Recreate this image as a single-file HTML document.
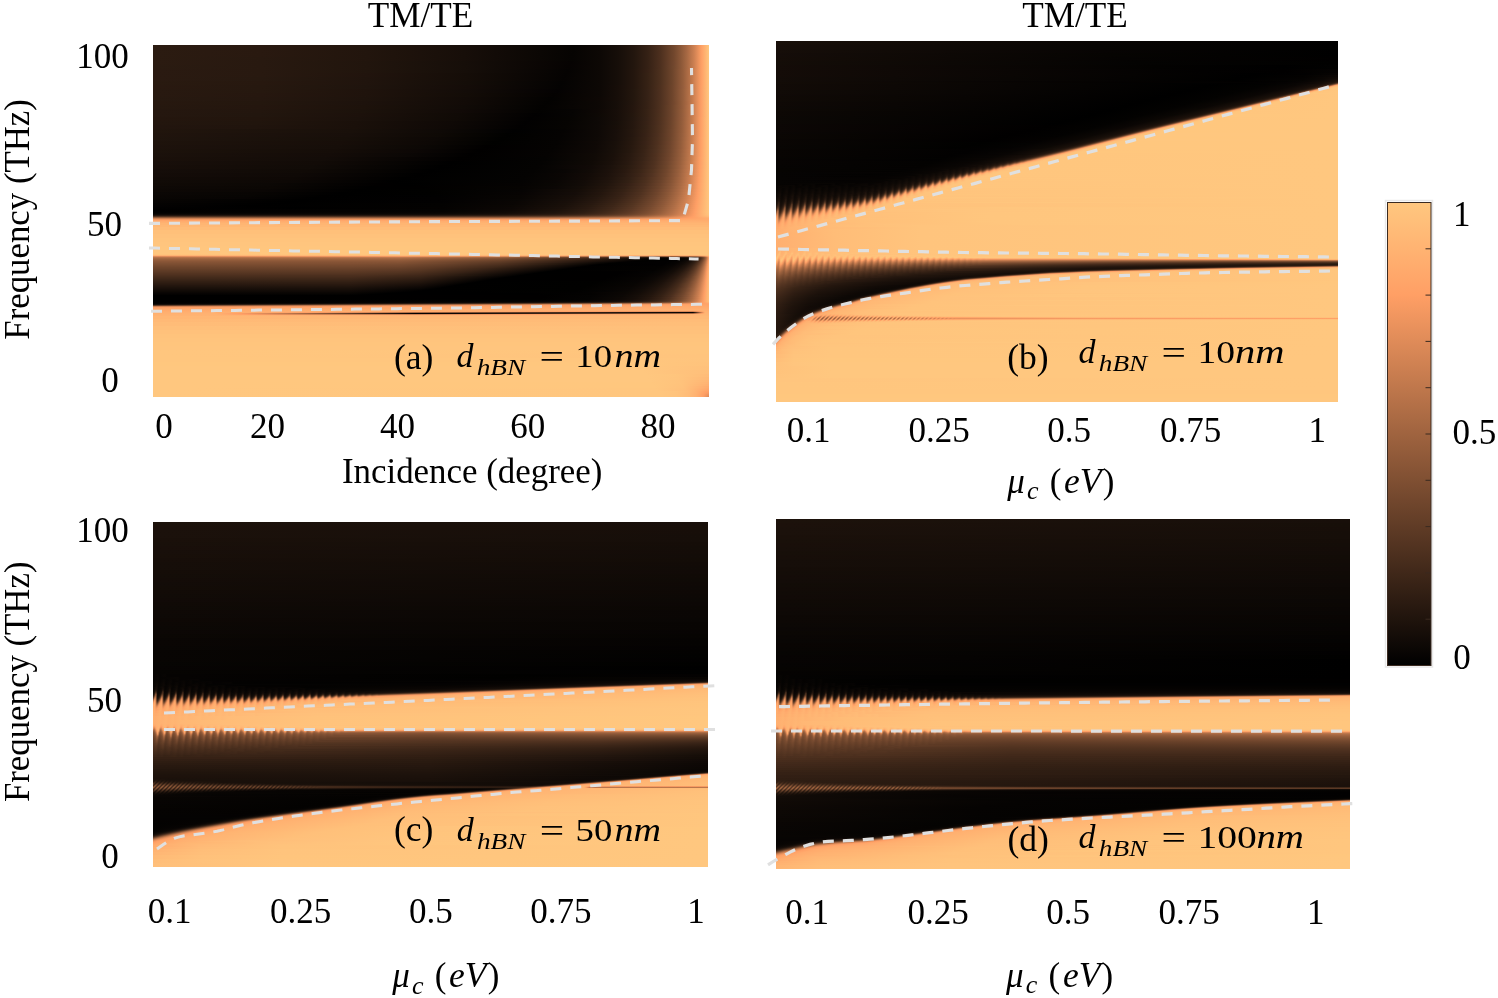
<!DOCTYPE html>
<html lang="en"><head><meta charset="utf-8"><title>TM/TE figure</title>
<style>
html,body{margin:0;padding:0;background:#fff}
body{width:1498px;height:998px;position:relative;overflow:hidden}
.p{position:absolute;overflow:hidden}
.p i{display:block;height:1px;width:100%}
.ov{position:absolute;left:0;top:0}
</style></head><body>
<div class="p" style="left:153px;top:45px;width:556px;height:352px">
<i style="height:4px;background:linear-gradient(90deg,#2b1b11 0,#291910 108px,#22150d 214px,#170e09 312px,#060402 420px,#0d0805 447px,#160e09 465px,#23160e 481px,#352115 495px,#4c2f1e 507px,#72472d 521px,#8c5838 528px,#a76843 534px,#cd8052 541px,#fc9e64 548px,#ffa267 549px,#ffc77f 556px)"></i>
<i style="height:4px;background:linear-gradient(90deg,#2b1b11 0,#291910 108px,#22150d 214px,#170e09 311px,#060402 420px,#0d0805 447px,#160e09 465px,#23160e 481px,#352115 495px,#4c2f1e 507px,#72472d 521px,#8c5838 528px,#a76843 534px,#cd8052 541px,#fc9e64 548px,#ffa267 549px,#ffc77f 556px)"></i>
<i style="height:4px;background:linear-gradient(90deg,#2b1b11 0,#291910 108px,#22150d 214px,#170e09 311px,#060402 419px,#0d0805 447px,#160e09 465px,#23160e 481px,#352115 495px,#4c2f1e 507px,#72472d 521px,#8c5838 528px,#a76943 534px,#cd8052 541px,#fc9e64 548px,#ffa267 549px,#ffc77f 556px)"></i>
<i style="height:4px;background:linear-gradient(90deg,#2b1b11 0,#281910 109px,#22150d 214px,#170e09 311px,#060402 419px,#0d0805 447px,#160e09 465px,#23160e 481px,#352115 495px,#4c2f1e 507px,#72472d 521px,#8c5838 528px,#a76943 534px,#cd8052 541px,#fc9e64 548px,#ffa267 549px,#ffc77f 556px)"></i>
<i style="height:4px;background:linear-gradient(90deg,#2b1b11 0,#281910 109px,#21150d 214px,#160e09 312px,#060302 418px,#0d0805 447px,#160e09 465px,#23160e 481px,#352115 495px,#4c2f1e 507px,#72472e 521px,#8c5838 528px,#a76943 534px,#cd8052 541px,#fc9e64 548px,#ffa267 549px,#ffc77f 556px)"></i>
<i style="height:4px;background:linear-gradient(90deg,#2a1b11 0,#281910 109px,#21150d 214px,#160e09 313px,#060302 416px,#0d0805 447px,#160e09 465px,#23160e 481px,#352115 495px,#4c2f1e 507px,#72482e 521px,#8c5838 528px,#a76943 534px,#cd8052 541px,#fc9e64 548px,#ffa267 549px,#ffc77f 556px)"></i>
<i style="height:4px;background:linear-gradient(90deg,#2a1a11 0,#281910 109px,#21150d 214px,#160e09 313px,#050302 415px,#0d0805 447px,#160e09 465px,#24160e 481px,#362115 495px,#4c301e 507px,#6c442b 519px,#955d3b 530px,#c2794d 539px,#fc9e64 548px,#ffa267 549px,#ffc77f 556px)"></i>
<i style="height:4px;background:linear-gradient(90deg,#2a1a11 0,#281910 109px,#21140d 214px,#150d08 314px,#050302 413px,#0d0805 447px,#160e09 465px,#24160e 481px,#362215 495px,#4c301e 507px,#6c442b 519px,#955d3b 530px,#c2794d 539px,#fc9e64 548px,#ffa267 549px,#ffc77f 556px)"></i>
<i style="height:4px;background:linear-gradient(90deg,#2a1a11 0,#271910 109px,#20140d 214px,#150d08 314px,#050302 411px,#0d0805 447px,#160e09 465px,#24160e 481px,#362215 495px,#4c301e 507px,#6c442b 519px,#955d3b 530px,#c2794d 539px,#fc9e64 548px,#ffa267 549px,#ffc77f 556px)"></i>
<i style="height:4px;background:linear-gradient(90deg,#291a10 0,#27180f 109px,#20140d 214px,#140d08 315px,#040302 409px,#0d0805 447px,#160e09 465px,#24160e 481px,#362215 495px,#4c301e 507px,#6c442b 519px,#955d3b 530px,#c2794d 539px,#fc9e64 548px,#ffa267 549px,#ffc77f 556px)"></i>
<i style="height:4px;background:linear-gradient(90deg,#291910 0,#26180f 109px,#1f140d 214px,#140c08 315px,#040302 407px,#0d0805 447px,#170e09 465px,#24160e 481px,#362215 495px,#4d301e 507px,#6d442b 519px,#955d3c 530px,#c2794d 539px,#fd9e64 548px,#ffc77f 556px)"></i>
<i style="height:4px;background:linear-gradient(90deg,#281910 0,#26180f 109px,#1f130c 214px,#130c08 315px,#040202 404px,#0d0805 447px,#170e09 465px,#24170e 481px,#362216 495px,#4d301f 507px,#6d442b 519px,#965e3c 530px,#c27a4d 539px,#fd9e65 548px,#ffc77f 556px)"></i>
<i style="height:4px;background:linear-gradient(90deg,#281910 0,#26170f 108px,#1f130c 213px,#130c07 314px,#040201 401px,#0d0805 447px,#170e09 465px,#24170e 481px,#362216 495px,#4d301f 507px,#6d442b 519px,#965e3c 530px,#c37a4d 539px,#fd9e65 548px,#ffc77f 556px)"></i>
<i style="height:4px;background:linear-gradient(90deg,#271910 0,#25170f 108px,#1e130c 213px,#120b07 314px,#030201 398px,#0e0805 447px,#170e09 465px,#24170e 481px,#362216 495px,#4d301f 507px,#6d442b 519px,#965e3c 530px,#c37a4e 539px,#fd9e65 548px,#ffc77f 556px)"></i>
<i style="height:4px;background:linear-gradient(90deg,#27180f 0,#24170e 108px,#1d120c 212px,#120b07 313px,#030201 394px,#0d0805 446px,#160e09 464px,#23160e 480px,#352115 494px,#4b2f1e 506px,#5f3b26 514px,#74482e 521px,#8e5938 528px,#a96943 534px,#cf8152 541px,#fd9e65 548px,#ffc77f 556px)"></i>
<i style="height:4px;background:linear-gradient(90deg,#26180f 0,#24160e 107px,#1d120b 211px,#110b07 311px,#030201 390px,#0d0805 446px,#160e09 464px,#24160e 480px,#352115 494px,#4b2f1e 506px,#6b432a 518px,#925b3a 529px,#c37a4e 539px,#fd9e65 548px,#ffc77f 556px)"></i>
<i style="height:4px;background:linear-gradient(90deg,#25170f 0,#23160e 107px,#1c120b 210px,#110a07 309px,#030201 386px,#060403 420px,#0e0805 446px,#170e09 464px,#24160e 480px,#362215 494px,#4c2f1e 506px,#6b432b 518px,#935c3a 529px,#c47a4e 539px,#fd9e65 548px,#ffc77f 556px)"></i>
<i style="height:4px;background:linear-gradient(90deg,#25170f 0,#22160e 106px,#1c110b 208px,#100a06 306px,#020101 382px,#060403 419px,#0e0905 446px,#170e09 464px,#24170e 480px,#362215 494px,#4c301e 506px,#6b432b 518px,#935c3b 529px,#c47a4e 539px,#fd9e65 548px,#ffc77f 556px)"></i>
<i style="height:4px;background:linear-gradient(90deg,#24160e 0,#22150d 105px,#1b110b 206px,#100a06 303px,#020101 377px,#060402 417px,#0e0906 446px,#170e09 464px,#24170f 480px,#362216 494px,#4d301e 506px,#6c432b 518px,#945c3b 529px,#c47b4e 539px,#fe9f65 548px,#ffc77f 556px)"></i>
<i style="height:4px;background:linear-gradient(90deg,#23160e 0,#21150d 104px,#1a100a 204px,#0f0906 300px,#020101 372px,#060402 415px,#0e0906 446px,#170f09 464px,#25170f 480px,#372216 494px,#4d301f 506px,#6c442b 518px,#945d3b 529px,#c57b4e 539px,#fe9f65 548px,#ffc77f 556px)"></i>
<i style="height:4px;background:linear-gradient(90deg,#22150e 0,#20140d 103px,#1a100a 202px,#0f0906 296px,#020101 367px,#060402 413px,#0e0906 445px,#180f09 464px,#25170f 480px,#372316 494px,#4e311f 506px,#6d442b 518px,#955d3b 529px,#c57b4f 539px,#fe9f65 548px,#ffc77f 556px)"></i>
<i style="height:4px;background:linear-gradient(90deg,#21150d 0,#19100a 199px,#0e0906 292px,#010101 361px,#050302 411px,#0e0906 445px,#180f0a 464px,#26180f 480px,#382316 494px,#4e311f 506px,#6e452c 518px,#955d3b 529px,#c67c4f 539px,#ff9f65 548px,#ffc77f 556px)"></i>
<i style="height:4px;background:linear-gradient(90deg,#20140d 0,#180f0a 196px,#0e0905 287px,#010100 354px,#050302 408px,#0e0906 445px,#180f0a 463px,#25170f 479px,#372216 493px,#4d301f 505px,#6f452c 518px,#965e3c 529px,#c67c4f 539px,#ff9f66 548px,#ffc77f 556px)"></i>
<i style="height:4px;background:linear-gradient(90deg,#1f140d 0,#170f09 193px,#0d0805 282px,#010100 348px,#050302 406px,#0e0906 444px,#180f0a 463px,#26180f 479px,#382316 493px,#4e311f 505px,#6c442b 517px,#935c3b 528px,#c2794d 538px,#ffa066 548px,#ffc77f 556px)"></i>
<i style="height:4px;background:linear-gradient(90deg,#1e130c 0,#170e09 189px,#0d0805 276px,#010100 341px,#050302 404px,#0f0906 444px,#19100a 463px,#27180f 479px,#392317 493px,#4f311f 505px,#6e442c 517px,#945d3b 528px,#c37a4d 538px,#ffa066 548px,#ffc77f 556px)"></i>
<i style="height:4px;background:linear-gradient(90deg,#1d120c 0,#160e09 185px,#0c0805 270px,#010000 333px,#050302 401px,#0f0906 443px,#19100a 462px,#27180f 478px,#382316 492px,#4e311f 504px,#6f452c 517px,#955d3b 528px,#c47a4e 538px,#ffa066 548px,#ffc77f 556px)"></i>
<i style="height:4px;background:linear-gradient(90deg,#1c120b 0,#150d08 181px,#0c0705 264px,#010000 325px,#050302 398px,#0f0906 442px,#19100a 461px,#26180f 477px,#382316 491px,#4f3220 504px,#70462d 517px,#975e3c 528px,#c57b4e 538px,#ffa166 548px,#ffc77f 556px)"></i>
<i style="height:4px;background:linear-gradient(90deg,#1b110b 0,#140c08 176px,#0b0705 255px,#010000 317px,#050302 395px,#100a06 442px,#1a100a 461px,#281910 477px,#392417 491px,#4f311f 503px,#6f452c 516px,#945d3b 527px,#c1794d 537px,#ffa167 548px,#ffc77f 556px)"></i>
<i style="height:4px;background:linear-gradient(90deg,#1a100a 0,#130c08 171px,#010000 308px,#040302 392px,#100a06 441px,#1a100a 460px,#281910 476px,#392417 490px,#503220 503px,#71462d 516px,#965e3c 527px,#c27a4d 537px,#fc9e64 547px,#ffa267 548px,#ffc77f 556px)"></i>
<i style="height:4px;background:linear-gradient(90deg,#180f0a 0,#120b07 165px,#000 298px,#040302 388px,#100a06 439px,#1a100a 458px,#281910 475px,#3a2417 489px,#503220 502px,#70462d 515px,#985f3c 527px,#c47b4e 537px,#fd9e65 547px,#ffc77f 556px)"></i>
<i style="height:4px;background:linear-gradient(90deg,#170e09 0,#110b07 159px,#000 287px,#040302 384px,#110a07 438px,#1b110b 457px,#291a10 474px,#3a2417 488px,#503220 501px,#6f462c 514px,#965e3c 526px,#c67c4f 537px,#fe9f65 547px,#ffc77f 556px)"></i>
<i style="height:4px;background:linear-gradient(90deg,#150d09 0,#100a06 153px,#000 276px,#040302 380px,#090604 412px,#110b07 437px,#1c110b 456px,#291910 472px,#3b2517 487px,#513320 500px,#72472d 514px,#99603d 526px,#c87d50 537px,#ffa066 547px,#ffc77f 556px)"></i>
<i style="height:4px;background:linear-gradient(90deg,#140c08 0,#0f0906 145px,#000 264px,#040302 375px,#0a0604 409px,#120b07 435px,#1c110b 454px,#2a1a11 471px,#3c2518 486px,#523321 499px,#72472d 513px,#985f3d 525px,#c67c4f 536px,#ffa166 547px,#ffc77f 556px)"></i>
<i style="height:3px;background:linear-gradient(90deg,#120b07 0,#0e0805 139px,#000 251px,#040302 370px,#090604 405px,#120b07 433px,#1f130c 456px,#311f14 476px,#4a2e1d 493px,#684129 508px,#845234 518px,#a66842 528px,#cd8052 537px,#fd9e65 546px,#ffa267 547px,#ffc77f 556px)"></i>
<i style="height:3px;background:linear-gradient(90deg,#110b07 0,#0d0805 133px,#000 240px,#040302 367px,#0a0604 403px,#130c08 432px,#20140d 455px,#322014 475px,#4c301e 493px,#6b432b 508px,#865435 518px,#a96943 528px,#cf8152 537px,#fe9f65 546px,#ffc77f 556px)"></i>
<i style="height:3px;background:linear-gradient(90deg,#100a06 0,#0c0805 114px,#010000 225px,#000 254px,#050302 368px,#0a0704 402px,#130c08 430px,#21150d 454px,#342015 474px,#4d301f 492px,#6c432b 507px,#895637 518px,#ab6b44 528px,#d18353 537px,#ffa066 546px,#ffc77f 556px)"></i>
<i style="height:3px;background:linear-gradient(90deg,#0e0906 0,#0b0704 119px,#000 216px,#010000 267px,#060402 369px,#0b0705 402px,#140d08 428px,#22150d 452px,#342115 472px,#4d301f 490px,#6c442b 506px,#895637 517px,#aa6b44 527px,#cf8152 536px,#ffa166 546px,#ffc77f 556px)"></i>
<i style="height:3px;background:linear-gradient(90deg,#0d0805 0,#0a0604 111px,#000 203px,#010100 276px,#060403 369px,#150d08 426px,#23160e 450px,#362215 471px,#4e311f 489px,#6e442c 505px,#8a5637 516px,#aa6a44 526px,#d28353 536px,#fd9e65 545px,#ffc77f 556px)"></i>
<i style="height:3px;background:linear-gradient(90deg,#0b0705 0,#080503 102px,#000 188px,#010100 280px,#070403 368px,#150d09 423px,#24160e 448px,#372216 469px,#503220 488px,#6f452c 504px,#8b5737 515px,#ad6c45 526px,#d48555 536px,#ff9f65 545px,#ffc77f 556px)"></i>
<i style="height:2px;background:linear-gradient(90deg,#0a0604 0,#070503 96px,#000 173px,#010101 283px,#080503 367px,#160e09 421px,#24170e 446px,#372216 467px,#503220 486px,#70462d 503px,#8b5737 514px,#ad6c45 525px,#cf8152 534px,#ffa066 545px,#ffc77f 556px)"></i>
<i style="height:2px;background:linear-gradient(90deg,#090604 0,#070403 89px,#000 161px,#020101 285px,#080503 366px,#170e09 419px,#25170f 444px,#382316 466px,#513320 485px,#71462d 502px,#8b5737 513px,#ac6c45 524px,#d18253 534px,#fd9e65 544px,#ffc77f 556px)"></i>
<i style="height:2px;background:linear-gradient(90deg,#080503 0,#000 148px,#020101 287px,#090604 365px,#180f0a 418px,#26180f 443px,#3a2417 465px,#533421 484px,#72472d 501px,#8e5939 513px,#af6d46 524px,#d38454 534px,#fe9f65 544px,#ffc77f 556px)"></i>
<i style="height:2px;background:linear-gradient(90deg,#070403 0,#000 133px,#020101 288px,#0a0604 364px,#190f0a 416px,#271810 441px,#3a2417 463px,#543421 483px,#73482e 500px,#8f5939 512px,#ae6d45 523px,#d18353 533px,#ffa066 544px,#ffc77f 556px)"></i>
<i style="height:2px;background:linear-gradient(90deg,#050302 0,#000 117px,#030201 288px,#0a0604 362px,#19100a 413px,#281910 439px,#3b2517 461px,#543521 481px,#74482e 499px,#8f5939 511px,#ae6d45 522px,#d48454 533px,#fd9e65 543px,#ffc77f 556px)"></i>
<i style="height:2px;background:linear-gradient(90deg,#040202 0,#000 98px,#030201 288px,#0b0704 360px,#1a100a 411px,#291a10 437px,#3d2618 460px,#563622 480px,#75492f 498px,#905a39 510px,#b16f47 522px,#d68655 533px,#ff9f65 543px,#ffc77f 556px)"></i>
<i style="height:2px;background:linear-gradient(90deg,#020101 0,#000 139px,#040201 289px,#0c0705 359px,#1b110b 409px,#2a1a11 435px,#3e2719 458px,#583723 479px,#774a2f 497px,#915b3a 509px,#b16f47 521px,#d28353 531px,#ffa066 543px,#ffc77f 556px)"></i>
<i style="height:2px;background:linear-gradient(90deg,#010000 0,#040302 290px,#0d0805 358px,#1d120b 407px,#2c1c12 434px,#402819 457px,#5a3824 478px,#784b30 496px,#925b3a 508px,#b26f47 520px,#d48555 531px,#fe9f65 542px,#ffc77f 556px)"></i>
<i style="background:linear-gradient(90deg,#010100 0,#050302 288px,#0e0906 355px,#1e130c 405px,#2d1c12 432px,#41291a 455px,#5a3824 476px,#7a4c30 495px,#955d3b 508px,#b47148 520px,#d78655 531px,#ffa066 542px,#ffc77f 556px)"></i>
<i style="background:linear-gradient(90deg,#020101 0,#070403 285px,#0f0a06 353px,#1f140c 403px,#2e1d12 430px,#432a1a 454px,#5c3924 475px,#7a4c31 494px,#955d3b 507px,#b47048 519px,#d58555 530px,#ffa066 542px,#ffc77f 556px)"></i>
<i style="background:linear-gradient(90deg,#060402 0,#0a0704 283px,#130c08 351px,#23160e 402px,#321f14 429px,#462c1c 453px,#603c26 475px,#7e4f32 494px,#995f3d 507px,#b77249 519px,#d78656 530px,#fd9e65 541px,#ffc67e 556px)"></i>
<i style="background:linear-gradient(90deg,#0f0906 0,#140c08 281px,#1c120b 349px,#2c1b11 400px,#3b2517 428px,#4e311f 452px,#664029 474px,#835234 493px,#9c623e 506px,#b87349 518px,#da8857 530px,#ff9f65 541px,#ffc57e 556px)"></i>
<i style="background:linear-gradient(90deg,#25170f 0,#2a1a11 278px,#311f14 347px,#3f2819 398px,#4d301f 426px,#5e3b25 450px,#74482e 472px,#8f5939 492px,#bf774c 517px,#da8857 528px,#ffa066 541px,#ffc27c 556px)"></i>
<i style="background:linear-gradient(90deg,#513320 0,#553522 275px,#5b3924 344px,#664029 396px,#71472d 424px,#7f5033 449px,#915b3a 471px,#a66842 491px,#ce8152 517px,#ffa066 540px,#ffbc78 556px)"></i>
<i style="background:linear-gradient(90deg,#905a39 0,#925b3a 272px,#965e3c 341px,#9e633f 393px,#ae6d45 447px,#c87d4f 490px,#e08c59 515px,#ff9f65 538px,#ffb372 556px)"></i>
<i style="background:linear-gradient(90deg,#cb7f51 0,#cc8051 264px,#d28354 384px,#da8857 442px,#e7915c 487px,#ffa066 531px,#ffad6e 556px)"></i>
<i style="background:linear-gradient(90deg,#f39861 0,#f79b62 408px,#ffa066 494px,#ffac6d 556px)"></i>
<i style="background:linear-gradient(90deg,#ffa569 0,#ffa66a 407px,#ffad6e 556px)"></i>
<i style="background:linear-gradient(90deg,#ffac6e 0,#ffaf70 556px)"></i>
<i style="background:linear-gradient(90deg,#ffb070 0,#ffb271 556px)"></i>
<i style="height:2px;background:#ffb573"></i>
<i style="height:2px;background:#ffb875"></i>
<i style="height:3px;background:#ffbc78"></i>
<i style="height:4px;background:#ffc07a"></i>
<i style="height:4px;background:#ffc27c"></i>
<i style="height:4px;background:#ffc47d"></i>
<i style="height:4px;background:#ffc57e"></i>
<i style="height:4px;background:#ffc67e"></i>
<i style="height:4px;background:#ffc67e"></i>
<i style="background:linear-gradient(90deg,#ffc37c 0,#ffc67e 556px)"></i>
<i style="background:linear-gradient(90deg,#ffb372 0,#fb7 247px,#ffb171 507px,#ffb473 545px,#ffb976 551px,#ffc37c 556px)"></i>
<i style="background:linear-gradient(90deg,#de8a58 0,#f29760 247px,#df8c59 347px,#b97349 447px,#945d3b 507px,#9b613e 533px,#a66842 543px,#b87349 548px,#ce8152 551px,#e6905c 553px,#f69a62 554px,#ffa66a 555px,#ffb573 556px)"></i>
<i style="background:linear-gradient(90deg,#b67249 0,#be774c 247px,#9c623e 347px,#573623 447px,#1b110b 507px,#1d120b 519px,#24170e 536px,#2e1d12 541px,#402819 545px,#583723 548px,#70462d 550px,#805033 551px,#ab6b44 553px,#c77c4f 554px,#e8915c 555px,#ffaa6c 556px)"></i>
<i style="background:linear-gradient(90deg,#a46741 0,#a86943 247px,#835234 347px,#3c2518 443px,#0a0604 496px,#030201 507px,#040302 521px,#080503 531px,#0f0a06 537px,#1b110b 541px,#301e13 545px,#4c2f1e 548px,#684129 550px,#7a4c30 551px,#a76943 553px,#c47b4e 554px,#e7905c 555px,#ffa96c 556px)"></i>
<i style="background:linear-gradient(90deg,#99603d 0,#9b613e 247px,#75492f 347px,#3d2618 424px,#090604 486px,#010100 503px,#020101 520px,#050302 529px,#0c0805 535px,#19100a 540px,#2e1c12 544px,#472d1c 547px,#70462c 550px,#975e3c 552px,#af6d46 553px,#cb7f51 554px,#ec945e 555px,#ffab6d 556px)"></i>
<i style="background:linear-gradient(90deg,#915b3a 0,#915b3a 247px,#6b432a 347px,#050302 483px,#010100 494px,#010101 518px,#050302 527px,#0d0805 534px,#1a100a 539px,#2e1d12 543px,#3c2618 545px,#503220 547px,#794b30 550px,#9f643f 552px,#b77249 553px,#f19760 555px,#ffad6e 556px)"></i>
<i style="background:linear-gradient(90deg,#8a5637 0,#8a5637 247px,#623d27 347px,#040201 475px,#010100 482px,#020101 516px,#050302 525px,#0d0805 532px,#1c110b 538px,#2e1d12 542px,#4d301f 546px,#72472d 549px,#935c3b 551px,#be774c 553px,#f69a62 555px,#ffaf70 556px)"></i>
<i style="background:linear-gradient(90deg,#855335 0,#845234 247px,#5a3924 347px,#2f1d13 408px,#0e0906 447px,#020101 466px,#020101 514px,#070403 525px,#100a06 532px,#1d120b 537px,#342115 542px,#553522 546px,#7a4c30 549px,#af6d45 552px,#de8b58 554px,#fb9d64 555px,#ffb170 556px)"></i>
<i style="background:linear-gradient(90deg,#7f5033 0,#815033 197px,#7e4f32 247px,#6e452c 290px,#533421 347px,#010100 456px,#020101 512px,#060402 522px,#0f0906 530px,#1e130c 536px,#342115 541px,#523321 545px,#73482e 548px,#915a3a 550px,#b57148 552px,#e38e5a 554px,#fe9f65 555px,#ffb271 556px)"></i>
<i style="background:linear-gradient(90deg,#7b4d31 0,#7c4d31 197px,#784b30 247px,#68412a 290px,#4d301f 347px,#24170e 403px,#000 446px,#020101 510px,#070403 521px,#100a06 529px,#1f130c 535px,#342115 540px,#503220 544px,#633e27 546px,#7a4d31 548px,#975f3c 550px,#bb754b 552px,#ffa167 555px,#ffb372 556px)"></i>
<i style="background:linear-gradient(90deg,#764a2f 0,#774a2f 197px,#73482e 247px,#633e27 290px,#462c1c 347px,#000 439px,#020101 508px,#070403 519px,#100a06 527px,#20140d 534px,#342115 539px,#4e311f 543px,#75492e 547px,#8f5939 549px,#ae6d45 551px,#d58555 553px,#ffa368 555px,#ffb473 556px)"></i>
<i style="background:linear-gradient(90deg,#71472d 0,#73482e 197px,#6f452c 247px,#5f3b26 288px,#41291a 345px,#010000 431px,#030201 507px,#080503 518px,#110a07 526px,#21140d 533px,#342115 538px,#543521 543px,#7b4d31 547px,#955d3b 549px,#b47148 551px,#f0965f 554px,#ffa569 555px,#ffb573 556px)"></i>
<i style="background:linear-gradient(90deg,#6d442b 0,#6e452c 197px,#6a422a 247px,#5d3a25 281px,#402819 338px,#000 424px,#030201 505px,#080503 516px,#120b07 525px,#21150d 532px,#392417 538px,#5a3824 543px,#764a2f 546px,#8d5838 548px,#b9744a 551px,#f39861 554px,#ffa66a 555px,#ffb674 556px)"></i>
<i style="background:linear-gradient(90deg,#69422a 0,#6a422a 197px,#653f28 247px,#5c3924 274px,#3d2618 332px,#000 417px,#030201 503px,#090503 515px,#130c07 524px,#22150e 531px,#392417 537px,#4a2e1d 540px,#5f3c26 543px,#7c4d31 546px,#935c3a 548px,#be774c 551px,#f69a62 554px,#ffa86b 555px,#ffb774 556px)"></i>
<i style="background:linear-gradient(90deg,#653f28 0,#663f28 197px,#603c26 247px,#5a3824 267px,#3c2618 325px,#000 410px,#030201 502px,#090604 514px,#140c08 523px,#23160e 530px,#392317 536px,#492d1d 539px,#5d3a25 542px,#774a2f 545px,#8c5838 547px,#a56742 549px,#c37a4d 551px,#f99c63 554px,#ffa96c 555px,#ffb775 556px)"></i>
<i style="background:linear-gradient(90deg,#603c26 0,#613d27 197px,#5c3925 247px,#563622 267px,#3a2417 319px,#000 403px,#040201 500px,#090604 512px,#130c07 521px,#23160e 529px,#382316 535px,#5b3924 541px,#73482e 544px,#915b3a 547px,#c77c4f 551px,#fc9d64 554px,#ffb875 556px)"></i>
<i style="background:linear-gradient(90deg,#5c3a25 0,#5d3a25 197px,#573623 247px,#513320 267px,#382316 314px,#000 395px,#010000 471px,#040302 499px,#0a0604 511px,#150d08 521px,#27180f 529px,#3d2618 535px,#5f3c26 541px,#784b30 544px,#965e3c 547px,#cb7f51 551px,#fe9f65 554px,#ffb976 556px)"></i>
<i style="background:linear-gradient(90deg,#583723 0,#593823 197px,#533421 247px,#4d301e 267px,#372216 308px,#000 388px,#010000 468px,#040302 497px,#0a0604 509px,#140d08 519px,#24170e 527px,#3c2618 534px,#5d3a25 540px,#74482e 543px,#905a39 546px,#c0784c 550px,#ffa066 554px,#ffb976 556px)"></i>
<i style="background:linear-gradient(90deg,#543421 0,#553522 197px,#4e311f 247px,#482d1d 267px,#342115 303px,#000 381px,#010000 466px,#050302 496px,#0b0704 508px,#150d08 518px,#25170f 526px,#3c2518 533px,#4f3120 537px,#623d27 540px,#784b30 543px,#945d3b 546px,#c47a4e 550px,#ffa267 554px,#ffba76 556px)"></i>
<i style="background:linear-gradient(90deg,#503220 0,#513220 197px,#4b2f1e 239px,#442a1b 267px,#392417 287px,#000 374px,#010000 463px,#050302 494px,#0b0704 507px,#160e09 517px,#25170f 525px,#3c2518 532px,#4e311f 536px,#664029 540px,#7d4e32 543px,#985f3d 546px,#c77d4f 550px,#f49861 553px,#ffa368 554px,#ffba77 556px)"></i>
<i style="background:linear-gradient(90deg,#4c2f1e 0,#4b2f1e 209px,#3f2719 267px,#26180f 311px,#000 367px,#010000 460px,#050302 493px,#0c0705 506px,#170e09 516px,#281910 525px,#3f2819 532px,#523321 536px,#6a422a 540px,#815133 543px,#9c623e 546px,#cb7f51 550px,#f69a62 553px,#ffa468 554px,#fb7 556px)"></i>
<i style="background:linear-gradient(90deg,#472d1c 0,#492d1d 197px,#3b2517 267px,#000 360px,#010000 457px,#050302 491px,#0c0705 504px,#170e09 515px,#291910 524px,#3f2719 531px,#513220 535px,#684129 539px,#975e3c 545px,#c1794d 549px,#f89b63 553px,#ffa569 554px,#fb7 556px)"></i>
<i style="background:linear-gradient(90deg,#432a1b 0,#442b1b 197px,#362216 267px,#000 352px,#010000 454px,#060402 490px,#0c0805 503px,#180f09 514px,#291a10 523px,#3e2719 530px,#503220 534px,#653f28 538px,#815133 542px,#9a613d 545px,#c57b4e 549px,#fa9c64 553px,#ffa66a 554px,#ffbc77 556px)"></i>
<i style="background:linear-gradient(90deg,#3f2819 0,#40281a 197px,#321f14 267px,#000 345px,#010000 452px,#060402 489px,#0d0805 502px,#180f0a 513px,#291a10 522px,#3e2719 529px,#633e27 537px,#7d4e32 541px,#955d3b 544px,#c87d4f 549px,#fc9e64 553px,#ffbc78 556px)"></i>
<i style="background:linear-gradient(90deg,#3b2518 0,#3c2618 197px,#2e1c12 267px,#000 339px,#010000 449px,#060402 487px,#0d0805 501px,#19100a 512px,#2a1a11 521px,#41291a 529px,#674029 537px,#815133 541px,#995f3d 544px,#cb7f51 549px,#fe9f65 553px,#ffbc78 556px)"></i>
<i style="background:linear-gradient(90deg,#372316 0,#382316 197px,#291a10 267px,#000 333px,#010000 447px,#070403 486px,#0e0906 500px,#1a100a 511px,#2a1a11 520px,#41291a 528px,#553522 533px,#6a422a 537px,#845335 541px,#9c623e 544px,#cd8052 549px,#ffa066 553px,#ffbd78 556px)"></i>
<i style="background:linear-gradient(90deg,#332014 0,#342115 197px,#25170f 267px,#000 327px,#010100 445px,#070403 485px,#0f0906 499px,#1a100a 510px,#2a1a11 519px,#40281a 527px,#543521 532px,#684129 536px,#975e3c 543px,#c57b4f 548px,#ffa166 553px,#ffbd78 556px)"></i>
<i style="background:linear-gradient(90deg,#2f1e13 0,#301e13 197px,#21150d 267px,#000 321px,#010100 443px,#070503 484px,#0f0906 498px,#1b110b 509px,#2d1c12 519px,#432a1b 527px,#573723 532px,#6b432b 536px,#9a603d 543px,#be774c 547px,#ffa267 553px,#ffbd78 556px)"></i>
<i style="background:linear-gradient(90deg,#2c1b11 0,#2d1c12 197px,#1d120b 267px,#000 315px,#010100 440px,#080503 483px,#100a06 497px,#1b110b 508px,#2d1c12 518px,#432a1b 526px,#69422a 535px,#815033 539px,#9e623f 543px,#cb7f51 548px,#f89b63 552px,#ffa368 553px,#ffbd79 556px)"></i>
<i style="background:linear-gradient(90deg,#281910 0,#291910 197px,#190f0a 267px,#000 308px,#010100 437px,#080503 481px,#0f0a06 495px,#1c110b 507px,#2d1c12 517px,#432a1a 525px,#674129 534px,#7e4f32 538px,#99603d 542px,#c37a4e 547px,#f99c63 552px,#ffa468 553px,#ffbe79 556px)"></i>
<i style="background:linear-gradient(90deg,#24160e 0,#25170f 197px,#150d08 267px,#000 302px,#010100 435px,#080503 480px,#100a06 494px,#1c120b 506px,#2d1c12 516px,#452b1c 525px,#6a432a 534px,#815033 538px,#9c613e 542px,#c67c4f 547px,#fb9d64 552px,#ffa569 553px,#ffbe79 556px)"></i>
<i style="background:linear-gradient(90deg,#20140d 0,#21150d 197px,#110a07 267px,#000 296px,#010100 433px,#090503 479px,#100a07 493px,#1c120b 505px,#2d1c12 515px,#452b1b 524px,#573623 529px,#6d442c 534px,#845234 538px,#9f633f 542px,#c87d50 547px,#fd9e65 552px,#ffbe79 556px)"></i>
<i style="background:linear-gradient(90deg,#1c120b 0,#1d120c 197px,#0d0805 267px,#000 290px,#010100 431px,#090604 478px,#110b07 492px,#1d120c 504px,#2d1c12 514px,#442b1b 523px,#563622 528px,#6b432b 533px,#875436 538px,#a16540 542px,#cb7f51 547px,#fe9f65 552px,#ffbe79 556px)"></i>
<i style="background:linear-gradient(90deg,#190f0a 0,#19100a 197px,#090604 267px,#000 284px,#010100 428px,#090604 477px,#120b07 492px,#1f130c 504px,#301e13 514px,#472c1c 523px,#6e452c 533px,#9d623f 541px,#cd8052 547px,#ffa066 552px,#ffbf79 556px)"></i>
<i style="background:linear-gradient(90deg,#150d08 0,#160e09 197px,#050302 267px,#000 278px,#010100 426px,#0a0604 476px,#130c07 491px,#1f130c 503px,#301e13 513px,#462c1c 522px,#6c442b 532px,#865435 537px,#a06440 541px,#c67c4f 546px,#ffa166 552px,#ffbf79 556px)"></i>
<i style="background:linear-gradient(90deg,#110b07 0,#120b07 197px,#000 271px,#010100 424px,#040302 454px,#0a0604 475px,#130c08 490px,#1f140d 502px,#321f14 513px,#492e1d 522px,#6f452c 532px,#895637 537px,#a26541 541px,#c87d50 546px,#ffa167 552px,#ffbf7a 556px)"></i>
<i style="background:linear-gradient(90deg,#0e0905 0,#0f0906 197px,#000 262px,#010100 421px,#040302 452px,#0a0704 474px,#130c08 489px,#20140d 501px,#321f14 512px,#482d1d 521px,#5d3a25 527px,#72472d 532px,#8c5738 537px,#a56742 541px,#d38454 547px,#f99c63 551px,#ffa267 552px,#ffbf7a 556px)"></i>
<i style="background:linear-gradient(90deg,#0a0604 0,#0b0704 197px,#000 248px,#000 328px,#020101 429px,#0b0704 473px,#140c08 488px,#20140d 500px,#321f14 511px,#482d1d 520px,#5b3924 526px,#70462c 531px,#a16440 540px,#cd8051 546px,#fa9c64 551px,#ffa368 552px,#ffbf7a 556px)"></i>
<i style="background:linear-gradient(90deg,#070403 0,#080503 197px,#000 234px,#000 373px,#030201 437px,#0b0704 472px,#140d08 487px,#22150d 500px,#342115 511px,#4a2e1e 520px,#72472e 531px,#a36641 540px,#cf8152 546px,#fc9d64 551px,#ffa468 552px,#ffc07a 556px)"></i>
<i style="background:linear-gradient(90deg,#040201 0,#040302 197px,#000 219px,#000 386px,#030201 439px,#0c0705 471px,#150d08 486px,#22150e 499px,#342115 510px,#4a2e1d 519px,#70462d 530px,#885536 535px,#a56742 540px,#d08253 546px,#fd9e65 551px,#ffc07a 556px)"></i>
<i style="height:2px;background:linear-gradient(90deg,#000 0,#010000 392px,#040302 440px,#0c0805 470px,#160e09 485px,#22150d 497px,#332014 508px,#4a2e1e 518px,#70462d 529px,#875436 534px,#a36641 539px,#cb7f51 545px,#ff9f65 551px,#ffc07a 556px)"></i>
<i style="height:2px;background:linear-gradient(90deg,#000 0,#010000 388px,#040302 436px,#0d0805 467px,#160e09 483px,#24160e 496px,#352115 507px,#4c2f1e 517px,#75492e 529px,#8c5738 534px,#a76842 539px,#cf8152 545px,#ffa166 551px,#ffc07a 556px)"></i>
<i style="background:linear-gradient(90deg,#000 0,#010100 384px,#040302 433px,#0d0805 465px,#170e09 481px,#24160e 494px,#362216 506px,#4d301e 516px,#74492e 528px,#a46741 538px,#cb7f51 544px,#ffa267 551px,#ffc07a 556px)"></i>
<i style="background:linear-gradient(90deg,#000 0,#010101 379px,#050302 431px,#0f0906 464px,#190f0a 480px,#26170f 493px,#382316 505px,#4e301f 515px,#74482e 527px,#8e5838 533px,#a76943 538px,#cd8052 544px,#fb9d64 550px,#ffa267 551px,#ffc07a 556px)"></i>
<i style="background:linear-gradient(90deg,#000 0,#040201 354px,#090604 418px,#140c08 458px,#1e130c 475px,#2b1b11 489px,#3d2618 502px,#533421 513px,#7a4c30 526px,#a96a43 537px,#d28353 544px,#fc9e64 550px,#ffa368 551px,#ffbe79 556px)"></i>
<i style="background:linear-gradient(90deg,#010000 0,#030201 173px,#0a0604 286px,#170e09 372px,#2a1a11 433px,#362216 455px,#452b1b 474px,#563622 490px,#6b432b 504px,#8a5637 519px,#b37047 533px,#d78655 542px,#fe9f65 550px,#ffb473 556px)"></i>
<i style="background:linear-gradient(90deg,#040202 0,#0a0604 99px,#140d08 177px,#25170f 244px,#3c2618 306px,#653f28 382px,#9b613e 461px,#b77249 493px,#d18353 518px,#e6905c 534px,#ff9f66 549px,#ffa86b 556px)"></i>
<i style="background:linear-gradient(90deg,#160e09 0,#281910 70px,#432a1b 135px,#613d27 192px,#af6d46 318px,#d18353 387px,#e48f5b 440px,#ff9f65 531px,#ffa569 556px)"></i>
<i style="background:linear-gradient(90deg,#5e3a25 0,#ba744a 153px,#d28354 205px,#e48f5b 258px,#f49961 326px,#ff9f65 406px,#ffa76a 556px)"></i>
<i style="background:linear-gradient(90deg,#ca7e50 0,#dd8a58 49px,#ec935e 100px,#ff9f65 222px,#ffa96b 556px)"></i>
<i style="background:linear-gradient(90deg,#fb9d64 0,#ff9f65 37px,#ffa66a 210px,#ffab6d 556px)"></i>
<i style="background:linear-gradient(90deg,#ffa569 0,#ffad6e 556px)"></i>
<i style="height:2px;background:linear-gradient(90deg,#ffaa6c 0,#ffaf70 556px)"></i>
<i style="background:linear-gradient(90deg,#ffad6e 0,#ffad6e 248px,#ffa86b 348px,#ff9f65 427px,#ed945e 485px,#d58555 540px,#fd9e65 547px,#ffb271 552px,#ffb271 556px)"></i>
<i style="background:linear-gradient(90deg,#ffaf6f 0,#ffaf70 62px,#ffac6d 97px,#ff9f65 160px,#e48e5b 205px,#cb7f51 234px,#ad6c45 262px,#3b2517 424px,#170e09 486px,#040302 540px,#ef965f 550px,#ffa469 551px,#ffb372 552px,#ffb372 556px)"></i>
<i style="background:linear-gradient(90deg,#ffb070 0,#ffb171 62px,#ff9f65 86px,#c67c4f 129px,#392417 222px,#020101 262px,#0f0906 312px,#291a10 365px,#4c2f1e 417px,#a66842 540px,#fa9c63 548px,#ffa267 549px,#ffb573 552px,#ffb573 556px)"></i>
<i style="background:linear-gradient(90deg,#ffb271 0,#ffb272 62px,#ff9f66 94px,#e9915d 124px,#d98756 156px,#d08253 189px,#cd8051 224px,#d08253 262px,#ea935d 315px,#ff9f65 370px,#ffaa6c 437px,#ffb674 556px)"></i>
<i style="background:linear-gradient(90deg,#ffb372 0,#ffb271 150px,#ffb775 556px)"></i>
<i style="height:3px;background:linear-gradient(90deg,#ffb674 0,#ffb976 556px)"></i>
<i style="height:3px;background:linear-gradient(90deg,#ffb976 0,#ffbc78 556px)"></i>
<i style="height:4px;background:linear-gradient(90deg,#ffbc78 0,#ffbe79 556px)"></i>
<i style="height:4px;background:linear-gradient(90deg,#ffbf7a 0,#ffc07b 556px)"></i>
<i style="height:4px;background:#ffc17b"></i>
<i style="height:4px;background:#ffc37c"></i>
<i style="height:4px;background:#ffc47d"></i>
<i style="height:4px;background:#ffc57d"></i>
<i style="height:4px;background:#ffc57e"></i>
<i style="height:4px;background:linear-gradient(90deg,#ffc67e 0,#ffc57d 556px)"></i>
<i style="height:4px;background:linear-gradient(90deg,#ffc67e 0,#ffc47d 556px)"></i>
<i style="height:4px;background:linear-gradient(90deg,#ffc67e 0,#ffc67e 483px,#ffc47d 556px)"></i>
<i style="height:4px;background:linear-gradient(90deg,#ffc77e 0,#ffc77e 486px,#ffc37c 556px)"></i>
<i style="height:4px;background:linear-gradient(90deg,#ffc77f 0,#ffc77f 488px,#ffc17b 556px)"></i>
<i style="height:4px;background:linear-gradient(90deg,#ffc77f 0,#ffc77f 490px,#ffbf7a 556px)"></i>
<i style="height:3px;background:linear-gradient(90deg,#ffc77f 0,#ffc77f 493px,#ffc57d 523px,#ffbc78 556px)"></i>
<i style="height:3px;background:linear-gradient(90deg,#ffc77f 0,#ffc77f 495px,#ffc47d 525px,#ffb976 556px)"></i>
<i style="height:2px;background:linear-gradient(90deg,#ffc77f 0,#ffc77f 497px,#ffc37c 526px,#ffb674 556px)"></i>
<i style="height:2px;background:linear-gradient(90deg,#ffc77f 0,#ffc77e 498px,#ffc37c 527px,#ffb372 556px)"></i>
<i style="height:2px;background:linear-gradient(90deg,#ffc77f 0,#ffc77e 500px,#ffc27b 529px,#ffb070 556px)"></i>
<i style="height:2px;background:linear-gradient(90deg,#ffc77f 0,#ffc77e 501px,#ffc17b 530px,#ffab6d 556px)"></i>
<i style="background:linear-gradient(90deg,#ffc77f 0,#ffc67e 502px,#ffc07a 531px,#ffa86b 556px)"></i>
<i style="background:linear-gradient(90deg,#ffc77f 0,#ffc67e 503px,#ffbf7a 532px,#ffa569 556px)"></i>
<i style="background:linear-gradient(90deg,#ffc77f 0,#ffc67e 504px,#ffbe79 533px,#ffb774 541px,#ffa267 556px)"></i>
<i style="background:linear-gradient(90deg,#ffc77f 0,#ffc67e 505px,#ffc47d 522px,#ffbe79 534px,#ffb573 542px,#ffa167 553px,#fe9f65 556px)"></i>
<i style="background:linear-gradient(90deg,#ffc77f 0,#ffc67e 506px,#ffc37c 523px,#ffbc78 535px,#ffb372 543px,#ffa166 552px,#f99b63 556px)"></i>
<i style="background:linear-gradient(90deg,#ffc77f 0,#ffc67e 507px,#ffc37c 524px,#fb7 536px,#ffb170 544px,#ffa166 551px,#f29860 556px)"></i>
<i style="background:linear-gradient(90deg,#ffc77f 0,#ffc67e 508px,#ffc27c 525px,#ffba77 537px,#ffb070 544px,#ff9f65 551px,#f19660 554px,#ec935e 556px)"></i>
<i style="background:linear-gradient(90deg,#ffc77f 0,#ffc67e 508px,#ffc37c 523px,#ffbd78 534px,#ffb271 543px,#ffa167 550px,#e58f5b 556px)"></i>
<i style="background:linear-gradient(90deg,#ffc77f 0,#ffc67e 509px,#ffc37c 524px,#ffbc78 535px,#ffb271 543px,#ffa166 550px,#fc9d64 551px,#dd8a58 556px)"></i>
</div>
<div class="p" style="left:776px;top:41px;width:562px;height:361px">
<i style="height:4px;background:linear-gradient(90deg,#180f09 0,#080503 318px,#010000 562px)"></i>
<i style="height:4px;background:linear-gradient(90deg,#170e09 0,#070503 322px,#010000 562px)"></i>
<i style="height:4px;background:linear-gradient(90deg,#160e09 0,#070403 326px,#000 562px)"></i>
<i style="height:4px;background:linear-gradient(90deg,#150d09 0,#060402 333px,#000 562px)"></i>
<i style="height:4px;background:linear-gradient(90deg,#150d08 0,#050302 347px,#010000 562px)"></i>
<i style="height:4px;background:linear-gradient(90deg,#140d08 0,#040302 363px,#010100 562px)"></i>
<i style="height:4px;background:linear-gradient(90deg,#140c08 0,#030201 381px,#000 507px,#020201 562px)"></i>
<i style="height:4px;background:linear-gradient(90deg,#140c08 0,#020101 424px,#010000 509px,#050302 562px)"></i>
<i style="height:2px;background:linear-gradient(90deg,#140c08 0,#000 478px,#020101 531px,#080503 562px)"></i>
<i style="height:2px;background:linear-gradient(90deg,#140c08 0,#000 470px,#030201 529px,#0c0705 562px)"></i>
<i style="background:linear-gradient(90deg,#130c08 0,#000 466px,#040201 529px,#0f0a06 562px)"></i>
<i style="background:linear-gradient(90deg,#130c08 0,#000 462px,#040302 528px,#0a0604 547px,#120b07 562px)"></i>
<i style="background:linear-gradient(90deg,#130c08 0,#000 458px,#050302 527px,#0b0705 547px,#160e09 562px)"></i>
<i style="background:linear-gradient(90deg,#130c08 0,#000 459px,#060402 528px,#0e0906 548px,#1b110b 562px)"></i>
<i style="background:linear-gradient(90deg,#130c08 0,#070403 242px,#010000 473px,#030201 510px,#090604 534px,#150d08 553px,#1b110b 558px,#24160e 562px)"></i>
<i style="background:linear-gradient(90deg,#130c07 0,#040201 334px,#020101 490px,#070403 523px,#130c07 546px,#21150d 557px,#2d1c12 560px,#3c2518 562px)"></i>
<i style="background:linear-gradient(90deg,#130c07 0,#010101 400px,#010000 465px,#050302 509px,#0e0906 536px,#160e09 546px,#1f130c 552px,#281910 555px,#3d2618 558px,#573723 560px,#815133 562px)"></i>
<i style="background:linear-gradient(90deg,#120b07 0,#000 437px,#020201 490px,#090604 521px,#190f0a 544px,#22150d 549px,#2e1d12 552px,#3e2719 554px,#593823 556px,#835234 558px,#eb935e 562px)"></i>
<i style="background:linear-gradient(90deg,#120b07 0,#000 433px,#030201 488px,#0a0604 519px,#19100a 540px,#22150e 545px,#2f1d13 548px,#3f2719 550px,#5b3924 552px,#865335 554px,#ed945e 558px,#ffa167 559px,#ffab6d 560px,#ffb976 562px)"></i>
<i style="background:linear-gradient(90deg,#120b07 0,#000 429px,#030201 484px,#0a0604 515px,#180f09 535px,#20140d 540px,#2a1a11 543px,#40281a 546px,#5d3a25 548px,#885536 550px,#ef955f 554px,#ffa267 555px,#ffac6e 556px,#ffba76 558px,#ffc47d 562px)"></i>
<i style="background:linear-gradient(90deg,#120b07 0,#000 425px,#030201 480px,#0a0604 511px,#180f0a 531px,#20140d 536px,#2a1b11 539px,#41291a 542px,#5e3b26 544px,#8a5637 546px,#da8857 549px,#f19760 550px,#ffa368 551px,#ffb473 553px,#ffbe79 555px,#ffc47d 558px,#ffc77e 562px)"></i>
<i style="background:linear-gradient(90deg,#120b07 0,#000 421px,#030201 476px,#0a0604 507px,#180f0a 527px,#20140d 532px,#2b1b11 535px,#382316 537px,#422a1a 538px,#603c26 540px,#8d5838 542px,#dc8958 545px,#f39861 546px,#ffa468 547px,#ffb573 549px,#ffc17b 552px,#ffc67e 556px,#ffc77f 562px)"></i>
<i style="background:linear-gradient(90deg,#120b07 0,#000 417px,#030201 472px,#0a0604 503px,#170e09 522px,#1e130c 527px,#27180f 530px,#392417 533px,#513320 535px,#774a2f 537px,#de8b58 541px,#f59961 542px,#ffa569 543px,#fb7 546px,#ffc37c 549px,#ffc77f 562px)"></i>
<i style="background:linear-gradient(90deg,#110b07 0,#000 413px,#030201 468px,#0a0604 499px,#180f0a 519px,#21150d 524px,#2c1c12 527px,#3a2417 529px,#452b1b 530px,#643f28 532px,#794c30 533px,#c77d4f 536px,#f79a62 538px,#ffa66a 539px,#fb7 542px,#ffc37c 545px,#ffc77f 562px)"></i>
<i style="background:linear-gradient(90deg,#110b07 0,#000 409px,#030201 464px,#0a0604 495px,#180f0a 515px,#21150d 520px,#2d1c12 523px,#3b2518 525px,#543522 527px,#7c4d31 529px,#ca7e50 532px,#f99b63 534px,#ffa76a 535px,#ffbc77 538px,#ffc57d 542px,#ffc77f 562px)"></i>
<i style="background:linear-gradient(90deg,#110b07 0,#000 404px,#030201 459px,#0a0604 490px,#190f0a 511px,#21150d 516px,#2d1c12 519px,#3c2618 521px,#563622 523px,#7e4f32 525px,#cc8051 528px,#fa9d64 530px,#ffa86b 531px,#ffbc78 534px,#ffc57d 538px,#ffc77f 562px)"></i>
<i style="background:linear-gradient(90deg,#110b07 0,#000 400px,#030201 455px,#0a0604 486px,#190f0a 507px,#22150d 512px,#2e1d12 515px,#3d2618 517px,#492d1d 518px,#6a422a 520px,#805033 521px,#cf8152 524px,#fc9e64 526px,#ffa96b 527px,#ffb875 529px,#ffc47d 533px,#ffc77f 539px,#ffc77f 562px)"></i>
<i style="background:linear-gradient(90deg,#110a07 0,#000 396px,#030201 451px,#0a0604 482px,#19100a 503px,#22150e 508px,#2e1d12 511px,#3e2719 513px,#4a2e1d 514px,#6c442b 516px,#835234 517px,#d18353 520px,#fe9f65 522px,#ffa96c 523px,#ffb875 525px,#ffc07a 527px,#ffc57d 530px,#ffc77f 562px)"></i>
<i style="background:linear-gradient(90deg,#100a07 0,#000 392px,#030201 447px,#0a0604 478px,#19100a 499px,#22150e 504px,#2f1d13 507px,#3f2819 509px,#5b3924 511px,#855335 513px,#d38454 516px,#ffa066 518px,#ffaa6c 519px,#ffb976 521px,#ffc07a 523px,#ffc57d 526px,#ffc77f 562px)"></i>
<i style="background:linear-gradient(90deg,#100a06 0,#000 388px,#030201 443px,#0a0604 474px,#19100a 495px,#23160e 500px,#301e13 503px,#40281a 505px,#5d3a25 507px,#875536 509px,#ed945e 513px,#ffa166 514px,#ffab6d 515px,#ffb976 517px,#ffc07a 519px,#ffc57d 522px,#ffc77f 562px)"></i>
<i style="background:linear-gradient(90deg,#100a06 0,#000 384px,#030201 439px,#0a0604 470px,#19100a 491px,#23160e 496px,#301e13 499px,#42291a 501px,#5e3b26 503px,#8a5637 505px,#ef955f 509px,#ffa267 510px,#ffb976 513px,#ffc17b 515px,#ffc57d 518px,#ffc77f 562px)"></i>
<i style="background:linear-gradient(90deg,#100a06 0,#000 380px,#030201 435px,#0a0604 466px,#19100a 487px,#23160e 492px,#311f14 495px,#432a1b 497px,#603c26 499px,#8c5838 501px,#da8857 504px,#f19760 505px,#ffa368 506px,#ffb473 508px,#ffbe79 510px,#ffc67e 515px,#ffc77f 562px)"></i>
<i style="background:linear-gradient(90deg,#100a06 0,#000 376px,#030201 431px,#0a0604 462px,#1a100a 483px,#24160e 488px,#321f14 491px,#442a1b 493px,#623d27 495px,#8e5939 497px,#c37a4e 499px,#f39861 501px,#ffa468 502px,#ffb573 504px,#ffbe79 506px,#ffc67e 511px,#ffc77f 562px)"></i>
<i style="background:linear-gradient(90deg,#100a06 0,#000 372px,#030201 427px,#0a0604 458px,#180f0a 478px,#21150d 483px,#2c1c12 486px,#3b2517 488px,#452b1c 489px,#643e28 491px,#915b3a 493px,#c57b4f 495px,#f59961 497px,#ffa569 498px,#ffb573 500px,#ffbe79 502px,#ffc67e 507px,#ffc77f 562px)"></i>
<i style="background:linear-gradient(90deg,#0f0a06 0,#000 368px,#030201 423px,#0a0604 454px,#190f0a 474px,#21150d 479px,#2d1c12 482px,#3c2518 484px,#462c1c 485px,#664029 487px,#7b4d31 488px,#c87d50 491px,#f69a62 493px,#ffa669 494px,#ffb674 496px,#ffbf79 498px,#ffc67e 503px,#ffc77f 562px)"></i>
<i style="background:linear-gradient(90deg,#0f0906 0,#000 364px,#030201 419px,#0a0704 450px,#190f0a 470px,#22150d 475px,#2e1c12 478px,#3d2618 480px,#563622 482px,#7d4e32 484px,#ca7e50 487px,#f89b63 489px,#ffa66a 490px,#ffb674 492px,#ffbf7a 494px,#ffc67e 499px,#ffc77f 562px)"></i>
<i style="background:linear-gradient(90deg,#0f0906 0,#000 360px,#030201 415px,#0b0704 446px,#19100a 466px,#22150e 471px,#2e1d12 474px,#3e2619 476px,#573723 478px,#7f5033 480px,#cc8051 483px,#fa9c63 485px,#ffa76a 486px,#ffb774 488px,#ffbf7a 490px,#ffc67e 495px,#ffc77f 562px)"></i>
<i style="background:linear-gradient(90deg,#0f0906 0,#000 356px,#030201 411px,#0b0704 442px,#19100a 462px,#22150e 467px,#2f1d13 470px,#3f2719 472px,#593823 474px,#825134 476px,#ce8152 479px,#fb9d64 481px,#ffa86b 482px,#ffb775 484px,#ffbf7a 486px,#ffc67e 491px,#ffc77f 562px)"></i>
<i style="background:linear-gradient(90deg,#0f0906 0,#000 353px,#030201 406px,#0a0604 437px,#19100a 458px,#23160e 463px,#2f1e13 466px,#402819 468px,#5b3924 470px,#845234 472px,#d18253 475px,#fd9e65 477px,#ffa96b 478px,#ffb775 480px,#ffbf7a 482px,#ffc67e 488px,#ffc77f 562px)"></i>
<i style="background:linear-gradient(90deg,#0e0906 0,#000 349px,#030201 402px,#0a0604 433px,#19100a 454px,#23160e 459px,#301e13 462px,#41291a 464px,#5d3a25 466px,#865435 468px,#d38454 471px,#fe9f65 473px,#ffb271 475px,#ffbc78 477px,#ffc47d 480px,#ffc67e 483px,#ffc77f 562px)"></i>
<i style="background:linear-gradient(90deg,#0e0906 0,#000 345px,#030201 398px,#0a0604 429px,#1a100a 450px,#23160e 455px,#311f14 458px,#42291a 460px,#5e3b26 462px,#895536 464px,#ec945e 468px,#ffa066 469px,#ffb271 471px,#ffbd78 473px,#ffc47d 476px,#ffc67e 479px,#ffc77f 562px)"></i>
<i style="background:linear-gradient(90deg,#0e0906 0,#000 341px,#030201 394px,#0a0704 425px,#1a100a 446px,#24160e 451px,#321f14 454px,#432a1b 456px,#603c26 458px,#8b5737 460px,#ee955f 464px,#ffa167 465px,#ffb372 467px,#ffbd78 469px,#ffc47d 472px,#ffc67e 475px,#ffc77f 562px)"></i>
<i style="background:linear-gradient(90deg,#0e0905 0,#000 337px,#030201 390px,#0b0704 421px,#1a100a 442px,#24170e 447px,#332014 450px,#452b1b 452px,#633e27 454px,#8e5938 456px,#f09660 460px,#ffa267 461px,#ffb372 463px,#ffbd78 465px,#ffc67e 471px,#ffc77f 562px)"></i>
<i style="background:linear-gradient(90deg,#0e0905 0,#000 333px,#030201 386px,#0b0704 417px,#190f0a 437px,#22150d 442px,#2d1c12 445px,#3c2518 447px,#462c1c 448px,#653f28 450px,#905a39 452px,#dc8958 455px,#f29760 456px,#ffa368 457px,#ffb473 459px,#ffbd79 461px,#ffc67e 467px,#ffc77f 562px)"></i>
<i style="background:linear-gradient(90deg,#0d0805 0,#000 329px,#030201 382px,#0b0704 413px,#19100a 433px,#22150e 438px,#2e1d12 441px,#3d2618 443px,#482d1d 444px,#674029 446px,#935c3b 448px,#de8b58 451px,#f49861 452px,#ffa468 453px,#ffb473 455px,#ffbe79 457px,#ffc47d 460px,#ffc67e 464px,#ffc77f 562px)"></i>
<i style="background:linear-gradient(90deg,#0d0805 0,#000 325px,#030201 378px,#0b0704 409px,#19100a 429px,#22160e 434px,#2f1d13 437px,#3e2719 439px,#583723 441px,#7e4f32 443px,#c97e50 446px,#f69a62 448px,#ffa569 449px,#ffb573 451px,#ffbe79 453px,#ffc47d 456px,#ffc67e 460px,#ffc77f 562px)"></i>
<i style="background:linear-gradient(90deg,#0d0805 0,#000 322px,#030201 374px,#0b0704 405px,#19100a 425px,#23160e 430px,#301e13 433px,#3f2819 435px,#5a3824 437px,#815033 439px,#cc7f51 442px,#f89b63 444px,#ffa66a 445px,#ffb674 447px,#ffbe79 449px,#ffc47d 452px,#ffc67e 456px,#ffc77f 562px)"></i>
<i style="background:linear-gradient(90deg,#0d0805 0,#000 318px,#030201 370px,#0a0704 400px,#19100a 421px,#23160e 426px,#301e13 429px,#41281a 431px,#5c3924 433px,#835234 435px,#ce8152 438px,#fa9c63 440px,#ffa76a 441px,#ffb674 443px,#ffbf79 445px,#ffc47d 448px,#ffc77e 452px,#ffc77f 562px)"></i>
<i style="background:linear-gradient(90deg,#0d0805 0,#000 314px,#030201 365px,#0a0704 396px,#1a100a 417px,#24160e 422px,#311f14 425px,#42291a 427px,#5e3a25 429px,#865435 431px,#e8915c 435px,#fc9d64 436px,#ffa86b 437px,#ffb774 439px,#ffbf7a 441px,#ffc47d 444px,#ffc77e 448px,#ffc77f 562px)"></i>
<i style="background:linear-gradient(90deg,#0c0805 0,#000 310px,#030201 361px,#0b0704 392px,#1a100a 413px,#24170e 418px,#321f14 421px,#432a1b 423px,#603c26 425px,#895536 427px,#ea925d 431px,#fe9e65 432px,#ffa96b 433px,#ffb775 435px,#ffbf7a 437px,#ffc77e 444px,#ffc77f 562px)"></i>
<i style="background:linear-gradient(90deg,#0c0805 0,#000 306px,#030201 357px,#0b0704 388px,#1a100a 409px,#24170f 414px,#332014 417px,#452b1b 419px,#613d27 421px,#8b5737 423px,#d58555 426px,#ff9f66 428px,#ffb171 430px,#ffbc78 432px,#ffc37c 435px,#ffc67e 439px,#ffc77f 562px)"></i>
<i style="background:linear-gradient(90deg,#0c0805 0,#000 302px,#030201 353px,#0b0704 384px,#190f0a 404px,#22150d 409px,#2d1c12 412px,#462c1c 415px,#633e28 417px,#8e5938 419px,#d88756 422px,#ee955f 423px,#ffa066 424px,#ffb271 426px,#ffbc78 428px,#ffc37c 431px,#ffc67e 435px,#ffc77f 562px)"></i>
<i style="background:linear-gradient(90deg,#0c0805 0,#000 298px,#030201 350px,#0b0704 380px,#19100a 400px,#22150e 405px,#2e1d12 408px,#472d1c 411px,#653f28 413px,#905a39 415px,#da8857 418px,#f0965f 419px,#ffa167 420px,#ffb372 422px,#ffbd78 424px,#ffc37c 427px,#ffc67e 431px,#ffc77f 562px)"></i>
<i style="background:linear-gradient(90deg,#0c0805 0,#000 294px,#030201 346px,#0b0704 376px,#19100a 396px,#22160e 401px,#2f1d13 404px,#3e2719 406px,#492d1d 407px,#674029 409px,#925b3a 411px,#dc8957 414px,#f19760 415px,#ffa267 416px,#ffb372 418px,#ffbd78 420px,#ffc47d 423px,#ffc77e 428px,#ffc77f 562px)"></i>
<i style="background:linear-gradient(90deg,#0c0805 0,#000 290px,#030201 342px,#0b0704 372px,#19100a 392px,#23160e 397px,#2f1e13 400px,#3f2719 402px,#4a2e1d 403px,#69422a 405px,#945d3b 407px,#de8a58 410px,#f39861 411px,#ffa368 412px,#ffb472 414px,#ffbd78 416px,#ffc47d 419px,#ffc77e 424px,#ffc77f 562px)"></i>
<i style="background:linear-gradient(90deg,#0c0805 0,#000 286px,#030201 338px,#0b0704 368px,#19100a 388px,#23160e 393px,#301e13 396px,#402819 398px,#593823 400px,#7f4f33 402px,#c87d50 405px,#f49961 407px,#ffa468 408px,#ffb473 410px,#ffbd79 412px,#ffc47d 415px,#ffc77e 420px,#ffc77f 562px)"></i>
<i style="background:linear-gradient(90deg,#0c0805 0,#000 282px,#030201 333px,#0a0604 363px,#19100a 384px,#23160e 389px,#301e13 392px,#40281a 394px,#5a3824 396px,#815033 398px,#ca7e50 401px,#f59962 403px,#ffa469 404px,#ffb473 406px,#ffbd79 408px,#ffc47d 411px,#ffc77e 416px,#ffc77f 562px)"></i>
<i style="background:linear-gradient(90deg,#0c0705 0,#000 278px,#030201 329px,#0a0604 359px,#1a100a 380px,#24160e 385px,#311f13 388px,#41291a 390px,#5b3924 392px,#825134 394px,#cb7f51 397px,#f79a62 399px,#ffa569 400px,#ffb573 402px,#ffbe79 404px,#ffc47d 407px,#ffc77e 412px,#ffc77f 562px)"></i>
<i style="background:linear-gradient(90deg,#0c0705 0,#010000 274px,#030201 325px,#0a0604 355px,#1a100a 376px,#24160e 381px,#311f14 384px,#42291a 386px,#5c3a25 388px,#845234 390px,#cc8051 393px,#f79b62 395px,#ffa569 396px,#ffb573 398px,#ffbe79 400px,#ffc47d 403px,#ffc77e 408px,#ffc77f 562px)"></i>
<i style="background:linear-gradient(90deg,#0c0705 0,#010000 270px,#030201 321px,#0a0604 351px,#1a100a 372px,#24160e 377px,#321f14 380px,#422a1a 382px,#5d3a25 384px,#855335 386px,#e48e5b 390px,#f89b63 391px,#ffa66a 392px,#ffb573 394px,#ffbe79 396px,#ffc47d 399px,#ffc77e 404px,#ffc77f 562px)"></i>
<i style="background:linear-gradient(90deg,#0c0705 0,#010000 266px,#030201 317px,#0a0604 347px,#1a100a 368px,#24170e 373px,#321f14 376px,#432a1b 378px,#5e3b25 380px,#865335 382px,#e58f5b 386px,#f99b63 387px,#ffa66a 388px,#ffb573 390px,#ffbe79 392px,#ffc47d 395px,#ffc77e 400px,#ffc77f 562px)"></i>
<i style="background:linear-gradient(90deg,#0c0705 0,#010000 262px,#030201 313px,#0a0604 343px,#1a100a 364px,#24170e 369px,#321f14 372px,#432a1b 374px,#5f3b26 376px,#865435 378px,#e58f5b 382px,#f99c63 383px,#ffa66a 384px,#ffb573 386px,#ffbe79 388px,#ffc47d 391px,#ffc77e 396px,#ffc77f 562px)"></i>
<i style="background:linear-gradient(90deg,#0c0705 0,#010000 258px,#030201 310px,#0b0704 340px,#1a100a 360px,#24170e 365px,#321f14 368px,#442a1b 370px,#5f3b26 372px,#875436 374px,#e58f5b 378px,#f99c63 379px,#ffa66a 380px,#ffb573 382px,#ffbe79 384px,#ffc47d 387px,#ffc77e 392px,#ffc77f 562px)"></i>
<i style="background:linear-gradient(90deg,#0c0705 0,#010000 254px,#030201 306px,#0b0704 336px,#1a100a 356px,#24170e 361px,#321f14 364px,#432a1b 366px,#5f3b26 368px,#875436 370px,#e58f5b 374px,#f99c63 375px,#ffa66a 376px,#ffb573 378px,#ffbe79 380px,#ffc47d 383px,#ffc77e 388px,#ffc77f 562px)"></i>
<i style="background:linear-gradient(90deg,#0c0705 0,#010000 249px,#030201 302px,#0b0704 332px,#1a100a 352px,#24170e 357px,#321f14 360px,#432a1b 362px,#5f3b26 364px,#865435 366px,#e58f5b 370px,#f99b63 371px,#ffa66a 372px,#ffb573 374px,#ffbe79 376px,#ffc47d 379px,#ffc77e 384px,#ffc77f 562px)"></i>
<i style="background:linear-gradient(90deg,#0b0705 0,#010000 246px,#030201 298px,#0b0704 328px,#1a100a 348px,#24160e 353px,#321f14 356px,#432a1b 358px,#5e3b25 360px,#855335 362px,#e48e5b 366px,#f89b63 367px,#ffa669 368px,#ffb573 370px,#ffbe79 372px,#ffc47d 375px,#ffc77e 380px,#ffc77f 562px)"></i>
<i style="background:linear-gradient(90deg,#0b0705 0,#010000 241px,#030201 294px,#0b0704 324px,#19100a 344px,#24160e 349px,#321f14 352px,#42291a 354px,#5d3a25 356px,#845235 358px,#e38e5a 362px,#f79a62 363px,#ffa569 364px,#ffb473 366px,#ffc07a 369px,#ffc77f 377px,#ffc77f 562px)"></i>
<i style="background:linear-gradient(90deg,#0b0704 0,#010000 237px,#030201 290px,#0b0704 320px,#19100a 340px,#24160e 345px,#311f14 348px,#42291a 350px,#5c3925 352px,#825134 354px,#ca7e50 357px,#f59962 359px,#ffa469 360px,#ffb473 362px,#ffc07a 365px,#ffc77f 373px,#ffc77f 562px)"></i>
<i style="background:linear-gradient(90deg,#0b0704 0,#010000 233px,#030201 286px,#0b0704 316px,#19100a 336px,#23160e 341px,#311e13 344px,#41291a 346px,#5b3924 348px,#805033 350px,#c87d50 353px,#f39861 355px,#ffa368 356px,#ffb372 358px,#ffc07a 361px,#ffc77f 369px,#ffc77f 562px)"></i>
<i style="background:linear-gradient(90deg,#0b0704 0,#010000 228px,#030201 281px,#0b0704 312px,#19100a 332px,#23160e 337px,#301e13 340px,#40281a 342px,#4b2f1e 343px,#6a422a 345px,#955d3b 347px,#dc8a58 350px,#f19760 351px,#ffa267 352px,#ffb372 354px,#ffbf7a 357px,#ffc47d 360px,#ffc77e 365px,#ffc77f 562px)"></i>
<i style="background:linear-gradient(90deg,#0b0704 0,#010000 225px,#040201 278px,#0b0704 309px,#19100a 328px,#23160e 333px,#301e13 336px,#4a2e1e 339px,#69412a 341px,#935c3a 343px,#da8857 346px,#ef955f 347px,#ffa166 348px,#ffb271 350px,#ffbf7a 353px,#ffc47d 356px,#ffc77e 361px,#ffc77f 562px)"></i>
<i style="background:linear-gradient(90deg,#0b0704 0,#010000 220px,#040201 274px,#0b0704 305px,#19100a 324px,#23160e 329px,#2f1e13 332px,#492e1d 335px,#674029 337px,#905a39 339px,#d78656 342px,#ff9f65 344px,#ffb171 346px,#ffbf79 349px,#ffc47d 352px,#ffc77e 357px,#ffc77f 562px)"></i>
<i style="background:linear-gradient(90deg,#0a0604 0,#010000 216px,#040201 270px,#0b0704 301px,#19100a 320px,#23160e 325px,#2f1d13 328px,#482d1d 331px,#653f28 333px,#8d5838 335px,#ea925d 339px,#fd9e65 340px,#ffa86b 341px,#ffb674 343px,#ffc17b 346px,#ffc77f 354px,#ffc77f 562px)"></i>
<i style="background:linear-gradient(90deg,#0a0604 0,#010000 213px,#040201 266px,#0b0705 297px,#19100a 316px,#22160e 321px,#2e1d13 324px,#472c1c 327px,#633e27 329px,#8b5737 331px,#e7905c 335px,#fa9c63 336px,#ffa66a 337px,#ffb573 339px,#ffc07a 342px,#ffc77f 350px,#ffc77f 562px)"></i>
<i style="background:linear-gradient(90deg,#0a0604 0,#010000 210px,#040202 263px,#0b0705 293px,#19100a 312px,#22150e 317px,#2e1d12 320px,#462c1c 323px,#613d27 325px,#885536 327px,#e48e5b 331px,#f79b62 332px,#ffa569 333px,#ffb473 335px,#ffc07a 338px,#ffc77e 346px,#ffc77f 562px)"></i>
<i style="background:linear-gradient(90deg,#0a0604 0,#010100 205px,#040201 257px,#0b0705 289px,#1a100a 309px,#25170f 314px,#342015 317px,#452b1b 319px,#603c26 321px,#855335 323px,#e18c59 327px,#f59961 328px,#ffa368 329px,#ffb372 331px,#ffbf7a 334px,#ffc77e 342px,#ffc77f 562px)"></i>
<i style="background:linear-gradient(90deg,#0a0604 0,#010100 203px,#040302 256px,#0c0705 286px,#1a100a 305px,#25170f 310px,#332014 313px,#442a1b 315px,#5e3b25 317px,#835234 319px,#de8b58 323px,#f29760 324px,#ffa267 325px,#ffb271 327px,#ffbf7a 330px,#ffc47d 333px,#ffc77e 338px,#ffc77f 562px)"></i>
<i style="background:linear-gradient(90deg,#0a0604 0,#010100 198px,#040302 250px,#0c0705 282px,#1a100a 301px,#25170f 306px,#332014 309px,#4f311f 312px,#6d442c 314px,#975e3c 316px,#db8957 319px,#ffa066 321px,#ffb171 323px,#ffbe79 326px,#ffc57d 330px,#ffc77e 335px,#ffc77f 562px)"></i>
<i style="background:linear-gradient(90deg,#090604 0,#010100 197px,#050302 249px,#0c0805 278px,#1a100a 297px,#25170f 302px,#332014 305px,#432a1b 307px,#5b3924 309px,#7f4f32 311px,#ec945e 316px,#fe9f65 317px,#ffa86b 318px,#ffb674 320px,#ffc07b 323px,#ffc77e 331px,#ffc77f 562px)"></i>
<i style="background:linear-gradient(90deg,#090604 0,#010100 191px,#040302 243px,#0c0805 274px,#1a100a 293px,#25170f 298px,#322014 301px,#42291a 303px,#5a3824 305px,#7d4e32 307px,#ea925d 312px,#fc9d64 313px,#ffa76a 314px,#ffb573 316px,#ffc07a 319px,#ffc57e 323px,#ffc77f 328px,#ffc77f 562px)"></i>
<i style="background:linear-gradient(90deg,#090604 0,#010100 185px,#040202 236px,#0c0805 270px,#1a100a 289px,#25170f 294px,#321f14 297px,#4c301e 300px,#69422a 302px,#905a39 304px,#e7905c 308px,#f99c63 309px,#ffa669 310px,#ffb473 312px,#ffc07a 315px,#ffc57d 319px,#ffc77e 324px,#ffc77f 562px)"></i>
<i style="background:linear-gradient(90deg,#090604 0,#010100 183px,#050302 236px,#0c0805 266px,#1a110b 285px,#25170f 290px,#321f14 293px,#4c301e 296px,#684129 298px,#8e5939 300px,#e58f5b 304px,#f79a62 305px,#ffa469 306px,#ffb372 308px,#ffbf7a 311px,#ffc57d 315px,#ffc77e 320px,#ffc77f 562px)"></i>
<i style="background:linear-gradient(90deg,#090503 0,#020101 196px,#070403 243px,#140d08 275px,#22150e 285px,#2d1c12 288px,#42291a 291px,#593723 293px,#684129 294px,#8d5838 296px,#e38e5a 300px,#f59962 301px,#ffa368 302px,#ffb271 304px,#ffbf79 307px,#ffc57d 311px,#ffc77e 316px,#ffc77f 562px)"></i>
<i style="background:linear-gradient(90deg,#080503 0,#020101 196px,#070503 242px,#140d08 271px,#23160e 281px,#2d1c12 284px,#42291a 287px,#583723 289px,#674129 290px,#8c5838 292px,#e18d59 296px,#f39861 297px,#ffa267 298px,#ffb171 300px,#ffbe79 303px,#ffc47d 307px,#ffc67e 312px,#ffc77f 562px)"></i>
<i style="background:linear-gradient(90deg,#080503 0,#020101 189px,#070403 236px,#150d08 267px,#23160e 277px,#2e1d12 280px,#42291a 283px,#593723 285px,#794b30 287px,#df8c59 292px,#f29760 293px,#ffa167 294px,#ffb170 296px,#ffbe79 299px,#ffc47d 303px,#ffc77e 309px,#ffc77f 562px)"></i>
<i style="background:linear-gradient(90deg,#080503 0,#020101 189px,#080503 235px,#150d08 263px,#23160e 273px,#2e1d12 276px,#432a1b 279px,#593824 281px,#794b30 283px,#de8b58 288px,#ffa066 290px,#ffb070 292px,#ffbd79 295px,#ffc47d 299px,#ffc77e 305px,#ffc77f 562px)"></i>
<i style="background:linear-gradient(90deg,#080503 0,#020101 189px,#090604 235px,#160e09 260px,#24160e 269px,#2f1d13 272px,#442a1b 275px,#5a3824 277px,#794c30 279px,#de8a58 284px,#ffa066 286px,#ffb573 289px,#ffbf7a 292px,#ffc67e 301px,#ffc77f 562px)"></i>
<i style="background:linear-gradient(90deg,#080503 0,#020101 176px,#070403 222px,#0d0805 242px,#150d08 255px,#1c120b 261px,#25170f 265px,#301e13 268px,#452b1c 271px,#5c3924 273px,#7b4d31 275px,#dd8a58 280px,#ff9f65 282px,#ffb573 285px,#ffbf7a 288px,#ffc57d 292px,#ffc67e 297px,#ffc77f 562px)"></i>
<i style="background:linear-gradient(90deg,#080503 0,#020101 176px,#080503 222px,#150d08 250px,#23160e 260px,#2d1c12 263px,#3e2719 266px,#513320 268px,#6c432b 270px,#8f5939 272px,#dd8a58 276px,#ff9f65 278px,#ffb473 281px,#ffbf7a 284px,#ffc47d 288px,#ffc67e 293px,#ffc77f 562px)"></i>
<i style="background:linear-gradient(90deg,#080503 0,#020101 176px,#090604 222px,#170e09 248px,#1f130c 254px,#26180f 257px,#332014 260px,#492e1d 263px,#603c26 265px,#7f4f32 267px,#de8b58 272px,#ff9f65 274px,#ffb473 277px,#ffbf79 280px,#ffc47d 284px,#ffc67e 290px,#ffc77f 562px)"></i>
<i style="background:linear-gradient(90deg,#070503 0,#020101 169px,#080503 215px,#150d08 242px,#1d120c 249px,#2b1b11 254px,#342115 256px,#422a1a 258px,#563622 260px,#71472d 262px,#e08c59 268px,#ff9f66 270px,#ffb473 273px,#ffbe79 276px,#ffc47d 280px,#ffc67e 286px,#ffc77f 562px)"></i>
<i style="background:linear-gradient(90deg,#070503 0,#020201 169px,#0a0604 215px,#180f0a 241px,#281910 249px,#442a1b 254px,#4d301f 255px,#75492f 258px,#e28d5a 264px,#ffa066 266px,#ffb473 269px,#ffbe79 272px,#ffc47d 276px,#ffc67e 282px,#ffc77f 562px)"></i>
<i style="background:linear-gradient(90deg,#070403 0,#020101 162px,#090503 208px,#160e09 235px,#20140d 242px,#321f14 247px,#3e2618 249px,#764a2f 254px,#d38454 259px,#f49861 261px,#ffa167 262px,#ffb473 265px,#ffbe79 268px,#ffc47d 272px,#ffc67e 278px,#ffc77f 562px)"></i>
<i style="background:linear-gradient(90deg,#070403 0,#020101 155px,#080503 202px,#140d08 228px,#1b110b 235px,#271910 239px,#291a10 241px,#332014 243px,#4d301f 246px,#513320 247px,#5c3925 248px,#6b432a 249px,#a46741 252px,#c1794d 254px,#f69a62 257px,#ffa267 258px,#ffb473 261px,#ffbe79 264px,#ffc47d 268px,#ffc67e 275px,#ffc77f 562px)"></i>
<i style="background:linear-gradient(90deg,#070403 0,#030201 162px,#090604 201px,#180f09 228px,#21150d 232px,#24160e 235px,#2d1c12 237px,#3c2518 239px,#3b2518 240px,#3f2819 241px,#563622 243px,#784b30 245px,#855335 246px,#8d5838 247px,#9e633f 248px,#ee955f 252px,#ffa267 254px,#ffb573 257px,#ffbe79 260px,#ffc47d 264px,#ffc67e 271px,#ffc77f 562px)"></i>
<i style="background:linear-gradient(90deg,#070403 0,#030201 155px,#090503 195px,#110b07 215px,#160e09 219px,#150d08 221px,#1c120b 225px,#1e120c 228px,#24160e 230px,#2f1d13 232px,#2e1d12 234px,#342115 235px,#472d1c 237px,#643e28 239px,#633e28 240px,#6d442b 241px,#945d3b 243px,#c37a4d 245px,#d78656 247px,#f89b63 249px,#ffa469 250px,#ffb272 252px,#ffbf79 256px,#ffc47d 260px,#ffc67e 267px,#ffc77f 562px)"></i>
<i style="background:linear-gradient(90deg,#070403 0,#030201 155px,#0a0604 195px,#0f0a06 208px,#140d08 212px,#130c08 214px,#1b110b 219px,#19100a 221px,#25170f 225px,#281910 228px,#342015 230px,#4b2f1e 232px,#482d1d 233px,#4a2e1d 234px,#674029 236px,#935c3b 238px,#a56742 239px,#a56742 240px,#b47148 241px,#f29760 244px,#ffa267 245px,#ffba76 250px,#ffbf7a 252px,#ffc67e 263px,#ffc77f 562px)"></i>
<i style="background:linear-gradient(90deg,#070403 0,#030201 148px,#090604 188px,#120b07 208px,#180f0a 212px,#160e09 214px,#22150d 219px,#20140d 221px,#281910 223px,#372316 225px,#352115 227px,#3c2518 228px,#563522 230px,#69422a 231px,#815133 232px,#794c30 233px,#7f4f32 234px,#945c3b 235px,#dd8a58 238px,#e9925d 239px,#eb935d 240px,#f89b63 241px,#ffa469 242px,#ffb875 245px,#ffc07b 249px,#ffc67e 259px,#ffc77f 562px)"></i>
<i style="background:linear-gradient(90deg,#060403 0,#030201 148px,#0a0604 188px,#120b07 199px,#100a06 201px,#160e09 205px,#150d08 208px,#1e130c 212px,#1b110b 214px,#20140d 216px,#2e1d12 219px,#291a10 220px,#2c1b11 221px,#3c2518 223px,#4a2e1d 224px,#5c3a25 225px,#563622 227px,#643f28 228px,#794b30 229px,#c67c4f 232px,#be774c 233px,#c77c4f 234px,#f19760 236px,#ffa267 237px,#ffac6d 238px,#ffb070 240px,#ffc07a 244px,#ffc67e 255px,#ffc77f 562px)"></i>
<i style="background:linear-gradient(90deg,#060403 0,#040201 148px,#090604 181px,#120b07 201px,#1a100a 205px,#170f09 207px,#1e130c 210px,#291910 212px,#22150e 214px,#2c1c12 216px,#42291a 218px,#452b1c 219px,#3e2619 220px,#442a1b 221px,#643f28 223px,#9c613e 225px,#925b3a 226px,#905a39 227px,#f29760 231px,#ffa066 232px,#fc9e64 233px,#ffbc78 238px,#ffc67e 251px,#ffc77f 562px)"></i>
<i style="background:linear-gradient(90deg,#060403 0,#030201 141px,#0b0704 181px,#140c08 192px,#100a07 194px,#170f09 198px,#160d09 201px,#22150d 205px,#1c120b 207px,#1f130c 208px,#281910 210px,#3a2417 212px,#301e13 213px,#301e13 214px,#382316 215px,#573623 217px,#70462d 218px,#70462c 219px,#643f28 220px,#72472d 221px,#895637 222px,#e38e5a 225px,#d58555 226px,#d78656 227px,#ff9f66 229px,#ffb372 231px,#ffb674 232px,#ffc37c 238px,#ffc67e 245px,#ffc77f 562px)"></i>
<i style="background:linear-gradient(90deg,#060402 0,#040202 141px,#0c0805 181px,#120b07 185px,#100a06 188px,#170e09 192px,#130c08 194px,#1d120b 198px,#1a100a 201px,#21140d 203px,#301e13 205px,#25170f 207px,#291a11 208px,#3d2618 210px,#4f311f 211px,#593824 212px,#482d1d 213px,#4c2f1e 214px,#5c3a25 215px,#74482e 216px,#b57148 218px,#a26540 220px,#ffa167 224px,#ffac6d 225px,#ffa66a 226px,#ffa86b 227px,#ffbf7a 231px,#ffc67e 244px,#ffc77f 562px)"></i>
<i style="background:linear-gradient(90deg,#060402 0,#030201 128px,#080503 161px,#0e0906 172px,#0b0704 174px,#100a06 178px,#0e0906 181px,#150d08 185px,#110b07 187px,#1b110b 192px,#160e09 194px,#26180f 198px,#1f130c 200px,#25170f 202px,#392417 204px,#4c2f1e 205px,#382316 206px,#352115 207px,#4e311f 209px,#653f28 210px,#855335 211px,#8c5838 212px,#75492e 213px,#7f4f32 214px,#99603d 215px,#f69a62 218px,#e48e5b 220px,#f69a62 221px,#ffa66a 222px,#fb7 225px,#ffb976 226px,#ffc47d 231px,#ffc67e 238px,#ffc77f 562px)"></i>
<i style="background:linear-gradient(90deg,#060402 0,#040302 134px,#0a0604 167px,#100a06 172px,#0d0805 174px,#130c08 178px,#100a06 181px,#1a100a 185px,#140c08 187px,#21150d 192px,#1b110b 194px,#23160e 196px,#382316 198px,#281910 200px,#2d1c12 201px,#462c1c 203px,#764a2f 205px,#573622 206px,#543522 207px,#674129 208px,#835234 209px,#cb7f51 211px,#ca7e50 212px,#b47048 213px,#c37a4e 214px,#f89b63 216px,#ffa96b 217px,#ffb372 218px,#ffac6e 220px,#ffc17b 224px,#ffc67e 237px,#ffc77f 562px)"></i>
<i style="background:linear-gradient(90deg,#060402 0,#030201 121px,#0a0604 161px,#120b07 172px,#0e0906 174px,#160e09 178px,#130c07 181px,#20140d 185px,#170e09 187px,#1d120b 189px,#2b1b11 191px,#2a1a11 192px,#21150d 193px,#281910 195px,#42291a 197px,#5b3924 198px,#452b1b 199px,#3a2417 200px,#452b1c 201px,#583723 202px,#74492e 203px,#9a603d 204px,#ae6d45 205px,#885536 206px,#8b5737 207px,#e8915c 210px,#ffa368 211px,#fe9f65 212px,#f09660 213px,#ff9f65 214px,#ffb472 216px,#ffbf79 218px,#ffbc78 220px,#ffc47d 224px,#ffc67e 231px,#ffc77f 562px)"></i>
<i style="background:linear-gradient(90deg,#060403 0,#050302 134px,#0b0704 161px,#110b07 165px,#0d0805 167px,#140c08 171px,#110a07 174px,#1b110b 178px,#140d08 180px,#1c120b 183px,#281910 185px,#1e120c 186px,#1c120b 187px,#26180f 189px,#301e13 190px,#41291a 191px,#3a2417 192px,#2c1c12 193px,#311e13 194px,#3c2618 195px,#4f311f 196px,#6c442b 197px,#965e3c 198px,#69422a 199px,#5d3a25 200px,#72472d 201px,#915a3a 202px,#de8a58 204px,#e6905b 205px,#c67c4f 206px,#ce8152 207px,#ffa167 209px,#ffb875 211px,#ffb070 213px,#ffc27b 217px,#ffc67e 224px,#ffc77f 562px)"></i>
<i style="background:linear-gradient(90deg,#060403 0,#040302 121px,#0a0604 154px,#0f0a06 158px,#0c0805 160px,#140c08 165px,#0f0906 167px,#170f09 171px,#130c08 174px,#180f0a 176px,#24160e 178px,#180f0a 180px,#1e130c 182px,#352115 185px,#25170f 186px,#25170f 187px,#2b1b11 188px,#372216 189px,#4b2f1e 190px,#6c432b 191px,#41281a 193px,#4b2f1e 194px,#613d27 195px,#825134 196px,#d28354 198px,#9f633f 199px,#955d3b 200px,#f59961 203px,#ffaa6c 204px,#ffaa6c 205px,#fc9d64 206px,#ffb674 209px,#ffc17b 211px,#ffbd78 213px,#ffc57d 217px,#ffc67e 224px,#ffc77f 562px)"></i>
<i style="background:linear-gradient(90deg,#060403 0,#030201 94px,#060403 134px,#0c0805 145px,#090604 147px,#0e0905 151px,#0b0705 154px,#120b07 158px,#0e0805 160px,#160e09 165px,#110b07 167px,#1d120c 171px,#170e09 174px,#1e130c 176px,#332014 178px,#21150d 179px,#1d120c 180px,#281910 182px,#352115 183px,#4c2f1e 184px,#4b2f1e 185px,#321f14 186px,#342015 187px,#41291a 188px,#583723 189px,#7b4d31 190px,#ab6b44 191px,#815033 192px,#653f28 193px,#7b4d31 194px,#9c623e 195px,#ed945e 197px,#ffa066 198px,#d98756 199px,#d78655 200px,#f09660 201px,#ffa66a 202px,#fb7 204px,#ffb372 206px,#ffc27c 210px,#ffc67e 217px,#ffc77f 562px)"></i>
<i style="background:linear-gradient(90deg,#060403 0,#040302 114px,#080503 140px,#0e0905 145px,#0a0604 147px,#100a06 151px,#0d0805 154px,#150d08 158px,#0f0a06 160px,#180f0a 164px,#160e09 168px,#26180f 171px,#19100a 173px,#271910 176px,#472c1c 178px,#2a1a11 179px,#26180f 180px,#2e1d12 181px,#3c2518 182px,#543421 183px,#7c4d31 184px,#6e452c 185px,#492e1d 186px,#513220 187px,#69422a 188px,#8e5939 189px,#eb935d 191px,#b87349 192px,#9e633f 193px,#fe9f65 196px,#ffaf6f 197px,#ffb272 198px,#ffa469 199px,#ffa66a 200px,#ffb875 202px,#ffc27b 204px,#ffbe79 206px,#ffc57d 210px,#ffc67e 217px,#ffc77f 562px)"></i>
<i style="background:linear-gradient(90deg,#060403 0,#030201 81px,#070403 127px,#0d0805 138px,#090604 140px,#0f0906 145px,#0c0705 147px,#120b07 151px,#0f0906 154px,#190f0a 158px,#120b07 160px,#1e130c 164px,#170f09 167px,#1f130c 169px,#271910 170px,#372316 171px,#26180f 172px,#1f130c 173px,#2b1b11 175px,#3a2417 176px,#543522 177px,#643e28 178px,#3a2417 179px,#372216 180px,#452b1c 181px,#5f3c26 182px,#885536 183px,#bd764b 184px,#9d623f 185px,#70462d 186px,#825134 187px,#a66842 188px,#f89b63 190px,#ffad6e 191px,#eb935d 192px,#dd8a58 193px,#f69a62 194px,#ffa96c 195px,#ffbd78 197px,#ffbd78 198px,#ffb674 199px,#ffc37c 203px,#ffc67e 210px,#ffc77f 562px)"></i>
<i style="background:linear-gradient(90deg,#060403 0,#050302 107px,#090604 134px,#0f0906 138px,#0b0704 140px,#100a06 144px,#0d0805 147px,#160d09 151px,#100a06 153px,#1d120b 158px,#150d09 159px,#160e09 161px,#1f130c 163px,#281910 164px,#1b110b 166px,#21150d 168px,#2a1a11 169px,#392417 170px,#573723 171px,#321f14 172px,#291910 173px,#311e13 174px,#402819 175px,#5b3924 176px,#885536 177px,#8d5838 178px,#543522 179px,#553522 180px,#6f452c 181px,#985f3c 182px,#f89b63 184px,#a86943 186px,#c1794d 187px,#e48f5b 188px,#ffa368 189px,#ffb272 190px,#ffb976 191px,#ffab6d 192px,#ffa86b 193px,#ffba76 195px,#ffc27c 197px,#ffbf7a 199px,#ffc57e 204px,#ffc77f 562px)"></i>
<i style="background:linear-gradient(90deg,#060403 0,#050302 107px,#080503 127px,#0d0805 131px,#0a0604 133px,#100a07 138px,#0c0705 140px,#130c08 144px,#0f0906 147px,#1a100a 151px,#120b07 153px,#22150d 158px,#190f0a 159px,#180f0a 160px,#20140d 162px,#291a11 163px,#3b2518 164px,#21150d 166px,#2d1c12 168px,#3d2618 169px,#5b3924 170px,#815134 171px,#452b1c 172px,#3a2517 173px,#4a2e1d 174px,#663f28 175px,#925b3a 176px,#c97e50 177px,#bd764b 178px,#7e4f32 179px,#865435 180px,#ffa066 183px,#ffb271 184px,#fc9e64 185px,#e28d5a 186px,#f99c63 187px,#ffb774 189px,#ffbe79 190px,#ffc07a 191px,#ffb976 192px,#ffb976 193px,#ffc47d 197px,#ffc67e 204px,#ffc77f 562px)"></i>
<i style="background:linear-gradient(90deg,#060403 0,#060402 107px,#0b0704 118px,#090604 127px,#0f0a06 131px,#0b0704 133px,#120b07 138px,#0e0805 140px,#160e09 144px,#110b07 147px,#160e09 149px,#21150d 151px,#170e09 152px,#150d08 153px,#1a100a 155px,#2a1b11 157px,#2a1a11 158px,#1d120c 159px,#1d120c 160px,#2b1b11 162px,#3d2618 163px,#5d3a25 164px,#3b2518 165px,#2b1b11 166px,#332014 167px,#432a1b 168px,#613c26 169px,#905a39 170px,#ad6c45 171px,#643e28 172px,#5a3924 173px,#75492f 174px,#9f633f 175px,#ffa066 177px,#e9925d 178px,#b47048 179px,#c57b4e 180px,#e8915c 181px,#ffa66a 182px,#ffbe79 184px,#ffa96c 186px,#ffba77 188px,#ffc37c 190px,#ffc07a 192px,#ffc57e 197px,#ffc77f 562px)"></i>
<i style="background:linear-gradient(90deg,#060403 0,#040202 67px,#070503 113px,#0c0805 118px,#090503 120px,#0e0905 124px,#0b0704 127px,#120b07 131px,#0c0805 133px,#130c08 137px,#0f0a06 140px,#1b110b 144px,#130c07 146px,#1a100a 149px,#281910 151px,#1b110b 152px,#190f0a 153px,#21150d 155px,#2b1b11 156px,#3e2719 157px,#362115 158px,#24170e 159px,#26180f 160px,#2f1d13 161px,#402819 162px,#5f3c26 163px,#935c3a 164px,#533421 165px,#3e2719 166px,#4d301f 167px,#6a422a 168px,#985f3c 169px,#cf8152 170px,#d98756 171px,#905a39 172px,#8d5838 173px,#dd8a58 175px,#ffa368 176px,#ffb473 177px,#ffa76a 178px,#e8915c 179px,#fb9d64 180px,#ffb875 182px,#ffc27b 184px,#ffb976 186px,#ffc47d 190px,#ffc67e 197px,#ffc77f 562px)"></i>
<i style="background:linear-gradient(90deg,#060403 0,#050302 80px,#070403 107px,#0c0705 111px,#080503 113px,#0d0805 118px,#0a0604 120px,#100a06 124px,#0c0705 127px,#140d08 131px,#0e0906 133px,#170e09 137px,#120b07 140px,#160e09 142px,#22150e 144px,#150d09 146px,#1b110b 148px,#332014 151px,#20140d 152px,#1e130c 153px,#2d1c12 155px,#3f2719 156px,#623d27 157px,#2f1d13 159px,#352115 160px,#462c1c 161px,#643f28 162px,#cc8051 164px,#764a2f 165px,#5f3b26 166px,#7a4c30 167px,#ffa167 170px,#fd9e65 171px,#c47a4e 172px,#c97e50 173px,#eb935e 174px,#ffa76a 175px,#ffbe79 177px,#ffaa6c 179px,#ffba77 181px,#ffc37c 183px,#ffc07a 186px,#ffc57e 190px,#ffc77f 562px)"></i>
<i style="background:linear-gradient(90deg,#060403 0,#050302 80px,#080503 107px,#0d0805 111px,#090604 113px,#0e0906 117px,#0b0704 120px,#120b07 124px,#0d0805 126px,#160e09 131px,#100a06 133px,#1c110b 137px,#140d08 140px,#1b110b 142px,#2f1d13 144px,#1d120c 145px,#19100a 146px,#22150e 148px,#2d1c12 149px,#41291a 150px,#42291a 151px,#281910 152px,#271810 153px,#301e13 154px,#42291a 155px,#623e27 156px,#975f3c 157px,#643e28 158px,#42291a 159px,#503220 160px,#6d442b 161px,#9b613e 162px,#d28354 163px,#f19760 164px,#a36641 165px,#925b3a 166px,#b57148 167px,#df8b59 168px,#ffa468 169px,#ffb573 170px,#ffaf6f 171px,#f29760 172px,#fd9e65 173px,#ffb875 175px,#ffc37c 177px,#ffb976 179px,#ffc47d 183px,#ffc57e 190px,#ffc77f 562px)"></i>
<i style="background:linear-gradient(90deg,#060403 0,#080503 58px,#050302 60px,#090604 78px,#060302 80px,#0a0604 91px,#060403 93px,#0c0705 104px,#090503 107px,#0e0906 111px,#0a0604 113px,#100a06 117px,#0c0805 120px,#150d08 124px,#0e0906 126px,#190f0a 131px,#130c07 132px,#140c08 134px,#24160e 137px,#160e09 139px,#180f09 140px,#22150d 142px,#402819 144px,#23160e 145px,#1f130c 146px,#2e1d12 148px,#41291a 149px,#653f28 150px,#593723 151px,#342115 152px,#372216 153px,#472d1c 154px,#664029 155px,#985f3c 156px,#d38454 157px,#895637 158px,#633e27 159px,#7c4d31 160px,#ffa267 163px,#ffa86b 164px,#d28454 165px,#cc7f51 166px,#ec945e 167px,#ffa76b 168px,#ffbe79 170px,#ffb976 171px,#ffac6e 172px,#ffc07a 175px,#ffc47d 177px,#ffc07a 179px,#ffc57d 183px,#ffc67e 203px,#ffc77f 562px)"></i>
<i style="background:linear-gradient(90deg,#060403 0,#050302 21px,#090604 25px,#050302 27px,#090604 38px,#050302 40px,#050302 54px,#090604 58px,#050302 60px,#090604 71px,#060402 73px,#0b0704 91px,#070403 93px,#0e0805 104px,#090604 106px,#0f0a06 111px,#0b0704 113px,#130c07 117px,#0e0906 120px,#19100a 124px,#100a06 126px,#1d120b 130px,#150d08 133px,#1b110b 135px,#23160e 136px,#311f14 137px,#21150d 138px,#1a100a 139px,#23160e 141px,#2e1d12 142px,#533421 144px,#2c1c12 145px,#281910 146px,#311f14 147px,#432a1b 148px,#653f28 149px,#9a603d 150px,#784b30 151px,#482d1d 152px,#523320 153px,#6e452c 154px,#9c613e 155px,#d38454 156px,#ffa267 157px,#b67249 158px,#945d3b 159px,#b67148 160px,#df8b59 161px,#ffa468 162px,#ffb573 163px,#ffb473 164px,#fb9d64 165px,#fd9e65 166px,#ffb875 168px,#ffc27c 170px,#ffb976 172px,#ffc47d 176px,#ffc57e 183px,#ffc77f 562px)"></i>
<i style="background:linear-gradient(90deg,#070403 0,#0a0604 18px,#050302 20px,#0a0604 25px,#050302 27px,#090604 31px,#060402 34px,#0a0604 38px,#060302 40px,#0a0604 51px,#060402 53px,#0a0604 58px,#060402 67px,#0a0704 71px,#060403 73px,#0c0705 91px,#080503 93px,#0d0805 97px,#090604 100px,#0f0a06 104px,#0a0604 106px,#100a07 110px,#0c0805 113px,#160e09 117px,#0f0906 119px,#1d120b 124px,#140c08 125px,#140d08 127px,#1c120b 129px,#25170f 130px,#180f09 132px,#180f0a 133px,#23160e 135px,#2f1e13 136px,#492d1d 137px,#281910 138px,#20140d 139px,#2f1d13 141px,#432a1b 142px,#674129 143px,#6e452c 144px,#3a2517 145px,#382316 146px,#492d1d 147px,#674129 148px,#995f3d 149px,#d48555 150px,#68412a 152px,#7d4e32 153px,#ffa267 156px,#ffb070 157px,#e18c59 158px,#cc8051 159px,#eb935e 160px,#ffa76a 161px,#ffbe79 163px,#ffbc78 164px,#ffaf6f 165px,#ffbf7a 168px,#ffc47d 170px,#ffc07a 172px,#ffc57d 176px,#ffc67e 203px,#ffc77f 562px)"></i>
<i style="background:linear-gradient(90deg,#070403 0,#0b0704 5px,#070403 6px,#0a0604 11px,#060402 14px,#0b0704 18px,#060402 20px,#0a0604 31px,#060402 34px,#0b0704 38px,#060402 40px,#0b0704 51px,#060402 53px,#0b0704 64px,#070403 66px,#0c0705 71px,#070403 73px,#0c0805 84px,#080503 86px,#0e0906 97px,#0a0604 100px,#110b07 104px,#0b0705 106px,#130c08 110px,#0e0906 113px,#1a100a 117px,#110a07 119px,#21150d 124px,#160e09 125px,#150d08 126px,#1c120b 128px,#24160e 129px,#332014 130px,#1c110b 132px,#24160e 134px,#2f1d13 135px,#452b1c 136px,#6b432b 137px,#332014 138px,#291a10 139px,#321f14 140px,#442b1b 141px,#664029 142px,#9c613e 143px,#905a39 144px,#503220 145px,#533421 146px,#6f452c 147px,#9c613e 148px,#d28354 149px,#ffa267 150px,#965e3c 152px,#b57148 153px,#dd8a58 154px,#ffa368 155px,#ffb473 156px,#ffb976 157px,#ffa267 158px,#fc9e64 159px,#ffb774 161px,#ffc27c 163px,#ffba76 165px,#ffc57d 170px,#ffc77f 562px)"></i>
<i style="background:linear-gradient(90deg,#070403 0,#0b0704 11px,#060402 14px,#0c0705 18px,#060402 20px,#0b0705 31px,#060403 33px,#0b0704 38px,#070403 40px,#0b0704 44px,#070403 47px,#0c0705 51px,#070403 53px,#0c0705 64px,#070503 66px,#0c0805 71px,#080503 73px,#0c0805 77px,#080503 80px,#0e0906 84px,#090503 86px,#0e0905 90px,#0a0604 93px,#100a06 97px,#0b0704 99px,#130c07 104px,#0d0805 106px,#160e09 110px,#100a06 113px,#140d08 115px,#21140d 117px,#160e09 118px,#130c07 119px,#180f09 121px,#27180f 123px,#27180f 124px,#19100a 125px,#1d120b 127px,#311f14 129px,#4c2f1e 130px,#2f1e13 131px,#21150d 132px,#301e13 134px,#442a1b 135px,#8a5637 137px,#432a1b 138px,#392417 139px,#492e1d 140px,#684129 141px,#99603d 142px,#d48554 143px,#b77249 144px,#71472d 145px,#7c4e32 146px,#a46641 147px,#ffa166 149px,#ffb473 150px,#ee955f 151px,#cc7f51 152px,#e9925d 153px,#ffa569 154px,#ffbd79 156px,#ffbe79 157px,#ffb171 158px,#ffb171 159px,#ffbf79 161px,#ffc47d 163px,#ffc07a 165px,#ffc57d 170px,#ffc67e 201px,#ffc77f 562px)"></i>
<i style="background:linear-gradient(90deg,#070403 0,#0b0704 5px,#060403 7px,#0c0705 11px,#070403 14px,#0c0805 18px,#070403 20px,#0c0705 24px,#070403 27px,#0d0805 31px,#070403 33px,#0c0805 44px,#070503 47px,#0d0805 51px,#070503 53px,#0c0805 57px,#080503 60px,#0d0805 64px,#080503 66px,#0d0805 71px,#080503 73px,#0e0906 77px,#090604 79px,#0f0a06 84px,#0a0604 86px,#100a06 90px,#0b0704 93px,#130c07 97px,#0c0705 99px,#140d08 104px,#0e0906 106px,#1b110b 110px,#110b07 112px,#120b07 113px,#180f0a 115px,#281910 117px,#180f0a 118px,#160e09 119px,#1d120b 121px,#25170f 122px,#362215 123px,#2e1d13 124px,#1e130c 125px,#1e130c 126px,#301e13 128px,#472d1c 129px,#73482e 130px,#3c2618 131px,#2b1b11 132px,#332014 133px,#452b1c 134px,#674029 135px,#9d623e 136px,#ac6c45 137px,#5b3924 138px,#533421 139px,#6e452c 140px,#9a613d 141px,#d18253 142px,#ffa167 143px,#db8957 144px,#9d623e 145px,#b37047 146px,#ffa167 148px,#ffb372 149px,#ffbc78 150px,#ffa76a 151px,#fa9c64 152px,#ffb674 154px,#ffc27b 156px,#ffba77 158px,#ffc47d 163px,#ffc77f 562px)"></i>
<i style="background:linear-gradient(90deg,#070403 0,#0c0705 4px,#070403 7px,#0d0805 11px,#070403 13px,#0d0805 18px,#070503 20px,#0d0805 24px,#080503 27px,#0e0906 31px,#070503 33px,#0d0805 37px,#080503 40px,#0e0905 44px,#080503 46px,#0d0805 51px,#080503 53px,#0d0805 57px,#090503 60px,#0f0906 64px,#090503 66px,#0e0906 70px,#090604 73px,#100a06 77px,#0a0604 79px,#100a06 84px,#0b0704 86px,#120b07 90px,#0c0805 93px,#160e09 97px,#0d0805 99px,#170e09 103px,#100a06 105px,#120b07 107px,#21150d 110px,#130c08 112px,#150d08 113px,#1d120c 115px,#2f1e13 117px,#1c110b 118px,#19100a 119px,#25170f 121px,#332014 122px,#4f311f 123px,#24160e 125px,#27180f 126px,#311f14 127px,#452b1c 128px,#6c432b 129px,#a86943 130px,#4f311f 131px,#3a2517 132px,#4a2e1d 133px,#684129 134px,#995f3d 135px,#d48454 136px,#cf8152 137px,#7d4e32 138px,#7c4e31 139px,#a26540 140px,#ff9f65 142px,#ffb372 143px,#fb9d64 144px,#cc8051 145px,#ffa368 147px,#ffbd78 149px,#ffbf7a 150px,#ffb372 151px,#ffb070 152px,#ffc17b 155px,#ffc57d 163px,#ffc77f 562px)"></i>
<i style="background:linear-gradient(90deg,#070403 0,#0d0805 4px,#070503 7px,#0f0906 11px,#070503 13px,#0d0805 17px,#080503 20px,#0e0906 24px,#080503 26px,#0f0906 31px,#080503 33px,#0e0906 37px,#080503 40px,#0f0a06 44px,#080503 46px,#0e0905 50px,#090604 53px,#0f0906 57px,#090604 60px,#100a06 64px,#090604 66px,#100a06 70px,#0a0604 73px,#120b07 77px,#0b0704 79px,#110b07 83px,#0c0705 86px,#150d08 90px,#0e0805 93px,#180f0a 97px,#0f0906 99px,#1c110b 103px,#120b07 105px,#150d08 107px,#1f130c 109px,#2c1c12 110px,#1b110b 111px,#160e09 112px,#1d120c 114px,#26180f 115px,#372216 116px,#392417 117px,#20140d 118px,#1f130c 119px,#311f14 121px,#492e1d 122px,#774a2f 123px,#492e1d 124px,#2d1c12 125px,#342115 126px,#462c1c 127px,#684129 128px,#9e633f 129px,#c97e50 130px,#69422a 131px,#553522 132px,#6e452c 133px,#99603d 134px,#ffa066 136px,#ee955f 137px,#a66842 138px,#b06e46 139px,#fe9f65 141px,#ffb271 142px,#ffbc78 143px,#ffac6d 144px,#f89b63 145px,#ffa86b 146px,#ffb473 147px,#ffc17b 149px,#fb7 152px,#ffc47d 156px,#ffc77f 562px)"></i>
<i style="background:linear-gradient(90deg,#080503 0,#0e0906 4px,#080503 7px,#100a06 11px,#080503 13px,#0e0906 17px,#080503 20px,#100a06 24px,#080503 26px,#0f0906 31px,#090604 33px,#100a06 37px,#090604 40px,#110b07 44px,#090604 46px,#0f0a06 50px,#0a0604 53px,#110b07 57px,#0a0604 59px,#100a07 64px,#0a0704 66px,#120b07 70px,#0b0704 72px,#140d08 77px,#0c0705 79px,#140c08 83px,#0d0805 86px,#180f0a 90px,#0e0906 92px,#1a100a 97px,#120b07 98px,#110a07 99px,#150d08 101px,#23160e 103px,#140c08 105px,#180f0a 107px,#281910 109px,#3b2518 110px,#1e130c 111px,#1a100a 112px,#25170f 114px,#332014 115px,#503220 116px,#472c1c 117px,#271910 118px,#271910 119px,#321f14 120px,#472c1c 121px,#6e442c 122px,#aa6a44 123px,#5f3b26 124px,#3d2618 125px,#4b2f1e 126px,#68412a 127px,#985f3d 128px,#d38454 129px,#e6905c 130px,#8b5737 131px,#7c4d31 132px,#9f643f 133px,#fc9e64 135px,#ffb271 136px,#ffa469 137px,#d18353 138px,#e28d5a 139px,#ffa167 140px,#ffb171 141px,#ffc07b 143px,#ffae6f 145px,#ffbd78 147px,#ffc37c 149px,#ffc07a 151px,#ffc47d 156px,#ffc77f 562px)"></i>
<i style="background:linear-gradient(90deg,#080503 0,#100a06 4px,#080503 6px,#100a06 11px,#090503 13px,#100a06 17px,#090604 20px,#120b07 24px,#090604 26px,#100a06 30px,#0a0604 33px,#120b07 37px,#0a0604 39px,#120b07 44px,#0a0604 46px,#120b07 50px,#0b0704 53px,#140c08 57px,#0b0704 59px,#120b07 63px,#0c0705 66px,#150d08 70px,#0c0805 72px,#160e09 77px,#0d0805 79px,#170f09 83px,#0f0906 86px,#1e120c 90px,#130c08 91px,#100a06 92px,#1e130c 96px,#130c08 99px,#19100a 101px,#20140d 102px,#2e1d12 103px,#1e130c 104px,#170e09 105px,#1d120c 107px,#26180f 108px,#482d1d 110px,#24160e 111px,#1f130c 112px,#311f14 114px,#492e1d 115px,#764a2f 116px,#593824 117px,#311f14 118px,#352115 119px,#472c1c 120px,#69412a 121px,#9f633f 122px,#dd8a58 123px,#7b4d31 124px,#563622 125px,#6e452c 126px,#985f3c 127px,#fe9f65 129px,#ff9f65 130px,#b37047 131px,#ae6d45 132px,#fb9d64 134px,#ffb070 135px,#fb7 136px,#ffb070 137px,#f79b62 138px,#ffa569 139px,#fb7 141px,#ffc07a 142px,#ffc27b 143px,#ffb976 145px,#ffc47d 149px,#ffc77f 562px)"></i>
<i style="background:linear-gradient(90deg,#090604 0,#120b07 4px,#090604 6px,#100a06 11px,#090604 13px,#120b07 17px,#0a0604 20px,#130c08 24px,#0a0604 26px,#120b07 30px,#0b0704 33px,#140d08 37px,#0a0704 39px,#120b07 44px,#0b0704 46px,#140d08 50px,#0b0705 52px,#160d09 57px,#0c0705 59px,#150d08 63px,#0d0805 66px,#180f0a 70px,#0d0805 72px,#170e09 77px,#0f0906 79px,#1c110b 83px,#100a06 85px,#160e09 88px,#23160e 90px,#150d08 91px,#120b07 92px,#170e09 94px,#26180f 96px,#160e09 98px,#160e09 99px,#1f130c 101px,#2a1a11 102px,#40281a 103px,#23160e 104px,#1a100a 105px,#1e130c 106px,#25170f 107px,#332014 108px,#503220 109px,#583723 110px,#2b1b11 111px,#271910 112px,#311f14 113px,#462c1c 114px,#6c432b 115px,#a96943 116px,#71472d 117px,#41281a 118px,#4b2f1e 119px,#684129 120px,#985f3c 121px,#d28354 122px,#fc9e64 123px,#9d623f 124px,#7d4e32 125px,#9e633f 126px,#f99c63 128px,#ffb171 129px,#ffab6d 130px,#d98856 131px,#de8b59 132px,#fe9f65 133px,#ffaf70 134px,#ffc07a 136px,#ffad6e 138px,#fb7 140px,#ffc27c 142px,#ffbf7a 145px,#ffc47d 149px,#ffc77f 562px)"></i>
<i style="background:linear-gradient(90deg,#0a0604 0,#140d08 4px,#090604 6px,#120b07 10px,#0a0604 13px,#150d08 17px,#0a0604 19px,#140c08 24px,#0b0704 26px,#150d08 30px,#0c0705 33px,#180f09 37px,#0e0906 38px,#0b0705 39px,#140d08 43px,#0c0805 46px,#170f09 50px,#0c0805 52px,#170e09 57px,#0d0805 59px,#180f0a 63px,#0e0906 65px,#0e0906 66px,#120b07 68px,#1d120c 70px,#110b07 71px,#0f0906 72px,#1b110b 76px,#100a06 79px,#150d08 81px,#23160e 83px,#170e09 84px,#120b07 85px,#150d09 87px,#27180f 90px,#170e09 91px,#140d08 92px,#1b110b 94px,#23160e 95px,#322014 96px,#180f0a 98px,#1e130c 100px,#271810 101px,#392417 102px,#5d3a25 103px,#291910 104px,#20140d 105px,#311f13 107px,#482d1d 108px,#75492e 109px,#6d442b 110px,#362215 111px,#342115 112px,#452b1c 113px,#664028 114px,#9b613e 115px,#da8857 116px,#8e5939 117px,#583723 118px,#6d442b 119px,#965e3c 120px,#fc9e64 122px,#ffa96c 123px,#c2794d 124px,#ad6c45 125px,#f79b62 127px,#ffaf6f 128px,#ffba77 129px,#ffb473 130px,#fb9d64 131px,#ffa368 132px,#ffba76 134px,#ffc27c 136px,#ffb875 138px,#ffc37c 142px,#ffc57d 162px,#ffc77f 562px)"></i>
<i style="background:linear-gradient(90deg,#0a0604 0,#150d08 4px,#0c0805 5px,#0a0604 6px,#140d08 10px,#0b0704 13px,#180f09 17px,#0b0704 19px,#150d08 23px,#0c0705 26px,#180f09 30px,#0c0805 32px,#0d0805 33px,#190f0a 37px,#0f0906 38px,#0c0805 39px,#180f09 43px,#0d0805 45px,#0d0805 46px,#1c110b 50px,#110b07 51px,#0d0805 52px,#180f0a 56px,#0e0906 59px,#120b07 61px,#1d120c 63px,#0f0906 65px,#150d08 68px,#20140d 70px,#130c07 71px,#100a06 72px,#150d08 74px,#21150d 76px,#120c07 78px,#120b07 79px,#190f0a 81px,#20140d 82px,#2d1c12 83px,#19100a 84px,#140c08 85px,#19100a 87px,#2c1b12 89px,#2c1c12 90px,#19100a 91px,#170f09 92px,#21150d 94px,#2e1d12 95px,#472c1c 96px,#2b1b11 97px,#1c120b 98px,#26180f 100px,#352115 101px,#72482e 103px,#311f14 104px,#281910 105px,#311f14 106px,#452b1b 107px,#69422a 108px,#a56742 109px,#865435 110px,#452b1c 111px,#492e1d 112px,#643f28 113px,#925b3a 114px,#cd8052 115px,#ffa167 116px,#af6d46 117px,#7c4d31 118px,#9b613e 119px,#f69a62 121px,#ffaf70 122px,#ffb171 123px,#e38e5b 124px,#dc8957 125px,#fa9c63 126px,#ffae6f 127px,#ffbf7a 129px,#ffba76 130px,#ffac6e 131px,#ffc27b 135px,#ffbe79 138px,#ffc47d 142px,#ffc77f 562px)"></i>
<i style="background:linear-gradient(90deg,#0b0704 0,#150d08 4px,#0c0805 5px,#0b0704 6px,#170e09 10px,#0c0705 12px,#0c0705 13px,#1b110b 17px,#0f0906 18px,#0c0705 19px,#180f09 23px,#0d0805 26px,#110b07 28px,#1c120b 30px,#0d0805 32px,#19100a 37px,#0f0a06 38px,#0e0905 39px,#110b07 41px,#1c120b 43px,#0e0906 45px,#0f0906 46px,#130c08 48px,#20140d 50px,#120b07 51px,#0f0906 52px,#120b07 54px,#1d120b 56px,#100a07 58px,#100a06 59px,#150d08 61px,#24160e 63px,#160e09 64px,#110a07 65px,#140d08 67px,#23160e 70px,#140d08 71px,#120b07 72px,#180f0a 74px,#2b1b11 76px,#140d08 78px,#1e130c 81px,#281910 82px,#3b2518 83px,#1c110b 84px,#170e09 85px,#1e130c 87px,#281910 88px,#3c2618 89px,#332014 90px,#1d120b 91px,#1c110b 92px,#2b1b11 94px,#3f2719 95px,#674029 96px,#332014 97px,#22150d 98px,#332014 100px,#4a2e1d 101px,#764a2f 102px,#895636 103px,#3d2618 104px,#352115 105px,#442b1b 106px,#633e27 107px,#965e3c 108px,#d58555 109px,#a26541 110px,#5c3925 111px,#69422a 112px,#8f5a39 113px,#f79b62 115px,#ffb070 116px,#cf8152 117px,#aa6a44 118px,#f39861 120px,#ffad6e 121px,#ffb976 122px,#ffb775 123px,#ffa066 124px,#ffa166 125px,#ffb875 127px,#ffbf79 128px,#ffc27b 129px,#ffb774 131px,#ffbf7a 133px,#ffc37c 136px,#ffc77f 562px)"></i>
<i style="background:linear-gradient(90deg,#0c0805 0,#160e09 3px,#150d08 4px,#0d0805 5px,#0d0805 7px,#1b110b 10px,#0c0805 12px,#0d0805 13px,#1b110b 17px,#0f0906 18px,#0d0805 19px,#110b07 21px,#1c110b 23px,#0e0906 25px,#0e0906 26px,#130c08 28px,#22150d 30px,#120b07 31px,#0e0906 32px,#120b07 34px,#1c120b 36px,#1b110b 37px,#100a06 38px,#110b07 40px,#190f0a 42px,#22150e 43px,#150d09 44px,#0f0a06 45px,#130c07 47px,#22150e 50px,#130c08 51px,#120b07 53px,#1a100a 55px,#24160e 56px,#120b07 58px,#120b07 59px,#180f0a 61px,#20140d 62px,#2e1d12 63px,#170f09 64px,#120c07 65px,#170f09 67px,#291a10 69px,#26180f 70px,#160e09 71px,#150d08 72px,#1d120b 74px,#26180f 75px,#392417 76px,#21150d 77px,#170e09 78px,#1d120b 80px,#25170f 81px,#442b1b 83px,#1f140c 84px,#1a100a 85px,#26180f 87px,#362215 88px,#553522 89px,#21150d 91px,#22150e 92px,#2a1a11 93px,#3a2417 94px,#5a3824 95px,#915b3a 96px,#3d2618 97px,#2a1a11 98px,#332014 99px,#462c1c 100px,#6b432a 101px,#a56742 102px,#a26540 103px,#4e311f 104px,#492d1d 105px,#623d27 106px,#8d5838 107px,#fd9e65 109px,#c0784c 110px,#7b4d31 111px,#945c3b 112px,#f0965f 114px,#ffad6e 115px,#ffb674 116px,#ec945e 117px,#d78656 118px,#f59961 119px,#ffab6d 120px,#ffbe79 122px,#ffbc77 123px,#ffad6e 124px,#ffbe79 127px,#ffc37c 129px,#ffbd78 131px,#ffc37c 135px,#ffc67e 187px,#ffc77f 562px)"></i>
<i style="background:linear-gradient(90deg,#0d0805 0,#1a100a 3px,#0d0805 5px,#0f0906 7px,#160e09 9px,#20140d 10px,#120b07 11px,#0d0805 12px,#1c110b 17px,#100a06 18px,#0e0906 19px,#130c07 21px,#21150d 23px,#0f0906 25px,#100a06 26px,#160d09 28px,#26180f 30px,#130c07 31px,#100a06 32px,#140c08 34px,#22160e 36px,#110b07 38px,#110a07 39px,#170e09 41px,#1d120c 42px,#2b1b11 43px,#170e09 44px,#110b07 45px,#150d08 47px,#24160e 49px,#25170f 50px,#140d08 51px,#120b07 52px,#180f0a 54px,#1f140c 55px,#2e1c12 56px,#1d120b 57px,#130c08 58px,#1d120b 61px,#372216 63px,#19100a 64px,#150d08 65px,#1c110b 67px,#24170f 68px,#362216 69px,#180f0a 71px,#180f0a 72px,#23160e 74px,#321f14 75px,#503220 76px,#25170f 77px,#1a100a 78px,#23160e 80px,#301e13 81px,#4b2f1e 82px,#4f311f 83px,#24160e 84px,#20140d 85px,#321f14 87px,#4b2f1e 88px,#794c30 89px,#472d1c 90px,#271910 91px,#2b1b11 92px,#382316 93px,#523321 94px,#b37047 96px,#4c2f1e 97px,#382316 98px,#472c1c 99px,#653f28 100px,#965e3c 101px,#d48454 102px,#bc754b 103px,#643f28 104px,#674029 105px,#8a5637 106px,#f19760 108px,#ffaf6f 109px,#dc8957 110px,#a46641 111px,#c37a4e 112px,#ec935e 113px,#ffa96c 114px,#ffb875 115px,#ffba76 116px,#ffa368 117px,#fc9e64 118px,#ffb774 120px,#ffc17b 122px,#ffb674 124px,#ffc27c 128px,#ffc47d 142px,#ffc77f 562px)"></i>
<i style="background:linear-gradient(90deg,#0f0906 0,#1e130c 3px,#0e0906 5px,#100a06 7px,#1a100a 9px,#27180f 10px,#120b07 11px,#0e0906 12px,#120c07 14px,#20140d 16px,#1c120b 17px,#110a07 18px,#100a06 19px,#150d08 21px,#1c110b 22px,#291a10 23px,#170e09 24px,#100a06 25px,#140d08 27px,#271910 30px,#140c08 31px,#110b07 32px,#170e09 34px,#1e120c 35px,#2b1b11 36px,#120b07 38px,#130c07 39px,#1a110b 41px,#24160e 42px,#382316 43px,#180f0a 44px,#130c07 45px,#180f0a 47px,#1f140d 48px,#2d1c12 49px,#271910 50px,#160e09 51px,#140d08 52px,#1d120b 54px,#271810 55px,#3c2618 56px,#1f140c 57px,#150d08 58px,#1b110b 60px,#3d2618 63px,#1c110b 64px,#180f09 65px,#22150d 67px,#2f1d13 68px,#4a2e1d 69px,#1b110b 71px,#1c120b 72px,#2d1c12 74px,#442a1b 75px,#70462c 76px,#2a1a11 77px,#1f130c 78px,#2e1d12 80px,#42291a 81px,#69422a 82px,#5c3a25 83px,#2a1a11 84px,#271910 85px,#311f14 86px,#452b1b 87px,#6a422a 88px,#a66842 89px,#563622 90px,#311f14 91px,#3a2417 92px,#4e311f 93px,#74492e 94px,#af6d45 95px,#c87d50 96px,#5f3b26 97px,#4c301e 98px,#643e28 99px,#8e5838 100px,#fb9d64 102px,#d58555 103px,#825134 104px,#8f5939 105px,#e9915d 107px,#ffaa6c 108px,#ffb875 109px,#f59961 110px,#d08253 111px,#ed945e 112px,#ffa76b 113px,#ffbd78 115px,#ffbd78 116px,#ffae6f 117px,#ffae6f 118px,#ffc07b 121px,#ffbc78 124px,#ffc37c 129px,#ffc77f 562px)"></i>
<i style="background:linear-gradient(90deg,#100a06 0,#19100a 2px,#24170e 3px,#160e09 4px,#0f0906 5px,#100a06 6px,#160e09 8px,#281910 10px,#130c08 11px,#100a06 12px,#150d08 14px,#271810 16px,#110b07 18px,#110b07 19px,#180f0a 21px,#21150d 22px,#342115 23px,#180f09 24px,#110b07 25px,#170e09 27px,#2a1b11 29px,#291a10 30px,#150d08 31px,#130c08 32px,#1b110b 34px,#24160e 35px,#372316 36px,#1f130c 37px,#140c08 38px,#20140d 41px,#3d2618 43px,#1a100a 44px,#150d08 45px,#1d120b 47px,#27180f 48px,#3c2518 49px,#180f09 51px,#170f09 52px,#23160e 54px,#321f14 55px,#523321 56px,#22150e 57px,#180f0a 58px,#21150d 60px,#2d1c12 61px,#462b1c 62px,#442b1b 63px,#1f130c 64px,#1c110b 65px,#2b1b11 67px,#3f2719 68px,#674029 69px,#362216 70px,#1f140c 71px,#2b1b11 73px,#3c2618 74px,#815133 76px,#311f14 77px,#25170f 78px,#2d1c12 79px,#3d2618 80px,#5c3a25 81px,#925b3a 82px,#6d442b 83px,#332014 84px,#332014 85px,#432a1b 86px,#613d27 87px,#945c3b 88px,#d28454 89px,#68412a 90px,#40281a 91px,#503220 92px,#6f452c 93px,#a06440 94px,#db8957 95px,#dd8a58 96px,#774a2f 97px,#6a432a 98px,#8b5737 99px,#ef955f 101px,#ffad6e 102px,#ec935e 103px,#a66842 104px,#bd764b 105px,#e48f5b 106px,#ffa66a 107px,#ffb574 108px,#fb7 109px,#ffa669 110px,#f59962 111px,#ffa86b 112px,#ffb473 113px,#ffc07a 115px,#ffbf79 116px,#ffb674 117px,#ffc37c 122px,#ffc47d 135px,#ffc77f 562px)"></i>
<i style="background:linear-gradient(90deg,#120b07 0,#1d120c 2px,#2d1c12 3px,#160e09 4px,#100a06 5px,#140d08 7px,#281910 10px,#140c08 11px,#110b07 12px,#180f09 14px,#20140d 15px,#311f13 16px,#1e130c 17px,#130c07 18px,#130c08 19px,#1d120b 21px,#291a10 22px,#40281a 23px,#19100a 24px,#130c08 25px,#1a100a 27px,#23160e 28px,#362216 29px,#2b1b11 30px,#160e09 31px,#150d08 32px,#20140d 34px,#2d1c12 35px,#492e1d 36px,#21150d 37px,#160e09 38px,#1d120c 40px,#27180f 41px,#3b2517 42px,#41291a 43px,#1c110b 44px,#180f0a 45px,#23160e 47px,#321f14 48px,#503220 49px,#2f1d13 50px,#1a100a 51px,#1b110b 52px,#2c1c12 54px,#432a1b 55px,#6a432a 56px,#26180f 57px,#1c120b 58px,#291a10 60px,#3b2518 61px,#603c26 62px,#4d301f 63px,#23160e 64px,#21150d 65px,#291a10 66px,#382316 67px,#563622 68px,#8c5838 69px,#3f2719 70px,#25170f 71px,#2b1b11 72px,#382316 73px,#533421 74px,#835234 75px,#925b3a 76px,#3a2417 77px,#301e13 78px,#3c2518 79px,#543522 80px,#805033 81px,#be774c 82px,#3f2719 84px,#452b1b 85px,#5d3a25 86px,#875436 87px,#c1784d 88px,#f39861 89px,#7f4f33 90px,#583723 91px,#6f452c 92px,#985f3d 93px,#fe9f65 95px,#f09660 96px,#955d3b 97px,#925b3a 98px,#e6905c 100px,#ffa86b 101px,#ffb775 102px,#ffa066 103px,#cc7f51 104px,#ffa468 106px,#ffbc78 108px,#ffbe79 109px,#ffaf70 110px,#ffaa6d 111px,#ffbf7a 114px,#ffc07a 116px,#fb7 117px,#ffc37c 122px,#ffc77f 562px)"></i>
<i style="background:linear-gradient(90deg,#140c08 0,#23160e 2px,#382316 3px,#170e09 4px,#110b07 5px,#170e09 7px,#1e130c 8px,#2d1c12 9px,#291a10 10px,#150d08 11px,#130c08 12px,#1b110b 14px,#27180f 15px,#3f2719 16px,#1f140d 17px,#140c08 18px,#150d09 19px,#22150e 21px,#42291a 23px,#1b110b 24px,#160d09 25px,#1f130c 27px,#2c1b11 28px,#472c1c 29px,#180f0a 31px,#180f0a 32px,#26180f 34px,#3a2417 35px,#623d27 36px,#24160e 37px,#190f0a 38px,#23160e 40px,#311f14 41px,#4e311f 42px,#472c1c 43px,#1f130c 44px,#1c110b 45px,#2c1b11 47px,#41291a 48px,#6c442b 49px,#332014 50px,#1d120c 51px,#291910 53px,#392417 54px,#5b3924 55px,#75492e 56px,#2b1b11 57px,#21150d 58px,#281910 59px,#352115 60px,#503220 61px,#825134 62px,#291910 64px,#291a10 65px,#352115 66px,#4c301e 67px,#774a2f 68px,#b77249 69px,#492e1d 70px,#2e1d12 71px,#382316 72px,#4c301e 73px,#72482e 74px,#ad6c45 75px,#a46641 76px,#472c1c 77px,#3f2719 78px,#523320 79px,#75492f 80px,#e68f5b 82px,#955d3b 83px,#513220 84px,#5f3b26 85px,#805033 86px,#e9915d 88px,#ffa066 89px,#99603d 90px,#784b30 91px,#975f3c 92px,#f39861 94px,#ffae6f 95px,#ffa166 96px,#b57148 97px,#bd764b 98px,#e28d5a 99px,#ffa468 100px,#ffb473 101px,#ffbc78 102px,#ffaa6c 103px,#f09660 104px,#ffa468 105px,#ffb171 106px,#ffbf7a 108px,#ffbf7a 109px,#ffb674 110px,#ffb573 111px,#ffc27c 115px,#ffbf79 117px,#ffc37c 122px,#ffc67e 201px,#ffc77f 562px)"></i>
<i style="background:linear-gradient(90deg,#160e09 0,#1d120b 1px,#2a1a11 2px,#3e2719 3px,#180f0a 4px,#130c07 5px,#1a100a 7px,#24160e 8px,#392417 9px,#160e09 11px,#150d08 12px,#20140d 14px,#301e13 15px,#513320 16px,#21150d 17px,#160e09 18px,#1e130c 20px,#2a1a11 21px,#42291a 22px,#452b1b 23px,#1c120b 24px,#180f0a 25px,#25170f 27px,#382316 28px,#5d3a25 29px,#311f13 30px,#1a110b 31px,#1c120b 32px,#23160e 33px,#301e13 34px,#4c2f1e 35px,#72472d 36px,#27180f 37px,#1c120b 38px,#2b1b11 40px,#402819 41px,#69412a 42px,#4d301f 43px,#22150e 44px,#21140d 45px,#281910 46px,#382316 47px,#583723 48px,#8f5a39 49px,#392417 50px,#22150e 51px,#271910 52px,#342015 53px,#4d301e 54px,#7b4d31 55px,#805033 56px,#311f13 57px,#291910 58px,#332014 59px,#472c1c 60px,#6e442c 61px,#aa6a44 62px,#633e27 63px,#301e13 64px,#352115 65px,#462c1c 66px,#684129 67px,#cf8253 69px,#573622 70px,#3b2518 71px,#4a2e1e 72px,#69412a 73px,#9a603d 74px,#d58555 75px,#b77249 76px,#573623 77px,#553522 78px,#70462d 79px,#9e633f 80px,#d58555 81px,#ffa368 82px,#ac6c45 83px,#6a422a 84px,#815133 85px,#ab6b44 86px,#dc8a58 87px,#ffa469 88px,#ffa86b 89px,#b57148 90px,#a06440 91px,#c37a4d 92px,#ec935e 93px,#ffa96c 94px,#ffb775 95px,#ffa96c 96px,#d58555 97px,#e58f5b 98px,#ffa267 99px,#ffb171 100px,#ffbe79 102px,#ffa76b 104px,#ffbe79 107px,#ffc07a 109px,#fb7 110px,#ffc27c 115px,#ffc77f 562px)"></i>
<i style="background:linear-gradient(90deg,#19100a 0,#22150d 1px,#342015 2px,#3e2719 3px,#19100a 4px,#150d08 5px,#180f0a 6px,#1e130c 7px,#2c1b11 8px,#492e1d 9px,#2c1b11 10px,#170e09 11px,#180f09 12px,#271810 14px,#3d2618 15px,#69422a 16px,#23160e 17px,#180f0a 18px,#24160e 20px,#342115 21px,#563622 22px,#482d1d 23px,#1f130c 24px,#1c120b 25px,#2e1d12 27px,#482d1d 28px,#7a4c30 29px,#352115 30px,#1e120c 31px,#2b1b11 33px,#3e2719 34px,#643f28 35px,#784b30 36px,#2b1b11 37px,#21150d 38px,#281910 39px,#372216 40px,#553522 41px,#8a5637 42px,#543521 43px,#27180f 44px,#281910 45px,#332014 46px,#4a2e1d 47px,#75492f 48px,#b57148 49px,#41291a 50px,#291a10 51px,#321f14 52px,#442b1b 53px,#674129 54px,#a16440 55px,#8c5838 56px,#392417 57px,#332014 58px,#42291a 59px,#603c26 60px,#925b3a 61px,#d18253 62px,#71472d 63px,#3b2517 64px,#452b1c 65px,#5f3c26 66px,#8c5838 67px,#c77c4f 68px,#dd8a58 69px,#674029 70px,#4f311f 71px,#653f28 72px,#8d5838 73px,#f79a62 75px,#c97d50 76px,#6c442b 77px,#73482e 78px,#975e3c 79px,#f79b62 81px,#ffaf70 82px,#c37a4e 83px,#8d5838 84px,#ab6b44 85px,#fd9e65 87px,#ffb171 88px,#ffae6f 89px,#d18253 90px,#c97e50 91px,#e9925d 92px,#ffa66a 93px,#ffbc78 95px,#ffb070 96px,#f39861 97px,#ffa367 98px,#ffb976 100px,#ffbe79 101px,#ffbf7a 102px,#ffb372 104px,#ffc07a 107px,#ffc27c 115px,#ffc77f 562px)"></i>
<i style="background:linear-gradient(90deg,#1d120b 0,#281910 1px,#41291a 2px,#3f2719 3px,#1a100a 4px,#170e09 5px,#1b110b 6px,#24170e 7px,#372216 8px,#5e3b25 9px,#2d1c12 10px,#19100a 11px,#1b110b 12px,#22150d 13px,#301e13 14px,#6e452c 16px,#25170f 17px,#1c110b 18px,#2c1b11 20px,#432a1b 21px,#70462d 22px,#4c301e 23px,#21150d 24px,#21140d 25px,#291a10 26px,#3b2517 27px,#5e3b26 28px,#9b613e 29px,#392417 30px,#22150e 31px,#281910 32px,#352115 33px,#513320 34px,#835234 35px,#805033 36px,#2f1e13 37px,#281910 38px,#321f14 39px,#482d1d 40px,#70462d 41px,#ae6d45 42px,#5d3a25 43px,#2d1c12 44px,#311f14 45px,#42291a 46px,#633e27 47px,#99603d 48px,#c1794d 49px,#4a2e1d 50px,#342015 51px,#40281a 52px,#5b3924 53px,#895637 54px,#c67c4f 55px,#9a603d 56px,#432a1b 57px,#432a1b 58px,#593723 59px,#815033 60px,#f19760 62px,#825134 63px,#4c2f1e 64px,#5d3a25 65px,#805033 66px,#ea925d 68px,#e9925d 69px,#7b4d31 70px,#69422a 71px,#885536 72px,#e8915c 74px,#ffa96c 75px,#db8957 76px,#875436 77px,#985f3d 78px,#ec935e 80px,#ffaa6c 81px,#ffb372 82px,#da8857 83px,#b47148 84px,#f79a62 86px,#ffad6e 87px,#ffb875 88px,#ffb272 89px,#ea925d 90px,#ed945e 91px,#ffa469 92px,#ffb271 93px,#ffbe79 95px,#ffa76a 97px,#ffb875 99px,#ffc07a 101px,#ffba76 104px,#ffc27b 108px,#ffc77f 562px)"></i>
<i style="background:linear-gradient(90deg,#22150d 0,#321f14 1px,#533421 2px,#40281a 3px,#1c110b 4px,#1a100a 5px,#20140d 6px,#2c1b11 7px,#452b1c 8px,#784b30 9px,#301e13 10px,#1b110b 11px,#291910 13px,#3c2618 14px,#653f28 15px,#71472d 16px,#281910 17px,#20140d 18px,#271910 19px,#372216 20px,#563622 21px,#8f5a39 22px,#513320 23px,#25170f 24px,#271810 25px,#332014 26px,#4c301e 27px,#7b4d31 28px,#b67249 29px,#3f2719 30px,#291910 31px,#311f14 32px,#452b1b 33px,#6a422a 34px,#a66842 35px,#885536 36px,#362215 37px,#311f14 38px,#40281a 39px,#5e3b26 40px,#915b3a 41px,#d08253 42px,#674029 43px,#352115 44px,#3f2719 45px,#573623 46px,#825134 47px,#be764b 48px,#cb7f51 49px,#553522 50px,#42291a 51px,#553522 52px,#794b30 53px,#e7915c 55px,#a96a43 56px,#513320 57px,#583723 58px,#764a2f 59px,#dd8a58 61px,#ffa468 62px,#955d3b 63px,#633e28 64px,#7c4e31 65px,#a76842 66px,#d98857 67px,#ffa368 68px,#f59962 69px,#935c3a 70px,#8b5737 71px,#af6e46 72px,#dc8957 73px,#ffa368 74px,#ffb372 75px,#ec935e 76px,#a76842 77px,#c0784c 78px,#e58f5b 79px,#ffa569 80px,#ffb472 81px,#ffb674 82px,#ef955f 83px,#d98856 84px,#f49961 85px,#ffaa6c 86px,#ffbc78 88px,#ffb674 89px,#ffa066 90px,#ffb976 93px,#ffc07a 95px,#ffb271 97px,#ffbf7a 100px,#ffc27b 108px,#ffc77f 562px)"></i>
<i style="background:linear-gradient(90deg,#281910 0,#3e2719 1px,#6a422a 2px,#1e130c 4px,#1e130c 5px,#26180f 6px,#362216 7px,#593723 8px,#965e3c 9px,#321f14 10px,#1f130c 11px,#25170f 12px,#321f14 13px,#4d301f 14px,#805033 15px,#75492f 16px,#2b1b11 17px,#26180f 18px,#301e13 19px,#462c1c 20px,#70462c 21px,#b06e46 22px,#573622 23px,#2a1a11 24px,#301e13 25px,#41291a 26px,#633e27 27px,#9b613e 28px,#bc754b 29px,#452b1c 30px,#311f14 31px,#3e2719 32px,#593824 33px,#895637 34px,#c77c4f 35px,#915b3a 36px,#3e2719 37px,#3e2719 38px,#543421 39px,#7b4d31 40px,#ed945e 42px,#73482e 43px,#432a1a 44px,#523321 45px,#73482e 46px,#de8b59 48px,#d58555 49px,#633e28 50px,#553522 51px,#70462d 52px,#ffa166 55px,#b87349 56px,#643e28 57px,#74482e 58px,#9a603d 59px,#fa9c64 61px,#ffa86b 62px,#a96a43 63px,#825134 64px,#a16540 65px,#f89b63 67px,#ffae6f 68px,#ffa066 69px,#ad6c45 70px,#b16f46 71px,#fa9c64 73px,#ffae6f 74px,#ffb875 75px,#fb9d64 76px,#ca7e51 77px,#ffa167 79px,#ffb976 81px,#ffb976 82px,#ffa066 83px,#f89b63 84px,#ffa86b 85px,#ffb472 86px,#ffbe79 88px,#ffb976 89px,#ffab6d 90px,#ffbf7a 94px,#ffb976 97px,#ffc17b 101px,#ffc67e 228px,#ffc77f 562px)"></i>
<i style="background:linear-gradient(90deg,#311f14 0,#4e311f 1px,#855335 2px,#442b1b 3px,#20140d 4px,#23160e 5px,#2e1c12 6px,#442b1b 7px,#a46641 9px,#352115 10px,#24170e 11px,#2c1c12 12px,#3f2719 13px,#633e27 14px,#9f643f 15px,#794c30 16px,#301e13 17px,#2d1c12 18px,#3c2518 19px,#5a3824 20px,#8e5938 21px,#ce8152 22px,#5d3a25 23px,#311f14 24px,#3b2518 25px,#533421 26px,#7f4f33 27px,#bc754b 28px,#c1794d 29px,#4e301f 30px,#3d2618 31px,#503220 32px,#74492e 33px,#e48f5b 35px,#9c613e 36px,#492d1d 37px,#503220 38px,#6d442b 39px,#9d623f 40px,#d58555 41px,#fa9c64 42px,#805033 43px,#553522 44px,#6b432b 45px,#945c3b 46px,#f99c63 48px,#df8b59 49px,#74492e 50px,#6f462c 51px,#915b3a 52px,#f09660 54px,#ffac6d 55px,#c87d4f 56px,#7d4e32 57px,#965e3c 58px,#ec935e 60px,#ffa96c 61px,#ffab6d 62px,#be774c 63px,#a56742 64px,#c67c4f 65px,#ed945e 66px,#ffa96b 67px,#ffb573 68px,#ffa66a 69px,#c77c4f 70px,#d48554 71px,#f49861 72px,#ffaa6c 73px,#ffb674 74px,#fb7 75px,#ffa569 76px,#ea925d 77px,#ffa066 78px,#ffb775 80px,#ffbc78 81px,#ffba77 82px,#ffaa6c 83px,#ffa96c 84px,#ffb976 86px,#ffbf7a 88px,#ffb372 90px,#ffc07a 94px,#ffbd78 97px,#ffc17b 101px,#ffc67e 230px,#ffc77f 562px)"></i>
<i style="background:linear-gradient(90deg,#3d2618 0,#633e27 1px,#a26541 2px,#472c1c 3px,#24160e 4px,#291a10 5px,#382316 6px,#573622 7px,#8d5838 8px,#a66842 9px,#392417 10px,#2b1b11 11px,#362216 12px,#4f3220 13px,#7e4e32 14px,#bd764b 15px,#7f4f32 16px,#352115 17px,#382316 18px,#4c2f1e 19px,#73482e 20px,#e8915c 22px,#653f28 23px,#3c2618 24px,#4b2f1e 25px,#6b432b 26px,#d98856 28px,#c87d4f 29px,#583723 30px,#4e301f 31px,#674029 32px,#935c3b 33px,#cb7f51 34px,#fb9d64 35px,#573623 37px,#674029 38px,#8c5738 39px,#f19660 41px,#ffa066 42px,#905a39 43px,#6d442b 44px,#8a5637 45px,#e7905c 47px,#ffa86b 48px,#e9915d 49px,#895536 50px,#8f5939 51px,#e18d5a 53px,#ffa469 54px,#ffb372 55px,#d78656 56px,#9d623f 57px,#b9744a 58px,#e08c59 59px,#ffa368 60px,#ffb271 61px,#ffae6f 62px,#d28454 63px,#c77d4f 64px,#ffa468 66px,#ffb976 68px,#ffab6d 69px,#e18d5a 70px,#ffa76a 72px,#ffba76 74px,#ffbc77 75px,#ffa267 77px,#ffb573 79px,#ffbe79 81px,#ffbc78 82px,#ffb171 83px,#ffc07a 88px,#ffb976 90px,#ffc17b 94px,#ffc57e 170px,#ffc77f 562px)"></i>
<i style="background:linear-gradient(90deg,#4c301e 0,#7c4d31 1px,#bd764b 2px,#4a2e1e 3px,#291a10 4px,#321f14 5px,#462c1c 6px,#6d442c 7px,#ab6b44 8px,#a86943 9px,#3e2719 10px,#342015 11px,#442a1b 12px,#653f28 13px,#d88756 15px,#855335 16px,#3d2618 17px,#452b1c 18px,#613c26 19px,#905a39 20px,#cb7f51 21px,#ec945e 22px,#6f452c 23px,#4a2f1e 24px,#603c26 25px,#885536 26px,#f29760 28px,#ce8152 29px,#643f28 30px,#633e27 31px,#835234 32px,#e7905c 34px,#ffa76b 35px,#b37047 36px,#6c432b 37px,#835234 38px,#dd8a58 40px,#ffa368 41px,#ffa367 42px,#a16540 43px,#8a5637 44px,#ac6b44 45px,#ff9f65 47px,#ffaf70 48px,#f29760 49px,#a06440 50px,#b16e46 51px,#fb9d64 53px,#ffae6f 54px,#ffb473 55px,#e6905b 56px,#be774c 57px,#fb9d64 59px,#ffad6e 60px,#ffb774 61px,#ffb171 62px,#e6905c 63px,#e6905c 64px,#ffa066 65px,#ffae6f 66px,#fb7 68px,#ffb070 69px,#fa9c63 70px,#ffb171 72px,#ffbc78 74px,#ffbc78 75px,#ffb171 76px,#ffad6e 77px,#ffbd78 80px,#ffbd78 82px,#ffb674 83px,#ffc07a 88px,#ffbc78 90px,#ffc27c 108px,#ffc67e 218px,#ffc77f 562px)"></i>
<i style="background:linear-gradient(90deg,#603c26 0,#d18253 2px,#4e311f 3px,#301e13 4px,#3d2618 5px,#583723 6px,#885536 7px,#c67c4f 8px,#ab6b44 9px,#452b1b 10px,#3f2719 11px,#553522 12px,#7f4f32 13px,#ee955f 15px,#8c5838 16px,#472c1c 17px,#573623 18px,#7a4c31 19px,#e48f5b 21px,#ef955f 22px,#794c30 23px,#5d3a25 24px,#794c30 25px,#db8957 27px,#ffa267 28px,#d68655 29px,#74482e 30px,#7c4e31 31px,#a36641 32px,#fd9e65 34px,#ffad6e 35px,#bf784c 36px,#865435 37px,#a36641 38px,#f69a62 40px,#ffac6d 41px,#ffa569 42px,#b37047 43px,#aa6a44 44px,#f29760 46px,#ffaa6c 47px,#ffb473 48px,#fb9d64 49px,#ba744a 50px,#d08253 51px,#f19760 52px,#ffa96b 53px,#ffb472 54px,#ffb674 55px,#f49861 56px,#dd8a58 57px,#f59962 58px,#ffa96c 59px,#ffba76 61px,#ffb472 62px,#f89b63 63px,#ffa066 64px,#ffb573 66px,#ffbd78 68px,#ffa86b 70px,#ffb774 72px,#ffbd79 74px,#ffb573 77px,#ffbf7a 81px,#ffba76 83px,#ffc07a 87px,#ffc17b 94px,#ffc57e 175px,#ffc77f 562px)"></i>
<i style="background:linear-gradient(90deg,#774a2f 0,#b37047 1px,#d18253 2px,#543421 3px,#3a2417 4px,#4b2f1e 5px,#6e452c 6px,#de8b58 8px,#af6d46 9px,#4d301e 10px,#4e311f 11px,#6b432b 12px,#9c613e 13px,#d48454 14px,#ff9f66 15px,#955d3b 16px,#573623 17px,#6d442b 18px,#975e3c 19px,#cb7f51 20px,#f99b63 21px,#f29860 22px,#865435 23px,#74492e 24px,#965e3c 25px,#f29760 27px,#ffaa6c 28px,#dd8a58 29px,#875436 30px,#9a603d 31px,#ec945e 33px,#ffa86b 34px,#ffae6f 35px,#cc7f51 36px,#a46641 37px,#c2794d 38px,#e8915c 39px,#ffa569 40px,#ffb271 41px,#ffa86b 42px,#c67c4f 43px,#c87d50 44px,#e8915c 45px,#ffa468 46px,#ffb775 48px,#ffa267 49px,#d68655 50px,#ffa468 52px,#ffb775 54px,#ffb774 55px,#ffa066 56px,#f69a62 57px,#ffa66a 58px,#ffb171 59px,#fb7 61px,#ffb674 62px,#ffa569 63px,#ffbc78 67px,#ffbd78 68px,#ffb171 70px,#ffbd78 73px,#ffbd79 75px,#ffb976 76px,#ffbf7a 81px,#ffc67e 214px,#ffc77f 562px)"></i>
<i style="background:linear-gradient(90deg,#925b3a 0,#cc8051 1px,#d28353 2px,#5a3824 3px,#462c1c 4px,#5e3a25 5px,#885536 6px,#c0784d 7px,#f29760 8px,#b47047 9px,#573623 10px,#613c26 11px,#855335 12px,#ea925d 14px,#ffa368 15px,#9e633f 16px,#6b432b 17px,#875436 18px,#e48e5b 20px,#ffa569 21px,#f69a62 22px,#955d3b 23px,#8f5939 24px,#df8c59 26px,#ffa267 27px,#ffaf70 28px,#e58f5b 29px,#9e633f 30px,#b77349 31px,#ffa066 33px,#ffae6f 34px,#ffaf70 35px,#d98856 36px,#c1784d 37px,#fe9f65 39px,#ffad6e 40px,#ffb573 41px,#ffab6d 42px,#d98756 43px,#e38e5a 44px,#fe9f65 45px,#ffad6e 46px,#ffb875 48px,#ffa76a 49px,#ef955f 50px,#ffa167 51px,#ffb573 53px,#ffb976 54px,#ffb875 55px,#ffa76a 56px,#ffa66a 57px,#ffb674 59px,#ffbc78 61px,#ffad6e 63px,#ffbd78 67px,#ffb674 70px,#ffbe79 74px,#fb7 76px,#ffc07a 81px,#ffc17b 100px,#ffc67e 207px,#ffc77f 562px)"></i>
<i style="background:linear-gradient(90deg,#ad6c45 0,#e28d5a 1px,#d38454 2px,#623d27 3px,#563622 4px,#74482e 5px,#d98756 7px,#ffa066 8px,#b9744a 9px,#643e28 10px,#774b30 11px,#fb9d64 14px,#ffa468 15px,#a96943 16px,#835234 17px,#a46641 18px,#f89b63 20px,#ffab6d 21px,#fa9c63 22px,#a56742 23px,#ab6b44 24px,#f59961 26px,#ffaa6c 27px,#ffb272 28px,#ed945e 29px,#b9744a 30px,#d38454 31px,#f49861 32px,#ffa96b 33px,#ffb271 34px,#ffb070 35px,#e6905b 36px,#db8957 37px,#f59961 38px,#ffa86b 39px,#ffb775 41px,#ffad6e 42px,#eb935e 43px,#fa9c63 44px,#ffa96b 45px,#ffb271 46px,#ffb976 48px,#ffa267 50px,#ffb372 52px,#fb7 54px,#ffb976 55px,#ffad6e 56px,#ffbd78 61px,#ffb372 63px,#ffbd79 67px,#ffba76 70px,#ffc07a 81px,#ffc67e 215px,#ffc77f 562px)"></i>
<i style="background:linear-gradient(90deg,#c67c4f 0,#f39861 1px,#d58555 2px,#6b432b 3px,#6a422a 4px,#8d5838 5px,#ed945e 7px,#ffa66a 8px,#bf774c 9px,#774a2f 10px,#915b3a 11px,#e8915c 13px,#ffa569 14px,#ffa569 15px,#b37047 16px,#9d623e 17px,#e6905c 19px,#ffa468 20px,#ffaf6f 21px,#fe9f65 22px,#b67249 23px,#c67c4f 24px,#e7905c 25px,#ffa368 26px,#ffaf6f 27px,#ffb372 28px,#f59961 29px,#d28354 30px,#ffa368 32px,#ffb573 34px,#ffb171 35px,#f29760 36px,#f19760 37px,#ffa468 38px,#ffaf6f 39px,#ffb875 41px,#ffaf70 42px,#fd9e65 43px,#ffb070 45px,#ffb976 47px,#ffb976 48px,#ffab6d 50px,#ffb774 52px,#fb7 54px,#ffb171 56px,#ffbc78 60px,#ffb775 63px,#ffbd78 66px,#ffbf7a 74px,#ffc67e 209px,#ffc77f 562px)"></i>
<i style="background:linear-gradient(90deg,#dc8957 0,#ffa066 1px,#d78756 2px,#774a2f 3px,#805033 4px,#fc9d64 7px,#ffaa6c 8px,#c67c4f 9px,#8e5938 10px,#ac6b44 11px,#fa9c63 13px,#ffaa6c 14px,#ffa66a 15px,#bf774c 16px,#b67249 17px,#f99c63 19px,#ffaa6c 20px,#ffb171 21px,#ffa167 22px,#c97e50 23px,#de8b58 24px,#fa9c64 25px,#ffaa6c 26px,#ffb372 28px,#fc9e64 29px,#e8915c 30px,#fd9e65 31px,#ffab6d 32px,#ffb674 34px,#ffb272 35px,#fe9e65 36px,#ffa267 37px,#ffb372 39px,#ffb976 41px,#ffa76a 43px,#ffb473 45px,#ffba76 47px,#ffb171 50px,#ffbc78 54px,#ffb573 56px,#ffbd78 60px,#ffba76 63px,#ffbf7a 74px,#ffc67e 209px,#ffc77f 562px)"></i>
<i style="background:linear-gradient(90deg,#ed945f 0,#ffa569 1px,#db8957 2px,#855335 3px,#99603d 4px,#ea925d 6px,#ffa469 7px,#ffaa6c 8px,#cd8052 9px,#a66842 10px,#e9925d 12px,#ffa468 13px,#ffae6f 14px,#ffa76a 15px,#cc7f51 16px,#ce8152 17px,#ec945e 18px,#ffa469 19px,#ffb372 21px,#ffa468 22px,#de8b58 23px,#f29760 24px,#ffa569 25px,#ffb473 27px,#ffb472 28px,#ffa267 29px,#fb9d64 30px,#ffb070 32px,#ffb775 34px,#ffb372 35px,#ffa569 36px,#ffb674 39px,#ffb976 41px,#ffae6f 43px,#ffba77 47px,#ffb473 49px,#ffbc78 54px,#ffb875 56px,#ffbe79 67px,#ffc67e 203px,#ffc77f 562px)"></i>
<i style="background:linear-gradient(90deg,#fb9d64 0,#ffa96c 1px,#de8b58 2px,#985f3c 3px,#b16f47 4px,#f99c63 6px,#ffa96c 7px,#ffaa6c 8px,#d58555 9px,#bd764b 10px,#fa9c63 12px,#ffa96c 13px,#ffb070 14px,#ffa86b 15px,#d98856 16px,#e48e5b 17px,#fd9e65 18px,#ffaa6c 19px,#ffb472 21px,#ffa66a 22px,#f19660 23px,#ffa167 24px,#ffab6d 25px,#ffb573 27px,#ffb473 28px,#ffa66a 29px,#ffa569 30px,#ffb372 32px,#ffb875 34px,#ffab6d 36px,#ffb976 40px,#ffb271 43px,#fb7 47px,#ffb674 49px,#ffbc78 54px,#ffc07a 80px,#ffc67e 215px,#ffc77f 562px)"></i>
<i style="background:linear-gradient(90deg,#ffa368 0,#ffab6d 1px,#e28e5a 2px,#ae6d45 3px,#c87d50 4px,#ea925d 5px,#ffa368 6px,#ffac6e 7px,#ffaa6d 8px,#de8a58 9px,#d38454 10px,#ee955f 11px,#ffa468 12px,#ffb171 14px,#ffa96c 15px,#e6905c 16px,#ffa569 18px,#ffae6f 19px,#ffb472 21px,#ffa066 23px,#ffaf70 25px,#ffb674 27px,#ffb473 28px,#ffaa6c 29px,#ffb875 34px,#ffaf70 36px,#ffb976 40px,#ffb573 43px,#fb7 47px,#ffbf79 73px,#ffc67e 209px,#ffc77f 562px)"></i>
<i style="background:linear-gradient(90deg,#ffa76b 0,#ffac6d 1px,#e7905c 2px,#c37a4d 3px,#f99b63 5px,#ffa86b 6px,#ffae6f 7px,#ffab6d 8px,#e6905c 9px,#e6905c 10px,#fc9e64 11px,#ffa96c 12px,#ffb272 14px,#ffaa6c 15px,#f59961 16px,#ffa267 17px,#ffab6d 18px,#ffb472 20px,#ffb473 21px,#ffab6d 22px,#ffa76a 23px,#ffb271 25px,#ffb674 27px,#ffb573 28px,#ffad6e 29px,#ffb674 32px,#ffb875 34px,#ffb372 36px,#ffb976 40px,#ffb774 42px,#fb7 47px,#ffc07a 86px,#ffc67e 220px,#ffc77f 562px)"></i>
<i style="background:linear-gradient(90deg,#ffaa6c 0,#ffac6d 1px,#ec945e 2px,#d68655 3px,#ed945f 4px,#ffa267 5px,#ffab6d 6px,#ffaf70 7px,#ffab6d 8px,#ef955f 9px,#f59962 10px,#ffa469 11px,#ffac6e 12px,#ffb372 14px,#ffa166 16px,#ffae6f 18px,#ffb473 20px,#ffb473 21px,#ffad6e 22px,#ffac6d 23px,#ffb472 25px,#ffb774 27px,#ffb070 29px,#ffb875 33px,#ffb573 36px,#ffba76 40px,#ffbf79 73px,#ffc67e 209px,#ffc77f 562px)"></i>
<i style="background:linear-gradient(90deg,#ffac6e 0,#ffac6d 1px,#f19760 2px,#e7905c 3px,#fb9d64 4px,#ffa76a 5px,#ffb070 7px,#ffac6d 8px,#f89b63 9px,#ffa166 10px,#ffaf6f 12px,#ffb372 14px,#ffa66a 16px,#ffb170 18px,#ffb573 20px,#ffb473 21px,#ffae6f 22px,#ffb774 27px,#ffb272 29px,#ffb875 33px,#ffc07a 87px,#ffc67e 221px,#ffc77f 562px)"></i>
<i style="background:linear-gradient(90deg,#ffad6e 0,#ffac6d 1px,#f79a62 2px,#f59961 3px,#ffa368 4px,#ffab6d 5px,#ffb171 7px,#ffac6e 8px,#ffa066 9px,#ffb070 12px,#ffb372 14px,#ffab6d 16px,#ffb271 18px,#ffb573 20px,#ffb070 22px,#ffb674 26px,#ffb473 29px,#ffb875 33px,#ffc17b 99px,#ffc67e 231px,#ffc77f 562px)"></i>
<i style="background:linear-gradient(90deg,#ffae6f 0,#ffac6e 1px,#fc9e64 2px,#ffa066 3px,#ffad6e 5px,#ffb171 7px,#ffa569 9px,#ffb171 12px,#ffb372 14px,#ffae6f 16px,#ffb573 20px,#ffb271 22px,#ffb674 26px,#ffba76 40px,#ffc27c 107px,#ffc67e 238px,#ffc77f 562px)"></i>
<i style="background:linear-gradient(90deg,#ffae6f 0,#ffac6e 1px,#ffa166 2px,#ffb070 6px,#ffb171 7px,#ffa96c 9px,#ffb271 12px,#ffb070 16px,#ffb573 20px,#ffb372 22px,#ffb875 33px,#ffbf79 73px,#ffc47d 143px,#ffc77f 562px)"></i>
<i style="background:linear-gradient(90deg,#ffaf6f 0,#ffac6e 1px,#ffa469 2px,#ffb170 6px,#ffac6e 9px,#ffb372 13px,#ffb170 15px,#ffb573 19px,#ffb875 33px,#ffc07a 80px,#ffc47d 144px,#ffc77f 562px)"></i>
<i style="height:2px;background:linear-gradient(90deg,#ffaf6f 0,#ffa96b 2px,#ffb171 6px,#ffaf6f 9px,#ffb372 13px,#ffb976 39px,#ffc47d 145px,#ffc77f 562px)"></i>
<i style="height:3px;background:linear-gradient(90deg,#ffaf6f 0,#ffad6e 2px,#ffb372 13px,#ffbd78 59px,#ffc47d 145px,#ffc77f 562px)"></i>
<i style="height:4px;background:linear-gradient(90deg,#ffaf6f 0,#ffbd78 59px,#ffc47d 145px,#ffc77f 562px)"></i>
<i style="height:4px;background:linear-gradient(90deg,#ffaf70 0,#ffbd78 60px,#ffc47d 145px,#ffc77f 562px)"></i>
<i style="height:4px;background:linear-gradient(90deg,#ffaf70 0,#ffbd78 61px,#ffc47d 146px,#ffc77f 562px)"></i>
<i style="height:4px;background:linear-gradient(90deg,#ffaf70 0,#ffbd78 60px,#ffc47d 146px,#ffc77f 562px)"></i>
<i style="height:2px;background:linear-gradient(90deg,#ffaf70 0,#ffb674 17px,#ffbc78 54px,#ffc47d 146px,#ffc77f 562px)"></i>
<i style="background:linear-gradient(90deg,#ffaf70 0,#ffb271 3px,#ffb875 4px,#ffb271 5px,#ffb171 6px,#ffb674 10px,#ffb372 12px,#ffb775 17px,#ffb674 21px,#ffba77 23px,#ffb674 24px,#ffb976 29px,#ffc07a 79px,#ffc47d 147px,#ffc77f 562px)"></i>
<i style="background:linear-gradient(90deg,#ffaf70 0,#ffb473 3px,#ffbf7a 4px,#ffb272 5px,#ffb171 6px,#ffb473 9px,#fb7 10px,#ffb372 12px,#ffb573 15px,#ffb976 16px,#ffb573 18px,#ffb674 21px,#fb7 23px,#ffb674 24px,#ffb775 27px,#ffbc78 29px,#ffb875 30px,#ffb875 31px,#fb7 35px,#ffb976 37px,#ffbe79 60px,#ffc57d 153px,#ffc77f 562px)"></i>
<i style="background:linear-gradient(90deg,#ffb070 0,#ffb271 2px,#ffb875 3px,#ffc47d 4px,#ffb372 5px,#ffb171 6px,#ffb774 9px,#ffc27b 10px,#ffb674 11px,#ffb372 12px,#ffb674 15px,#ffbe79 16px,#ffb573 18px,#ffb774 21px,#ffbc78 23px,#ffb674 24px,#ffb875 27px,#ffc07a 29px,#ffb875 30px,#ffb875 31px,#ffba77 34px,#ffbf79 35px,#ffb976 36px,#ffb976 37px,#ffbd79 41px,#ffba77 43px,#ffbf7a 60px,#ffc57e 172px,#ffc77f 562px)"></i>
<i style="background:linear-gradient(90deg,#ffb070 0,#ffb473 2px,#ffbf7a 3px,#ffbf7a 4px,#ffb372 5px,#ffb271 6px,#ffb573 8px,#ffc17b 10px,#ffb674 11px,#ffb573 14px,#ffc37c 16px,#ffb573 18px,#ffb976 21px,#ffc07b 22px,#ffb774 24px,#ffb775 26px,#ffc27b 29px,#ffb875 30px,#ffb875 31px,#ffc17b 35px,#ffba76 36px,#ffb976 37px,#ffc17b 41px,#ffba77 43px,#ffc07a 47px,#fb7 49px,#ffc17b 66px,#ffc57e 177px,#ffc77f 562px)"></i>
<i style="background:linear-gradient(90deg,#ffb170 0,#ffb976 2px,#ffc57d 3px,#ffb473 5px,#ffb271 6px,#ffb875 8px,#ffc37c 9px,#ffb976 10px,#ffb472 12px,#ffb775 14px,#ffbf7a 15px,#ffb573 18px,#ffc07a 22px,#ffbf7a 23px,#ffb774 24px,#ffb875 26px,#ffc27c 28px,#ffb875 31px,#ffc17b 34px,#ffb976 37px,#ffbf7a 40px,#fb7 43px,#ffc17b 47px,#ffbc77 49px,#ffc27c 53px,#ffbd78 55px,#ffc17b 59px,#ffbe79 63px,#ffc37c 66px,#ffbe79 68px,#ffc37c 72px,#ffbf7a 74px,#ffc67e 202px,#ffc77f 562px)"></i>
<i style="background:linear-gradient(90deg,#ffb271 0,#ffb674 1px,#ffc17b 2px,#ffb372 6px,#ffc17b 9px,#ffad6e 10px,#ffb976 11px,#ffb674 13px,#ffc27c 15px,#ffb171 16px,#ffbd78 17px,#ffb674 18px,#ffb775 19px,#ffc37c 21px,#ffb674 22px,#ffc17b 23px,#ffb775 24px,#ffc07a 27px,#ffba77 28px,#ffc07a 29px,#ffb976 30px,#ffb976 31px,#ffbf7a 33px,#ffba76 37px,#ffc17b 40px,#ffb070 41px,#ffbd78 42px,#ffbc78 44px,#ffc27c 46px,#ffb674 47px,#ffbf79 48px,#ffbc78 50px,#ffc17b 52px,#fb7 53px,#ffc17b 54px,#ffbd78 55px,#ffc37c 60px,#ffbe79 61px,#ffc37c 71px,#ffba76 72px,#ffc07a 73px,#ffc27c 77px,#ffbf7a 78px,#ffc57d 109px,#ffc77f 562px)"></i>
<i style="background:linear-gradient(90deg,#ffb473 0,#ffc57d 2px,#ffb674 3px,#ffb573 6px,#ffc47d 8px,#ffab6d 10px,#fb7 11px,#ffb674 12px,#ffc27b 14px,#fb7 15px,#ffa569 16px,#ffbf7a 17px,#ffb775 18px,#ffc07a 20px,#ffbd79 21px,#ffa96c 22px,#ffc27c 23px,#ffb875 24px,#ffc07a 27px,#ffae6f 28px,#ffbe79 29px,#fb7 31px,#ffc17b 33px,#ffb272 34px,#ffc27c 39px,#ffab6d 41px,#ffbe79 42px,#ffc17b 45px,#fb7 46px,#ffa76a 47px,#ffc07a 48px,#ffbe79 52px,#ffad6e 53px,#ffc37c 54px,#ffbe79 55px,#ffc17b 58px,#ffb271 59px,#ffc07a 60px,#ffc37c 64px,#ffb775 65px,#ffc07a 67px,#ffc37c 70px,#ffb171 72px,#ffc17b 73px,#ffc27c 76px,#ffbf7a 77px,#ffaf6f 78px,#ffc27c 79px,#ffc27c 83px,#ffb473 84px,#ffc37c 85px,#ffc47d 89px,#ffb976 90px,#ffc37c 91px,#ffc47d 95px,#ffbe79 96px,#ffc47d 101px,#ffba76 103px,#ffc37c 104px,#ffc47d 108px,#ffb875 109px,#ffc47d 110px,#ffc57d 114px,#ffbd78 115px,#ffc47d 116px,#ffc17b 121px,#ffc57d 122px,#ffc57e 133px,#ffc27b 134px,#ffc57e 139px,#ffc17b 140px,#ffc67e 152px,#ffc77f 562px)"></i>
<i style="background:linear-gradient(90deg,#ffb976 0,#ffc47d 1px,#ffc07a 2px,#ffab6d 3px,#ffb774 4px,#ffc07a 8px,#ffad6e 9px,#ffa96c 10px,#ffbd78 11px,#ffb976 12px,#ffc07b 14px,#f89b63 16px,#ffc27b 17px,#ffba76 18px,#ffc17b 20px,#ffb372 21px,#fa9c63 22px,#ffc17b 23px,#fb7 24px,#ffc27b 26px,#ffb674 27px,#ffa066 28px,#ffba76 29px,#ffc27c 32px,#ffb976 33px,#ffa469 34px,#ffbe79 36px,#ffc17b 38px,#fb7 39px,#ffa96c 40px,#ffa569 41px,#ffc07a 42px,#ffc17b 44px,#ffbe79 45px,#ffad6e 46px,#f89b63 47px,#ffc27c 48px,#ffc07a 51px,#fb9d64 53px,#ffc07a 54px,#ffc17b 57px,#ffb573 58px,#ffa267 59px,#ffb976 60px,#ffc07a 61px,#ffc37c 63px,#ffb875 64px,#ffa76a 65px,#ffc17b 67px,#ffc37c 69px,#ffbc77 70px,#ffab6d 71px,#ffa86b 72px,#ffc27c 73px,#ffc37c 75px,#ffbe79 76px,#ffa066 78px,#ffc47d 79px,#ffc07b 82px,#ffa267 84px,#ffc07a 85px,#ffc27c 88px,#ffa76a 90px,#fb7 91px,#ffc37c 92px,#ffc47d 94px,#ffac6d 96px,#ffc37c 98px,#ffc47d 100px,#ffb070 102px,#ffad6e 103px,#ffc47d 104px,#ffc47d 106px,#ffc07a 107px,#ffa66a 109px,#ffc57d 110px,#ffc27b 113px,#ffa96b 115px,#ffc27b 116px,#ffc57d 118px,#ffc37c 119px,#ffad6e 121px,#ffbe79 122px,#ffc47d 123px,#ffc57d 125px,#ffb171 127px,#ffc57d 129px,#ffc57e 131px,#ffb573 133px,#ffb372 134px,#ffc57e 135px,#ffc57e 137px,#ffc27b 138px,#ffad6e 140px,#ffc67e 141px,#ffc37c 144px,#ffb070 146px,#ffc47d 147px,#ffc67e 149px,#ffc57d 150px,#ffb472 152px,#ffc17b 153px,#ffc57e 154px,#ffc67e 156px,#ffb775 158px,#ffc67e 160px,#ffc67e 162px,#ffba77 165px,#ffc67e 166px,#ffc67e 168px,#ffb875 171px,#ffc67e 172px,#ffc57e 175px,#ffbc78 177px,#ffc67e 178px,#ffc67e 181px,#ffbf7a 183px,#ffc57d 184px,#ffc67e 187px,#ffc27c 189px,#ffc67e 191px,#ffc77e 200px,#ffc77f 562px)"></i>
<i style="background:linear-gradient(90deg,#ffc07a 0,#ffc47d 1px,#ffb674 2px,#ff9f65 3px,#ffb573 4px,#ffbc78 5px,#ffc37c 7px,#ffb774 8px,#ffa166 9px,#ffa76a 10px,#ffc07a 11px,#ffbe79 12px,#ffc37c 13px,#ffb875 14px,#ffa368 15px,#f59961 16px,#ffc27c 17px,#ffbe79 18px,#ffc27c 19px,#ffb976 20px,#ffa66a 21px,#e6905c 22px,#ffbe79 23px,#ffc27c 25px,#fb7 26px,#ffa96b 27px,#ec935e 28px,#ffb574 29px,#ffc27c 31px,#ffbc78 32px,#ffac6d 33px,#f19760 34px,#ffab6d 35px,#ffc17b 36px,#ffbd79 38px,#ffae6f 39px,#f79b62 40px,#ffa066 41px,#ffc27c 42px,#ffbf79 44px,#fd9e65 46px,#ef965f 47px,#ffbf7a 48px,#ffc27b 49px,#ffc07a 50px,#ffa267 52px,#e58f5b 53px,#ffb976 54px,#ffc27c 55px,#ffc07b 56px,#ffa569 58px,#eb935e 59px,#ffb171 60px,#ffc27c 61px,#ffc17b 62px,#ffb875 63px,#ffa96b 64px,#f19760 65px,#ffa86b 66px,#ffc37c 67px,#ffba76 69px,#ffac6d 70px,#f79b62 71px,#ff9f66 72px,#ffc17b 73px,#ffc27c 74px,#ffbc77 75px,#fd9e65 77px,#f19760 78px,#ffbc78 79px,#ffc37c 80px,#ffbd78 81px,#ffa267 83px,#e9925d 84px,#ffb674 85px,#ffc37c 86px,#ffbe79 87px,#ffa569 89px,#ef955f 90px,#ffaf70 91px,#ffc37c 92px,#ffb674 94px,#ffa86b 95px,#f59961 96px,#ffa86b 97px,#ffc17b 98px,#ffb775 100px,#fa9c64 102px,#ffa166 103px,#ffbe79 104px,#ffc07a 105px,#ffb976 106px,#ffa066 108px,#f69962 109px,#ffba76 110px,#ffc07a 111px,#ffba77 112px,#ffa368 114px,#ee955f 115px,#ffb473 116px,#ffc07b 117px,#fb7 118px,#ffa66a 120px,#f49861 121px,#ffaf6f 122px,#ffc07a 123px,#ffb473 125px,#f99c63 127px,#ffa86b 128px,#ffbe79 129px,#ffb574 131px,#fe9f65 133px,#ffa267 134px,#fb7 135px,#ffbd78 136px,#ffa267 139px,#fa9c64 140px,#ffb875 141px,#ffbd79 142px,#ffa469 145px,#f49961 146px,#ffb372 147px,#ffbe79 148px,#ffb171 150px,#f99c63 152px,#ffbd79 154px,#ffb372 156px,#fe9f65 158px,#ffa96c 159px,#ffbc78 160px,#ffb473 162px,#ffa267 164px,#ffa569 165px,#ffb875 166px,#ffb976 167px,#ffa267 171px,#ffb573 172px,#ffb976 173px,#ffa267 177px,#ffb171 178px,#ffb875 179px,#ffa569 183px,#ffb674 185px,#ffa86b 189px,#ffb573 191px,#ffab6d 195px,#ffb372 198px,#ffac6d 202px,#ffb272 204px,#ffad6e 208px,#ffb271 210px,#ffb674 284px,#ffc77f 411px,#ffc77f 562px)"></i>
<i style="background:linear-gradient(90deg,#ffc67e 0,#ffbe79 1px,#ffab6d 2px,#ee955f 3px,#ffb272 4px,#ffc17b 5px,#ffc47d 6px,#ffbd79 7px,#ffac6d 8px,#ef965f 9px,#ffa469 10px,#ffc37c 11px,#ffbd78 13px,#ffac6e 14px,#f29760 15px,#f19760 16px,#ffc07b 17px,#ffc37c 18px,#ffbd78 19px,#ffae6f 20px,#f59962 21px,#dd8a58 22px,#ffba76 23px,#ffc27c 24px,#ffbd78 25px,#f99c63 27px,#d98856 28px,#ffb070 29px,#ffc27b 30px,#ffbd78 31px,#fd9e65 33px,#de8b58 34px,#ffa569 35px,#ffc17b 36px,#ffbd79 37px,#ffa066 39px,#e38e5a 40px,#f79a62 41px,#ffbe79 42px,#ffbd79 43px,#ffa368 45px,#e7915c 46px,#e7905c 47px,#ffb976 48px,#ffbd79 49px,#ffa569 51px,#d88756 53px,#ffb171 54px,#ffbd78 55px,#ffa76a 57px,#f19660 58px,#d68555 59px,#ffa86b 60px,#ffbd78 61px,#ffa96c 63px,#f59961 64px,#db8957 65px,#ff9f65 66px,#fb7 67px,#ffb674 68px,#f99b63 70px,#e08c59 71px,#f19760 72px,#ffb775 73px,#ffb674 74px,#fc9e64 76px,#e48f5b 77px,#e48e5b 78px,#ffb171 79px,#ffb674 80px,#ffa066 82px,#d88756 84px,#ffaa6c 85px,#ffb674 86px,#ffa267 88px,#d68655 90px,#ffa368 91px,#ffb573 92px,#ffa368 94px,#f09660 95px,#db8957 96px,#f99c63 97px,#ffb472 98px,#ffa569 100px,#f49861 101px,#df8b59 102px,#ed945f 103px,#ffb070 104px,#ffaf6f 105px,#ffa66a 106px,#f79a62 107px,#e38e5a 108px,#e38e5a 109px,#ffaa6c 110px,#ffaf6f 111px,#ffa76a 112px,#fa9c63 113px,#d88756 115px,#ffa569 116px,#ffae6f 117px,#ffa76b 118px,#fc9d64 119px,#d78756 121px,#fe9e65 122px,#ffae6f 123px,#fe9f65 125px,#db8957 127px,#f49861 128px,#ffac6e 129px,#ffa066 131px,#df8b59 133px,#eb935d 134px,#ffa96b 135px,#ffa86b 136px,#ffa166 137px,#e28d5a 139px,#e28d5a 140px,#ffa469 141px,#ffa86b 142px,#ffa167 143px,#d98856 146px,#ff9f66 147px,#ffa76b 148px,#ffa267 149px,#f69a62 150px,#d88756 152px,#f79b62 153px,#ffa76a 154px,#ffa267 155px,#f89b63 156px,#db8957 158px,#ffa669 160px,#f99b63 162px,#df8c59 164px,#e9915d 165px,#ffa167 166px,#f99c63 168px,#e38e5b 170px,#e48e5b 171px,#fc9d64 172px,#ff9f66 173px,#e08c59 177px,#f69a62 178px,#fd9e65 179px,#e18d5a 183px,#f19760 184px,#fa9c63 185px,#e58f5b 189px,#f79a62 191px,#e7905c 195px,#f39861 197px,#e9925d 201px,#f19660 204px,#e9915d 208px,#ef955f 210px,#ea925d 214px,#e7915c 279px,#eb935e 361px,#ff9f65 456px,#ffb875 562px)"></i>
<i style="background:linear-gradient(90deg,#ffc37c 0,#ffb573 1px,#ffa066 2px,#de8b58 3px,#ffb070 4px,#ffc47d 5px,#ffc17b 6px,#ffb472 7px,#ffa066 8px,#df8b59 9px,#ffa167 10px,#ffc27b 11px,#ffbf7a 12px,#ffb372 13px,#ffa066 14px,#e08c59 15px,#ed945e 16px,#ffbd78 17px,#ffbe79 18px,#ffa167 20px,#e38e5a 21px,#d98856 22px,#ffb473 23px,#ffbd78 24px,#ffa267 26px,#c87d50 28px,#ffaa6c 29px,#fb7 30px,#ffa368 32px,#cc7f51 34px,#ff9f65 35px,#ffba76 36px,#ffa469 38px,#eb935e 39px,#d08253 40px,#ee955f 41px,#ffb674 42px,#ffb271 43px,#ffa569 44px,#ee955f 45px,#d48454 46px,#de8b58 47px,#ffb070 48px,#ffb171 49px,#ffa66a 50px,#f19760 51px,#d78756 52px,#cf8253 53px,#ffa86b 54px,#ffb170 55px,#ffa66a 56px,#f39861 57px,#c2794d 59px,#ff9f65 60px,#ffaf70 61px,#ffa76a 62px,#f69962 63px,#c67c4f 65px,#f19760 66px,#ffae6f 67px,#ffa76a 68px,#f79b62 69px,#ca7f51 71px,#e48e5b 72px,#ffaa6d 73px,#ffa66a 74px,#f99b63 75px,#ce8152 77px,#d78656 78px,#ffa569 79px,#ffa66a 80px,#fa9c63 81px,#d18353 83px,#cb7f51 84px,#fd9e65 85px,#ffa569 86px,#fb9d64 87px,#c0784d 90px,#f19760 91px,#ffa469 92px,#fb9d64 93px,#c47a4e 96px,#e6905c 97px,#ffa368 98px,#fb9d64 99px,#c77c4f 102px,#dc8957 103px,#ffa066 104px,#fa9c64 105px,#ca7e50 108px,#d18353 109px,#f89b63 110px,#f99c63 111px,#cd8052 114px,#c87d4f 115px,#ef955f 116px,#f89b63 117px,#df8b59 119px,#bf774c 121px,#e6905c 122px,#f69a62 123px,#e08c59 125px,#c1794d 127px,#f49961 129px,#e18d59 131px,#c47a4e 133px,#d48554 134px,#f09660 135px,#ec945e 136px,#c67c4f 139px,#cc7f51 140px,#ea925d 141px,#eb935e 142px,#c87d50 145px,#c47a4e 146px,#e38e5a 147px,#ea925d 148px,#bc764b 152px,#dc8957 153px,#e8915c 154px,#d78656 156px,#be774c 158px,#e6905c 160px,#c1794d 164px,#ce8152 165px,#e18d5a 166px,#de8b58 167px,#c47b4e 170px,#c87d50 171px,#db8957 172px,#db8957 173px,#c67c4f 176px,#c47a4e 177px,#d58555 178px,#d98756 179px,#c1794d 183px,#d08253 184px,#d68655 185px,#c37a4e 189px,#d38454 191px,#c57b4e 195px,#cf8152 197px,#c57b4f 201px,#cc7f51 203px,#c57b4e 208px,#c97e50 210px,#c57b4e 214px,#b06e46 344px,#ae6d45 457px,#c0784c 562px)"></i>
<i style="background:linear-gradient(90deg,#fb7 0,#ffaa6c 1px,#ef965f 2px,#cf8152 3px,#ffac6e 4px,#ffc17b 5px,#ffb976 6px,#ffa96b 7px,#ef955f 8px,#cf8152 9px,#fd9e65 10px,#ffbd79 11px,#ffb674 12px,#ffa86b 13px,#ef955f 14px,#d08253 15px,#e8915c 16px,#ffb775 17px,#ffb573 18px,#ffa76a 19px,#ef955f 20px,#d28353 21px,#d58555 22px,#ffae6f 23px,#ffb372 24px,#ffa66a 25px,#f0965f 26px,#d48454 27px,#c37a4e 28px,#ffa468 29px,#ffb171 30px,#ffa66a 31px,#f19660 32px,#bb754b 34px,#f59962 35px,#ffaf6f 36px,#ffa569 37px,#f29760 38px,#be774c 40px,#e58f5b 41px,#ffac6d 42px,#ffa469 43px,#f29760 44px,#c2794d 46px,#d68555 47px,#ffa66a 48px,#ffa468 49px,#f39861 50px,#c57b4e 52px,#c77d4f 53px,#fd9e65 54px,#ffa267 55px,#f39861 56px,#c77d4f 58px,#ba744a 59px,#f09660 60px,#ffa167 61px,#f39861 62px,#b47148 65px,#e38e5a 66px,#ff9f65 67px,#f29860 68px,#b77349 71px,#fb9d64 73px,#f29760 74px,#ba744a 77px,#cb7f51 78px,#f39861 79px,#f09660 80px,#bd764b 83px,#bf774c 84px,#ea925d 85px,#ef955f 86px,#bf784c 89px,#b57148 90px,#df8c59 91px,#ed945e 92px,#d28354 94px,#b06e46 96px,#d58555 97px,#ea925d 98px,#d38454 100px,#b26f47 102px,#e7905c 104px,#d38454 106px,#b47148 108px,#c1794d 109px,#e18c59 110px,#de8b59 111px,#b67249 114px,#b87349 115px,#d98856 116px,#dd8a58 117px,#af6d46 121px,#d18353 122px,#db8957 123px,#c67c4f 125px,#ab6b44 127px,#c97d50 128px,#d98756 129px,#c77c4f 131px,#ad6c45 133px,#d68655 135px,#c67c4f 137px,#ae6d45 139px,#b87349 140px,#d08253 141px,#cf8152 142px,#af6e46 145px,#b16e46 146px,#ca7e50 147px,#cd8052 148px,#a96a43 152px,#c37a4e 153px,#cb7f51 154px,#a66842 158px,#bd764b 159px,#c97d50 160px,#a86943 164px,#c57b4e 166px,#aa6a44 170px,#b16e46 171px,#bf774c 172px,#be774c 173px,#ab6b44 176px,#ac6c44 177px,#ba744a 178px,#bb754a 179px,#a86943 183px,#b57148 184px,#b87349 185px,#a76943 189px,#b57148 191px,#a86943 195px,#b16f47 197px,#a86943 201px,#ae6d45 203px,#a86943 207px,#875536 340px,#794c30 451px,#784b30 562px)"></i>
<i style="background:linear-gradient(90deg,#ffb171 0,#ff9f66 1px,#c57b4e 3px,#ffa96b 4px,#ffb976 5px,#fc9e64 7px,#c1784d 9px,#f89b63 10px,#ffb573 11px,#fa9c63 13px,#c1794d 15px,#e38e5a 16px,#ffb070 17px,#ffa96c 18px,#f89b63 19px,#c2794d 21px,#d08253 22px,#ffa76a 23px,#ffa76a 24px,#f79a62 25px,#c47a4e 27px,#bf774c 28px,#fc9d64 29px,#ffa569 30px,#f59962 31px,#af6e46 34px,#ec935e 35px,#ffa267 36px,#f49861 37px,#af6d46 40px,#dc8958 41px,#ffa066 42px,#f29760 43px,#b16f47 46px,#cd8052 47px,#f99c63 48px,#f09660 49px,#b47048 52px,#bf784c 53px,#ee955f 54px,#ee955f 55px,#b67248 58px,#b26f47 59px,#e28d5a 60px,#ec935e 61px,#a66842 65px,#d68655 66px,#e9925d 67px,#dd8a58 68px,#a66842 71px,#ca7e51 72px,#e68f5b 73px,#cc8051 75px,#a96943 77px,#bf774c 78px,#e08c59 79px,#da8857 80px,#ab6b44 83px,#b47048 84px,#d88756 85px,#d88756 86px,#ac6c45 89px,#a96a43 90px,#cf8152 91px,#d68655 92px,#a06440 96px,#c57b4e 97px,#d38454 98px,#bd764b 100px,#a06440 102px,#bc754b 103px,#d08253 104px,#bd764b 106px,#a16540 108px,#b27047 109px,#cc7f51 110px,#c77c4f 111px,#a26641 114px,#aa6a43 115px,#c57b4e 116px,#c57b4e 117px,#a36641 120px,#a16540 121px,#be774c 122px,#c37a4e 123px,#99603d 127px,#b67248 128px,#c0784d 129px,#995f3d 133px,#be774b 135px,#af6d46 137px,#99603d 139px,#ba744a 141px,#ae6d45 143px,#9a603d 145px,#9f643f 146px,#b47148 147px,#b47148 148px,#9a603d 151px,#985f3d 152px,#ae6d45 153px,#b26f47 154px,#925b3a 158px,#a86943 159px,#b06e46 160px,#925b3a 164px,#ac6b44 166px,#935c3b 170px,#a76843 172px,#945c3b 176px,#975e3c 177px,#a26540 178px,#935c3b 183px,#9d623f 184px,#9e633f 185px,#905a39 189px,#9b613e 191px,#905a39 195px,#985f3c 197px,#8f5a39 201px,#945d3b 203px,#8f5939 207px,#69422a 335px,#563622 445px,#4d301f 562px)"></i>
<i style="background:linear-gradient(90deg,#ffa66a 0,#ef965f 1px,#d38454 2px,#c77c4f 3px,#ffa468 4px,#ffae6f 5px,#ffa368 6px,#ec935e 7px,#b77249 9px,#f19760 10px,#ffaa6c 11px,#ff9f66 12px,#b67248 15px,#de8b58 16px,#ffa569 17px,#fb9d64 18px,#b67248 21px,#cc8051 22px,#fd9e65 23px,#f79a62 24px,#b77249 27px,#bc754b 28px,#ef955f 29px,#f39861 30px,#b77249 33px,#ad6c45 34px,#e08c59 35px,#ef955f 36px,#e08c59 37px,#a36641 40px,#d28354 41px,#ea935d 42px,#de8b58 43px,#a46741 46px,#e6905b 48px,#dc8957 49px,#a66842 52px,#b87349 53px,#de8b58 54px,#d98856 55px,#a76843 58px,#ac6b44 59px,#d48454 60px,#d78655 61px,#a86943 64px,#a06440 65px,#c97e50 66px,#d48454 67px,#ba744a 69px,#985f3d 71px,#be774c 72px,#d08253 73px,#b9744a 75px,#9a603d 77px,#cd8051 79px,#b9734a 81px,#9b613e 83px,#a96a43 84px,#c67c4f 85px,#c37a4e 86px,#9c623e 89px,#a06440 90px,#be774c 91px,#c1784d 92px,#9d623e 95px,#965e3c 96px,#b67248 97px,#be774c 98px,#905a39 102px,#ad6c45 103px,#bb754a 104px,#a96a43 106px,#915a3a 108px,#b87349 110px,#a86943 112px,#915b3a 114px,#9c623e 115px,#b27047 116px,#b06e46 117px,#925b3a 120px,#945d3b 121px,#ac6b44 122px,#ad6c45 123px,#8d5838 127px,#a56742 128px,#ab6b44 129px,#875436 133px,#9e633f 134px,#a86943 135px,#875536 139px,#a56742 141px,#875536 145px,#905a39 146px,#a06440 147px,#9e633f 148px,#875436 151px,#895637 152px,#9b613e 153px,#9c613e 154px,#835234 158px,#955d3b 159px,#99603d 160px,#7f4f33 164px,#8f5939 165px,#965e3c 166px,#805033 170px,#925b3a 172px,#805033 176px,#8d5838 178px,#805033 182px,#895536 185px,#7d4e32 189px,#855335 191px,#7b4d31 195px,#825134 197px,#7b4d31 201px,#7f4f33 203px,#794c30 207px,#523321 335px,#3d2618 446px,#332014 562px)"></i>
<i style="background:linear-gradient(90deg,#f99b63 0,#c97d50 2px,#c77c4f 3px,#fc9e64 4px,#ffa267 5px,#f29760 6px,#c57b4e 8px,#b47048 9px,#e9925d 10px,#fc9d64 11px,#ed945e 12px,#ac6c45 15px,#d88756 16px,#f59961 17px,#e8915c 18px,#ac6b44 21px,#c77c4f 22px,#ed945e 23px,#e38e5b 24px,#ab6b44 27px,#b87349 28px,#e18d5a 29px,#df8b59 30px,#ab6b44 33px,#aa6a44 34px,#d58555 35px,#db8957 36px,#9d623f 40px,#c87d50 41px,#d78655 42px,#bc754b 44px,#99603d 46px,#bc754b 47px,#d28354 48px,#bb754a 50px,#9a603d 52px,#b06e46 53px,#cd8052 54px,#c67c4f 55px,#9a613d 58px,#a56742 59px,#c47b4e 60px,#c37a4e 61px,#9b613e 64px,#9a603d 65px,#bb754b 66px,#c0784c 67px,#905a39 71px,#b26f47 72px,#bd764b 73px,#a86943 75px,#8d5838 77px,#a86943 78px,#b9744a 79px,#a76943 81px,#8e5938 83px,#b57148 85px,#a66842 87px,#8e5939 89px,#965e3c 90px,#ae6d45 91px,#ad6c45 92px,#8e5939 95px,#8e5938 96px,#a76842 97px,#aa6a44 98px,#865435 102px,#9f633f 103px,#a76943 104px,#835234 108px,#975f3c 109px,#a46741 110px,#835234 114px,#a06440 116px,#955d3b 118px,#835234 120px,#895536 121px,#9b613e 122px,#9a603d 123px,#825134 126px,#825134 127px,#955d3b 128px,#975e3c 129px,#7b4d31 133px,#8e5939 134px,#945d3b 135px,#784b30 139px,#915b3a 141px,#784b30 145px,#8e5938 147px,#774a2f 151px,#7c4d31 152px,#895637 153px,#885536 154px,#764a2f 157px,#764a2f 158px,#845234 159px,#865335 160px,#71472d 164px,#7e4f32 165px,#825134 166px,#70462c 170px,#7e4f32 172px,#6f462c 176px,#7b4d31 178px,#6f452c 182px,#764a2f 184px,#6e442c 188px,#72482e 191px,#6a432a 195px,#6f462c 197px,#69422a 201px,#6c442b 203px,#563622 257px,#41281a 330px,#291a10 462px,#281910 562px)"></i>
<i style="background:linear-gradient(90deg,#e9925d 0,#be774c 2px,#c57b4f 3px,#f19760 4px,#f29760 5px,#ba744a 8px,#b37047 9px,#e08c59 10px,#ea925d 11px,#dc8a58 12px,#a36641 15px,#d08253 16px,#e38e5a 17px,#d78656 18px,#a26540 21px,#dc8957 23px,#c37a4e 25px,#a16440 27px,#b37047 28px,#d38454 29px,#ce8152 30px,#a06440 33px,#a66842 34px,#c87d50 35px,#c97e50 36px,#9f633f 39px,#9a603d 40px,#bd764b 41px,#c57b4e 42px,#8f5939 46px,#b26f47 47px,#c1784d 48px,#ab6b44 50px,#8f5939 52px,#bc754b 54px,#aa6a44 56px,#8f5939 58px,#9d623f 59px,#b67248 60px,#b26f47 61px,#8f5939 64px,#935c3b 65px,#ae6d45 66px,#af6d45 67px,#8e5939 70px,#8a5637 71px,#a56742 72px,#ab6b44 73px,#825134 77px,#9d623e 78px,#a86943 79px,#825134 83px,#a46641 85px,#965e3c 87px,#825134 89px,#8c5838 90px,#9f633f 91px,#9c613e 92px,#815133 95px,#855335 96px,#985f3d 97px,#99603d 98px,#805033 101px,#7d4e32 102px,#925b3a 103px,#965e3c 104px,#764a2f 108px,#8b5737 109px,#935c3a 110px,#764a2f 114px,#8f5939 116px,#75492f 120px,#8b5737 122px,#74492e 126px,#774a2f 127px,#855335 128px,#865435 129px,#71472d 133px,#805033 134px,#835234 135px,#6b432b 139px,#7a4c31 140px,#805033 141px,#6a422a 145px,#7d4e32 147px,#69422a 151px,#794c30 153px,#684129 157px,#6a422a 158px,#74492e 159px,#74492e 160px,#653f28 164px,#6f462c 165px,#71472d 166px,#613d27 170px,#6d442c 172px,#613c27 176px,#6a422a 178px,#603c26 182px,#664029 184px,#5f3b26 188px,#623d27 191px,#5a3824 201px,#3d2618 288px,#27180f 390px,#1f140c 475px,#2a1a11 527px,#352115 546px,#472c1c 562px)"></i>
<i style="background:linear-gradient(90deg,#db8957 0,#b57148 2px,#c37a4d 3px,#e6905c 4px,#e28d5a 5px,#b06e46 8px,#b16f47 9px,#d78655 10px,#da8857 11px,#ac6c45 14px,#a26540 15px,#c87d4f 16px,#d38454 17px,#b9744a 19px,#99603d 21px,#ba744a 22px,#cc7f51 23px,#b67148 25px,#975e3c 27px,#c57b4e 29px,#b26f47 31px,#955d3c 33px,#a06440 34px,#bc754b 35px,#b9744a 36px,#945d3b 39px,#955d3b 40px,#b26f47 41px,#b57148 42px,#8b5737 46px,#a86943 47px,#b16e46 48px,#855335 52px,#9e633f 53px,#ac6c45 54px,#9c613e 56px,#845335 58px,#a76943 60px,#99603d 62px,#845234 64px,#8c5838 65px,#a16440 66px,#9f633f 67px,#835234 70px,#845234 71px,#99603d 72px,#9b613e 73px,#7c4d31 77px,#925b3a 78px,#985f3c 79px,#774a2f 83px,#8a5637 84px,#945d3b 85px,#764a2f 89px,#905a39 91px,#75492f 95px,#7c4d31 96px,#8b5737 97px,#895637 98px,#74492e 101px,#75492e 102px,#855335 103px,#865435 104px,#6e452c 108px,#7f4f32 109px,#835234 110px,#6a422a 114px,#784b30 115px,#805033 116px,#69422a 120px,#7c4e31 122px,#684129 126px,#784b30 128px,#674029 132px,#674029 133px,#73482e 134px,#74482e 135px,#623d27 139px,#6d442c 140px,#71462d 141px,#5e3b25 145px,#6d442c 147px,#5d3a25 151px,#6a422a 153px,#5b3924 157px,#664029 159px,#5a3824 163px,#623d27 166px,#573622 170px,#5f3b26 172px,#543522 176px,#5c3924 178px,#533421 182px,#583723 184px,#523320 188px,#553522 190px,#503220 194px,#392417 262px,#25170f 341px,#1c110b 411px,#22150e 455px,#3d2618 492px,#6f452c 525px,#c2794d 562px)"></i>
<i style="background:linear-gradient(90deg,#ce8152 0,#ad6c45 2px,#bf774c 3px,#da8857 4px,#d48454 5px,#a76843 8px,#ae6d45 9px,#cc8051 10px,#cb7f51 11px,#a36641 14px,#9f643f 15px,#bf774c 16px,#c47b4e 17px,#925b3a 21px,#b26f47 22px,#bd764b 23px,#8e5939 27px,#b77249 29px,#a56742 31px,#8c5838 33px,#9a613d 34px,#b06e46 35px,#ab6b44 36px,#8a5637 39px,#905a39 40px,#a76842 41px,#a76842 42px,#885536 45px,#865435 46px,#9e633f 47px,#a26541 48px,#7d4e32 52px,#955d3b 53px,#9e633f 54px,#7b4d31 58px,#99603d 60px,#794c30 64px,#945d3b 66px,#915a3a 67px,#784b30 70px,#7c4e32 71px,#8e5938 72px,#8d5838 73px,#774a2f 76px,#75492f 77px,#875436 78px,#8a5637 79px,#6e452c 83px,#805033 84px,#865435 85px,#6c432b 89px,#825234 91px,#6b432a 95px,#7e4f32 97px,#69422a 101px,#6c442b 102px,#794c30 103px,#784b30 104px,#664029 108px,#73482e 109px,#75492f 110px,#613c26 114px,#6e452c 115px,#72472d 116px,#5f3b26 120px,#6f452c 122px,#5d3a25 126px,#6b432b 128px,#5c3924 132px,#5e3b25 133px,#664029 134px,#593723 139px,#623d27 140px,#633e27 141px,#543521 145px,#603c26 147px,#523321 151px,#5d3a25 153px,#503220 157px,#5a3824 159px,#4f311f 163px,#563622 165px,#4d301f 170px,#523321 172px,#4a2e1d 176px,#4f3220 178px,#482d1d 182px,#4c301e 184px,#462c1c 188px,#492e1d 190px,#301e13 258px,#1f130c 331px,#1b110b 384px,#291910 424px,#3a2417 437px,#5f3b26 456px,#ce8152 503px,#fe9f65 530px,#ffb574 562px)"></i>
<i style="background:linear-gradient(90deg,#c37a4d 0,#a56741 2px,#ce8152 4px,#bb754a 6px,#9f633f 8px,#aa6a44 9px,#c2794d 10px,#be774c 11px,#9a603d 14px,#9c613e 15px,#b67148 16px,#b77249 17px,#965d3c 20px,#8f5a39 21px,#aa6a44 22px,#b06e46 23px,#865435 27px,#9e633f 28px,#aa6a43 29px,#835234 33px,#a46641 35px,#965e3c 37px,#815133 39px,#8a5637 40px,#9c623e 41px,#9a603d 42px,#7f4f33 45px,#815033 46px,#945d3b 47px,#955d3b 48px,#784b30 52px,#8c5838 53px,#915a3a 54px,#72472d 58px,#845335 59px,#8c5838 60px,#70462d 64px,#885536 66px,#6f452c 70px,#75492f 71px,#835234 72px,#815033 73px,#6d442b 76px,#6e452c 77px,#7c4e32 78px,#7d4e32 79px,#684129 83px,#764a2f 84px,#794c30 85px,#633e27 89px,#70462d 90px,#764a2f 91px,#613d27 95px,#72472d 97px,#5f3c26 101px,#6e442c 103px,#5e3b25 107px,#5f3b26 108px,#69412a 109px,#69422a 110px,#593824 114px,#643e28 115px,#664029 116px,#553522 120px,#633e27 122px,#533421 126px,#5f3c26 128px,#523320 132px,#5b3924 134px,#503220 138px,#573723 141px,#4c2f1e 145px,#553522 147px,#482d1d 151px,#523320 153px,#472c1c 157px,#4f311f 159px,#452b1b 163px,#4b2f1e 165px,#442a1b 169px,#472d1c 172px,#3e2719 182px,#42291a 184px,#3d2618 188px,#2a1a11 248px,#1d120c 304px,#1b110b 344px,#26180f 374px,#41291a 395px,#805033 424px,#a76842 434px,#cd8052 446px,#fe9f65 467px,#ffb875 504px,#ffc37c 562px)"></i>
<i style="background:linear-gradient(90deg,#b87349 0,#9d623f 2px,#b47048 3px,#c2794d 4px,#b06e46 6px,#975e3c 8px,#b77349 10px,#a86943 12px,#915b3a 14px,#985f3c 15px,#ac6c45 16px,#aa6b44 17px,#8d5838 20px,#8c5738 21px,#a16540 22px,#a46641 23px,#815133 27px,#975e3c 28px,#9d623f 29px,#7b4d31 33px,#8d5838 34px,#985f3c 35px,#794b30 39px,#925b3a 41px,#764a2f 45px,#7b4d31 46px,#8a5737 47px,#895637 48px,#74482e 51px,#73482e 52px,#835234 53px,#855335 54px,#6c432b 58px,#7c4d31 59px,#815033 60px,#684129 64px,#7c4e32 66px,#664029 70px,#784b30 72px,#643e28 76px,#674129 77px,#72482e 78px,#623d27 82px,#613d27 83px,#6d442b 84px,#6e452c 85px,#5c3924 89px,#674029 90px,#6b432a 91px,#583723 95px,#674029 97px,#573622 101px,#633e27 103px,#553522 107px,#5f3b26 109px,#533421 113px,#5b3924 116px,#4d301f 120px,#583723 122px,#4b2f1e 126px,#553522 128px,#492d1d 132px,#513320 134px,#472c1c 138px,#4e311f 140px,#452b1b 144px,#4a2e1e 147px,#41281a 151px,#482d1c 153px,#3e2719 157px,#452b1b 159px,#3d2618 163px,#42291a 165px,#3b2517 169px,#3f2719 171px,#362216 182px,#281910 231px,#1a100a 305px,#24170e 331px,#442b1b 354px,#71462d 372px,#da8857 404px,#fe9f65 421px,#ffb372 440px,#ffbd78 463px,#ffc57e 562px)"></i>
<i style="background:linear-gradient(90deg,#ae6d45 0,#965e3c 2px,#ae6d45 3px,#b77249 4px,#8f5a39 8px,#ad6c45 10px,#8a5637 14px,#935c3a 15px,#a36641 16px,#9f643f 17px,#855335 20px,#875536 21px,#995f3d 22px,#995f3d 23px,#805033 26px,#7d4e32 27px,#8f5939 28px,#925b3a 29px,#74482e 33px,#865435 34px,#8d5838 35px,#71472d 39px,#875436 41px,#6e452c 45px,#815133 47px,#6b432b 51px,#6d442c 52px,#7a4c31 53px,#7a4c31 54px,#664029 58px,#74482e 59px,#764a2f 60px,#603c26 64px,#6d442b 65px,#72472d 66px,#5e3b25 70px,#6e452c 72px,#5c3924 76px,#69422a 78px,#5a3824 82px,#5b3924 83px,#643e28 84px,#643e28 85px,#553522 89px,#5f3b26 90px,#603c26 91px,#503220 95px,#5d3a25 97px,#4e311f 101px,#593824 103px,#4c301e 107px,#563522 109px,#4a2f1e 113px,#513320 116px,#472c1c 120px,#4e311f 122px,#432a1b 126px,#4b2f1e 128px,#41291a 132px,#482d1d 134px,#3f2719 138px,#452b1b 140px,#3d2618 144px,#41291a 147px,#3a2417 151px,#3f2719 153px,#372216 157px,#3c2618 159px,#352115 163px,#392417 165px,#332014 169px,#372216 171px,#23160e 226px,#19100a 285px,#23160e 301px,#4a2e1d 320px,#5f3b26 327px,#c97e50 356px,#ffa066 376px,#ffb674 399px,#ffc07a 431px,#ffc67e 562px)"></i>
<i style="background:linear-gradient(90deg,#a56742 0,#935c3b 2px,#a76943 3px,#ac6c44 4px,#885536 8px,#9a603d 9px,#a26541 10px,#825234 14px,#9a603d 16px,#7d4e32 20px,#835234 21px,#905a39 22px,#8e5939 23px,#794b30 26px,#794b30 27px,#875536 28px,#885536 29px,#70462c 33px,#7f4f32 34px,#825234 35px,#6a422a 39px,#7d4e32 41px,#674029 45px,#784b30 47px,#643e28 51px,#72472d 53px,#613d27 57px,#613d27 58px,#6c432b 59px,#6c442b 60px,#5b3924 64px,#663f28 65px,#684129 66px,#563622 70px,#643f28 72px,#543522 76px,#603c26 78px,#523321 82px,#5c3924 84px,#503220 88px,#573623 91px,#4b2f1e 95px,#543421 97px,#472d1c 101px,#513220 103px,#452b1c 107px,#4d301f 109px,#432a1b 113px,#492e1d 115px,#41291a 119px,#462c1c 122px,#3d2618 126px,#432a1b 128px,#3a2417 132px,#402819 134px,#382316 138px,#3d2618 140px,#362216 144px,#3a2417 146px,#311f13 157px,#352115 159px,#2f1d13 163px,#321f14 165px,#2d1c12 169px,#25170f 194px,#180f09 263px,#26170f 281px,#3d2618 292px,#573622 298px,#995f3d 309px,#b67248 315px,#e8915c 328px,#ffa066 336px,#ffb573 357px,#ffc07a 390px,#ffc67e 562px)"></i>
<i style="background:linear-gradient(90deg,#9d623e 0,#935c3b 1px,#905a39 2px,#a16440 3px,#a26541 4px,#835234 8px,#945c3b 9px,#995f3d 10px,#7c4d31 14px,#905a39 16px,#764a2f 20px,#885536 22px,#72472d 26px,#74492e 27px,#805033 28px,#6c432b 33px,#784b30 34px,#794c30 35px,#643e28 39px,#70462d 40px,#74482e 41px,#603c26 45px,#6f452c 47px,#5d3a25 51px,#6a422a 53px,#5a3824 57px,#643e28 59px,#563622 64px,#5e3b26 65px,#5f3c26 66px,#503220 70px,#5c3924 72px,#4d301f 76px,#583723 78px,#4b2f1e 82px,#543421 84px,#492d1d 88px,#4f3220 90px,#452b1c 95px,#4c2f1e 97px,#41291a 101px,#492d1d 103px,#3f2719 107px,#452b1c 109px,#3c2618 113px,#42291a 115px,#3a2417 119px,#3f2719 121px,#372316 126px,#3b2518 128px,#342015 132px,#392317 134px,#321f14 138px,#362216 140px,#301e13 144px,#332014 146px,#291a10 163px,#170e09 249px,#20140d 261px,#372216 269px,#835234 284px,#e18c59 299px,#ff9f65 305px,#ffab6d 311px,#ffb473 321px,#ffc07a 352px,#ffc67e 562px)"></i>
<i style="background:linear-gradient(90deg,#955d3b 0,#8d5838 1px,#8d5838 2px,#9a603d 3px,#99603d 4px,#805033 8px,#8d5838 9px,#905a39 10px,#75492f 14px,#825134 15px,#875536 16px,#70462d 20px,#805033 22px,#6b432b 26px,#784b30 28px,#674029 32px,#674029 33px,#71462d 34px,#71462d 35px,#603c26 39px,#6a422a 40px,#6b432b 41px,#593824 45px,#664029 47px,#563622 51px,#623d27 53px,#533421 57px,#5d3a25 59px,#503220 63px,#573723 66px,#4c2f1e 70px,#543421 72px,#472c1c 76px,#503220 78px,#452b1b 82px,#4c301e 84px,#42291a 88px,#492d1d 90px,#402819 94px,#442b1b 97px,#3c2618 101px,#41291a 103px,#392317 107px,#3e2719 109px,#362216 113px,#3b2518 115px,#342115 119px,#382316 121px,#2c1c12 138px,#301e13 140px,#2a1b11 144px,#2d1c12 146px,#22150e 169px,#160e09 234px,#20140d 247px,#382316 255px,#653f28 262px,#d48454 274px,#ffa066 284px,#ffb875 300px,#ffc07a 322px,#ffc67e 562px)"></i>
<i style="background:linear-gradient(90deg,#8e5939 0,#865435 1px,#895636 2px,#935c3b 3px,#915b3a 4px,#7e4f32 7px,#7c4e31 8px,#875536 9px,#885536 10px,#71472d 14px,#7d4e32 15px,#7f5033 16px,#6a422a 20px,#784b30 22px,#653f28 26px,#71472d 28px,#603c26 32px,#6a422a 34px,#5c3a25 38px,#5b3924 39px,#633e27 40px,#643e28 41px,#553522 45px,#5f3b26 47px,#503220 51px,#5a3824 53px,#4d301f 57px,#563622 59px,#4a2e1e 63px,#513320 65px,#472d1c 69px,#4d301e 72px,#42291a 76px,#492e1d 78px,#3f2719 82px,#462b1c 84px,#3d2618 88px,#42291a 90px,#3a2417 94px,#3e2719 96px,#342015 107px,#382316 109px,#311f14 113px,#352115 115px,#2f1d13 119px,#322014 121px,#281910 138px,#150d08 220px,#21150d 233px,#2f1d13 238px,#40281a 242px,#674129 248px,#d78656 260px,#f69a62 264px,#ffa167 266px,#ffb674 276px,#ffc07b 305px,#ffc67e 562px)"></i>
<i style="background:linear-gradient(90deg,#885536 0,#805033 1px,#8c5838 3px,#784b30 7px,#784b30 8px,#815133 9px,#805033 10px,#6e452c 14px,#774a2f 15px,#784b30 16px,#643f28 20px,#70462d 22px,#5f3b26 26px,#6a422a 28px,#5a3824 32px,#633e28 34px,#563622 38px,#5d3a25 41px,#513220 45px,#583723 47px,#4b2f1e 51px,#533421 53px,#482d1d 57px,#4f311f 59px,#452b1b 63px,#4b2f1e 65px,#42291a 69px,#462c1c 72px,#3e2719 76px,#432a1b 78px,#3a2417 82px,#3f2819 84px,#372316 88px,#3c2618 90px,#352115 94px,#392317 96px,#332014 100px,#352115 103px,#2c1c12 113px,#301e13 115px,#2a1a11 119px,#2d1c12 121px,#21150d 144px,#150d08 209px,#1d120c 219px,#281910 223px,#3b2517 227px,#653f28 233px,#da8857 246px,#f69a62 250px,#ffa167 252px,#ffb170 258px,#ffb976 264px,#ffc07a 283px,#ffc67e 562px)"></i>
<i style="background:linear-gradient(90deg,#825134 0,#7b4d31 1px,#865435 3px,#72472d 7px,#7b4d31 9px,#6b432a 13px,#71472d 16px,#613c26 20px,#6a422a 22px,#5a3824 26px,#633e27 28px,#553522 32px,#5d3a25 34px,#513220 38px,#573723 40px,#4d301f 44px,#513320 47px,#472c1c 51px,#4d301f 53px,#432a1a 57px,#492e1d 59px,#402819 63px,#452b1b 65px,#3d2618 69px,#41291a 71px,#362215 82px,#3a2417 84px,#332014 88px,#372216 90px,#301e13 94px,#342015 96px,#2e1d12 100px,#301e13 102px,#26180f 119px,#140c08 194px,#1d120b 207px,#26180f 211px,#382316 215px,#5f3b26 220px,#d58555 231px,#ffa066 237px,#ffaf6f 243px,#ffb875 250px,#ffc07a 271px,#ffc67e 562px)"></i>
<i style="background:linear-gradient(90deg,#7c4d31 0,#764a2f 1px,#7f5033 3px,#6d442b 7px,#75492f 9px,#653f28 13px,#6c432b 15px,#5d3a25 20px,#633e28 22px,#553522 26px,#5d3a25 28px,#503220 32px,#573623 34px,#4c2f1e 38px,#523320 40px,#482d1d 44px,#4c301e 46px,#432a1b 51px,#472d1c 53px,#3e2719 57px,#432a1b 59px,#3b2517 63px,#402819 65px,#382316 69px,#3c2518 71px,#352115 75px,#382316 77px,#2e1d12 88px,#321f14 90px,#2c1b11 94px,#2f1d13 96px,#22150e 119px,#130c08 185px,#20140d 196px,#2c1b11 200px,#3f2719 204px,#653f28 209px,#d48454 219px,#ff9f65 224px,#ffaf6f 229px,#ffb775 235px,#ffc07a 258px,#ffc67e 562px)"></i>
<i style="background:linear-gradient(90deg,#764a2f 0,#71472d 1px,#794c30 3px,#684129 7px,#6f462c 9px,#603c26 13px,#664029 15px,#5a3824 19px,#5d3a25 22px,#523320 26px,#573623 28px,#4b2f1e 32px,#513320 34px,#472c1c 38px,#4c301e 40px,#432a1b 44px,#472c1c 46px,#3f2819 50px,#42291a 53px,#3a2517 57px,#3e2719 59px,#362216 63px,#3a2517 65px,#342015 69px,#372216 71px,#311f13 75px,#342015 77px,#281910 94px,#1d120c 125px,#120b07 175px,#150d08 181px,#1d120b 185px,#3a2517 191px,#69422a 197px,#d98857 208px,#ffa066 213px,#ffb070 218px,#ffb875 224px,#ffbf7a 245px,#ffc67e 562px)"></i>
<i style="background:linear-gradient(90deg,#71472d 0,#6d442c 1px,#73482e 3px,#633e28 7px,#6a422a 9px,#5c3924 13px,#613d27 15px,#553522 19px,#593823 21px,#4f311f 25px,#523321 28px,#482d1c 32px,#4c301e 34px,#432a1a 38px,#472c1c 40px,#3f2719 44px,#422a1a 46px,#3b2517 50px,#3e2719 52px,#332014 63px,#362215 65px,#301e13 69px,#332014 71px,#2d1c12 75px,#1a100a 125px,#110b07 168px,#170e09 175px,#1f130c 178px,#2d1c12 181px,#523321 185px,#9b613e 190px,#c97d50 194px,#ed945e 198px,#ffa066 201px,#ffae6f 206px,#ffb875 213px,#ffbf7a 234px,#ffc67e 562px)"></i>
<i style="background:linear-gradient(90deg,#6d442b 0,#6e452c 3px,#5f3b26 7px,#643f28 9px,#573723 13px,#5c3925 15px,#513220 19px,#543522 21px,#4b2f1e 25px,#4d301f 28px,#442b1b 32px,#472d1c 34px,#3e2719 38px,#42291a 40px,#3b2517 44px,#3e2719 46px,#372216 50px,#3a2417 52px,#2c1b12 69px,#160e09 131px,#100a07 162px,#1c110b 170px,#291a10 173px,#382316 175px,#69422a 179px,#d98856 186px,#fb9d64 189px,#ffa267 190px,#ffb070 195px,#ffb875 202px,#ffbf7a 228px,#ffc67e 562px)"></i>
<i style="background:linear-gradient(90deg,#68412a 0,#69422a 3px,#5c3925 7px,#5f3c26 9px,#533421 13px,#573623 15px,#4d301e 19px,#503220 21px,#472c1c 25px,#492e1d 27px,#42291a 31px,#432a1b 34px,#3b2518 38px,#3e2719 40px,#332014 50px,#1b110b 106px,#100a06 155px,#170e09 162px,#23160e 165px,#382316 168px,#5d3a25 171px,#d38454 178px,#ee955f 180px,#ffa167 182px,#ffb070 186px,#ffb875 191px,#ffbf7a 220px,#ffc77e 562px)"></i>
<i style="background:linear-gradient(90deg,#643f28 0,#664029 2px,#593823 7px,#5b3924 9px,#503220 13px,#533421 15px,#492d1d 19px,#4c2f1e 21px,#432a1b 25px,#452b1c 27px,#3e2719 31px,#3f2819 33px,#382316 38px,#3a2417 40px,#332014 44px,#362215 46px,#301e13 50px,#321f14 52px,#2d1c12 56px,#2e1d12 58px,#23160e 75px,#180f0a 106px,#0f0906 149px,#170e09 156px,#24160e 159px,#332014 161px,#583723 164px,#c47b4e 170px,#e48e5b 172px,#fb9d64 174px,#ffa368 175px,#ffb271 179px,#ffba76 185px,#ffbf7a 215px,#ffc47d 320px,#ffc77e 562px)"></i>
<i style="background:linear-gradient(90deg,#603c26 0,#623d27 2px,#573623 6px,#563622 9px,#4d301f 13px,#4e311f 15px,#452b1c 19px,#472d1c 21px,#3f2819 25px,#41291a 27px,#3a2417 31px,#3c2518 33px,#362215 37px,#321f14 46px,#2d1c12 50px,#2e1d12 52px,#291a11 56px,#1a100a 93px,#0f0906 143px,#160e09 150px,#24160e 153px,#332014 155px,#3e2719 156px,#5b3924 158px,#bc754b 163px,#de8b59 165px,#f99b63 167px,#ffa267 168px,#ffb171 172px,#ffb976 177px,#ffbf79 203px,#ffc47d 312px,#ffc77e 562px)"></i>
<i style="background:linear-gradient(90deg,#5d3a25 0,#5e3b25 2px,#533421 6px,#543421 8px,#4b2f1e 12px,#4b2f1e 15px,#42291a 19px,#442a1b 21px,#3c2618 25px,#3e2719 27px,#372216 31px,#382316 33px,#332014 37px,#332014 39px,#2a1a11 50px,#1a100a 87px,#0e0906 137px,#150d09 144px,#22150d 147px,#311f14 149px,#4a2e1d 151px,#593824 152px,#7f4f32 154px,#bd764b 157px,#e18d5a 159px,#fc9d64 161px,#ffa468 162px,#ffb272 166px,#ffb976 171px,#ffbf7a 201px,#ffc47d 311px,#ffc77f 562px)"></i>
<i style="background:linear-gradient(90deg,#593824 0,#5a3824 2px,#503220 6px,#503220 8px,#482d1d 12px,#472c1c 15px,#3f2819 19px,#40281a 21px,#392417 25px,#3a2417 27px,#342115 31px,#352115 33px,#301e13 37px,#24160e 56px,#0f0906 118px,#0d0805 130px,#110a07 136px,#170e09 139px,#1f140c 141px,#2d1c12 143px,#382316 144px,#452b1b 145px,#653f28 147px,#b97349 151px,#de8b58 153px,#fa9c64 155px,#ffa368 156px,#ffb272 160px,#ffb976 165px,#ffbf7a 196px,#ffc57d 310px,#ffc77f 562px)"></i>
<i style="background:linear-gradient(90deg,#563622 0,#573622 2px,#4d301f 6px,#4d301f 8px,#452b1b 12px,#452b1b 14px,#362216 25px,#22150d 56px,#120b07 99px,#0d0805 124px,#0f0906 130px,#150d08 133px,#1d120b 135px,#2a1a11 137px,#3e2719 139px,#4c301e 140px,#70462c 142px,#d78656 147px,#f69a62 149px,#ffa166 150px,#ffb271 154px,#ffb976 159px,#ffbf7a 190px,#ffc57d 308px,#ffc77f 562px)"></i>
<i style="background:linear-gradient(90deg,#533421 0,#533421 2px,#4a2e1d 6px,#4a2e1d 8px,#3b2517 18px,#2f1d13 31px,#23160e 49px,#120b07 93px,#0d0805 118px,#0f0906 125px,#140d08 128px,#1c120b 130px,#2b1b11 132px,#372216 133px,#653f28 136px,#b9744a 140px,#df8b59 142px,#fb9d64 144px,#ffa468 145px,#ffb372 149px,#ffb976 154px,#ffc07a 191px,#ffc57d 308px,#ffc77f 562px)"></i>
<i style="background:linear-gradient(90deg,#513320 0,#382316 18px,#21150d 49px,#0f0906 99px,#0d0805 116px,#100a06 121px,#1b110b 125px,#291a10 127px,#342015 128px,#523321 130px,#664028 131px,#ad6c45 134px,#d48554 136px,#f39861 138px,#ffa066 139px,#ffb171 143px,#ffb976 149px,#ffc07a 190px,#ffc57d 308px,#ffc77f 562px)"></i>
<i style="background:linear-gradient(90deg,#4f311f 0,#362215 18px,#22150e 43px,#0f0a06 92px,#0c0805 111px,#100a06 116px,#170e09 119px,#21140d 121px,#321f14 123px,#3f2719 124px,#613d27 126px,#d38454 131px,#f69962 133px,#ffa167 134px,#ffb171 138px,#ffb976 144px,#ffc17b 190px,#ffc57e 308px,#ffc77f 562px)"></i>
<i style="background:linear-gradient(90deg,#4c301e 0,#332014 18px,#20140d 43px,#100a06 86px,#0c0805 105px,#0f0a06 111px,#160e09 114px,#20140d 116px,#311f13 118px,#3d2618 119px,#4c2f1e 120px,#72472d 122px,#b77249 125px,#e08c59 127px,#fe9f65 129px,#ffa569 130px,#ffb472 134px,#ffb976 140px,#ffc17b 190px,#ffc57e 308px,#ffc77f 562px)"></i>
<i style="background:linear-gradient(90deg,#4a2e1d 0,#311f14 18px,#1e130c 43px,#0e0906 86px,#0c0805 99px,#0f0a06 106px,#160e09 109px,#1f140c 111px,#301e13 113px,#3b2518 114px,#4a2e1d 115px,#6e452c 117px,#b26f47 120px,#db8957 122px,#fa9c63 124px,#ffa368 125px,#ffb372 129px,#ffb976 135px,#ffc17b 186px,#ffc57e 306px,#ffc77f 562px)"></i>
<i style="background:linear-gradient(90deg,#482d1d 0,#2f1d13 18px,#1d120b 43px,#0d0805 86px,#0c0805 97px,#100a06 102px,#1e130c 106px,#2e1d12 108px,#392317 109px,#472c1c 110px,#6a422a 112px,#d68655 117px,#f69a62 119px,#ffa166 120px,#ffb171 124px,#ffb976 130px,#ffc17b 180px,#ffc57e 301px,#ffc77f 562px)"></i>
<i style="background:linear-gradient(90deg,#462c1c 0,#2d1c12 18px,#1c110b 42px,#0e0805 80px,#0c0805 92px,#100a06 97px,#1c120b 101px,#352115 104px,#42291a 105px,#653f28 107px,#bc764b 111px,#e28d5a 113px,#fe9f65 115px,#ffa569 116px,#ffb272 120px,#ffb976 127px,#ffc27b 182px,#ffc77f 562px)"></i>
<i style="background:linear-gradient(90deg,#442a1b 0,#2c1b11 18px,#1a100a 42px,#0d0805 80px,#0c0805 89px,#100a06 93px,#1f130c 97px,#301e13 99px,#3c2618 100px,#5d3a25 102px,#b47048 106px,#dc8957 108px,#f99c63 110px,#ffa267 111px,#ffb171 115px,#ffb976 122px,#ffc27b 176px,#ffc67e 287px,#ffc77f 562px)"></i>
<i style="background:linear-gradient(90deg,#42291a 0,#2b1b11 17px,#1c120b 36px,#0d0805 73px,#0c0805 84px,#110a07 89px,#160e09 91px,#21150d 93px,#342115 95px,#41291a 96px,#653f28 98px,#d28354 103px,#e48e5b 104px,#ff9f65 106px,#ffb070 110px,#ffb775 116px,#ffc27b 169px,#ffc57e 275px,#ffc77f 562px)"></i>
<i style="background:linear-gradient(90deg,#402819 0,#291a10 17px,#1b110b 36px,#0c0805 73px,#0c0705 80px,#100a07 85px,#1c110b 88px,#2b1b11 90px,#362216 91px,#452b1b 92px,#6a422a 94px,#af6d46 97px,#d98756 99px,#f79b62 101px,#ffa267 102px,#ffb171 106px,#ffb875 113px,#ffc27c 169px,#ffc67e 275px,#ffc77f 562px)"></i>
<i style="background:linear-gradient(90deg,#3e2719 0,#281910 17px,#19100a 36px,#0d0805 67px,#0c0805 77px,#100a06 81px,#1a100a 84px,#2a1a11 86px,#362215 87px,#573623 89px,#b26f47 93px,#dc8958 95px,#fa9c63 97px,#ffa368 98px,#ffb171 102px,#ffb875 109px,#ffc27c 168px,#ffc77f 562px)"></i>
<i style="background:linear-gradient(90deg,#3c2618 0,#26180f 17px,#180f0a 36px,#0c0805 67px,#0c0805 74px,#110b07 78px,#1e130c 81px,#311f14 83px,#402819 84px,#684129 86px,#b16f47 89px,#dc8958 91px,#fa9c64 93px,#ffa368 94px,#ffb171 98px,#ffb875 105px,#ffc27c 166px,#ffc77f 562px)"></i>
<i style="background:linear-gradient(90deg,#3b2517 0,#25170f 17px,#180f09 35px,#0d0805 61px,#0d0805 70px,#100a06 74px,#1b110b 77px,#2b1b11 79px,#382316 80px,#5e3b25 82px,#c2794d 86px,#d88756 87px,#f89b63 89px,#ffa267 90px,#ffb171 94px,#ffb875 101px,#ffc27c 162px,#ffc77f 562px)"></i>
<i style="background:linear-gradient(90deg,#392417 0,#24160e 17px,#170e09 35px,#0d0805 60px,#0d0805 67px,#120b07 71px,#1d120c 74px,#301e13 76px,#3f2719 77px,#674129 79px,#ce8152 83px,#f39861 85px,#ffa066 86px,#ffab6d 88px,#ffb070 90px,#ffb775 97px,#ffc27c 157px,#ffc67e 274px,#ffc77f 562px)"></i>
<i style="background:linear-gradient(90deg,#382316 0,#22160e 17px,#160e09 35px,#0d0805 59px,#130c08 67px,#19100a 69px,#25170f 71px,#372216 73px,#442b1b 74px,#6f462c 76px,#be774c 79px,#d58555 80px,#f89b63 82px,#ffa368 83px,#ffac6e 85px,#ffb171 87px,#ffb875 94px,#ffc37c 157px,#ffc77f 562px)"></i>
<i style="background:linear-gradient(90deg,#362216 0,#22150e 16px,#150d08 35px,#0e0905 54px,#0f0906 59px,#140d08 63px,#1b110b 65px,#26180f 67px,#382316 69px,#452b1c 70px,#674029 72px,#905a39 74px,#c47b4e 76px,#db8957 77px,#fc9d64 79px,#ffa469 80px,#ffb271 84px,#ffb875 92px,#ffc37c 156px,#ffc77f 562px)"></i>
<i style="background:linear-gradient(90deg,#352115 0,#21150d 16px,#140c08 35px,#0e0906 52px,#150d08 59px,#1b110b 61px,#271810 63px,#3a2417 65px,#462c1c 66px,#674029 68px,#ba744a 72px,#f09660 75px,#fe9f65 76px,#ffa569 77px,#ffb271 81px,#ffb875 89px,#ffc37c 155px,#ffc77f 562px)"></i>
<i style="background:linear-gradient(90deg,#342015 0,#26180f 10px,#160e09 29px,#0f0906 47px,#100a06 52px,#150d08 55px,#1c110b 57px,#271810 59px,#472c1c 62px,#674029 64px,#b87349 68px,#dc8958 70px,#f79b62 72px,#ffa166 73px,#ffb070 77px,#ffb775 84px,#ffbe79 108px,#ffc37c 146px,#ffc77f 562px)"></i>
<i style="background:linear-gradient(90deg,#332014 0,#1f140c 16px,#130c07 34px,#0f0a06 46px,#170e09 52px,#26180f 55px,#382316 57px,#452b1b 58px,#653f28 60px,#b57148 64px,#d98857 66px,#e8915c 67px,#ff9f66 69px,#ffae6f 73px,#ffb775 81px,#ffbe79 104px,#ffc37c 141px,#ffc67e 255px,#ffc77f 562px)"></i>
<i style="background:linear-gradient(90deg,#321f14 0,#1e130c 16px,#120b07 34px,#100a06 44px,#190f0a 49px,#2a1a11 52px,#402819 54px,#5f3c26 56px,#b16e46 60px,#d68655 62px,#e58f5b 63px,#fd9e65 65px,#ffa368 66px,#ffb171 71px,#ffb976 81px,#ffc37c 143px,#ffc77f 562px)"></i>
<i style="background:linear-gradient(90deg,#311e13 0,#1e120c 16px,#120b07 33px,#110a07 41px,#1a100a 46px,#2d1c12 49px,#452b1c 51px,#684129 53px,#d08253 58px,#ee955f 60px,#f99c63 61px,#ffa267 62px,#ffb070 67px,#ffb875 77px,#ffbe79 100px,#ffc37c 137px,#ffc77f 562px)"></i>
<i style="background:linear-gradient(90deg,#301e13 0,#1f130c 14px,#140c08 29px,#110b07 38px,#140d08 41px,#1a100a 43px,#2e1d12 46px,#482d1d 48px,#6d442b 50px,#b06e46 53px,#d78656 55px,#e7905c 56px,#fe9f65 58px,#ffa468 59px,#ffae6f 62px,#ffb272 65px,#ffb976 76px,#ffc37c 137px,#ffc77f 562px)"></i>
<i style="background:linear-gradient(90deg,#2f1d13 0,#1e130c 14px,#140c08 28px,#120b07 36px,#1a100a 40px,#2e1d12 43px,#482d1d 45px,#6e452c 47px,#b37047 50px,#db8957 52px,#f79b62 54px,#ffa166 55px,#ffa96c 57px,#ffb070 60px,#ffb774 68px,#ffbf79 94px,#ffc37c 134px,#ffc77f 562px)"></i>
<i style="background:linear-gradient(90deg,#2e1d12 0,#1e130c 13px,#140c08 27px,#120c07 33px,#19100a 37px,#2c1c12 40px,#462c1c 42px,#6d442b 44px,#b37047 47px,#dc8957 49px,#f89b63 51px,#ffa167 52px,#ffaa6c 54px,#ffb170 57px,#ffb775 66px,#ffbf7a 93px,#ffc47d 132px,#ffc77f 562px)"></i>
<i style="background:linear-gradient(90deg,#2d1c12 0,#1e120c 13px,#140c08 26px,#140c08 32px,#1b110b 35px,#281910 37px,#41281a 39px,#674029 41px,#af6d46 44px,#da8857 46px,#f79b62 48px,#ffa167 49px,#ffaa6c 51px,#ffb170 54px,#ffb775 63px,#ffbf7a 90px,#ffc37c 128px,#ffc77f 562px)"></i>
<i style="background:linear-gradient(90deg,#2c1c12 0,#1e130c 12px,#140c08 25px,#150d08 30px,#1d120c 33px,#2c1c12 35px,#492e1d 37px,#74492e 39px,#bf774c 42px,#d58555 43px,#f59961 45px,#ffa066 46px,#ffa96c 48px,#ffb070 51px,#ffb774 59px,#ffbf7a 87px,#ffc37c 123px,#ffc77f 562px)"></i>
<i style="background:linear-gradient(90deg,#2c1b11 0,#1d120c 12px,#140d08 24px,#150d08 28px,#1e130c 31px,#2f1e13 33px,#3d2618 34px,#664028 36px,#b47047 39px,#e08c59 41px,#fc9d64 43px,#ffa368 44px,#ffab6d 46px,#ffb171 49px,#ffb775 58px,#ffbf7a 86px,#ffc47d 125px,#ffc77f 562px)"></i>
<i style="background:linear-gradient(90deg,#2b1b11 0,#150d08 22px,#150d08 26px,#1e130c 29px,#311e13 31px,#402819 32px,#6c432b 34px,#d48454 38px,#f69a62 40px,#ffa166 41px,#ffae6f 45px,#ffaa6c 47px,#ffb271 49px,#ffab6d 50px,#ffac6d 51px,#ffb372 52px,#ffb473 53px,#ffad6e 54px,#ffae6f 55px,#ffb573 56px,#ffb674 57px,#ffaf70 58px,#ffb070 59px,#ffb775 60px,#ffb271 62px,#ffb976 64px,#ffb472 66px,#ffba77 69px,#ffb674 70px,#fb7 72px,#ffb775 74px,#ffbd79 80px,#ffc47d 124px,#ffc77f 562px)"></i>
<i style="background:linear-gradient(90deg,#2a1b11 0,#150d08 21px,#170e09 25px,#1d120c 27px,#301e13 29px,#402819 30px,#6e452c 32px,#c37a4d 35px,#da8857 36px,#ea925d 37px,#ffa267 39px,#ffa66a 40px,#ffa066 42px,#ffac6d 43px,#ffac6e 44px,#fb9d64 45px,#fa9c63 46px,#ffae6f 47px,#ffae6f 48px,#f89b63 49px,#f89b63 50px,#ffb070 51px,#ffb070 52px,#fa9d64 53px,#fb9d64 54px,#ffb171 55px,#ffb271 56px,#ff9f65 57px,#ffa066 58px,#ffb372 59px,#ffb472 60px,#ffa267 61px,#ffa267 62px,#ffb573 63px,#ffb573 64px,#ffa569 65px,#ffa569 66px,#ffb674 67px,#ffb774 68px,#ffa76a 69px,#ffa86b 70px,#ffb875 71px,#ffb875 72px,#ffaa6c 73px,#ffaa6c 74px,#ffb976 75px,#ffb976 76px,#ffac6d 77px,#ffad6e 78px,#ffba77 79px,#fb7 80px,#ffae6f 81px,#ffaf6f 82px,#fb7 83px,#ffbc78 84px,#ffb070 85px,#ffb171 86px,#ffbd78 87px,#ffbd78 88px,#ffb272 89px,#ffb372 90px,#ffbd79 91px,#ffbe79 92px,#ffb473 93px,#ffb573 94px,#ffbe79 95px,#ffbe79 96px,#ffb674 97px,#ffb674 98px,#ffbf7a 99px,#ffbf7a 100px,#ffb775 101px,#ffb875 102px,#ffc07a 103px,#ffc07a 104px,#ffb976 105px,#ffb976 106px,#ffc07b 107px,#ffc17b 108px,#ffba76 109px,#ffc17b 111px,#fb7 113px,#ffc27b 115px,#ffbc78 117px,#ffc27c 119px,#ffbd79 121px,#ffc37c 124px,#ffbe79 125px,#ffc37c 127px,#ffbf7a 129px,#ffc37c 131px,#ffc67e 200px,#ffc77f 562px)"></i>
<i style="background:linear-gradient(90deg,#2a1a11 0,#160e09 19px,#160e09 23px,#1c110b 25px,#2c1c12 27px,#3c2518 28px,#6c442b 30px,#c57b4e 33px,#ef955f 35px,#ffa66a 38px,#ffa86b 39px,#f29760 40px,#e9915d 41px,#ffa86b 42px,#ffa86b 43px,#d58555 44px,#d28354 45px,#ffa86b 46px,#ffa86b 47px,#ce8152 48px,#ce8152 49px,#ffa96c 50px,#ffaa6c 51px,#d08253 52px,#d18253 53px,#ffab6d 54px,#ffab6d 55px,#d38454 56px,#d48555 57px,#ffac6e 58px,#ffad6e 59px,#d88756 60px,#d98756 61px,#ffae6f 62px,#ffae6f 63px,#dc8957 64px,#dd8a58 65px,#ffaf70 66px,#ffb070 67px,#e08c59 68px,#e18d59 69px,#ffb171 70px,#ffb171 71px,#e48e5b 72px,#e58f5b 73px,#ffb271 74px,#ffb272 75px,#e8915c 76px,#e9925d 77px,#ffb372 78px,#ffb472 79px,#ec935e 80px,#ed945e 81px,#ffb573 82px,#ffb573 83px,#f0965f 84px,#f19660 85px,#ffb674 86px,#ffb674 87px,#f39861 88px,#f49961 89px,#ffb774 90px,#ffb775 91px,#f79a62 92px,#f89b63 93px,#ffb875 94px,#ffb875 95px,#fa9c64 96px,#fb9d64 97px,#ffb976 98px,#ffb976 99px,#fe9f65 100px,#fe9f65 101px,#ffb976 102px,#ffba76 103px,#ffa166 104px,#ffa167 105px,#ffba77 106px,#ffba77 107px,#ffa267 108px,#ffa368 109px,#fb7 110px,#fb7 111px,#ffa469 112px,#ffa569 113px,#ffbc77 114px,#ffbc78 115px,#ffa66a 116px,#ffa76a 117px,#ffbc78 118px,#ffbc78 119px,#ffa86b 120px,#ffa86b 121px,#ffbd78 122px,#ffbd78 123px,#ffaa6c 124px,#ffaa6c 125px,#ffbd79 126px,#ffbd79 127px,#ffac6d 128px,#ffac6e 129px,#ffbd79 130px,#ffbd79 131px,#ffae6f 132px,#ffaf6f 133px,#ffbd79 134px,#ffbd79 135px,#ffb070 136px,#ffb170 137px,#ffbd79 138px,#ffbd79 139px,#ffb271 140px,#ffb272 141px,#ffbd79 142px,#ffbd79 143px,#ffb472 144px,#ffb473 145px,#ffbe79 146px,#ffbe79 147px,#ffb574 148px,#ffb674 149px,#ffbe79 150px,#ffbe79 151px,#ffb774 152px,#ffbe79 154px,#ffb875 156px,#ffbe79 158px,#ffba76 160px,#ffbe79 162px,#fb7 164px,#ffbf79 166px,#ffc47d 228px,#ffc77f 562px)"></i>
<i style="background:linear-gradient(90deg,#291a10 0,#170e09 18px,#180f09 22px,#20140d 24px,#362215 26px,#4a2e1e 27px,#653f28 28px,#c47b4e 31px,#f0965f 33px,#fd9e65 34px,#fb9d64 36px,#ffa86b 37px,#ffa86b 38px,#dc8a58 39px,#cd8052 40px,#ffa368 41px,#ffa167 42px,#ab6b44 43px,#a86943 44px,#ffa167 45px,#ffa267 46px,#a46641 47px,#a46641 48px,#ffa267 49px,#ffa368 50px,#a46741 51px,#a56742 52px,#ffa468 53px,#ffa469 54px,#a76842 55px,#a86943 56px,#ffa569 57px,#ffa66a 58px,#aa6a44 59px,#aa6a44 60px,#ffa76a 61px,#ffa76a 62px,#ac6c45 63px,#ad6c45 64px,#ffa86b 65px,#ffa86b 66px,#af6d46 67px,#b06e46 68px,#ffa96c 69px,#ffa96c 70px,#b26f47 71px,#b27047 72px,#ffaa6c 73px,#ffaa6c 74px,#b47148 75px,#b57148 76px,#ffab6d 77px,#ffab6d 78px,#b77249 79px,#b87349 80px,#ffac6d 81px,#ffac6e 82px,#ba744a 83px,#ba754a 84px,#ffad6e 85px,#ffad6e 86px,#bc764b 87px,#bd764b 88px,#ffae6f 89px,#ffae6f 90px,#bf774c 91px,#bf784c 92px,#ffae6f 93px,#ffaf6f 94px,#c1794d 95px,#c2794d 96px,#ffaf70 97px,#ffaf70 98px,#c47a4e 99px,#c47b4e 100px,#ffb070 101px,#ffb070 102px,#c67c4f 103px,#c67c4f 104px,#ffb070 105px,#ffb170 106px,#c87d50 107px,#c97d50 108px,#ffb171 109px,#ffb171 110px,#ca7f51 111px,#cb7f51 112px,#ffb271 113px,#ffb271 114px,#cd8051 115px,#cd8052 116px,#ffb271 117px,#ffb272 118px,#cf8152 119px,#cf8253 120px,#ffb372 121px,#ffb372 122px,#d18353 123px,#d28353 124px,#ffb372 125px,#ffb372 126px,#d58555 127px,#d68655 128px,#ffb271 129px,#ffb171 130px,#da8857 131px,#db8957 132px,#ffb171 133px,#ffb070 134px,#de8b58 135px,#df8c59 136px,#ffb070 137px,#ffb070 138px,#e38e5a 139px,#e48e5b 140px,#ffaf6f 141px,#ffaf6f 142px,#e7905c 143px,#e8915c 144px,#ffae6f 145px,#ffae6f 146px,#eb935e 147px,#ec945e 148px,#ffad6e 149px,#ffad6e 150px,#ef955f 151px,#f09660 152px,#ffac6e 153px,#ffac6e 154px,#f39861 155px,#f49861 156px,#ffac6d 157px,#ffab6d 158px,#f79a62 159px,#f89b63 160px,#ffab6d 161px,#ffab6d 162px,#fb9d64 163px,#fb9d64 164px,#ffaa6c 165px,#ffaa6c 166px,#fe9f65 167px,#ff9f65 168px,#ffaa6c 169px,#ffa96c 170px,#ffa167 171px,#ffa267 172px,#ffa96c 173px,#ffa368 175px,#ffa86b 177px,#ffa569 179px,#ffb875 300px,#ffc17b 562px)"></i>
<i style="background:linear-gradient(90deg,#291910 0,#180f09 16px,#180f09 20px,#1d120c 22px,#2f1e13 24px,#41291a 25px,#5a3824 26px,#be774c 29px,#da8857 30px,#fd9e65 32px,#ffa468 33px,#f99c63 35px,#ffa96b 36px,#ffa86b 37px,#d28354 38px,#c2794d 39px,#ffa267 40px,#ffa066 41px,#955d3b 42px,#935c3b 43px,#fe9f65 44px,#fe9f65 45px,#915b3a 46px,#915b3a 47px,#ffa066 48px,#ffa066 49px,#925b3a 50px,#925b3a 51px,#ffa167 52px,#ffa267 53px,#945c3b 54px,#945d3b 55px,#ffa267 56px,#ffa368 57px,#965d3c 58px,#965e3c 59px,#ffa468 60px,#ffa468 61px,#975f3c 62px,#985f3c 63px,#ffa569 64px,#ffa569 65px,#99603d 66px,#9a603d 67px,#ffa569 68px,#ffa66a 69px,#9b613e 70px,#9b613e 71px,#ffa66a 72px,#ffa66a 73px,#9d623e 74px,#9d623f 75px,#ffa76a 76px,#ffa76b 77px,#9e633f 78px,#9f633f 79px,#ffa86b 80px,#ffa86b 81px,#a06440 82px,#a06440 83px,#ffa96b 84px,#ffa96b 85px,#a16540 86px,#a26540 87px,#ffa96c 88px,#ffa96c 89px,#a36641 90px,#a36641 91px,#ffaa6c 92px,#ffaa6c 93px,#a46741 94px,#a56742 95px,#ffaa6c 96px,#ffaa6d 97px,#a66842 98px,#a66842 99px,#ffab6d 100px,#ffab6d 101px,#a76842 102px,#a76943 103px,#ffab6d 104px,#ffab6d 105px,#a86943 106px,#a86943 107px,#ffac6d 108px,#ffac6d 109px,#a96a43 110px,#aa6a44 111px,#ffac6e 112px,#ffac6e 113px,#ab6b44 114px,#ab6b44 115px,#ffac6e 116px,#ffad6e 117px,#ac6b44 118px,#ac6b44 119px,#ffad6e 120px,#ffad6e 121px,#ad6c45 122px,#ad6c45 123px,#ffad6e 124px,#ffad6e 125px,#b06e46 126px,#b16e46 127px,#ffab6d 128px,#ffab6d 129px,#b47148 130px,#b57148 131px,#ffa96c 132px,#ffa96c 133px,#b87349 134px,#ba744a 135px,#ffa86b 136px,#ffa76a 137px,#bd764b 138px,#be774c 139px,#ffa66a 140px,#ffa569 141px,#c1794d 142px,#c2794d 143px,#ffa468 144px,#ffa468 145px,#c57b4f 146px,#c67c4f 147px,#ffa267 148px,#ffa267 149px,#c97e50 150px,#ca7f51 151px,#ffa066 152px,#ffa066 153px,#ce8052 154px,#cf8152 155px,#fe9f65 156px,#fd9e65 157px,#d28353 158px,#d38454 159px,#fb9d64 160px,#fa9d64 161px,#d68655 162px,#d78655 163px,#f89b63 164px,#f89b63 165px,#da8857 166px,#db8957 167px,#f69962 168px,#f59961 169px,#dd8a58 170px,#de8b59 171px,#f39861 172px,#f29760 173px,#e18d5a 174px,#e28d5a 175px,#f09660 176px,#ef965f 177px,#e58f5b 178px,#ed945e 180px,#e9925d 182px,#f89b63 324px,#ffa167 562px)"></i>
<i style="background:linear-gradient(90deg,#281910 0,#180f09 16px,#19100a 19px,#20140d 21px,#382316 23px,#4e311f 24px,#6b432b 25px,#d28353 28px,#ea925d 29px,#fc9d64 30px,#ffa469 31px,#ffa86b 32px,#fe9f65 34px,#ffab6d 35px,#ffaa6c 36px,#dd8a58 37px,#d08253 38px,#ffa66a 39px,#ffa469 40px,#ac6c45 41px,#a16440 42px,#ffa267 43px,#ffa267 44px,#a16540 45px,#a26540 46px,#ffa368 47px,#ffa468 48px,#a46641 49px,#a56741 50px,#ffa569 51px,#ffa569 52px,#a76842 53px,#a76943 54px,#ffa66a 55px,#ffa66a 56px,#aa6a43 57px,#aa6a44 58px,#ffa76b 59px,#ffa86b 60px,#ac6c45 61px,#ad6c45 62px,#ffa86b 63px,#ffa96b 64px,#af6d46 65px,#b06e46 66px,#ffa96c 67px,#ffaa6c 68px,#b26f47 69px,#b26f47 70px,#ffaa6d 71px,#ffab6d 72px,#b47148 73px,#b57148 74px,#ffab6d 75px,#ffac6d 76px,#b77249 77px,#b77349 78px,#ffac6e 79px,#ffac6e 80px,#b9744a 81px,#ba744a 82px,#ffad6e 83px,#ffad6e 84px,#bc754b 85px,#bc764b 86px,#ffae6f 87px,#ffae6f 88px,#be774c 89px,#bf774c 90px,#ffaf6f 91px,#ffaf6f 92px,#c1784d 93px,#c1794d 94px,#ffaf70 95px,#ffaf70 96px,#c37a4e 97px,#c47a4e 98px,#ffb070 99px,#ffb070 100px,#c57b4f 101px,#c67c4f 102px,#ffb170 103px,#ffb171 104px,#c87d4f 105px,#c87d50 106px,#ffb171 107px,#ffb171 108px,#ca7e50 109px,#ca7e51 110px,#ffb271 111px,#ffb271 112px,#cc7f51 113px,#cd8051 114px,#ffb272 115px,#ffb272 116px,#ce8152 117px,#cf8152 118px,#ffb372 119px,#ffb372 120px,#d08253 121px,#d18353 122px,#ffb372 123px,#ffb372 124px,#d38454 125px,#d48555 126px,#ffb372 127px,#ffb272 128px,#d88756 129px,#d98856 130px,#ffb271 131px,#ffb171 132px,#dc8a58 133px,#dd8a58 134px,#ffb170 135px,#ffb070 136px,#e18c59 137px,#e28d5a 138px,#ffb070 139px,#ffaf70 140px,#e58f5b 141px,#e6905c 142px,#ffaf6f 143px,#ffae6f 144px,#e9925d 145px,#ea925d 146px,#ffae6f 147px,#ffae6e 148px,#ed945e 149px,#ee955f 150px,#ffad6e 151px,#ffad6e 152px,#f19760 153px,#f29760 154px,#ffac6e 155px,#ffac6d 156px,#f59962 157px,#f69a62 158px,#ffab6d 159px,#ffab6d 160px,#f99c63 161px,#fa9c63 162px,#ffab6d 163px,#ffaa6d 164px,#fd9e65 165px,#fd9e65 166px,#ffaa6c 167px,#ffaa6c 168px,#ffa066 169px,#ffa166 170px,#ffa96c 171px,#ffa96c 172px,#ffa267 173px,#ffa96c 175px,#ffa469 177px,#ffa86b 179px,#ffb775 297px,#ffc17b 562px)"></i>
<i style="background:linear-gradient(90deg,#281910 0,#180f0a 15px,#1a110b 18px,#24170e 20px,#2f1e13 21px,#41291a 22px,#5b3924 23px,#c57b4e 26px,#e18d5a 27px,#f69a62 28px,#ffa368 29px,#ffac6e 31px,#ffa66a 33px,#ffae6f 34px,#ffae6f 35px,#f49961 36px,#ec945e 37px,#ffac6d 38px,#ffab6d 39px,#d68655 40px,#cf8152 41px,#ffa96b 42px,#ffa96c 43px,#ca7e50 44px,#cb7f51 45px,#ffaa6d 46px,#ffab6d 47px,#ce8152 48px,#cf8152 49px,#ffac6e 50px,#ffad6e 51px,#d28454 52px,#d48454 53px,#ffae6f 54px,#ffae6f 55px,#d78655 56px,#d88756 57px,#ffaf70 58px,#ffb070 59px,#db8957 60px,#dc8957 61px,#ffb170 62px,#ffb171 63px,#df8b59 64px,#e08c59 65px,#ffb271 66px,#ffb271 67px,#e38e5a 68px,#e48e5b 69px,#ffb372 70px,#ffb372 71px,#e7905c 72px,#e7915c 73px,#ffb473 74px,#ffb473 75px,#ea925d 76px,#eb935e 77px,#ffb573 78px,#ffb574 79px,#ee955f 80px,#ef955f 81px,#ffb674 82px,#ffb674 83px,#f29760 84px,#f39861 85px,#ffb775 86px,#ffb775 87px,#f59962 88px,#f69a62 89px,#ffb875 90px,#ffb875 91px,#f99b63 92px,#f99c63 93px,#ffb976 94px,#ffb976 95px,#fc9d64 96px,#fd9e65 97px,#ffba76 98px,#ffba76 99px,#ff9f66 100px,#ffa066 101px,#ffba77 102px,#fb7 103px,#ffa167 104px,#ffa267 105px,#fb7 106px,#fb7 107px,#ffa368 108px,#ffa468 109px,#ffbc78 110px,#ffbc78 111px,#ffa569 112px,#ffa669 113px,#ffbc78 114px,#ffbd78 115px,#ffa76a 116px,#ffa76b 117px,#ffbd78 118px,#ffbd78 119px,#ffa96b 120px,#ffa96c 121px,#ffbe79 122px,#ffbe79 123px,#ffaa6c 124px,#ffab6d 125px,#ffbe79 126px,#ffbe79 127px,#ffac6e 128px,#ffad6e 129px,#ffbe79 130px,#ffbe79 131px,#ffaf6f 132px,#ffaf70 133px,#ffbe79 134px,#ffbe79 135px,#ffb170 136px,#ffb171 137px,#ffbe79 138px,#ffbe79 139px,#ffb272 140px,#ffb372 141px,#ffbe79 142px,#ffbe79 143px,#ffb473 144px,#ffb573 145px,#ffbe79 146px,#ffbe79 147px,#ffb674 148px,#ffb674 149px,#ffbe79 150px,#ffbe79 151px,#ffb775 152px,#ffbe79 154px,#ffb976 156px,#ffbe79 158px,#ffba76 160px,#ffbf79 162px,#fb7 164px,#ffbf7a 166px,#ffc47d 227px,#ffc77f 562px)"></i>
<i style="background:linear-gradient(90deg,#271910 0,#19100a 13px,#1a100a 16px,#21140d 18px,#362216 20px,#4c2f1e 21px,#69422a 22px,#d48554 25px,#ee945f 26px,#ff9f66 27px,#ffaf6f 30px,#ffb271 33px,#ffb271 34px,#ffa76a 35px,#ffa569 36px,#ffb171 37px,#ffb171 38px,#fd9e65 39px,#f99c63 40px,#ffb171 41px,#ffb070 42px,#f49861 43px,#f59962 44px,#ffb271 45px,#ffb272 46px,#f99c63 47px,#fa9c64 48px,#ffb473 49px,#ffb473 50px,#fe9f65 51px,#ff9f66 52px,#ffb574 53px,#ffb674 54px,#ffa267 55px,#ffa267 56px,#ffb775 57px,#ffb775 58px,#ffa469 59px,#ffa569 60px,#ffb875 61px,#ffb976 62px,#ffa76a 63px,#ffa76b 64px,#ffb976 65px,#ffba76 66px,#ffa96c 67px,#ffaa6c 68px,#fb7 69px,#fb7 70px,#ffab6d 71px,#ffac6d 72px,#ffbc77 73px,#ffbc78 74px,#ffae6f 75px,#ffae6f 76px,#ffbd78 77px,#ffbd78 78px,#ffb070 79px,#ffb070 80px,#ffbe79 81px,#ffbe79 82px,#ffb271 83px,#ffb271 84px,#ffbe79 85px,#ffbf79 86px,#ffb372 87px,#ffb473 88px,#ffbf7a 89px,#ffbf7a 90px,#ffb573 91px,#ffb674 92px,#ffc07a 93px,#ffc07a 94px,#ffb774 95px,#ffb775 96px,#ffc07b 97px,#ffc17b 98px,#ffb875 99px,#ffb976 100px,#ffc17b 101px,#ffc17b 102px,#ffba76 103px,#ffba76 104px,#ffc27b 105px,#ffc27b 106px,#fb7 107px,#fb7 108px,#ffc27c 109px,#ffbc78 111px,#ffc37c 113px,#ffbd78 115px,#ffc37c 117px,#ffbe79 119px,#ffc37c 121px,#ffbf7a 124px,#ffc47d 125px,#ffc07a 127px,#ffc47d 129px,#ffc67e 200px,#ffc77f 562px)"></i>
<i style="background:linear-gradient(90deg,#27180f 0,#1a100a 13px,#1c110b 15px,#24160e 17px,#3e2719 19px,#573623 20px,#c2794d 23px,#e18c59 24px,#f79a62 25px,#ffa468 26px,#ffb070 29px,#ffb473 33px,#ffb070 35px,#ffb574 37px,#ffae6f 38px,#ffad6e 39px,#ffb674 40px,#ffb674 41px,#ffab6d 42px,#ffac6e 43px,#ffb775 44px,#ffb875 45px,#ffae6f 46px,#ffaf6f 47px,#ffb976 48px,#ffb976 49px,#ffb171 50px,#fb7 53px,#ffb372 54px,#ffb472 55px,#ffbc78 56px,#ffbc78 57px,#ffb573 58px,#ffb674 59px,#ffbd78 60px,#ffb774 62px,#ffbe79 64px,#ffb976 66px,#ffbf7a 68px,#ffba77 70px,#ffc07a 72px,#ffbc77 74px,#ffc07b 76px,#ffbd78 78px,#ffc17b 80px,#ffc47d 109px,#ffc77f 562px)"></i>
<i style="background:linear-gradient(90deg,#27180f 0,#1b110b 12px,#1d120c 14px,#281910 16px,#332014 17px,#472c1c 18px,#623e27 19px,#cf8253 22px,#eb935d 23px,#fe9f65 24px,#ffa76a 25px,#ffaf6f 27px,#ffb372 29px,#ffb875 36px,#ffb674 38px,#ffb976 39px,#ffb674 42px,#ffba77 43px,#ffb875 45px,#ffbc78 47px,#ffb976 49px,#ffbd78 51px,#fb7 53px,#ffbe79 56px,#ffc57d 103px,#ffc77f 562px)"></i>
<i style="background:linear-gradient(90deg,#26180f 0,#1c110b 11px,#1f130c 13px,#2c1b11 15px,#3a2417 16px,#503220 17px,#6e452c 18px,#ba744a 20px,#da8957 21px,#f39861 22px,#ffa267 23px,#ffad6e 25px,#ffb271 27px,#ffb976 35px,#ffc07a 58px,#ffc47d 94px,#ffc77f 562px)"></i>
<i style="background:linear-gradient(90deg,#26180f 0,#1d120b 9px,#1e130c 11px,#27180f 13px,#311e13 14px,#41291a 15px,#5a3824 16px,#7a4d31 17px,#c57b4f 19px,#e48e5b 20px,#fa9c63 21px,#ffa569 22px,#ffaf6f 24px,#ffb372 26px,#fb7 37px,#ffc47d 93px,#ffc77f 562px)"></i>
<i style="background:linear-gradient(90deg,#25170f 0,#1e120c 8px,#20140d 10px,#2a1a11 12px,#362216 13px,#492e1d 14px,#643e28 15px,#d08253 18px,#eb935e 19px,#ff9f65 20px,#ffac6e 22px,#ffb271 24px,#ffb976 32px,#ffc07a 52px,#ffc47d 87px,#ffc77f 562px)"></i>
<i style="background:linear-gradient(90deg,#25170f 0,#1f130c 8px,#25170f 10px,#2e1d12 11px,#3c2518 12px,#513320 13px,#6f452c 14px,#b87349 16px,#d98856 17px,#f29760 18px,#ffa267 19px,#ffad6e 21px,#ffb272 23px,#ffba77 32px,#ffc17b 52px,#ffc47d 87px,#ffc77f 562px)"></i>
<i style="background:linear-gradient(90deg,#25170f 0,#20140d 7px,#281910 9px,#311f14 10px,#41291a 11px,#593823 12px,#794c30 13px,#c2794d 15px,#e18d5a 16px,#f79b62 17px,#ffa469 18px,#ffae6f 20px,#ffb372 22px,#fb7 32px,#ffc17b 52px,#ffc57d 87px,#ffc77f 562px)"></i>
<i style="background:linear-gradient(90deg,#25170f 0,#22150d 6px,#2a1a11 8px,#352115 9px,#462c1c 10px,#613c26 11px,#cc7f51 14px,#e8915c 15px,#fc9e64 16px,#ffa66a 17px,#ffaf6f 19px,#ffb372 21px,#ffbc78 32px,#ffc57d 86px,#ffc77f 562px)"></i>
<i style="background:linear-gradient(90deg,#25170f 0,#23160e 5px,#2c1c12 7px,#382316 8px,#4b2f1e 9px,#684129 10px,#d48454 13px,#ee955f 14px,#ffa066 15px,#ffac6e 17px,#ffb271 19px,#fb7 29px,#ffc17b 47px,#ffc57d 80px,#ffc77f 562px)"></i>
<i style="background:linear-gradient(90deg,#24170f 0,#24170e 4px,#2e1d12 6px,#3b2517 7px,#503220 8px,#6e452c 9px,#b9744a 11px,#db8957 12px,#f39861 13px,#ffa267 14px,#ffad6e 16px,#ffb272 18px,#ffbc78 28px,#ffc17b 46px,#ffc57d 79px,#ffc77f 562px)"></i>
<i style="background:linear-gradient(90deg,#25170f 0,#24160e 2px,#291a10 4px,#301e13 5px,#3e2719 6px,#543521 7px,#73482e 8px,#c0784c 10px,#e08c59 11px,#f79a62 12px,#ffa468 13px,#ffae6f 15px,#ffb372 17px,#ffbd78 28px,#ffc27b 46px,#ffc57d 79px,#ffc77f 562px)"></i>
<i style="background:linear-gradient(90deg,#25170f 0,#2a1a11 3px,#321f14 4px,#41281a 5px,#583723 6px,#784b30 7px,#c57b4f 9px,#e48f5b 10px,#fa9c64 11px,#ffa569 12px,#ffaf6f 14px,#ffb372 16px,#ffbd79 28px,#ffc57d 78px,#ffc77f 562px)"></i>
<i style="background:linear-gradient(90deg,#26180f 0,#2b1b11 2px,#332014 3px,#432a1a 4px,#5b3924 5px,#7c4e31 6px,#ca7e50 8px,#e8915c 9px,#fd9e65 10px,#ffa66a 11px,#ffaf70 13px,#ffb372 15px,#ffbd78 26px,#ffc57d 71px,#ffc77f 562px)"></i>
<i style="background:linear-gradient(90deg,#281910 0,#2c1c12 1px,#342115 2px,#442a1b 3px,#5d3a25 4px,#805033 5px,#cd8052 7px,#eb935d 8px,#ff9f65 9px,#ffac6e 11px,#ffb271 13px,#fb7 21px,#ffc17b 35px,#ffc47d 61px,#ffc77f 562px)"></i>
<i style="background:linear-gradient(90deg,#2d1c12 0,#352115 1px,#442b1b 2px,#5e3b25 3px,#825134 4px,#d08253 6px,#ed945e 7px,#ffa066 8px,#ffad6e 10px,#ffb272 12px,#fb7 20px,#ffc17b 34px,#ffc47d 59px,#ffc77f 562px)"></i>
<i style="background:linear-gradient(90deg,#362215 0,#452b1b 1px,#5e3b25 2px,#825134 3px,#d18353 5px,#ee955f 6px,#ffa166 7px,#ffad6e 9px,#ffb372 11px,#fb7 19px,#ffc17b 33px,#ffc47d 58px,#ffc77f 562px)"></i>
<i style="background:linear-gradient(90deg,#452b1b 0,#5e3b25 1px,#815133 2px,#d28354 4px,#ef955f 5px,#ffa167 6px,#ffad6e 8px,#ffb372 10px,#fb7 18px,#ffc17b 32px,#ffc47d 56px,#ffc77f 562px)"></i>
<i style="background:linear-gradient(90deg,#5d3a25 0,#805033 1px,#d18353 3px,#ef955f 4px,#ffa167 5px,#ffae6f 7px,#ffb372 9px,#fb7 17px,#ffc27b 31px,#ffc57d 55px,#ffc77f 562px)"></i>
<i style="background:linear-gradient(90deg,#7e4f32 0,#d08253 2px,#ee955f 3px,#ffa167 4px,#ffae6f 6px,#ffb372 8px,#ffbc77 16px,#ffc27b 30px,#ffc57d 53px,#ffc77f 562px)"></i>
<i style="background:linear-gradient(90deg,#a56742 0,#cd8052 1px,#ed945e 2px,#ffa167 3px,#ffa96c 4px,#ffb171 6px,#fb7 14px,#ffc27b 28px,#ffc57d 51px,#ffc77f 562px)"></i>
<i style="background:linear-gradient(90deg,#cb7f51 0,#eb935d 1px,#ffa066 2px,#ffa96b 3px,#ffb171 5px,#ffb875 10px,#ffc07a 22px,#ffc47d 37px,#ffc77f 134px,#ffc77f 562px)"></i>
<i style="background:linear-gradient(90deg,#e8915d 0,#ff9f65 1px,#ffad6e 3px,#ffb674 7px,#ffc07a 21px,#ffc47d 41px,#ffc77f 562px)"></i>
<i style="background:linear-gradient(90deg,#fd9e65 0,#ffa76b 1px,#ffb170 3px,#ffba77 10px,#ffc27b 24px,#ffc57d 45px,#ffc77f 562px)"></i>
<i style="background:linear-gradient(90deg,#ffa76a 0,#ffb070 2px,#ffb573 4px,#ffbd79 13px,#ffc37c 27px,#ffc57e 49px,#ffc77f 562px)"></i>
<i style="background:linear-gradient(90deg,#ffac6e 0,#ffb674 4px,#ffbf79 14px,#ffc57e 51px,#ffc77f 562px)"></i>
<i style="height:2px;background:linear-gradient(90deg,#ffb171 0,#ffba77 6px,#ffc07b 16px,#ffc67e 53px,#ffc77f 562px)"></i>
<i style="height:2px;background:linear-gradient(90deg,#ffb573 0,#ffbd78 7px,#ffc27c 18px,#ffc67e 54px,#ffc77f 562px)"></i>
<i style="height:3px;background:linear-gradient(90deg,#ffb875 0,#ffc37c 18px,#ffc67e 55px,#ffc77f 562px)"></i>
<i style="height:4px;background:linear-gradient(90deg,#fb7 0,#ffc47d 18px,#ffc67e 55px,#ffc77f 562px)"></i>
<i style="height:4px;background:linear-gradient(90deg,#ffbe79 0,#ffc57d 18px,#ffc77e 55px,#ffc77f 562px)"></i>
<i style="height:4px;background:linear-gradient(90deg,#ffc17b 0,#ffc57e 18px,#ffc77f 55px,#ffc77f 562px)"></i>
<i style="height:4px;background:linear-gradient(90deg,#ffc27c 0,#ffc77f 55px,#ffc77f 562px)"></i>
<i style="height:4px;background:linear-gradient(90deg,#ffc37c 0,#ffc77f 55px,#ffc77f 562px)"></i>
<i style="height:4px;background:linear-gradient(90deg,#ffc47d 0,#ffc77f 55px,#ffc77f 562px)"></i>
<i style="height:4px;background:linear-gradient(90deg,#ffc57e 0,#ffc77f 562px)"></i>
<i style="height:4px;background:linear-gradient(90deg,#ffc67e 0,#ffc77f 562px)"></i>
<i style="height:4px;background:linear-gradient(90deg,#ffc67e 0,#ffc77f 562px)"></i>
<i style="height:4px;background:#ffc67e"></i>
<i style="height:4px;background:#ffc77e"></i>
<i style="height:4px;background:#ffc77f"></i>
</div>
<div class="p" style="left:153px;top:522px;width:555px;height:345px">
<i style="height:4px;background:linear-gradient(90deg,#1c120b 0,#180f0a 555px)"></i>
<i style="height:4px;background:linear-gradient(90deg,#1c110b 0,#180f09 555px)"></i>
<i style="height:4px;background:linear-gradient(90deg,#1b110b 0,#170e09 555px)"></i>
<i style="height:4px;background:linear-gradient(90deg,#1b110b 0,#160e09 555px)"></i>
<i style="height:4px;background:linear-gradient(90deg,#1a100a 0,#160e09 555px)"></i>
<i style="height:4px;background:linear-gradient(90deg,#19100a 0,#150d08 555px)"></i>
<i style="height:4px;background:linear-gradient(90deg,#190f0a 0,#140d08 555px)"></i>
<i style="height:4px;background:linear-gradient(90deg,#180f0a 0,#140c08 555px)"></i>
<i style="height:4px;background:linear-gradient(90deg,#180f09 0,#130c08 555px)"></i>
<i style="height:4px;background:linear-gradient(90deg,#170e09 0,#130c07 555px)"></i>
<i style="height:4px;background:linear-gradient(90deg,#160e09 0,#120b07 555px)"></i>
<i style="height:4px;background:linear-gradient(90deg,#160e09 0,#110b07 555px)"></i>
<i style="height:4px;background:linear-gradient(90deg,#150d08 0,#110a07 555px)"></i>
<i style="height:4px;background:linear-gradient(90deg,#140d08 0,#100a06 555px)"></i>
<i style="height:4px;background:linear-gradient(90deg,#140c08 0,#0f0a06 555px)"></i>
<i style="height:4px;background:linear-gradient(90deg,#130c08 0,#0f0906 555px)"></i>
<i style="height:4px;background:linear-gradient(90deg,#130c07 0,#0e0906 555px)"></i>
<i style="height:4px;background:linear-gradient(90deg,#120b07 0,#0e0805 555px)"></i>
<i style="height:4px;background:linear-gradient(90deg,#110b07 0,#0d0805 555px)"></i>
<i style="height:4px;background:linear-gradient(90deg,#110a07 0,#0c0805 555px)"></i>
<i style="height:4px;background:linear-gradient(90deg,#100a06 0,#0c0705 555px)"></i>
<i style="height:4px;background:linear-gradient(90deg,#0f0a06 0,#0b0704 555px)"></i>
<i style="height:4px;background:linear-gradient(90deg,#0f0906 0,#0a0604 555px)"></i>
<i style="height:4px;background:linear-gradient(90deg,#0e0906 0,#0a0604 555px)"></i>
<i style="height:4px;background:linear-gradient(90deg,#0e0805 0,#090604 555px)"></i>
<i style="height:4px;background:linear-gradient(90deg,#0d0805 0,#080503 555px)"></i>
<i style="height:4px;background:linear-gradient(90deg,#0c0805 0,#080503 555px)"></i>
<i style="height:4px;background:linear-gradient(90deg,#0c0705 0,#070403 555px)"></i>
<i style="height:4px;background:linear-gradient(90deg,#0b0704 0,#060402 555px)"></i>
<i style="height:4px;background:linear-gradient(90deg,#0a0604 0,#050302 555px)"></i>
<i style="height:4px;background:linear-gradient(90deg,#0a0604 0,#050302 555px)"></i>
<i style="height:4px;background:linear-gradient(90deg,#090604 0,#040202 555px)"></i>
<i style="height:4px;background:linear-gradient(90deg,#080503 0,#030201 555px)"></i>
<i style="height:4px;background:linear-gradient(90deg,#080503 0,#020201 555px)"></i>
<i style="height:4px;background:linear-gradient(90deg,#080503 0,#020101 555px)"></i>
<i style="height:4px;background:linear-gradient(90deg,#070503 0,#010100 555px)"></i>
<i style="height:4px;background:linear-gradient(90deg,#070403 0,#000 555px)"></i>
<i style="height:4px;background:linear-gradient(90deg,#060402 0,#010101 555px)"></i>
<i style="height:3px;background:linear-gradient(90deg,#060302 0,#080503 5px,#050302 7px,#080503 12px,#050302 14px,#050302 34px,#010100 367px,#040202 555px)"></i>
<i style="height:2px;background:linear-gradient(90deg,#050302 0,#090604 5px,#050302 7px,#080503 25px,#050302 27px,#010100 347px,#080503 555px)"></i>
<i style="background:linear-gradient(90deg,#050302 0,#090503 5px,#050302 7px,#080503 11px,#050302 14px,#080503 18px,#050302 20px,#080503 25px,#050302 27px,#070403 45px,#040302 47px,#020101 337px,#050302 468px,#0c0705 555px)"></i>
<i style="background:linear-gradient(90deg,#050302 0,#090604 4px,#050302 7px,#090604 11px,#050302 14px,#090604 18px,#050302 20px,#080503 25px,#050302 27px,#070503 31px,#050302 34px,#070503 38px,#040302 40px,#070403 45px,#040302 47px,#040201 67px,#020101 359px,#070503 480px,#100a07 555px)"></i>
<i style="background:linear-gradient(90deg,#060302 0,#0a0604 4px,#050302 7px,#0a0604 11px,#050302 13px,#0a0604 18px,#050302 20px,#080503 31px,#050302 34px,#080503 38px,#040302 40px,#060403 58px,#040202 60px,#030201 107px,#050302 400px,#0e0905 512px,#140c08 538px,#1d120c 555px)"></i>
<i style="background:linear-gradient(90deg,#060402 0,#0b0704 4px,#060302 7px,#0b0705 11px,#050302 13px,#0a0604 18px,#050302 20px,#090604 24px,#050302 27px,#090604 31px,#050302 33px,#080503 38px,#040302 40px,#070403 51px,#040302 54px,#070403 58px,#040202 60px,#060402 78px,#030201 80px,#020101 290px,#060402 400px,#0d0805 481px,#140d08 512px,#20140d 530px,#342115 543px,#442a1b 549px,#593823 555px)"></i>
<i style="background:linear-gradient(90deg,#060402 0,#0d0805 4px,#060402 6px,#060402 7px,#0d0805 11px,#070403 12px,#050302 13px,#0a0604 17px,#050302 20px,#0a0604 24px,#050302 27px,#0a0604 31px,#050302 33px,#080503 38px,#040302 40px,#080503 44px,#040302 47px,#080503 51px,#040302 53px,#070503 58px,#040202 60px,#060403 78px,#030201 80px,#030201 100px,#040202 321px,#0a0604 429px,#150d08 484px,#23160e 505px,#301e13 513px,#40281a 520px,#503220 525px,#69412a 531px,#bc764b 548px,#db8957 555px)"></i>
<i style="background:linear-gradient(90deg,#060402 0,#0f0906 4px,#060402 6px,#0d0805 11px,#050302 13px,#0b0704 17px,#050302 20px,#0b0704 24px,#050302 27px,#0b0704 31px,#050302 33px,#090503 44px,#050302 47px,#090604 51px,#040302 53px,#040302 307px,#0b0704 406px,#160e09 459px,#22150e 476px,#382316 489px,#5f3b26 501px,#c87d50 523px,#ed945f 533px,#ff9f66 540px,#ffac6e 555px)"></i>
<i style="background:linear-gradient(90deg,#060403 0,#0c0705 3px,#120b07 4px,#080503 5px,#060402 6px,#0d0805 11px,#060402 13px,#0d0805 17px,#060402 20px,#0d0805 24px,#050302 26px,#0b0704 31px,#050302 33px,#0a0604 44px,#050302 47px,#0a0604 51px,#040302 53px,#080503 71px,#040202 73px,#030201 93px,#050302 288px,#0c0705 383px,#160e09 431px,#26180f 451px,#432a1b 465px,#6b432a 476px,#d68655 499px,#fe9f65 512px,#ffad6e 529px,#ffb372 555px)"></i>
<i style="background:linear-gradient(90deg,#070403 0,#0a0604 2px,#140d08 4px,#080503 5px,#060402 6px,#0e0906 10px,#070403 12px,#070403 14px,#0f0906 17px,#060402 20px,#100a06 24px,#050302 26px,#0b0704 31px,#050302 33px,#0b0704 37px,#050302 40px,#0c0705 44px,#050302 46px,#0a0604 51px,#050302 53px,#090604 64px,#040302 66px,#090604 71px,#040302 73px,#080503 91px,#040201 93px,#030201 160px,#090503 325px,#160e09 402px,#26170f 422px,#432a1b 437px,#6a422a 448px,#d88756 472px,#fe9f65 485px,#ffaf6f 508px,#ffb674 555px)"></i>
<i style="background:linear-gradient(90deg,#070503 0,#140d08 4px,#080503 5px,#070403 6px,#120b07 10px,#070403 12px,#070503 14px,#130c07 17px,#060402 19px,#090604 22px,#110b07 24px,#070503 25px,#060402 26px,#0d0805 30px,#060402 33px,#0d0805 37px,#060302 40px,#0e0906 44px,#050302 46px,#0a0604 50px,#050302 53px,#0a0704 57px,#050302 60px,#0b0704 64px,#050302 66px,#090604 71px,#040302 73px,#090503 84px,#040302 86px,#080503 91px,#040202 93px,#080503 111px,#040201 113px,#070403 131px,#030201 153px,#0a0604 306px,#160e09 375px,#26180f 395px,#42291a 409px,#6d442b 421px,#d58555 444px,#fe9f65 458px,#ffaa6c 470px,#ffb070 485px,#ffb775 555px)"></i>
<i style="background:linear-gradient(90deg,#080503 0,#0d0805 2px,#150d08 3px,#140c08 4px,#080503 5px,#080503 7px,#0e0905 9px,#170e09 10px,#070403 12px,#070403 13px,#0e0906 16px,#19100a 17px,#090604 18px,#060403 19px,#110b07 24px,#080503 25px,#060402 26px,#100a06 30px,#060403 32px,#070403 34px,#110a07 37px,#060402 39px,#0f0906 44px,#050302 46px,#0c0705 50px,#050302 53px,#0c0805 57px,#050302 60px,#0d0805 64px,#050302 66px,#0a0604 70px,#050302 73px,#0a0604 77px,#050302 80px,#0a0604 84px,#040302 86px,#090503 91px,#040302 93px,#080503 97px,#040302 100px,#090503 104px,#040302 106px,#080503 111px,#040302 113px,#080503 124px,#040202 126px,#080503 131px,#040202 133px,#080503 151px,#040302 153px,#0a0604 282px,#160e09 348px,#26180f 368px,#432a1b 383px,#6b432a 394px,#d68655 417px,#ff9f65 431px,#ffab6d 444px,#ffb171 462px,#ffb976 555px)"></i>
<i style="background:linear-gradient(90deg,#090503 0,#100a06 2px,#1c120b 3px,#080503 5px,#090604 7px,#110a07 9px,#20140d 10px,#0d0805 11px,#070503 12px,#090604 14px,#120b07 16px,#23160e 17px,#0a0604 18px,#070403 19px,#0c0805 22px,#130c08 23px,#120b07 24px,#080503 25px,#080503 27px,#0d0805 29px,#150d08 30px,#070403 32px,#070403 33px,#0d0805 36px,#160e09 37px,#090604 38px,#060402 39px,#0f0a06 44px,#070403 45px,#060402 46px,#0f0906 50px,#060402 52px,#070403 54px,#100a06 57px,#050302 59px,#0e0905 64px,#050302 66px,#0c0705 70px,#050302 73px,#0c0805 77px,#050302 80px,#0c0805 84px,#050302 86px,#0a0604 90px,#050302 93px,#0a0604 97px,#050302 100px,#0b0704 104px,#040302 106px,#090604 111px,#050302 113px,#090604 117px,#050302 120px,#0a0604 124px,#050302 126px,#0a0604 131px,#050302 133px,#0a0604 144px,#050302 147px,#0a0604 151px,#050302 153px,#090604 164px,#060402 173px,#0d0805 276px,#170e09 321px,#271910 342px,#452b1c 357px,#6c442b 368px,#d98856 392px,#ff9f65 405px,#ffab6d 418px,#ffb271 439px,#fb7 555px)"></i>
<i style="background:linear-gradient(90deg,#0a0604 0,#140c08 2px,#291a10 3px,#140d08 4px,#090503 5px,#0d0805 8px,#150d09 9px,#301e13 10px,#0d0805 11px,#080503 12px,#0e0906 15px,#23160e 17px,#0a0604 18px,#070503 19px,#0f0906 22px,#1a100a 23px,#080503 25px,#090503 27px,#100a06 29px,#1d120c 30px,#0c0805 31px,#070403 32px,#0b0705 35px,#110a07 36px,#1d120c 37px,#090604 38px,#070403 39px,#120b07 43px,#070503 45px,#070503 47px,#130c08 50px,#060403 52px,#070403 53px,#0d0805 56px,#150d08 57px,#090503 58px,#060402 59px,#0f0906 64px,#070403 65px,#070403 67px,#0f0906 70px,#060402 73px,#0f0a06 77px,#050302 79px,#0d0805 84px,#050302 86px,#0c0705 90px,#050302 93px,#0c0805 97px,#050302 100px,#0d0805 104px,#050302 106px,#0b0704 110px,#050302 113px,#0c0705 117px,#060402 120px,#0d0805 124px,#060302 126px,#0b0704 131px,#060402 133px,#0b0704 137px,#060402 140px,#0c0805 144px,#060402 146px,#0c0705 151px,#060402 153px,#0b0704 157px,#070403 160px,#0c0705 164px,#070403 166px,#0c0805 171px,#070403 173px,#0b0704 177px,#0a0604 213px,#170e09 293px,#27180f 314px,#452b1b 330px,#6d442c 342px,#d78756 366px,#ef955f 373px,#ffa066 380px,#ffac6e 395px,#ffb372 417px,#ffbc78 555px)"></i>
<i style="background:linear-gradient(90deg,#0b0704 0,#0f0906 1px,#1a100a 2px,#3f2819 3px,#140d08 4px,#090604 5px,#100a06 8px,#1d120c 9px,#4c2f1e 10px,#0d0805 11px,#080503 12px,#0c0705 14px,#110b07 15px,#22150d 16px,#24160e 17px,#0a0604 18px,#0a0604 20px,#130c08 22px,#27180f 23px,#130c07 24px,#080503 25px,#0a0604 27px,#150d08 29px,#2d1c12 30px,#0d0805 31px,#080503 32px,#0e0905 35px,#1f130c 37px,#0a0604 38px,#070503 39px,#0e0906 42px,#190f0a 43px,#080503 45px,#080503 47px,#0f0a06 49px,#1c110b 50px,#0c0705 51px,#070403 52px,#0b0705 55px,#1b110b 57px,#090604 58px,#070403 59px,#120b07 63px,#070503 65px,#080503 67px,#140c08 70px,#070403 72px,#070403 73px,#0d0805 76px,#160d09 77px,#090503 78px,#060402 79px,#0f0906 84px,#070503 85px,#070403 87px,#0f0a06 90px,#060403 93px,#110a07 97px,#060402 99px,#0f0906 104px,#060402 106px,#0e0906 110px,#070403 113px,#0f0a06 117px,#070403 120px,#100a06 124px,#070403 126px,#0e0805 130px,#070403 133px,#0f0906 137px,#070503 140px,#110a07 144px,#070503 146px,#0e0906 151px,#080503 153px,#0f0906 157px,#080503 160px,#100a06 164px,#080503 166px,#0f0906 171px,#090604 173px,#0f0906 184px,#0a0604 186px,#0f0906 191px,#0b0704 193px,#19100a 266px,#281910 287px,#452b1b 303px,#6b432b 315px,#d98856 341px,#ffa066 355px,#ffac6e 371px,#ffb372 395px,#ffbd78 555px)"></i>
<i style="background:linear-gradient(90deg,#0d0805 0,#130c08 1px,#25170f 2px,#613d27 3px,#150d08 4px,#0a0604 5px,#0e0805 7px,#150d08 8px,#2c1b11 9px,#593823 10px,#0e0906 11px,#090604 12px,#0e0906 14px,#170e09 15px,#342015 16px,#25170f 17px,#0b0704 18px,#0f0a06 21px,#1a100a 22px,#3e2618 23px,#140c08 24px,#090604 25px,#0c0705 27px,#100a06 28px,#1d120c 29px,#492e1d 30px,#0d0805 31px,#080503 32px,#110b07 35px,#21150d 36px,#21150d 37px,#0a0604 38px,#0a0604 40px,#130c07 42px,#26180f 43px,#120b07 44px,#080503 45px,#0a0604 47px,#150d08 49px,#2c1b11 50px,#0c0805 51px,#080503 52px,#0e0906 55px,#1e130c 57px,#0a0604 58px,#080503 59px,#0f0906 62px,#1a100a 63px,#080503 65px,#090604 67px,#110a07 69px,#1e130c 70px,#0c0805 71px,#070503 72px,#0c0805 75px,#1c110b 77px,#0a0604 78px,#070503 79px,#0a0604 81px,#140c08 83px,#080503 85px,#080503 87px,#0e0906 89px,#160e09 90px,#0c0805 91px,#080503 93px,#0f0906 96px,#180f0a 97px,#0a0604 98px,#070403 99px,#110b07 103px,#110b07 104px,#090503 105px,#080503 107px,#130c08 110px,#080503 112px,#080503 113px,#0f0906 116px,#170e09 117px,#0b0704 118px,#080503 119px,#130c08 124px,#0a0604 125px,#080503 126px,#130c08 130px,#090503 133px,#0f0906 136px,#160e09 137px,#0c0805 138px,#090604 140px,#170e09 144px,#0b0704 145px,#090604 146px,#130c08 150px,#0a0604 152px,#0b0704 154px,#160e09 157px,#0a0604 159px,#0a0604 160px,#0e0905 162px,#19100a 164px,#0d0805 165px,#0a0604 166px,#130c08 170px,#0b0704 173px,#150d08 177px,#0c0805 180px,#160e09 184px,#0d0805 186px,#140d08 191px,#0e0905 193px,#140d08 197px,#0f0906 200px,#160e09 204px,#100a06 206px,#160e09 211px,#120b07 213px,#22150e 248px,#372316 267px,#573723 282px,#75492e 291px,#d78655 315px,#ef965f 323px,#ffa066 330px,#ffad6e 347px,#ffb372 373px,#ffbe79 555px)"></i>
<i style="background:linear-gradient(90deg,#0f0a06 0,#19100a 1px,#382316 2px,#8c5738 3px,#160d09 4px,#0b0704 5px,#110a07 7px,#1d120b 8px,#442a1b 9px,#5a3824 10px,#0f0906 11px,#0a0704 12px,#120b07 14px,#21150d 15px,#523321 16px,#27180f 17px,#0b0705 18px,#0d0805 20px,#140c08 21px,#26180f 22px,#623d27 23px,#150d08 24px,#0a0604 25px,#0e0906 27px,#150d09 28px,#2d1c12 29px,#543421 30px,#0e0906 31px,#090604 32px,#0f0906 34px,#180f0a 35px,#352115 36px,#24160e 37px,#0b0704 38px,#100a06 41px,#1b110b 42px,#3e2719 43px,#130c08 44px,#090604 45px,#0c0705 47px,#110b07 48px,#1e130c 49px,#4b2f1e 50px,#0e0805 51px,#090604 52px,#130c07 55px,#24160e 56px,#22150d 57px,#0b0704 58px,#0b0704 60px,#150d08 62px,#2a1a11 63px,#130c08 64px,#090604 65px,#0b0704 67px,#170f09 69px,#321f14 70px,#0e0905 71px,#090503 72px,#100a06 75px,#21140d 77px,#0b0704 78px,#0c0805 81px,#110b07 82px,#1e130c 83px,#090604 85px,#090604 86px,#130c08 89px,#23160e 90px,#0e0905 91px,#090503 92px,#0e0906 95px,#20140d 97px,#0b0704 98px,#090503 99px,#100a06 102px,#19100a 103px,#0a0604 105px,#0a0704 107px,#120b07 109px,#1f130c 110px,#0f0a06 111px,#0a0604 113px,#150d08 116px,#26180f 117px,#0d0805 118px,#090604 119px,#100a06 122px,#19100a 123px,#180f0a 124px,#0b0704 125px,#0b0704 127px,#130c07 129px,#1e130c 130px,#0b0704 132px,#0b0704 133px,#160e09 136px,#26180f 137px,#0f0906 138px,#0a0704 139px,#110b07 142px,#1f130c 144px,#0d0805 145px,#0c0805 147px,#140d08 149px,#20140d 150px,#0c0805 152px,#0c0705 153px,#180f09 156px,#281910 157px,#120b07 158px,#0c0705 159px,#130c08 162px,#27180f 164px,#100a06 165px,#0d0805 166px,#110b07 168px,#20140d 170px,#1b110b 171px,#0f0a06 172px,#100a06 174px,#19100a 176px,#24170e 177px,#160e09 178px,#100a06 179px,#100a06 180px,#160e09 182px,#281910 184px,#150d08 185px,#110b07 186px,#150d08 188px,#20140d 190px,#20140d 191px,#150d08 192px,#130c08 193px,#180f0a 195px,#24160e 197px,#160e09 199px,#1c120b 202px,#281910 204px,#1d120b 205px,#190f0a 206px,#27180f 211px,#1f130c 212px,#1d120c 213px,#291a10 217px,#24160e 220px,#2d1c12 224px,#2b1b11 226px,#462c1c 244px,#6c442b 259px,#de8b58 292px,#ff9f65 305px,#ffad6e 323px,#ffb472 351px,#ffbf7a 555px)"></i>
<i style="background:linear-gradient(90deg,#130c08 0,#23160e 1px,#553522 2px,#b26f47 3px,#170e09 4px,#0c0705 5px,#150d08 7px,#2a1a11 8px,#684129 9px,#5b3924 10px,#0f0a06 11px,#0c0805 12px,#180f09 14px,#321f14 15px,#7c4e31 16px,#291a10 17px,#0c0805 18px,#100a07 20px,#1b110b 21px,#3c2618 22px,#915b3a 23px,#160e09 24px,#0b0704 25px,#120b07 27px,#1f130c 28px,#492d1d 29px,#593823 30px,#0f0a06 31px,#0b0704 32px,#130c08 34px,#24160e 35px,#573623 36px,#281910 37px,#0c0805 38px,#0e0906 40px,#150d08 41px,#2a1a11 42px,#674129 43px,#160e09 44px,#0b0704 45px,#0f0906 47px,#180f09 48px,#311f14 49px,#543522 50px,#0f0906 51px,#0a0704 52px,#110a07 54px,#1b110b 55px,#3c2618 56px,#0c0805 58px,#0b0704 59px,#120b07 61px,#20140d 62px,#492e1d 63px,#160e09 64px,#0b0704 65px,#0e0906 67px,#140d08 68px,#25170f 69px,#543522 70px,#0f0a06 71px,#0a0604 72px,#0f0906 74px,#170e09 75px,#2c1c12 76px,#271910 77px,#0c0805 78px,#0c0805 80px,#19100a 82px,#352115 83px,#160e09 84px,#0b0704 85px,#0d0805 87px,#120b07 88px,#1d120c 89px,#3f2719 90px,#100a06 91px,#0a0604 92px,#130c08 95px,#22150d 96px,#281910 97px,#0d0805 98px,#0c0805 100px,#170e09 102px,#2b1b11 103px,#0c0705 105px,#0d0805 107px,#1c110b 109px,#382316 110px,#120b07 111px,#0b0704 112px,#140d08 115px,#352115 117px,#0f0906 118px,#0c0705 119px,#110a07 121px,#180f0a 122px,#2c1b11 123px,#20140d 124px,#0d0805 125px,#0f0906 127px,#1d120c 129px,#392417 130px,#170e09 131px,#0d0805 132px,#0e0805 133px,#160e09 135px,#25170f 136px,#492d1d 137px,#130c07 138px,#0d0805 139px,#130c07 141px,#1b110b 142px,#301e13 143px,#2c1c12 144px,#100a07 145px,#110a07 147px,#160e09 148px,#22150d 149px,#3f2819 150px,#1f130c 151px,#0f0a06 152px,#100a06 153px,#1a100a 155px,#2b1b11 156px,#543521 157px,#180f0a 158px,#100a06 159px,#160e09 161px,#20140d 162px,#372216 163px,#3f2719 164px,#160d09 165px,#120b07 166px,#150d08 167px,#271910 169px,#41291a 170px,#150d08 172px,#150d08 173px,#21140d 175px,#301e13 176px,#4c301e 177px,#23160e 178px,#160e09 179px,#1e130c 181px,#281910 182px,#492e1d 184px,#21140d 185px,#1a100a 186px,#25170f 188px,#311f13 189px,#442a1b 190px,#3b2517 191px,#22150d 192px,#20140d 193px,#2e1d12 195px,#4e311f 197px,#362215 198px,#26180f 199px,#2f1e13 201px,#392417 202px,#563622 204px,#372316 205px,#2f1d13 206px,#3b2518 208px,#523320 210px,#513320 211px,#3f2719 212px,#3d2618 213px,#5d3a25 217px,#4c301e 219px,#674129 224px,#613d27 226px,#d38454 261px,#ff9f65 280px,#ffad6e 300px,#ffb473 330px,#ffc07a 555px)"></i>
<i style="background:linear-gradient(90deg,#1a100a 0,#342115 1px,#7d4e32 2px,#b06e46 3px,#180f0a 4px,#0e0906 5px,#120b07 6px,#1d120c 7px,#40281a 8px,#945c3b 9px,#5e3b25 10px,#110b07 11px,#0f0906 12px,#140c08 13px,#22150e 14px,#4e311f 15px,#ab6b44 16px,#2c1c12 17px,#0e0906 18px,#160e09 20px,#281910 21px,#5f3c26 22px,#b47148 23px,#190f0a 24px,#0d0805 25px,#180f0a 27px,#301e13 28px,#72482e 29px,#5f3c26 30px,#110b07 31px,#0d0805 32px,#1b110b 34px,#392417 35px,#875436 36px,#2c1c12 37px,#0e0905 38px,#130c07 40px,#1f130c 41px,#452b1b 42px,#9c613e 43px,#190f0a 44px,#0c0805 45px,#140d08 47px,#24160e 48px,#533421 49px,#5f3b26 50px,#110b07 51px,#0d0805 52px,#170e09 54px,#2b1b11 55px,#664029 56px,#2e1c12 57px,#0e0905 58px,#110b07 60px,#1a100a 61px,#342115 62px,#7b4d31 63px,#1a100a 64px,#0c0805 65px,#120c07 67px,#1e130c 68px,#633e28 70px,#120b07 71px,#0c0805 72px,#140d08 74px,#23160e 75px,#4e311f 76px,#0e0906 78px,#0d0805 79px,#170e09 81px,#2a1a11 82px,#5f3b26 83px,#1b110b 84px,#0d0805 85px,#0e0805 86px,#1a100a 88px,#321f14 89px,#674029 90px,#130c08 91px,#0c0805 92px,#130c07 94px,#1e130c 95px,#3d2618 96px,#342115 97px,#0f0a06 98px,#0d0805 99px,#160e09 101px,#25170f 102px,#513320 103px,#20140d 104px,#0e0906 105px,#0e0906 106px,#1a100a 108px,#311e13 109px,#6b432a 110px,#170e09 111px,#0e0905 112px,#150d08 114px,#21140d 115px,#40281a 116px,#492e1d 117px,#130c07 118px,#0f0906 119px,#120b07 120px,#190f0a 121px,#2a1a11 122px,#563622 123px,#2d1c12 124px,#110b07 125px,#100a07 126px,#1e130c 128px,#372216 129px,#71472d 130px,#1f140d 131px,#100a06 132px,#180f0a 134px,#26180f 135px,#6a422a 137px,#19100a 138px,#120b07 139px,#1e130c 141px,#321f14 142px,#623d27 143px,#442b1b 144px,#160e09 145px,#140c08 146px,#19100a 147px,#25170f 148px,#432a1b 149px,#805033 150px,#2f1e13 151px,#150d08 152px,#170e09 153px,#1f130c 154px,#311e13 155px,#5a3824 156px,#975e3c 157px,#25170f 158px,#170e09 159px,#1b110b 160px,#27180f 161px,#40281a 162px,#73482e 163px,#674029 164px,#21140d 165px,#1b110b 166px,#23160e 167px,#332014 168px,#533421 169px,#875536 170px,#4b2f1e 171px,#21150d 172px,#23160e 173px,#2e1d12 174px,#432a1b 175px,#674029 176px,#99603d 177px,#3f2719 178px,#26180f 179px,#2e1c12 180px,#3c2618 181px,#563522 182px,#7b4d31 183px,#825234 184px,#3d2618 185px,#321f14 186px,#3d2618 187px,#4f311f 188px,#6a422a 189px,#8e5938 190px,#70462d 191px,#42291a 192px,#42291a 193px,#503220 194px,#653f28 195px,#9e633f 197px,#6c442b 198px,#4f3120 199px,#583723 200px,#684129 201px,#935c3b 203px,#a16440 204px,#73482e 205px,#674129 206px,#825134 208px,#a56742 210px,#9e633f 211px,#845335 212px,#845335 213px,#b47148 217px,#9d623e 219px,#c1784d 224px,#ba744a 225px,#ba744a 226px,#c77d4f 229px,#e08c59 238px,#fe9f65 253px,#ffad6e 275px,#ffb473 310px,#ffc17b 555px)"></i>
<i style="background:linear-gradient(90deg,#24170e 0,#503220 1px,#a86943 2px,#b06e46 3px,#1b110b 4px,#110b07 5px,#180f09 6px,#2b1b11 7px,#623d27 8px,#bf784c 9px,#623d27 10px,#130c08 11px,#120b07 12px,#1b110b 13px,#342015 14px,#774a2f 15px,#d48454 16px,#311e13 17px,#100a06 18px,#140c08 19px,#1f130c 20px,#3f2719 21px,#8d5838 22px,#b87349 23px,#1c110b 24px,#100a06 25px,#150d08 26px,#23160e 27px,#4d301e 28px,#a46641 29px,#674029 30px,#130c08 31px,#110b07 32px,#170f09 33px,#291a10 34px,#5d3a25 35px,#ba744a 36px,#332014 37px,#100a06 38px,#120b07 39px,#1a100a 40px,#311f14 41px,#6f462c 42px,#bc754b 43px,#1d120b 44px,#0f0a06 45px,#1d120c 47px,#3b2517 48px,#845335 49px,#6b432b 50px,#140c08 51px,#100a06 52px,#150d08 53px,#22150e 54px,#492d1d 55px,#9d623e 56px,#362216 57px,#100a06 58px,#170f09 60px,#291a10 61px,#5a3824 62px,#b57148 63px,#1f140c 64px,#0f0a06 65px,#1b110b 67px,#321f14 68px,#6e452c 69px,#75492f 70px,#160d09 71px,#100a06 72px,#140c08 73px,#1f130c 74px,#3d2618 75px,#855335 76px,#3d2618 77px,#110b07 78px,#160e09 80px,#24170e 81px,#4a2e1e 82px,#9c613e 83px,#23160e 84px,#0f0a06 85px,#190f0a 87px,#2b1b11 88px,#5b3924 89px,#7e4f32 90px,#170f09 91px,#100a06 92px,#1c120b 94px,#332014 95px,#6f462c 96px,#452b1c 97px,#130c07 98px,#110b07 99px,#160e09 100px,#23160e 101px,#452b1b 102px,#8f5939 103px,#2b1b11 104px,#110b07 105px,#1b110b 107px,#2d1c12 108px,#5c3a25 109px,#9e633f 110px,#1f130c 111px,#120b07 112px,#21150d 114px,#3c2518 115px,#794c30 116px,#664029 117px,#19100a 118px,#150d08 119px,#1b110b 120px,#2a1a11 121px,#503220 122px,#9a603d 123px,#42291a 124px,#160e09 125px,#180f09 126px,#21150d 127px,#382316 128px,#6b432b 129px,#bb754b 130px,#2e1d12 131px,#170e09 132px,#1c120b 133px,#2a1a11 134px,#4b2f1e 135px,#8c5738 136px,#945c3b 137px,#25170f 138px,#1b110b 139px,#23160e 140px,#382316 141px,#653f28 142px,#ae6d45 143px,#20140d 145px,#20140d 146px,#2d1c12 147px,#4b2f1e 148px,#855335 149px,#cd8052 150px,#4d301f 151px,#20140d 152px,#281910 153px,#3b2518 154px,#653f28 155px,#a76842 156px,#c77c4f 157px,#3d2618 158px,#26180f 159px,#332014 160px,#503220 161px,#835234 162px,#c47a4e 163px,#9d623f 164px,#382316 165px,#332014 166px,#472c1c 167px,#6b432b 168px,#d68655 170px,#805033 171px,#3d2618 172px,#462c1c 173px,#603c26 174px,#895536 175px,#b9744a 176px,#dd8a58 177px,#73482e 178px,#4e311f 179px,#603c26 180px,#7e4f32 181px,#ce8052 183px,#c57b4e 184px,#75492e 185px,#69422a 186px,#7f4f33 187px,#de8a58 190px,#b87349 191px,#835234 192px,#8a5637 193px,#ea925d 197px,#b9734a 198px,#9d623e 199px,#ab6b44 200px,#e38e5a 203px,#e68f5b 204px,#c47a4e 205px,#bd764b 206px,#ef955f 210px,#e7905c 211px,#d68655 212px,#d98756 213px,#f89b63 217px,#ea925d 219px,#fd9e65 224px,#ffae6f 252px,#ffb573 291px,#ffc17b 555px)"></i>
<i style="background:linear-gradient(90deg,#352115 0,#75492e 1px,#ce8152 2px,#b16e46 3px,#1e130c 4px,#160e09 5px,#21150d 6px,#41291a 7px,#8c5838 8px,#e18d5a 9px,#674029 10px,#160e09 11px,#180f0a 12px,#27180f 13px,#503220 14px,#a46741 15px,#f0965f 16px,#362216 17px,#140d08 18px,#1a110b 19px,#2e1d12 20px,#623d27 21px,#bc754b 22px,#bc764b 23px,#20140d 24px,#150d08 25px,#1e130c 26px,#372216 27px,#774a2f 28px,#d18253 29px,#70462d 30px,#170e09 31px,#160e09 32px,#22150d 33px,#42291a 34px,#8d5838 35px,#e28d5a 36px,#3b2517 37px,#130c08 38px,#180f0a 39px,#271810 40px,#503220 41px,#a36641 42px,#c47b4e 43px,#22150e 44px,#140c08 45px,#1b110b 46px,#2e1c12 47px,#613d27 48px,#ba744a 49px,#794c30 50px,#180f0a 51px,#150d08 52px,#1e130c 53px,#382316 54px,#774b2f 55px,#d18253 56px,#42291a 57px,#140c08 58px,#170e09 59px,#23160e 60px,#452b1c 61px,#905a39 62px,#d08253 63px,#27180f 64px,#140d08 65px,#1a100a 66px,#2a1a11 67px,#563622 68px,#a96943 69px,#895637 70px,#1b110b 71px,#150d08 72px,#1d120c 73px,#332014 74px,#6a422a 75px,#c0784d 76px,#4d301f 77px,#160e09 78px,#170e09 79px,#22150e 80px,#3e2719 81px,#805033 82px,#d68555 83px,#2d1c12 84px,#150d08 85px,#1a100a 86px,#281910 87px,#4d301f 88px,#985f3c 89px,#985f3d 90px,#1f130c 91px,#160e09 92px,#1d120b 93px,#301e13 94px,#5e3b25 95px,#b16e46 96px,#5c3a25 97px,#190f0a 98px,#180f0a 99px,#23160e 100px,#3e2719 101px,#7c4e31 102px,#d08253 103px,#3c2618 104px,#180f09 105px,#1d120c 106px,#2d1c12 107px,#543522 108px,#9e633f 109px,#bd764b 110px,#2c1b11 111px,#1b110b 112px,#24170e 113px,#3c2518 114px,#71462d 115px,#bf774c 116px,#8a5637 117px,#24160e 118px,#20140d 119px,#2e1d12 120px,#503220 121px,#925b3a 122px,#dc8a58 123px,#613d27 124px,#21150d 125px,#281910 126px,#3d2618 127px,#6c432b 128px,#b47148 129px,#e58f5b 130px,#482d1d 131px,#26180f 132px,#332014 133px,#523321 134px,#8d5838 135px,#d48454 136px,#bf774c 137px,#3b2517 138px,#2f1d13 139px,#432a1b 140px,#6e452c 141px,#ed945e 143px,#995f3d 144px,#362215 145px,#3c2518 146px,#5a3824 147px,#905a39 148px,#d08253 149px,#ff9f65 150px,#7b4d31 151px,#3c2518 152px,#4f311f 153px,#774a2f 154px,#ea935d 156px,#ec945e 157px,#68412a 158px,#4c2f1e 159px,#684129 160px,#99603d 161px,#d28353 162px,#fb9d64 163px,#d28353 164px,#664029 165px,#684129 166px,#8c5838 167px,#e7915c 169px,#ffa368 170px,#764a2f 172px,#8c5738 173px,#d78656 175px,#f79a62 176px,#ffa066 177px,#b77249 178px,#985f3c 179px,#b06e46 180px,#ec935e 182px,#ffa166 183px,#f59962 184px,#be774c 185px,#bb754a 186px,#fa9d64 189px,#ffa569 190px,#f19760 191px,#cf8152 192px,#d98856 193px,#f89b63 195px,#ffa368 196px,#ffa76a 197px,#f49861 198px,#e7905c 199px,#fb9d64 201px,#ffa267 202px,#ffa66a 204px,#fc9d64 205px,#fa9c64 206px,#ffa066 207px,#ffaa6c 210px,#ffa368 212px,#ffac6e 217px,#ffa96c 219px,#ffb372 252px,#ffc27c 555px)"></i>
<i style="background:linear-gradient(90deg,#503220 0,#ea925d 2px,#b37047 3px,#22150e 4px,#1e130c 5px,#301e13 6px,#623d27 7px,#b77349 8px,#f79a62 9px,#6d442b 10px,#1b110b 11px,#21150d 12px,#3a2417 13px,#784b30 14px,#ce8152 15px,#f49961 16px,#3d2618 17px,#1b110b 18px,#26180f 19px,#472c1c 20px,#8f5939 21px,#e18c59 22px,#c2794d 23px,#26180f 24px,#1d120b 25px,#2c1b12 26px,#563622 27px,#a76842 28px,#f0965f 29px,#7b4d31 30px,#1c110b 31px,#1f140c 32px,#342015 33px,#69412a 34px,#be774b 35px,#fb9d64 36px,#452b1c 37px,#1a100a 38px,#23160e 39px,#3e2719 40px,#7d4e32 41px,#d28354 42px,#cd8052 43px,#2a1a11 44px,#1b110b 45px,#281910 46px,#4a2f1e 47px,#945c3b 48px,#e48f5b 49px,#895536 50px,#1e130c 51px,#1e130c 52px,#301e13 53px,#5d3a25 54px,#ae6d45 55px,#f49961 56px,#513320 57px,#1a110b 58px,#22150e 59px,#3a2417 60px,#73482e 61px,#c77c4f 62px,#dd8a58 63px,#321f14 64px,#1c120b 65px,#281910 66px,#482d1c 67px,#8b5737 68px,#dc8958 69px,#9e633f 70px,#23160e 71px,#1f140c 72px,#2f1e13 73px,#583723 74px,#ed945e 76px,#633e27 77px,#1d120c 78px,#23160e 79px,#392417 80px,#6d442b 81px,#bd764b 82px,#ea925d 83px,#3d2618 84px,#1e130c 85px,#291a10 86px,#462c1c 87px,#845234 88px,#d38454 89px,#b37047 90px,#2a1a11 91px,#21150d 92px,#301e13 93px,#563622 94px,#e7905c 96px,#7a4c30 97px,#23160e 98px,#271810 99px,#3e2719 100px,#71472d 101px,#be774c 102px,#fa9c64 103px,#553522 104px,#25170f 105px,#321f14 106px,#533421 107px,#935c3a 108px,#dc8957 109px,#d98857 110px,#41291a 111px,#2d1c12 112px,#41291a 113px,#6f452c 114px,#b57148 115px,#f39861 116px,#b06e46 117px,#382316 118px,#392317 119px,#573723 120px,#905a39 121px,#d58555 122px,#ffa267 123px,#8a5637 124px,#382316 125px,#4a2e1d 126px,#74482e 127px,#ee955f 129px,#fb9d64 130px,#70462c 131px,#462c1c 132px,#623d27 133px,#965e3c 134px,#d38454 135px,#ffa066 136px,#e38e5a 137px,#613d27 138px,#5a3824 139px,#805033 140px,#ed945e 142px,#ffa86b 143px,#c87d50 144px,#603c26 145px,#74492e 146px,#a26541 147px,#d88756 148px,#ffa066 149px,#ffa96c 150px,#b16f47 151px,#73482e 152px,#945c3b 153px,#f19660 155px,#ffa86b 156px,#ffa368 157px,#a46641 158px,#905a39 159px,#e18d5a 161px,#ffa167 162px,#ffac6e 163px,#f79a62 164px,#a86943 165px,#b57148 166px,#f79a62 168px,#ffa76a 169px,#ffae6f 170px,#ee955f 171px,#c2794d 172px,#f19660 174px,#ffa368 175px,#ffab6d 176px,#ffab6d 177px,#ed945f 178px,#e08c59 179px,#ffa166 181px,#ffae6f 183px,#ffa96b 184px,#f59961 185px,#f79a62 186px,#ffa167 187px,#ffaf70 190px,#ffa066 192px,#ffaf70 197px,#ffa86b 199px,#ffb070 203px,#ffac6e 205px,#ffb171 210px,#ffb573 247px,#ffc37c 555px)"></i>
<i style="background:linear-gradient(90deg,#74482e 0,#c67b4f 1px,#fb9d64 2px,#b67148 3px,#291910 4px,#2a1a11 5px,#482d1d 6px,#8b5737 7px,#da8857 8px,#ffa267 9px,#75492f 10px,#23160e 11px,#301e13 12px,#583723 13px,#eb935e 15px,#f59962 16px,#462c1c 17px,#25170f 18px,#392317 19px,#6b432b 20px,#bc754b 21px,#f89b63 22px,#c87d50 23px,#2e1d12 24px,#291a10 25px,#442a1b 26px,#815133 27px,#d28353 28px,#ffa167 29px,#875536 30px,#24170e 31px,#2f1d13 32px,#523321 33px,#e48f5b 35px,#fe9f65 36px,#523321 37px,#25170f 38px,#362215 39px,#633e27 40px,#b06e46 41px,#f39861 42px,#d78655 43px,#342115 44px,#281910 45px,#402819 46px,#764a2f 47px,#c67c4f 48px,#fe9f65 49px,#9a603d 50px,#281910 51px,#2e1d12 52px,#4e311f 53px,#905a39 54px,#dd8a58 55px,#ffa468 56px,#643e28 57px,#27180f 58px,#372216 59px,#603c26 60px,#ef955f 62px,#e8915c 63px,#41291a 64px,#2b1b11 65px,#42291a 66px,#764a2f 67px,#c37a4e 68px,#fc9e64 69px,#b47148 70px,#301e13 71px,#321f14 72px,#513320 73px,#8f5939 74px,#d98857 75px,#ffa468 76px,#7d4e32 77px,#2c1b11 78px,#3b2517 79px,#633e27 80px,#ec935e 82px,#f69a62 83px,#543421 84px,#301e13 85px,#472c1c 86px,#794b30 87px,#c1794d 88px,#fa9c63 89px,#cd8051 90px,#3d2618 91px,#372316 92px,#563622 93px,#905a3a 94px,#d78656 95px,#ffa368 96px,#362115 98px,#452b1b 99px,#6f452c 100px,#f0965f 102px,#ffa368 103px,#784b30 104px,#402819 105px,#5a3824 106px,#905a39 107px,#d28354 108px,#ffa166 109px,#f0965f 110px,#623d27 111px,#513220 112px,#774a2f 113px,#ec945e 115px,#ffa86b 116px,#d38454 117px,#5a3824 118px,#68412a 119px,#985f3c 120px,#d38454 121px,#ff9f65 122px,#ffac6e 123px,#b67249 124px,#664029 125px,#865435 126px,#ed945e 128px,#ffa76a 129px,#ffa66a 130px,#a16540 131px,#7f5033 132px,#a76842 133px,#d98856 134px,#ffa066 135px,#ffac6e 136px,#fc9d64 137px,#985f3d 138px,#9d623f 139px,#f29760 141px,#ffa76b 142px,#ffb070 143px,#ed945e 144px,#a16540 145px,#bd764b 146px,#e48f5b 147px,#ffa267 148px,#ffad6e 149px,#ffae6f 150px,#e18d5a 151px,#bc764b 152px,#f99c63 154px,#ffa96c 155px,#ffb070 156px,#ffab6d 157px,#db8957 158px,#d78656 159px,#f29760 160px,#ffa569 161px,#ffb271 163px,#ffa76b 164px,#e48f5b 165px,#ffa267 167px,#ffb271 170px,#f99b63 172px,#ffa368 173px,#ffb271 176px,#ffa569 179px,#ffb372 183px,#ffaa6c 185px,#ffb472 190px,#ffad6e 192px,#ffb372 196px,#ffba77 297px,#ffc37c 555px)"></i>
<i style="background:linear-gradient(90deg,#9c613e 0,#e38e5a 1px,#ffa368 2px,#ba744a 3px,#321f14 4px,#3d2618 5px,#6a422a 6px,#b57148 7px,#f29760 8px,#ffa66a 9px,#7f4f33 10px,#301e13 11px,#482d1d 12px,#805033 13px,#cc8051 14px,#fd9e65 15px,#f79a62 16px,#523321 17px,#362215 18px,#563622 19px,#975f3c 20px,#e08c59 21px,#ffa468 22px,#cf8152 23px,#3a2417 24px,#3d2618 25px,#684129 26px,#b06e46 27px,#f0965f 28px,#ffa86b 29px,#955d3b 30px,#332014 31px,#482d1d 32px,#7c4d31 33px,#c77c4f 34px,#fc9d64 35px,#ffa166 36px,#633e27 37px,#372316 38px,#553522 39px,#925b3a 40px,#db8957 41px,#ffa368 42px,#e08c59 43px,#442a1b 44px,#3e2719 45px,#653f28 46px,#ec935e 48px,#ffa86b 49px,#ac6c45 50px,#382316 51px,#4a2e1d 52px,#7b4d31 53px,#c37a4e 54px,#fa9d64 55px,#ffa66a 56px,#7a4c31 57px,#3d2618 58px,#593824 59px,#945d3b 60px,#da8857 61px,#ffa368 62px,#f29760 63px,#573723 64px,#462c1c 65px,#6d442b 66px,#ed945e 68px,#ffa86b 69px,#ca7e50 70px,#462c1c 71px,#533421 72px,#835234 73px,#c77c4f 74px,#fb9d64 75px,#ffab6d 76px,#9a603d 77px,#472d1c 78px,#643e28 79px,#9c623e 80px,#dd8a58 81px,#ffa468 82px,#ffa066 83px,#72482e 84px,#523321 85px,#784b30 86px,#ef955f 88px,#ffa96b 89px,#e38e5a 90px,#5b3924 91px,#603c26 92px,#8e5939 93px,#cd8051 94px,#fd9e65 95px,#ffac6e 96px,#bd764b 97px,#593824 98px,#774a2f 99px,#e7905c 101px,#ffa66a 102px,#ffa86b 103px,#a06440 104px,#6f452c 105px,#975e3c 106px,#ce8152 107px,#fb9d64 108px,#ffab6d 109px,#ffa066 110px,#8f5939 111px,#8a5637 112px,#e9925d 114px,#ffa66a 115px,#ffaf6f 116px,#ef955f 117px,#8e5939 118px,#a96a43 119px,#d78656 120px,#fd9e65 121px,#ffab6d 122px,#ffaf70 123px,#dd8a58 124px,#a66842 125px,#f0965f 127px,#ffa76a 128px,#ffaf6f 129px,#ffac6d 130px,#d18353 131px,#c37a4e 132px,#ffa167 134px,#ffb271 136px,#ffa76a 137px,#d08253 138px,#de8b58 139px,#f99c63 140px,#ffa86b 141px,#ffb372 143px,#ffa368 144px,#e08c59 145px,#f49861 146px,#ffa569 147px,#ffb271 149px,#ffb171 150px,#ffa066 151px,#f39861 152px,#ffa267 153px,#ffb472 156px,#ffb070 157px,#ffa066 158px,#ffb573 163px,#ffa569 165px,#ffb472 169px,#ffb473 170px,#ffab6d 172px,#ffb573 176px,#ffaf6f 179px,#ffb574 183px,#ffb170 185px,#ffb674 190px,#ffbc78 309px,#ffc37c 555px)"></i>
<i style="background:linear-gradient(90deg,#c2794d 0,#f69a62 1px,#ffa76a 2px,#bf774c 3px,#402819 4px,#583723 5px,#925b3a 6px,#d88756 7px,#ffa066 8px,#ffa66a 9px,#8b5737 10px,#452b1c 11px,#69422a 12px,#e9925d 14px,#ffa569 15px,#f99b63 16px,#613d27 17px,#4f3120 18px,#7d4e32 19px,#c2794d 20px,#f79b62 21px,#ffa96b 22px,#d68655 23px,#4b2f1e 24px,#5c3a25 25px,#935c3b 26px,#d78756 27px,#ffa167 28px,#ffaa6c 29px,#a56742 30px,#4b2f1e 31px,#6d442b 32px,#e9925d 34px,#ffa66a 35px,#ffa267 36px,#774a2f 37px,#553522 38px,#805033 39px,#c2794d 40px,#f79a62 41px,#ffaa6c 42px,#e9925d 43px,#5a3824 44px,#613d27 45px,#955d3b 46px,#d78655 47px,#ffa167 48px,#ffad6e 49px,#bf774c 50px,#543421 51px,#73482e 52px,#ea925d 54px,#ffa76a 55px,#ffa86b 56px,#945c3b 57px,#603c26 58px,#8a5637 59px,#c87d4f 60px,#f99c63 61px,#ffab6d 62px,#fb9d64 63px,#75492e 64px,#70462d 65px,#a26541 66px,#de8b58 67px,#ffa368 68px,#ffae6f 69px,#dd8a58 70px,#674129 71px,#845335 72px,#f0965f 74px,#ffa86b 75px,#ffac6e 76px,#b87349 77px,#73482e 78px,#9b613e 79px,#d28354 80px,#fe9f65 81px,#ffac6d 82px,#ffa569 83px,#975e3c 84px,#845335 85px,#e6905c 87px,#ffa569 88px,#ffaf6f 89px,#f49961 90px,#845335 91px,#985f3d 92px,#f69a62 94px,#ffaa6c 95px,#ffb070 96px,#db8957 97px,#8f5a39 98px,#b47048 99px,#e38e5a 100px,#ffa368 101px,#ffae6f 102px,#ffac6e 103px,#c87d50 104px,#ab6b44 105px,#f99b63 107px,#ffaa6c 108px,#ffb170 109px,#ffa76a 110px,#bf774c 111px,#c87d50 112px,#ec935e 113px,#ffa569 114px,#ffb372 116px,#ffa167 117px,#c97e50 118px,#ff9f65 120px,#ffab6d 121px,#ffb171 123px,#f99c63 124px,#e08c59 125px,#f79b62 126px,#ffa76a 127px,#ffb372 129px,#ffaf70 130px,#f59961 131px,#f49961 132px,#ffa468 133px,#ffb473 136px,#ffad6e 137px,#f89b63 138px,#ffa267 139px,#ffb372 142px,#ffb473 143px,#ffa368 145px,#ffb573 149px,#ffa96b 152px,#ffb674 156px,#ffab6d 158px,#ffb674 163px,#ffae6f 165px,#ffb674 169px,#ffb171 172px,#ffb775 183px,#ffb473 185px,#ffbe79 324px,#ffc47d 555px)"></i>
<i style="background:linear-gradient(90deg,#df8c59 0,#ffa167 1px,#ffaa6c 2px,#c57b4f 3px,#583723 4px,#7b4d31 5px,#b9744a 6px,#f0965f 7px,#ffa669 8px,#ffa66a 9px,#985f3c 10px,#633e27 11px,#915a3a 12px,#d08253 13px,#fc9d64 14px,#ffa96c 15px,#fb9d64 16px,#74492e 17px,#72472d 18px,#e38e5a 20px,#ffa368 21px,#ffac6d 22px,#de8b58 23px,#643f28 24px,#845335 25px,#bf774c 26px,#f39861 27px,#ffa76b 28px,#ffab6d 29px,#b57148 30px,#6e452c 31px,#99603d 32px,#d48554 33px,#fe9f65 34px,#ffab6d 35px,#ffa468 36px,#8e5939 37px,#7d4e32 38px,#e6905c 40px,#ffa569 41px,#ffad6e 42px,#f19760 43px,#774a2f 44px,#8e5939 45px,#f59962 47px,#ffa96b 48px,#ffae6f 49px,#d18253 50px,#7d4e32 51px,#a46741 52px,#db8957 53px,#ffa166 54px,#ffac6e 55px,#ffaa6c 56px,#af6d46 57px,#8e5939 58px,#ee945f 60px,#ffa76a 61px,#ffaf6f 62px,#ffa167 63px,#975f3c 64px,#a36641 65px,#d48454 66px,#fc9e64 67px,#ffab6d 68px,#ffb171 69px,#ed945e 70px,#975e3c 71px,#ba744a 72px,#e7905c 73px,#ffa469 74px,#ffae6f 75px,#ffae6f 76px,#d38454 77px,#a86943 78px,#f79a62 80px,#ffa96c 81px,#ffb070 82px,#ffa96c 83px,#bd764b 84px,#bc754b 85px,#e38e5a 86px,#ffa267 87px,#ffb271 89px,#ffa166 90px,#b57148 91px,#d08253 92px,#f39861 93px,#ffa76b 94px,#ffb171 96px,#f29760 97px,#c87d4f 98px,#ffa267 100px,#ffb271 102px,#ffaf6f 103px,#e8915c 104px,#e08c59 105px,#fa9c64 106px,#ffa96b 107px,#ffb372 109px,#ffac6d 110px,#e7915c 111px,#ffa569 113px,#ffb473 116px,#ffa96b 117px,#f59961 118px,#ffa267 119px,#ffb472 122px,#ffb372 123px,#ffa66a 124px,#ffa267 125px,#ffaf6f 127px,#ffb573 129px,#ffb271 130px,#ffa66a 131px,#ffb674 136px,#ffa96c 138px,#ffb674 142px,#ffad6e 145px,#ffb774 149px,#ffb070 152px,#ffb875 156px,#ffb171 158px,#ffb875 163px,#ffb372 165px,#ffb875 176px,#ffc47d 555px)"></i>
<i style="background:linear-gradient(90deg,#f39861 0,#ffa66a 1px,#ffaa6c 2px,#cd8051 3px,#774b30 4px,#a26540 5px,#da8857 6px,#fe9f65 7px,#ffa96c 8px,#ffa66a 9px,#a76842 10px,#875436 11px,#eb935e 13px,#ffa469 14px,#ffac6d 15px,#fd9e65 16px,#8b5737 17px,#9a603d 18px,#ce8152 19px,#f99b63 20px,#ffa86b 21px,#ffae6f 22px,#e6905b 23px,#895536 24px,#af6d46 25px,#e18d5a 26px,#ffa267 27px,#ffab6d 28px,#ffab6d 29px,#c67c4f 30px,#975f3c 31px,#f19760 33px,#ffa76a 34px,#ffae6f 35px,#ffa669 36px,#a86943 37px,#a96a43 38px,#d88756 39px,#fd9e65 40px,#ffb070 42px,#f99b63 43px,#9c613e 44px,#bc764b 45px,#e9915d 46px,#ffa469 47px,#ffad6e 48px,#ffaf6f 49px,#e18d5a 50px,#ab6b44 51px,#f89b63 53px,#ffa96c 54px,#ffaf70 55px,#ffab6d 56px,#ca7e50 57px,#be774c 58px,#e58f5b 59px,#ffa267 60px,#ffb171 62px,#ffa569 63px,#bc764b 64px,#d28454 65px,#f59962 66px,#ffa86b 67px,#ffb271 69px,#fb9d64 70px,#c77d4f 71px,#ffa167 73px,#ffb171 75px,#ffaf70 76px,#eb935d 77px,#d88756 78px,#f49961 79px,#ffa76a 80px,#ffb372 82px,#ffac6d 83px,#df8b59 84px,#e8915c 85px,#ffa066 86px,#ffab6d 87px,#ffb473 89px,#ffa76a 90px,#e28d5a 91px,#f69a62 92px,#ffa66a 93px,#ffb272 95px,#ffb272 96px,#ffa267 97px,#f19760 98px,#ffa267 99px,#ffb473 102px,#ffb170 103px,#ff9f65 104px,#ffa066 105px,#ffaf6f 107px,#ffb574 109px,#ffaf6f 110px,#ffa167 111px,#ffb271 114px,#ffb573 116px,#ffa76b 118px,#ffb674 122px,#ffac6d 125px,#ffb775 129px,#ffad6e 131px,#ffb775 136px,#ffb070 138px,#ffb775 142px,#ffb271 145px,#ffb875 149px,#ffb372 151px,#ffb976 156px,#ffb473 158px,#ffb976 162px,#ffb573 165px,#ffba76 176px,#ffc57d 555px)"></i>
<i style="background:linear-gradient(90deg,#ffa066 0,#ffa96b 1px,#ffaa6c 2px,#d48555 3px,#9a603d 4px,#f09660 6px,#ffa569 7px,#ffab6d 8px,#ffa66a 9px,#b77349 10px,#ad6c45 11px,#d98857 12px,#fc9e64 13px,#ffae6f 15px,#ffa066 16px,#a56742 17px,#c1784d 18px,#ea925d 19px,#ffa368 20px,#ffae6f 22px,#ed945f 23px,#af6e46 24px,#f89b63 26px,#ffa86b 27px,#ffae6f 28px,#ffac6d 29px,#d68655 30px,#c0784c 31px,#e58f5b 32px,#ffa267 33px,#ffb070 35px,#ffa76a 36px,#c37a4d 37px,#d18353 38px,#f49861 39px,#ffa66a 40px,#ffb171 42px,#ffa066 43px,#c57b4e 44px,#ff9f66 46px,#ffb070 48px,#ffaf70 49px,#ef965f 50px,#d48454 51px,#f19760 52px,#ffa569 53px,#ffb271 55px,#ffac6e 56px,#e28d5a 57px,#e58f5b 58px,#fe9f65 59px,#ffaa6c 60px,#ffb372 62px,#ffa86b 63px,#e08c59 64px,#f39861 65px,#ffa569 66px,#ffb271 68px,#ffb272 69px,#ffa368 70px,#ec945e 71px,#ffa066 72px,#ffaa6c 73px,#ffb372 75px,#ffb070 76px,#fc9e64 77px,#f89b63 78px,#ffa669 79px,#ffad6e 80px,#ffb473 82px,#ffae6f 83px,#f89b63 84px,#ffa267 85px,#ffb070 87px,#ffb573 89px,#ff9f66 91px,#ffad6e 93px,#ffb473 95px,#ffb372 96px,#ffa86b 97px,#ffa569 98px,#ffb674 102px,#ffa86b 104px,#ffb774 109px,#ffab6d 111px,#ffb674 115px,#ffae6f 118px,#ffb775 122px,#ffb070 124px,#ffb875 129px,#ffb171 131px,#ffb875 135px,#ffb372 138px,#ffba76 149px,#ffb573 151px,#ffba76 156px,#ffb674 158px,#fb7 176px,#ffc57d 555px)"></i>
<i style="background:linear-gradient(90deg,#ffa569 0,#ffab6d 1px,#ffaa6c 2px,#dd8a58 3px,#bc764b 4px,#e18d5a 5px,#fe9f65 6px,#ffa86b 7px,#ffad6e 8px,#ffa76a 9px,#c97d50 10px,#ce8152 11px,#f09660 12px,#ffa469 13px,#ffaf6f 15px,#ffa167 16px,#c47b4e 17px,#fc9e64 19px,#ffa86b 20px,#ffae6f 22px,#f59961 23px,#d28353 24px,#ee955f 25px,#ffa368 26px,#ffb070 28px,#ffac6e 29px,#e58f5b 30px,#e08c59 31px,#fb9d64 32px,#ffa86b 33px,#ffb171 35px,#ffa96b 36px,#dc8958 37px,#ffa368 39px,#ffab6d 40px,#ffb271 42px,#ffa368 43px,#e58f5b 44px,#fa9c63 45px,#ffa76b 46px,#ffb271 48px,#ffb070 49px,#fb9d64 50px,#f19760 51px,#ffa368 52px,#ffb372 55px,#ffae6f 56px,#f59961 57px,#fd9e65 58px,#ffae6f 60px,#ffb473 62px,#fa9c63 64px,#ffa469 65px,#ffb372 68px,#ffb372 69px,#ffa267 71px,#ffb573 75px,#ffb271 76px,#ffa569 77px,#ffb674 82px,#ffa66a 84px,#ffb573 88px,#ffb573 89px,#ffa96c 91px,#ffb674 95px,#ffad6e 98px,#ffb775 102px,#ffae6f 104px,#ffb875 109px,#ffb070 111px,#ffb875 115px,#ffb271 118px,#ffb976 122px,#ffb372 124px,#ffb976 129px,#ffb473 131px,#ffb976 135px,#ffb573 138px,#ffba76 142px,#ffb674 144px,#fb7 149px,#ffb774 151px,#ffbc77 169px,#ffc57d 555px)"></i>
<i style="background:linear-gradient(90deg,#ffa86b 0,#ffaa6c 2px,#e58f5b 3px,#d98756 4px,#f49961 5px,#ffa469 6px,#ffae6f 8px,#ffa76b 9px,#da8857 10px,#e8915c 11px,#ff9f65 12px,#ffa86b 13px,#ffb070 15px,#ffa368 16px,#df8c59 17px,#f59961 18px,#ffa569 19px,#ffaf70 21px,#ffae6f 22px,#fb9d64 23px,#eb935e 24px,#ffa066 25px,#ffb171 28px,#ffad6e 29px,#f29760 30px,#f79a62 31px,#ffa569 32px,#ffb372 35px,#ffaa6c 36px,#f29760 37px,#ffa066 38px,#ffb271 41px,#ffb271 42px,#fb9d64 44px,#ffac6d 46px,#ffb372 48px,#ffb070 49px,#ffa368 50px,#ffa267 51px,#ffb473 55px,#ffaf6f 56px,#ffa267 57px,#ffb171 60px,#ffb573 62px,#ffa66a 64px,#ffb573 68px,#ffa96c 71px,#ffb674 75px,#ffaa6d 77px,#ffb774 82px,#ffac6e 84px,#ffb674 88px,#ffae6f 91px,#ffb775 95px,#ffb070 97px,#ffb875 102px,#ffb171 104px,#ffb875 109px,#ffb372 111px,#ffb976 115px,#ffb473 118px,#ffba76 122px,#ffb573 124px,#ffba76 129px,#ffb674 131px,#ffba77 135px,#ffb774 138px,#fb7 142px,#ffb775 144px,#ffbd78 169px,#ffc57e 555px)"></i>
<i style="background:linear-gradient(90deg,#ffaa6c 0,#ffaa6c 2px,#ee955f 3px,#ed945e 4px,#ffa066 5px,#ffaf70 8px,#ffa86b 9px,#ea925d 10px,#f99b63 11px,#ffa569 12px,#ffb070 15px,#ffa569 16px,#f39861 17px,#ffa167 18px,#ffb070 21px,#ffaf6f 22px,#ffa166 23px,#fc9e64 24px,#ffac6d 26px,#ffb271 28px,#ffad6e 29px,#fd9e65 30px,#ffae6f 33px,#ffb372 35px,#ffa167 37px,#ffb372 41px,#ffb271 42px,#ffa569 44px,#ffb473 48px,#ffa76b 50px,#ffb674 55px,#ffa96b 57px,#ffb573 61px,#ffab6d 64px,#ffb674 68px,#ffae6f 71px,#ffb775 75px,#ffae6f 77px,#ffb775 82px,#ffb070 84px,#ffb875 88px,#ffb271 91px,#ffb875 95px,#ffb271 97px,#ffb976 102px,#ffb372 104px,#ffb976 108px,#ffb573 111px,#ffba76 115px,#ffb674 117px,#fb7 122px,#ffb674 124px,#ffbc78 142px,#ffb976 144px,#ffc17b 274px,#ffc57e 555px)"></i>
<i style="background:linear-gradient(90deg,#ffac6d 0,#ffae6f 1px,#ffaa6c 2px,#f69962 3px,#ffa569 5px,#ffb070 8px,#ffa96b 9px,#f89b63 10px,#ffa267 11px,#ffb070 14px,#ffb070 15px,#ffa066 17px,#ffb171 21px,#ffaf6f 22px,#ffa469 23px,#ffb372 28px,#ffa468 30px,#ffb372 35px,#ffa76a 37px,#ffb473 41px,#ffaa6c 44px,#ffb573 48px,#ffab6d 50px,#ffb674 55px,#ffad6e 57px,#ffb674 61px,#ffaf6f 64px,#ffb775 68px,#ffb070 70px,#ffb875 75px,#ffb171 77px,#ffb875 81px,#ffb272 84px,#ffb976 88px,#ffb372 90px,#ffb976 95px,#ffb473 97px,#ffba76 102px,#ffb573 104px,#ffba76 108px,#ffb674 111px,#fb7 115px,#ffb774 117px,#fb7 122px,#ffb875 124px,#ffbe79 162px,#ffc67e 555px)"></i>
<i style="background:linear-gradient(90deg,#ffad6e 0,#ffaf6f 1px,#ffab6d 2px,#fd9e65 3px,#ffb070 8px,#ffa267 10px,#ffb170 14px,#ffa569 17px,#ffb272 21px,#ffa76a 23px,#ffb472 28px,#ffa86b 30px,#ffb372 34px,#ffab6d 37px,#ffb573 41px,#ffad6e 43px,#ffb674 48px,#ffae6f 50px,#ffb674 55px,#ffaf70 57px,#ffb774 61px,#ffb171 64px,#ffb875 68px,#ffb271 70px,#ffb875 75px,#ffb372 77px,#ffb976 81px,#ffb473 84px,#ffb976 88px,#ffb573 90px,#ffba77 95px,#ffb574 97px,#ffbc78 115px,#ffb875 117px,#ffbe79 162px,#ffc67e 555px)"></i>
<i style="background:linear-gradient(90deg,#ffae6f 0,#ffb070 1px,#ffa267 3px,#ffb070 7px,#ffb070 8px,#ffa66a 10px,#ffb171 14px,#ffa96c 17px,#ffb372 21px,#ffa96c 23px,#ffb472 28px,#ffac6d 30px,#ffb473 34px,#ffae6f 37px,#ffb674 41px,#ffaf6f 43px,#ffb774 48px,#ffb070 50px,#ffb774 54px,#ffb171 57px,#ffb875 61px,#ffb372 63px,#ffb976 68px,#ffb372 70px,#ffb976 75px,#ffb473 77px,#ffb976 81px,#ffb574 84px,#ffba77 88px,#ffb674 90px,#fb7 95px,#ffb774 97px,#fb7 101px,#ffb875 104px,#ffbe79 135px,#ffc67e 555px)"></i>
<i style="height:2px;background:linear-gradient(90deg,#ffaf6f 0,#ffb070 1px,#ffa76a 3px,#ffb171 7px,#ffaa6c 10px,#ffb272 14px,#ffab6d 16px,#ffb472 21px,#ffad6e 23px,#ffb473 27px,#ffae6f 30px,#ffb573 34px,#ffb070 36px,#ffb774 41px,#ffb171 43px,#ffb674 47px,#ffb271 50px,#ffb976 61px,#ffb473 63px,#ffb976 68px,#ffb573 70px,#ffba77 81px,#ffb774 83px,#fb7 88px,#ffb775 90px,#ffbf7a 155px,#ffc67e 555px)"></i>
<i style="height:3px;background:linear-gradient(90deg,#ffb070 0,#ffab6d 3px,#ffb271 7px,#ffad6e 9px,#ffb372 14px,#ffae6f 16px,#ffb473 20px,#ffb070 23px,#ffb573 27px,#ffb171 29px,#ffb774 34px,#ffb271 36px,#ffb774 40px,#ffb372 43px,#ffb875 47px,#ffb573 50px,#ffb976 54px,#ffb574 56px,#ffba76 61px,#ffb674 63px,#ffba76 67px,#ffb775 70px,#fb7 74px,#ffb875 76px,#ffbc78 81px,#ffb976 83px,#ffbd79 101px,#fb7 103px,#ffbd79 108px,#ffc17b 168px,#ffc67e 555px)"></i>
<i style="height:4px;background:linear-gradient(90deg,#ffb271 0,#ffae6f 2px,#ffb372 7px,#ffb070 9px,#ffb473 13px,#ffb171 16px,#ffb573 20px,#ffb272 22px,#ffb674 27px,#ffb472 29px,#ffb775 33px,#ffb573 36px,#ffb976 47px,#ffb774 49px,#fb7 67px,#ffb976 69px,#ffbc78 74px,#ffc27b 161px,#ffc77e 555px)"></i>
<i style="height:4px;background:linear-gradient(90deg,#ffb271 0,#ffaf70 2px,#ffb372 6px,#ffb171 8px,#ffb573 13px,#ffb271 15px,#ffb674 20px,#ffb472 22px,#ffb774 26px,#ffbc77 60px,#ffc37c 167px,#ffc77f 555px)"></i>
<i style="background:linear-gradient(90deg,#ffb271 0,#ffac6e 1px,#ffb472 6px,#ffb372 7px,#ffad6e 8px,#ffb573 12px,#ffb070 15px,#ffb674 19px,#ffb272 22px,#ffb775 26px,#ffb372 28px,#ffb875 33px,#ffb573 35px,#ffb976 39px,#ffb774 42px,#fb7 53px,#ffb976 55px,#ffbd79 73px,#ffc37c 160px,#ffc77f 555px)"></i>
<i style="background:linear-gradient(90deg,#ffb171 0,#ffa569 1px,#ffaf70 3px,#ffb473 6px,#ffb171 7px,#ffa76b 8px,#ffb271 10px,#ffb573 12px,#ffac6d 15px,#ffb473 17px,#ffb674 19px,#ffb674 20px,#ffaf6f 21px,#ffb775 26px,#ffaf6f 28px,#ffb875 33px,#ffb271 35px,#ffb976 39px,#ffb573 42px,#ffba77 46px,#ffb573 48px,#fb7 53px,#ffb774 55px,#ffbc78 59px,#ffb976 62px,#ffbd78 66px,#ffb976 68px,#ffc17b 113px,#ffc77f 555px)"></i>
<i style="background:linear-gradient(90deg,#ffb070 0,#f49961 1px,#ffa368 2px,#ffad6e 3px,#ffb472 6px,#ffae6f 7px,#fd9e64 8px,#ffb171 10px,#ffb573 12px,#ffb573 13px,#ffa96b 14px,#ffa468 15px,#ffb472 17px,#ffb573 20px,#ffa469 21px,#ffb271 23px,#ffb775 26px,#ffb473 27px,#ffa76a 28px,#ffb573 30px,#ffb875 32px,#ffb875 33px,#ffac6d 35px,#ffb775 37px,#ffb976 39px,#ffb976 40px,#ffae6f 41px,#ffba77 46px,#ffb875 47px,#ffae6f 48px,#ffb875 50px,#fb7 52px,#ffb271 55px,#ffbc78 59px,#ffb573 62px,#ffbd78 66px,#ffb573 68px,#ffbd78 72px,#ffb774 75px,#ffbe79 79px,#ffb976 82px,#ffbf79 86px,#ffb976 88px,#ffbf7a 93px,#ffba77 95px,#ffbf7a 99px,#ffbc78 102px,#ffc07a 106px,#ffc47d 180px,#ffc77f 555px)"></i>
<i style="background:linear-gradient(90deg,#ffab6d 0,#dd8a58 1px,#f59961 2px,#ffa96c 3px,#ffb372 5px,#ffb472 6px,#ffa368 7px,#e7915c 8px,#ffa167 9px,#ffae6f 10px,#ffb573 12px,#ffb472 13px,#f49961 14px,#f39861 15px,#ffa86b 16px,#ffb271 17px,#ffb674 19px,#ffb271 20px,#ed945e 21px,#ffa066 22px,#ffae6f 23px,#ffb774 25px,#ffb775 26px,#ffad6e 27px,#f69a62 28px,#ffa76a 29px,#ffb272 30px,#ffb875 32px,#ffb875 33px,#ffa569 34px,#ffa066 35px,#ffb574 37px,#ffb774 40px,#ff9f65 41px,#ffb271 43px,#ffba76 45px,#ffba77 46px,#ffb473 47px,#ffa267 48px,#ffb574 50px,#ffba76 51px,#fb7 53px,#ffa86b 55px,#ffb875 57px,#fb7 58px,#ffba77 60px,#ffaa6c 61px,#ffba77 64px,#ffbd78 66px,#ffb976 67px,#ffaa6c 68px,#ffb875 70px,#ffbd78 72px,#ffbd78 73px,#ffae6f 75px,#fb7 77px,#ffbe79 79px,#ffbd78 80px,#ffb271 81px,#ffb271 82px,#ffbc78 84px,#ffbf79 86px,#ffbc78 87px,#ffb170 88px,#ffbf79 92px,#ffbf7a 93px,#ffb372 95px,#ffbf7a 99px,#ffb674 102px,#ffc07a 106px,#ffbf79 107px,#ffb674 108px,#ffc07a 112px,#ffb875 115px,#ffc17b 119px,#ffba76 122px,#ffc17b 125px,#ffc07b 127px,#fb7 128px,#ffc27b 133px,#ffbc78 135px,#ffc27b 139px,#ffbe79 142px,#ffc27c 153px,#ffc77f 555px)"></i>
<i style="background:linear-gradient(90deg,#fc9e64 0,#c2794d 1px,#ffa368 3px,#ffb070 4px,#ffb372 6px,#e48f5b 7px,#cd8052 8px,#f0965f 9px,#ffaa6c 10px,#ffb573 12px,#ffb070 13px,#d08253 14px,#db8957 15px,#fe9f65 16px,#ffaf70 17px,#ffb674 19px,#ffa96b 20px,#cf8152 21px,#ffa76a 23px,#ffb372 24px,#ffb774 26px,#f99c63 27px,#da8857 28px,#f89b63 29px,#ffad6e 30px,#ffb674 31px,#ffb574 33px,#e6905c 34px,#e7905c 35px,#ffa368 36px,#ffb271 37px,#ffb976 39px,#ffb070 40px,#de8a58 41px,#f39861 42px,#ffaa6c 43px,#ffb674 44px,#ffb976 45px,#ffba76 46px,#ffa76a 47px,#e7905c 48px,#ffa066 49px,#ffb070 50px,#ffb875 51px,#ffb976 53px,#f99c63 54px,#f19760 55px,#ffa76b 56px,#ffb473 57px,#ffbc78 59px,#ffb674 60px,#ee955f 61px,#fd9e65 62px,#ffb875 64px,#ffbc77 65px,#ffbd78 66px,#ffb070 67px,#f39861 68px,#ffa569 69px,#ffb372 70px,#ffbd78 72px,#ffbc78 73px,#ffa76a 74px,#fc9e64 75px,#ffb774 77px,#ffbc78 78px,#ffba77 80px,#ff9f66 81px,#ffa468 82px,#ffb976 84px,#ffbf79 86px,#ffb674 87px,#ff9f66 88px,#ffb573 90px,#ffbe79 92px,#ffbe79 93px,#ffa469 95px,#ffb875 97px,#ffbd79 98px,#ffbd78 100px,#ffa96c 101px,#ffa96c 102px,#fb7 104px,#ffc07a 106px,#ffba77 107px,#ffa76a 108px,#ffb775 110px,#ffc07a 112px,#ffc07a 113px,#ffaa6c 115px,#ffbe79 118px,#ffbf7a 120px,#ffb170 121px,#ffae6f 122px,#ffbc78 124px,#ffc17b 126px,#ffbd79 127px,#ffad6e 128px,#ffbe79 131px,#ffc17b 133px,#ffb171 135px,#ffc17b 139px,#ffc07b 140px,#ffb573 142px,#ffc17b 146px,#ffb775 148px,#ffc27b 153px,#ffb976 155px,#ffc17b 159px,#fb7 162px,#ffc17b 166px,#ffbd78 168px,#ffc27b 173px,#ffbe79 175px,#ffc17b 180px,#ffc67e 555px)"></i>
<i style="background:linear-gradient(90deg,#d88756 0,#ab6b44 1px,#c97d50 2px,#f69a62 3px,#ffad6e 4px,#ffb372 5px,#ffaf70 6px,#bc754b 7px,#b47148 8px,#ffa368 10px,#ffb171 11px,#ffb573 12px,#ffa569 13px,#af6d45 14px,#c0784d 15px,#ea925d 16px,#ffaa6c 17px,#ffb473 18px,#ffb674 19px,#ec945e 20px,#b37047 21px,#cf8152 22px,#f99c63 23px,#ffaf70 24px,#ffb674 25px,#ffb473 26px,#cf8152 27px,#bc754b 28px,#ffa569 30px,#ffb372 31px,#ffb875 32px,#ffad6e 33px,#bc764b 34px,#c87d4f 35px,#ee955f 36px,#ffac6d 37px,#ffb674 38px,#ffb976 39px,#fe9f65 40px,#bc754b 41px,#d58555 42px,#fd9e65 43px,#ffb171 44px,#ffb976 45px,#ffb875 46px,#e38e5a 47px,#c57b4e 48px,#ffa66a 50px,#ffb573 51px,#ffba77 52px,#ffb372 53px,#cd8052 54px,#d08253 55px,#f29760 56px,#ffad6e 57px,#ffb875 58px,#fb7 59px,#ffa86b 60px,#c67c4f 61px,#dc8a58 62px,#ffa066 63px,#ffb271 64px,#ffba77 65px,#fb7 66px,#f59962 67px,#ce8152 68px,#ea925d 69px,#ffa76b 70px,#ffb674 71px,#ffbc78 72px,#ffb875 73px,#df8c59 74px,#d88756 75px,#f79a62 76px,#ffae6f 77px,#ffb976 78px,#ffbd78 79px,#ffaf70 80px,#d38454 81px,#e48f5b 82px,#ffa267 83px,#ffb372 84px,#ffbd79 86px,#ffa368 87px,#d88756 88px,#f0965f 89px,#ffa96b 90px,#ffb774 91px,#ffbd78 92px,#fb7 93px,#f09660 94px,#e18d5a 95px,#fb9d64 96px,#ffba76 98px,#ffbe79 99px,#ffb573 100px,#e28d5a 101px,#ec935e 102px,#ffa468 103px,#ffb372 104px,#ffbf7a 106px,#ffab6d 107px,#e28d5a 108px,#f69a62 109px,#ffaa6c 110px,#ffbe79 112px,#ffbd79 113px,#ffa066 114px,#ea925d 115px,#ffa066 116px,#ffba77 118px,#ffbf7a 119px,#ffb976 120px,#f19760 121px,#f39861 122px,#ffa66a 123px,#ffb473 124px,#ffc07a 126px,#ffb171 127px,#ed945e 128px,#fc9e64 129px,#ffb875 131px,#ffbf7a 133px,#ffa86b 134px,#f79a62 135px,#ffa569 136px,#ffba76 138px,#ffbf79 139px,#fb7 140px,#ffa368 141px,#ffa167 142px,#ffb573 144px,#ffbf7a 146px,#ffb574 147px,#ffa368 148px,#ffb775 151px,#ffbe79 153px,#ffa76b 155px,#ffbd78 159px,#fb7 160px,#ffae6f 161px,#ffac6d 162px,#ffbd78 166px,#ffae6f 168px,#ffbd78 173px,#ffb170 175px,#ffba77 179px,#ffb372 182px,#ffba76 186px,#ffb573 188px,#ffb976 193px,#ffc17b 555px)"></i>
<i style="background:linear-gradient(90deg,#b06e46 0,#9a603d 1px,#b37047 2px,#e48f5b 3px,#ffa96c 4px,#ffb272 5px,#ffa468 6px,#9e633f 7px,#a16540 8px,#c1794d 9px,#f49961 10px,#ffae6f 11px,#ffb473 12px,#e48f5b 13px,#9a603d 14px,#aa6a44 15px,#ffa267 17px,#ffb271 18px,#ffb372 19px,#bf774c 20px,#9f633f 21px,#b57148 22px,#e38e5a 23px,#ffa96c 24px,#ffb573 25px,#ffab6d 26px,#a96a43 27px,#a56742 28px,#c2794d 29px,#f39861 30px,#ffaf70 31px,#ffb775 32px,#f49961 33px,#a06440 34px,#ad6c45 35px,#d28353 36px,#ffa167 37px,#ffb372 38px,#ffb775 39px,#d08253 40px,#a36641 41px,#b87349 42px,#e28d5a 43px,#ffa96b 44px,#ffb774 45px,#ffb171 46px,#b57148 47px,#a96a43 48px,#c47a4e 49px,#f19760 50px,#ffaf6f 51px,#ffb976 52px,#ffa167 53px,#a86943 54px,#b16f46 55px,#d28354 56px,#ffa066 57px,#ffb472 58px,#ffba77 59px,#e18d59 60px,#a86943 61px,#bb754a 62px,#e18d5a 63px,#ffa86b 64px,#ffb775 65px,#ffb573 66px,#c37a4e 67px,#ad6c45 68px,#c67c4f 69px,#f09660 70px,#ffae6f 71px,#ffba76 72px,#ffa86b 73px,#b26f47 74px,#b57148 75px,#d38454 76px,#fd9e65 77px,#ffb372 78px,#ffbc78 79px,#f0965f 80px,#ad6c45 81px,#be774c 82px,#ffa66a 84px,#ffb774 85px,#ffb875 86px,#d28353 87px,#b26f47 88px,#c97d50 89px,#ef955f 90px,#ffac6e 91px,#ffba76 92px,#ffae6f 93px,#bd764b 94px,#b9744a 95px,#d58555 96px,#fb9d64 97px,#ffb271 98px,#ffbc78 99px,#fc9d64 100px,#b47048 101px,#c2794d 102px,#ffa469 104px,#ffb674 105px,#fb7 106px,#e08c59 107px,#b87349 108px,#cb7f51 109px,#ee955f 110px,#ffab6d 111px,#ffb976 112px,#ffb271 113px,#ca7e50 114px,#be774c 115px,#d68655 116px,#f99c63 117px,#ffb070 118px,#fb7 119px,#ffa468 120px,#bd764b 121px,#c67c4f 122px,#ffa368 124px,#ffb473 125px,#ffbd78 126px,#ed945e 127px,#bd764b 128px,#cf8152 129px,#ed945e 130px,#ffa86b 131px,#ffb775 132px,#ffb573 133px,#d88756 134px,#c77c4f 135px,#dc8957 136px,#f89b63 137px,#ffac6e 138px,#ffb875 139px,#ffa86b 140px,#d08253 141px,#d38454 142px,#ffa066 144px,#ffb976 146px,#f99c63 147px,#d28354 148px,#ffa469 151px,#ffb070 152px,#ffb171 153px,#ec945e 154px,#dc8957 155px,#f99c63 157px,#ffb170 159px,#ffa76b 160px,#e7905c 161px,#e58f5b 162px,#ff9f66 164px,#ffb070 166px,#ffa066 167px,#e8915c 168px,#ffa267 171px,#ffac6d 173px,#f89b63 174px,#ee955f 175px,#fc9e64 177px,#ffa86b 179px,#ffa569 180px,#f69a62 181px,#f59961 182px,#ff9f66 184px,#ffa66a 186px,#f89b63 188px,#ffa368 193px,#fd9e65 195px,#ffae6f 555px)"></i>
<i style="background:linear-gradient(90deg,#965d3c 0,#8e5939 1px,#a26540 2px,#ffa267 4px,#ffb171 5px,#e08c59 6px,#8d5838 7px,#935c3b 8px,#ac6c45 9px,#e08c59 10px,#ffa96c 11px,#ffb372 12px,#b67248 13px,#8d5838 14px,#9a603d 15px,#b9744a 16px,#f19660 17px,#ffaf6f 18px,#ffaa6d 19px,#9e633f 20px,#915a3a 21px,#a16540 22px,#c97d50 23px,#ffa066 24px,#ffb372 25px,#ee955f 26px,#925b3a 27px,#955d3b 28px,#ab6b44 29px,#da8857 30px,#ffa86b 31px,#ffb674 32px,#c37a4e 33px,#905a39 34px,#9b613e 35px,#b77249 36px,#eb935d 37px,#ffae6f 38px,#ffaf70 39px,#a76842 40px,#935c3a 41px,#a26540 42px,#c47b4e 43px,#f99c63 44px,#ffb372 45px,#fa9c63 46px,#985f3d 47px,#975e3c 48px,#aa6a44 49px,#ffa469 51px,#ffb674 52px,#d08253 53px,#935c3a 54px,#9c613e 55px,#b47148 56px,#e48e5b 57px,#ffab6d 58px,#ffb372 59px,#b06e46 60px,#955d3b 61px,#a26540 62px,#c0784c 63px,#f29760 64px,#ffb171 65px,#ffa267 66px,#9f633f 67px,#985f3d 68px,#a96a43 69px,#ce8052 70px,#ffa066 71px,#ffb573 72px,#dc8a58 73px,#975e3c 74px,#9d623e 75px,#b26f47 76px,#dc8a58 77px,#ffa76a 78px,#ffb674 79px,#ba744a 80px,#975e3c 81px,#a26541 82px,#bd764b 83px,#ea935d 84px,#ffad6e 85px,#ffa76a 86px,#a66842 87px,#9a603d 88px,#a96a43 89px,#c87d50 90px,#f79b62 91px,#ffb272 92px,#e7905c 93px,#9b613e 94px,#9e633f 95px,#b16e46 96px,#ffa267 98px,#ffb674 99px,#c47a4e 100px,#99603d 101px,#a36641 102px,#ba744a 103px,#e28d5a 104px,#ffa86b 105px,#ffaa6c 106px,#ad6c45 107px,#9c613e 108px,#a96943 109px,#c47b4e 110px,#ef955f 111px,#ffae6f 112px,#ef955f 113px,#a16440 114px,#9f633f 115px,#b06e46 116px,#cf8152 117px,#fa9c64 118px,#ffb272 119px,#cd8051 120px,#9b613e 121px,#a36641 122px,#b87349 123px,#ffa368 125px,#ffad6e 126px,#b47148 127px,#9d623f 128px,#a96943 129px,#c0784d 130px,#e6905c 131px,#ffa86b 132px,#f49861 133px,#a86943 134px,#a36641 135px,#b16f46 136px,#ca7e50 137px,#ed945e 138px,#ffa96c 139px,#d38454 140px,#a46641 141px,#a96a43 142px,#b9744a 143px,#f19760 145px,#ffa569 146px,#bf774c 147px,#a86943 148px,#b16e46 149px,#c1794d 150px,#f39861 152px,#eb935e 153px,#b57148 154px,#ad6c45 155px,#c77d4f 157px,#f39861 159px,#b26f47 161px,#b47047 162px,#be774c 163px,#f09660 166px,#c67c4f 167px,#b47048 168px,#c37a4e 170px,#dd8a58 172px,#dd8a58 173px,#bf784c 174px,#b9744a 175px,#da8857 179px,#be774c 181px,#c37a4d 183px,#d58555 186px,#c0784c 188px,#cd8051 193px,#c47b4e 195px,#c87d4f 199px,#c1794d 277px,#dc8958 555px)"></i>
<i style="background:linear-gradient(90deg,#865435 0,#865435 1px,#955d3b 2px,#b9734a 3px,#f59962 4px,#ffaf70 5px,#b26f47 6px,#825134 7px,#8a5637 8px,#9d623e 9px,#c97e50 10px,#ffa267 11px,#ffab6d 12px,#975f3c 13px,#845335 14px,#8e5939 15px,#a66842 16px,#db8957 17px,#ffa96c 18px,#ed945e 19px,#8b5737 20px,#875436 21px,#945c3b 22px,#b26f47 23px,#ec935e 24px,#ffaf6f 25px,#bc764b 26px,#855335 27px,#8a5637 28px,#9a603d 29px,#bf784c 30px,#fb9d64 31px,#ffaf70 32px,#9e633f 33px,#865435 34px,#8e5939 35px,#a26540 36px,#cf8152 37px,#ffa569 38px,#f69a62 39px,#8f5a39 40px,#885536 41px,#935c3a 42px,#ab6b44 43px,#df8c59 44px,#ffac6d 45px,#c67c4f 46px,#885536 47px,#8b5737 48px,#985f3d 49px,#b77249 50px,#ef955f 51px,#ffb171 52px,#a56741 53px,#875436 54px,#8e5939 55px,#9f633f 56px,#c47a4e 57px,#fc9e64 58px,#fd9e65 59px,#945c3b 60px,#895636 61px,#925b3a 62px,#a66842 63px,#d28354 64px,#ffa569 65px,#ce8152 66px,#8c5738 67px,#8b5737 68px,#965e3c 69px,#af6e46 70px,#e18d59 71px,#ffac6d 72px,#ab6b44 73px,#885536 74px,#8e5938 75px,#9c613e 76px,#ba744a 77px,#ef955f 78px,#ffa167 79px,#985f3d 80px,#8a5637 81px,#915b3a 82px,#a26541 83px,#c67c4f 84px,#fb9d64 85px,#d58555 86px,#8f5939 87px,#8b5738 88px,#955d3b 89px,#a96a43 90px,#d38454 91px,#ffa468 92px,#b06e46 93px,#8a5637 94px,#8e5938 95px,#99603d 96px,#b26f47 97px,#e08c59 98px,#ffa368 99px,#9c613e 100px,#8a5637 101px,#915a3a 102px,#9f633f 103px,#bb754b 104px,#ec945e 105px,#d98857 106px,#915b3a 107px,#8c5738 108px,#945c3b 109px,#a46741 110px,#c67c4f 111px,#f79b62 112px,#b57148 113px,#8c5838 114px,#8e5938 115px,#975f3c 116px,#ab6b44 117px,#d18353 118px,#ffa166 119px,#a06440 120px,#8b5737 121px,#9c613e 123px,#b37047 124px,#dc8a58 125px,#dc8a58 126px,#945d3b 127px,#8c5738 128px,#935c3a 129px,#a06440 130px,#bb754a 131px,#e58f5b 132px,#8f5939 134px,#8f5939 135px,#975e3c 136px,#a66842 137px,#c0784c 138px,#e6905b 139px,#a36641 140px,#8e5939 141px,#9b613e 143px,#aa6a44 144px,#c2794d 145px,#cd8052 146px,#99603d 147px,#905a39 148px,#9f633f 150px,#ad6c45 151px,#c37a4e 152px,#b26f47 153px,#955d3b 154px,#935c3b 155px,#a16540 157px,#c1794d 159px,#a46641 160px,#945c3b 161px,#9b613e 163px,#b9734a 166px,#9d623e 167px,#955d3b 168px,#9d623f 170px,#ad6c45 172px,#a96a43 173px,#9a603d 174px,#985f3c 175px,#aa6b44 179px,#99603d 181px,#a76842 186px,#9a603d 188px,#a06440 192px,#9c613e 195px,#965d3c 277px,#a86943 447px,#ae6d45 555px)"></i>
<i style="background:linear-gradient(90deg,#7c4e31 0,#7f4f32 1px,#8b5737 2px,#a76943 3px,#e48f5b 4px,#ffac6e 5px,#945d3b 6px,#7b4d31 7px,#825134 8px,#915b3a 9px,#b47048 10px,#f49861 11px,#f0965f 12px,#865436 13px,#7d4e32 14px,#865435 15px,#985f3c 16px,#c37a4e 17px,#ffa167 18px,#ba744a 19px,#7f5033 20px,#805033 21px,#8a5637 22px,#a06440 23px,#d38454 24px,#ffa86b 25px,#99603d 26px,#7d4e32 27px,#825134 28px,#8e5939 29px,#aa6a44 30px,#e48f5b 31px,#f69a62 32px,#8a5637 33px,#7e4f32 34px,#855335 35px,#945c3b 36px,#b57148 37px,#f39861 38px,#c1784d 39px,#825134 40px,#805033 41px,#895536 42px,#9a603d 43px,#c37a4d 44px,#ffa066 45px,#9e633f 46px,#7f4f32 47px,#8c5838 49px,#a16540 50px,#d18353 51px,#fa9c64 52px,#8d5838 53px,#7f4f33 54px,#905a3a 56px,#aa6a44 57px,#e08c59 58px,#c57b4f 59px,#855335 60px,#815033 61px,#875536 62px,#955d3b 63px,#b47148 64px,#ee955f 65px,#a16540 66px,#815033 67px,#825134 68px,#8a5737 69px,#9b613e 70px,#c0784c 71px,#fb9d64 72px,#905a39 73px,#805033 74px,#8e5938 76px,#a16540 77px,#cc8051 78px,#c87d50 79px,#875436 80px,#815033 81px,#865436 82px,#925b3a 83px,#a96943 84px,#d98856 85px,#a46741 86px,#825134 87px,#825134 88px,#965e3c 90px,#b16f47 91px,#e6905b 92px,#925b3a 93px,#805033 94px,#8c5738 96px,#9b613e 97px,#bb754a 98px,#c97d50 99px,#895536 100px,#815133 101px,#8e5939 103px,#a06440 104px,#c57b4e 105px,#845234 107px,#825134 108px,#925b3a 110px,#a66842 111px,#cf8252 112px,#945c3b 113px,#815133 114px,#8a5637 116px,#955d3b 117px,#c87d4f 119px,#8a5637 120px,#815133 121px,#8c5738 123px,#99603d 124px,#b47148 125px,#a66842 126px,#855335 127px,#825134 128px,#865435 129px,#8e5939 130px,#9d623f 131px,#ba744a 132px,#945d3b 133px,#825134 134px,#835234 135px,#915b3a 137px,#a0643f 138px,#ba744a 139px,#8c5738 140px,#835234 141px,#8a5737 143px,#a06440 145px,#9f633f 146px,#875536 147px,#845235 148px,#8c5838 150px,#a06440 152px,#855335 154px,#8d5838 157px,#9e633f 159px,#8c5738 160px,#855335 161px,#955d3b 166px,#895636 167px,#865435 168px,#925c3a 172px,#885536 174px,#875436 175px,#915a3a 179px,#875536 181px,#8d5838 186px,#885536 188px,#825134 277px,#935c3b 447px,#955d3b 555px)"></i>
<i style="background:linear-gradient(90deg,#75492e 0,#845234 2px,#9a603d 3px,#cf8152 4px,#f79a62 5px,#845235 6px,#76492f 7px,#885536 9px,#a36641 10px,#e18c59 11px,#bd764b 12px,#7c4d31 13px,#774b2f 14px,#7f4f33 15px,#8d5838 16px,#ae6d45 17px,#f09660 18px,#985f3c 19px,#774a2f 20px,#794c30 21px,#825134 22px,#935c3b 23px,#bb754b 24px,#fb9d64 25px,#875436 26px,#774a2f 27px,#865435 29px,#9a603d 30px,#ca7e50 31px,#c1784d 32px,#7e4f32 33px,#784b30 34px,#7e4f32 35px,#8a5637 36px,#a26540 37px,#da8857 38px,#9b613e 39px,#794c30 40px,#7a4c30 41px,#8e5939 43px,#ab6b44 44px,#e9915d 45px,#895637 46px,#784b30 47px,#845234 49px,#935c3b 50px,#b67248 51px,#c2794d 52px,#805033 53px,#794b30 54px,#875436 56px,#995f3d 57px,#c2794d 58px,#7b4d31 60px,#7a4c31 61px,#8a5637 63px,#9f633f 64px,#cf8152 65px,#8b5737 66px,#794b30 67px,#825134 69px,#8e5938 70px,#c1794d 72px,#825134 73px,#794c30 74px,#855335 76px,#925b3a 77px,#ae6d45 78px,#9d623e 79px,#7d4e32 80px,#7a4c31 81px,#7f4f32 82px,#875436 83px,#965e3c 84px,#b77349 85px,#8c5838 86px,#7a4c30 87px,#7b4d31 88px,#8a5637 90px,#9b613e 91px,#be774c 92px,#835234 93px,#794c30 94px,#825234 96px,#8d5838 97px,#a06440 98px,#9c623e 99px,#7e4f32 100px,#7a4c31 101px,#7e4f32 102px,#905a39 104px,#a66842 105px,#8c5838 106px,#7b4d31 107px,#7b4d31 108px,#865436 110px,#935c3a 111px,#ad6c45 112px,#845234 113px,#794c30 114px,#815033 116px,#975e3c 118px,#9b613e 119px,#7f4f32 120px,#7a4c30 121px,#825134 123px,#8b5737 124px,#9a603d 125px,#7b4d31 127px,#7a4d31 128px,#845234 130px,#8d5838 131px,#9d623f 132px,#845335 133px,#7a4c31 134px,#7f5033 136px,#955d3b 139px,#805033 140px,#7b4d31 141px,#815033 143px,#8e5938 145px,#895637 146px,#7d4e32 147px,#7c4d31 148px,#8d5838 152px,#7c4e31 154px,#8b5737 159px,#805033 160px,#7c4e31 161px,#865435 165px,#7d4e32 168px,#855335 172px,#7d4e32 174px,#835234 179px,#7d4e32 181px,#815033 186px,#784b30 277px,#865435 447px,#845335 555px)"></i>
<i style="background:linear-gradient(90deg,#6f452c 0,#7e4f32 2px,#905a39 3px,#bb754a 4px,#c57b4e 5px,#794c30 6px,#70462d 7px,#774a2f 8px,#825134 9px,#975e3c 10px,#ca7f51 11px,#995f3d 12px,#73482e 13px,#72472d 14px,#865335 16px,#9f633f 17px,#db8957 18px,#865335 19px,#71462d 20px,#7c4e31 22px,#8a5637 23px,#c67c4f 25px,#7c4d31 26px,#71472d 27px,#7f5033 29px,#8f5939 30px,#b37047 31px,#9a603d 32px,#764a2f 33px,#73482e 34px,#794b30 35px,#825134 36px,#945d3b 37px,#bf784c 38px,#875436 39px,#72472e 40px,#74492e 41px,#865335 43px,#9a603d 44px,#c47a4e 45px,#7d4e32 46px,#72472d 47px,#7d4e32 49px,#895637 50px,#a16540 51px,#9a603d 52px,#784b30 53px,#73482e 54px,#784b30 55px,#8d5838 57px,#a96a43 58px,#885536 59px,#74482e 60px,#74492e 61px,#825134 63px,#915b3a 64px,#b26f47 65px,#7f4f32 66px,#73482e 67px,#7c4d31 69px,#855335 70px,#955d3b 71px,#99603d 72px,#794c30 73px,#73482e 74px,#7e4e32 76px,#875536 77px,#9a603d 78px,#75492f 80px,#74492e 81px,#7f5033 83px,#8a5637 84px,#a06440 85px,#7f5033 86px,#73482e 87px,#7a4c31 89px,#975e3c 92px,#7a4c30 93px,#73482e 94px,#7c4d31 96px,#905a39 98px,#885536 99px,#764a2f 100px,#74492e 101px,#7d4e32 103px,#945c3b 105px,#805033 106px,#74482e 107px,#75492f 108px,#7f4f32 110px,#945d3b 112px,#7a4c31 113px,#73482e 114px,#7a4c31 116px,#895637 118px,#875436 119px,#774a2f 120px,#74482e 121px,#7b4d31 123px,#8c5738 125px,#74492e 127px,#74492e 128px,#7c4e31 130px,#8d5838 132px,#7a4c31 133px,#74482e 134px,#845335 139px,#774b2f 140px,#74492e 141px,#835234 145px,#764a2f 147px,#75492f 148px,#825134 152px,#75492f 154px,#7f4f33 159px,#76492f 161px,#7d4e32 165px,#764a2f 168px,#7c4e31 172px,#764a2f 174px,#7b4d31 179px,#764a2f 181px,#71462d 277px,#7b4d31 447px,#764a2f 555px)"></i>
<i style="background:linear-gradient(90deg,#6a422a 0,#794b30 2px,#885536 3px,#aa6a44 4px,#9d623e 5px,#71462d 6px,#6c432b 7px,#72472d 8px,#7c4d31 9px,#8d5838 10px,#b67249 11px,#865335 12px,#6d442b 13px,#6e452c 14px,#7f5033 16px,#935c3b 17px,#c47b4e 18px,#7a4c31 19px,#6c432b 20px,#774a2f 22px,#835234 23px,#9a603d 24px,#9c623e 25px,#73482e 26px,#6d442b 27px,#7a4c30 29px,#875436 30px,#a16540 31px,#6f452c 33px,#6e452c 34px,#7c4e31 36px,#8b5737 37px,#aa6a44 38px,#7c4d31 39px,#6d442b 40px,#764a2f 42px,#9b613e 45px,#75492e 46px,#6d442b 47px,#784b30 49px,#825134 50px,#935c3b 51px,#875436 52px,#70462d 53px,#6e452c 54px,#7a4c31 56px,#855335 57px,#985f3d 58px,#7c4e31 59px,#6e452c 60px,#7c4d31 63px,#985f3c 65px,#764a2f 66px,#6e452c 67px,#764a2f 69px,#8a5637 71px,#865435 72px,#71472d 73px,#6e452c 74px,#784b30 76px,#8d5838 78px,#6f452c 80px,#6f462c 81px,#794c30 83px,#915a3a 85px,#774a2f 86px,#6e452c 87px,#75492e 89px,#845335 91px,#855335 92px,#72472d 93px,#6e452c 94px,#764a2f 96px,#865435 98px,#6f462c 100px,#6f452c 101px,#774b2f 103px,#885536 105px,#774a2f 106px,#6e452c 107px,#835234 112px,#73482e 113px,#6e452c 114px,#815133 118px,#7c4d31 119px,#70462c 120px,#6f452c 121px,#825134 125px,#6e452c 127px,#72472d 129px,#815133 132px,#73482e 133px,#6e452c 134px,#7c4d31 138px,#6f452c 141px,#7c4d31 145px,#6f462c 147px,#7b4d31 152px,#6f462c 154px,#774a2f 159px,#70462c 161px,#764a2f 165px,#70462d 167px,#75492f 172px,#70462d 174px,#74482e 179px,#6b432a 277px,#72472d 447px,#6a432a 555px)"></i>
<i style="background:linear-gradient(90deg,#664029 0,#74492e 2px,#825134 3px,#9d623e 4px,#875436 5px,#6a422a 6px,#684129 7px,#774a2f 9px,#865435 10px,#a66842 11px,#7a4c30 12px,#674029 13px,#69422a 14px,#7a4c31 16px,#8a5637 17px,#a26540 18px,#71472d 19px,#674029 20px,#72482e 22px,#7d4e32 23px,#8f5939 24px,#875436 25px,#6c432b 26px,#68412a 27px,#75492e 29px,#805033 30px,#955d3b 31px,#7b4d31 32px,#69412a 33px,#6a422a 34px,#774a2f 36px,#835234 37px,#9a603d 38px,#73482e 39px,#684129 40px,#71472d 42px,#865435 44px,#865435 45px,#6d442c 46px,#69412a 47px,#73482e 49px,#8a5637 51px,#6a422a 53px,#6a422a 54px,#75492f 56px,#8d5838 58px,#74482e 59px,#68412a 60px,#70462c 62px,#855335 65px,#6f452c 66px,#69422a 67px,#71472d 69px,#835234 71px,#7b4d31 72px,#6b432b 73px,#6a422a 74px,#73482e 76px,#855335 78px,#69422a 80px,#6f452c 82px,#835234 85px,#6f462c 86px,#69422a 87px,#70462d 89px,#7d4e32 91px,#7a4c31 92px,#6c432b 93px,#6a422a 94px,#7f4f33 98px,#6a422a 100px,#6a422a 101px,#805033 105px,#70462c 106px,#69422a 107px,#794c30 111px,#794c30 112px,#6c442b 113px,#69422a 114px,#7a4d31 118px,#6a422a 120px,#6a422a 121px,#7b4d31 125px,#69412a 127px,#784b30 132px,#6c442b 133px,#69422a 134px,#764a2f 138px,#6b432a 140px,#6a422a 141px,#75492f 145px,#6a422a 147px,#74482e 152px,#6a422a 154px,#71472d 158px,#6b432a 161px,#71462d 165px,#6b432a 167px,#70462c 172px,#6b432a 174px,#653f28 277px,#69422a 447px,#603c26 555px)"></i>
<i style="background:linear-gradient(90deg,#623d27 0,#70462d 2px,#7c4e31 3px,#935c3a 4px,#643e28 6px,#643e28 7px,#73482e 9px,#805033 10px,#99603d 11px,#70462d 12px,#623d27 13px,#6c432b 15px,#845234 17px,#895637 18px,#6a422a 19px,#633e27 20px,#6e452c 22px,#875536 24px,#7b4d31 25px,#664028 26px,#643f28 27px,#70462d 29px,#8b5737 31px,#72472d 32px,#633e28 33px,#6b432b 35px,#885536 38px,#6b432b 39px,#643e28 40px,#6d442b 42px,#805033 44px,#7a4d31 45px,#674029 46px,#653f28 47px,#6f452c 49px,#825234 51px,#653f28 53px,#664028 54px,#70462d 56px,#855335 58px,#6c442b 59px,#643f28 60px,#6b432b 62px,#7b4d31 64px,#7a4c30 65px,#684129 66px,#653f28 67px,#6d442b 69px,#7c4e32 71px,#653f28 73px,#653f28 74px,#6e452c 76px,#7e4f32 78px,#6d442b 79px,#643f28 80px,#794b30 85px,#69422a 86px,#653f28 87px,#784b30 91px,#664029 93px,#653f28 94px,#794c30 98px,#643f28 100px,#774b30 105px,#69422a 106px,#643f28 107px,#74492e 111px,#71472d 112px,#664029 113px,#653f28 114px,#75492f 118px,#653f28 120px,#653f28 121px,#764a2f 125px,#69422a 126px,#643f28 127px,#71462d 131px,#70462d 132px,#674029 133px,#653f28 134px,#71462d 138px,#653f28 140px,#70462d 145px,#653f28 147px,#6d442b 152px,#653f28 154px,#6c442b 158px,#664028 161px,#6b432b 165px,#663f28 167px,#6a422a 172px,#664028 174px,#603c26 277px,#623d27 447px,#573623 555px)"></i>
<i style="background:linear-gradient(90deg,#5f3b26 0,#6c442b 2px,#895536 4px,#70462d 5px,#5f3b26 6px,#613c26 7px,#6f452c 9px,#8b5737 11px,#69422a 12px,#5f3b26 13px,#68412a 15px,#7d4e32 17px,#7b4d31 18px,#643e28 19px,#603c26 20px,#6a422a 22px,#805033 24px,#613c27 26px,#613d27 27px,#6c442b 29px,#825234 31px,#6a422a 32px,#603c26 33px,#7a4c31 38px,#653f28 39px,#603c26 40px,#69422a 42px,#7a4c30 44px,#71472d 45px,#623d27 46px,#613d27 47px,#6a432a 49px,#7c4d31 51px,#603c26 53px,#664029 55px,#794b30 58px,#664029 59px,#603c26 60px,#75492f 64px,#71472d 65px,#633e27 66px,#613d27 67px,#764a2f 71px,#613d27 73px,#623d27 74px,#774a2f 78px,#674029 79px,#613c26 80px,#71472d 84px,#70462d 85px,#633e28 86px,#613d27 87px,#72472d 91px,#613d27 93px,#613d27 94px,#73482e 98px,#603c26 100px,#6f452c 105px,#643e28 106px,#613c26 107px,#6f452c 111px,#623d27 113px,#613d27 114px,#70462c 118px,#603c26 120px,#6e452c 125px,#643e28 126px,#603c26 127px,#6c432b 131px,#613c26 134px,#6b432b 138px,#613c26 140px,#6b432a 145px,#613c26 147px,#684129 151px,#613d27 154px,#674029 158px,#613d27 160px,#664029 165px,#613d27 167px,#653f28 172px,#5b3924 277px,#5b3924 447px,#4f311f 555px)"></i>
<i style="background:linear-gradient(90deg,#5d3a25 0,#68412a 2px,#805033 4px,#68412a 5px,#5c3924 6px,#633e27 8px,#7b4d31 11px,#633e27 12px,#5c3a25 13px,#653f28 15px,#774a2f 17px,#70462d 18px,#5f3b26 19px,#5d3a25 20px,#674029 22px,#794b30 24px,#5d3a25 26px,#5e3b25 27px,#794c30 31px,#643e28 32px,#5d3a25 33px,#643e28 35px,#72472d 37px,#70462d 38px,#603c26 39px,#5d3a25 40px,#74482e 44px,#5e3b25 46px,#5e3b25 47px,#75492f 51px,#653f28 52px,#5d3a25 53px,#6f462c 58px,#613d27 59px,#5d3a25 60px,#6f462c 64px,#5e3b26 66px,#5e3b25 67px,#71462d 71px,#5d3a25 73px,#6e452c 78px,#613d27 79px,#5d3a25 80px,#6c442b 84px,#69412a 85px,#5f3b26 86px,#5e3b25 87px,#6d442b 91px,#5d3a25 93px,#5e3b25 94px,#6d442b 98px,#613d27 99px,#5d3a25 100px,#69422a 104px,#5d3a25 107px,#6a422a 111px,#5d3a25 113px,#5d3a25 114px,#6a422a 118px,#5d3a25 120px,#664029 124px,#674029 125px,#5d3a25 127px,#674029 131px,#5d3a25 134px,#664029 138px,#5d3a25 140px,#653f28 145px,#5d3a25 147px,#633e27 151px,#5d3a25 154px,#623e27 158px,#5d3a25 160px,#623d27 165px,#5d3a25 167px,#573623 277px,#553522 447px,#472d1c 555px)"></i>
<i style="background:linear-gradient(90deg,#5a3824 0,#653f28 2px,#784b30 4px,#623d27 5px,#593723 6px,#603c26 8px,#6f452c 10px,#70462c 11px,#5e3a25 12px,#593824 13px,#623d27 15px,#71472d 17px,#5b3924 19px,#5a3824 20px,#633e27 22px,#73482e 24px,#633e27 25px,#593824 26px,#6f452c 31px,#5f3b26 32px,#5a3824 33px,#6d442b 37px,#684129 38px,#5c3924 39px,#5a3924 40px,#6e452c 44px,#5a3824 46px,#5e3b26 48px,#6e452c 51px,#5f3b26 52px,#5a3824 53px,#69422a 57px,#5a3824 60px,#6a422a 64px,#5a3924 66px,#5b3924 67px,#6b432b 71px,#5a3824 73px,#674029 78px,#5d3a25 79px,#5a3824 80px,#674129 84px,#5b3924 86px,#5a3924 87px,#684129 91px,#5a3824 93px,#664029 98px,#5a3824 100px,#643f28 104px,#5a3824 107px,#653f28 111px,#593824 113px,#653f28 118px,#593824 120px,#623d27 124px,#593824 127px,#623d27 131px,#593824 133px,#623d27 138px,#593823 140px,#5f3b26 145px,#593824 147px,#5f3b26 151px,#5a3824 154px,#5e3b25 158px,#593824 160px,#5d3a25 165px,#533421 277px,#4f311f 447px,#41291a 555px)"></i>
<i style="background:linear-gradient(90deg,#583723 0,#6f452c 4px,#5c3a25 5px,#563622 6px,#6a422a 10px,#674129 11px,#593823 12px,#573623 13px,#6c432b 17px,#573623 19px,#583723 20px,#6d442b 24px,#5d3a25 25px,#563622 26px,#674029 30px,#674029 31px,#5a3824 32px,#573623 33px,#684129 37px,#583723 39px,#583723 40px,#69422a 44px,#573623 46px,#664029 51px,#5a3824 52px,#573623 53px,#653f28 57px,#583723 59px,#573723 60px,#664028 64px,#573623 66px,#653f28 71px,#5b3924 72px,#573623 73px,#623d27 77px,#573623 80px,#633e27 84px,#573623 86px,#573723 87px,#633e27 91px,#573622 93px,#603c26 97px,#573622 100px,#603c26 104px,#573623 107px,#613c26 111px,#563622 113px,#5f3b26 118px,#563622 120px,#5e3b25 124px,#563622 127px,#5e3b25 131px,#563622 133px,#5d3a25 138px,#563622 140px,#5b3924 144px,#563622 147px,#5b3924 151px,#563622 153px,#5a3824 158px,#563622 160px,#4a2e1d 447px,#3b2518 555px)"></i>
<i style="background:linear-gradient(90deg,#553522 0,#664029 4px,#583723 5px,#543421 6px,#664028 10px,#553522 12px,#543522 13px,#674029 17px,#543421 19px,#663f28 24px,#583723 25px,#543421 26px,#633e27 30px,#543522 33px,#633e28 37px,#543522 39px,#553522 40px,#643f28 44px,#593723 45px,#543421 46px,#603c26 50px,#5f3c26 51px,#563622 52px,#543522 53px,#613c26 57px,#553522 59px,#553522 60px,#613d27 64px,#543421 66px,#5f3b26 71px,#543421 73px,#5e3b25 77px,#543521 80px,#5f3b26 84px,#543421 86px,#5e3b25 91px,#543421 93px,#5c3925 97px,#543421 100px,#5c3a25 104px,#543421 107px,#5c3a25 111px,#533421 113px,#5a3824 117px,#533421 120px,#5a3824 124px,#533421 127px,#5a3824 131px,#533421 133px,#583723 138px,#533421 140px,#573723 144px,#533421 147px,#573623 151px,#533421 153px,#563622 158px,#523421 160px,#452b1c 447px,#362216 555px)"></i>
<i style="background:linear-gradient(90deg,#533421 0,#603c26 3px,#5f3c26 4px,#533421 5px,#513320 6px,#613d27 10px,#523320 12px,#523321 13px,#623d27 17px,#513320 19px,#5f3b26 24px,#543521 25px,#513320 26px,#5e3b26 30px,#523321 32px,#523320 33px,#5f3c26 37px,#513320 39px,#5e3b25 44px,#513320 46px,#5c3925 50px,#513320 53px,#5d3a25 57px,#513320 59px,#523321 60px,#5d3a25 64px,#513320 66px,#5a3824 70px,#513320 73px,#5a3824 77px,#513320 80px,#5b3924 84px,#513220 86px,#583723 91px,#513220 93px,#583723 97px,#513220 100px,#583723 104px,#503220 106px,#573723 111px,#503220 113px,#563622 117px,#503220 120px,#563622 124px,#503220 127px,#563622 131px,#503220 133px,#543521 137px,#503220 140px,#543421 144px,#503220 146px,#533421 151px,#4f3220 153px,#41291a 447px,#321f14 555px)"></i>
<i style="background:linear-gradient(90deg,#503220 0,#5c3a25 3px,#503220 5px,#4f311f 6px,#5d3a25 10px,#4e311f 12px,#5d3a25 17px,#523421 18px,#4e311f 19px,#5a3824 23px,#4f311f 26px,#5b3924 30px,#4f311f 32px,#4f311f 33px,#5b3924 37px,#4e311f 39px,#583723 44px,#4f311f 46px,#583723 50px,#4f311f 53px,#593723 57px,#4e311f 59px,#573723 64px,#4e311f 66px,#563622 70px,#4e311f 73px,#573622 77px,#4e311f 79px,#563622 84px,#4e311f 86px,#543522 90px,#4e311f 93px,#553522 97px,#4e311f 100px,#553522 104px,#4d301f 106px,#533421 111px,#4d301f 113px,#533421 117px,#4d301f 120px,#533421 124px,#4d301f 126px,#523321 131px,#4d301f 133px,#503220 144px,#4d301f 146px,#503220 151px,#3d2618 447px,#2e1d12 555px)"></i>
<i style="background:linear-gradient(90deg,#4e301f 0,#593723 3px,#4c301e 5px,#4c301e 6px,#593824 10px,#4c2f1e 12px,#573723 17px,#4c2f1e 19px,#563622 23px,#4c301e 26px,#573623 30px,#4c2f1e 32px,#573622 37px,#4c2f1e 39px,#543522 43px,#4c301e 46px,#553522 50px,#4c301e 53px,#553522 57px,#4c2f1e 59px,#533421 64px,#4c2f1e 66px,#533421 70px,#4c2f1e 73px,#533421 77px,#4b2f1e 79px,#523321 84px,#4b2f1e 86px,#513320 90px,#4b2f1e 93px,#513320 97px,#4b2f1e 99px,#513320 104px,#4b2f1e 106px,#503220 117px,#4b2f1e 120px,#503220 124px,#4a2e1e 126px,#4d301f 144px,#4a2e1d 146px,#3a2417 447px,#2a1a11 555px)"></i>
<i style="background:linear-gradient(90deg,#4b2f1e 0,#553522 3px,#492e1d 5px,#4a2e1d 6px,#563622 10px,#492e1d 12px,#523321 16px,#492e1d 19px,#533421 23px,#4a2e1d 26px,#533421 30px,#492e1d 32px,#523321 37px,#492e1d 39px,#513320 43px,#4a2e1d 46px,#513320 50px,#492e1d 52px,#513320 57px,#492e1d 59px,#4f3220 63px,#492e1d 66px,#503220 70px,#492e1d 73px,#503220 77px,#492e1d 79px,#4e311f 83px,#492e1d 86px,#4e311f 90px,#492e1d 93px,#4e311f 97px,#482d1d 99px,#4d301f 104px,#482d1d 106px,#4d301e 117px,#482d1d 119px,#4c301e 124px,#482d1d 126px,#4a2f1e 144px,#362216 447px,#27180f 555px)"></i>
<i style="background:linear-gradient(90deg,#492d1d 0,#523320 3px,#472c1c 5px,#513320 10px,#472c1c 12px,#4f3120 16px,#472c1c 19px,#503220 23px,#472d1c 26px,#503220 30px,#472c1c 32px,#4e311f 36px,#472c1c 39px,#4e311f 43px,#472d1c 46px,#4e311f 50px,#472c1c 52px,#4d301f 57px,#472c1c 59px,#4c301e 63px,#472c1c 66px,#4d301f 70px,#472c1c 72px,#4c301e 77px,#462c1c 79px,#4b2f1e 90px,#472c1c 93px,#4b2f1e 97px,#462c1c 99px,#4a2e1d 117px,#452b1c 119px,#482d1d 137px,#332014 447px,#24160e 555px)"></i>
<i style="background:linear-gradient(90deg,#462c1c 0,#4e311f 3px,#442b1b 5px,#4c301e 10px,#452b1b 12px,#4c301e 16px,#452b1b 19px,#4d301e 23px,#452b1b 25px,#4c2f1e 30px,#452b1b 32px,#4b2f1e 36px,#452b1b 39px,#4b2f1e 43px,#452b1b 46px,#4b2f1e 50px,#442b1b 52px,#4a2e1d 63px,#452b1b 66px,#4a2e1d 70px,#442b1b 72px,#482d1d 90px,#442a1b 92px,#482d1d 97px,#442a1b 99px,#472c1c 117px,#432a1b 119px,#3c2618 277px,#311e13 447px,#21150d 555px)"></i>
<i style="background:linear-gradient(90deg,#442b1b 0,#4b2f1e 3px,#42291a 5px,#492e1d 9px,#422a1a 12px,#492e1d 16px,#432a1b 19px,#4a2e1d 23px,#42291a 25px,#482d1d 30px,#422a1a 32px,#482d1d 36px,#432a1b 39px,#482d1d 43px,#42291a 45px,#472d1c 50px,#42291a 52px,#472c1c 56px,#42291a 59px,#472c1c 63px,#42291a 65px,#472c1c 70px,#42291a 72px,#462c1c 90px,#42291a 92px,#442b1b 110px,#3a2417 277px,#2e1d12 447px,#1f130c 555px)"></i>
<i style="background:linear-gradient(90deg,#42291a 0,#472c1c 3px,#40281a 5px,#462c1c 9px,#40281a 12px,#472c1c 16px,#40281a 18px,#462c1c 23px,#40281a 25px,#452b1c 29px,#40281a 32px,#452b1c 36px,#40281a 39px,#462b1c 43px,#40281a 45px,#442b1b 50px,#40281a 52px,#442b1b 56px,#40281a 59px,#442b1b 63px,#402819 65px,#442a1b 70px,#402819 72px,#432a1b 76px,#402819 79px,#432a1b 83px,#402819 85px,#432a1b 90px,#3f2819 92px,#42291a 110px,#3f2719 112px,#41291a 130px,#3e2719 132px,#382316 277px,#2c1b11 447px,#1d120b 555px)"></i>
<i style="background:linear-gradient(90deg,#402819 0,#432a1b 3px,#3e2719 5px,#442a1b 9px,#3e2719 12px,#442a1b 16px,#3e2719 18px,#432a1b 23px,#3e2719 25px,#432a1b 29px,#3e2719 32px,#432a1b 36px,#3e2719 38px,#432a1a 43px,#3e2719 45px,#42291a 49px,#3e2719 52px,#42291a 56px,#3e2719 59px,#42291a 63px,#3e2719 65px,#41281a 76px,#3e2719 79px,#41291a 83px,#3e2618 85px,#402819 103px,#3d2618 105px,#402819 110px,#3d2618 112px,#3f2719 130px,#362216 277px,#2a1a11 447px,#1b110b 555px)"></i>
<i style="background:linear-gradient(90deg,#3e2719 0,#41291a 2px,#3c2618 5px,#41291a 9px,#3c2618 12px,#41291a 16px,#3c2618 18px,#402819 22px,#3c2618 25px,#40281a 29px,#3c2618 32px,#40281a 36px,#3c2618 38px,#402819 43px,#3c2618 45px,#3f2819 56px,#3c2518 58px,#3f2719 63px,#3c2518 65px,#3f2719 83px,#3c2518 85px,#3e2719 103px,#3b2518 105px,#3d2618 123px,#352115 277px,#281910 447px,#19100a 555px)"></i>
<i style="background:linear-gradient(90deg,#3c2518 0,#3e2719 2px,#3a2417 5px,#3f2719 9px,#3a2417 11px,#3e2719 16px,#3a2417 18px,#3e2719 22px,#3a2417 25px,#3e2719 29px,#3a2417 31px,#3e2719 36px,#3a2417 38px,#3d2618 49px,#3a2417 52px,#3d2618 56px,#3a2417 58px,#3c2618 76px,#3a2417 78px,#3b2518 103px,#332014 277px,#26180f 447px,#170f09 555px)"></i>
<i style="height:2px;background:linear-gradient(90deg,#392317 0,#3b2518 2px,#372316 5px,#3b2518 9px,#372316 11px,#3b2517 22px,#372316 25px,#3b2517 29px,#372316 31px,#3a2417 49px,#372316 51px,#392417 76px,#311e13 277px,#23160e 447px,#150d08 555px)"></i>
<i style="height:2px;background:linear-gradient(90deg,#352115 0,#362115 69px,#2e1d12 277px,#20140d 447px,#130c07 555px)"></i>
<i style="height:2px;background:linear-gradient(90deg,#321f14 0,#2b1b11 277px,#1e120c 447px,#110a07 555px)"></i>
<i style="height:2px;background:linear-gradient(90deg,#2e1d12 0,#291a10 277px,#0f0906 555px)"></i>
<i style="height:2px;background:linear-gradient(90deg,#2b1b11 0,#27180f 277px,#0d0805 555px)"></i>
<i style="height:2px;background:linear-gradient(90deg,#281910 0,#25170f 277px,#0c0705 555px)"></i>
<i style="height:2px;background:linear-gradient(90deg,#26180f 0,#23160e 277px,#0b0704 555px)"></i>
<i style="height:2px;background:linear-gradient(90deg,#23160e 0,#21150d 277px,#0a0604 555px)"></i>
<i style="background:linear-gradient(90deg,#21150d 0,#20140d 277px,#0b0704 533px,#0d0805 555px)"></i>
<i style="background:linear-gradient(90deg,#20140d 0,#1f130c 277px,#0b0704 530px,#0d0805 540px,#120b07 546px,#1c120b 551px,#2b1b11 555px)"></i>
<i style="background:linear-gradient(90deg,#1f140c 0,#1e130c 277px,#0c0805 524px,#140d08 534px,#1d120c 538px,#291910 541px,#392417 544px,#503220 547px,#6d442b 550px,#a36641 555px)"></i>
<i style="background:linear-gradient(90deg,#1e130c 0,#1d120c 277px,#0d0805 496px,#0e0805 514px,#170e09 523px,#23160e 527px,#321f14 530px,#3f2719 532px,#593823 535px,#be774b 544px,#e38e5a 548px,#fd9e65 552px,#ffa66a 555px)"></i>
<i style="background:linear-gradient(90deg,#1d120c 0,#1c120b 277px,#0e0906 502px,#180f09 511px,#24160e 515px,#332014 518px,#41291a 520px,#5d3a25 523px,#d08253 533px,#ea925d 536px,#fd9e65 539px,#ffad6e 546px,#ffb473 555px)"></i>
<i style="background:linear-gradient(90deg,#1d120b 0,#1c110b 277px,#0d0805 474px,#0f0906 491px,#130c07 496px,#1a100a 500px,#281910 504px,#392417 507px,#492e1d 509px,#674129 512px,#d28354 521px,#ed945e 524px,#ffa066 527px,#ffaa6c 531px,#ffb171 537px,#ffb774 555px)"></i>
<i style="background:linear-gradient(90deg,#1c110b 0,#1b110b 277px,#0e0906 463px,#0f0a06 479px,#1a100a 488px,#271910 492px,#382316 495px,#472d1c 497px,#653f28 500px,#bb754a 507px,#db8957 510px,#f49861 513px,#ffa066 515px,#ffac6d 520px,#ffb372 527px,#ffb875 555px)"></i>
<i style="background:linear-gradient(90deg,#1b110b 0,#1a100a 277px,#0e0906 451px,#100a06 467px,#1a100a 476px,#271810 480px,#372316 483px,#462c1c 485px,#633e27 488px,#b87349 495px,#d88756 498px,#ea925d 500px,#fe9f65 503px,#ffad6e 509px,#ffb372 516px,#ffb976 555px)"></i>
<i style="background:linear-gradient(90deg,#1f140d 0,#1b110b 2px,#1e130c 4px,#1b110b 6px,#1d120c 8px,#1a110b 15px,#1a100a 277px,#0f0906 431px,#100a06 454px,#150d08 460px,#1b110b 464px,#281910 468px,#382316 471px,#462c1c 473px,#623d27 476px,#d68655 486px,#f79a62 490px,#ffa167 492px,#ffae6f 498px,#ffb472 506px,#ffba76 555px)"></i>
<i style="background:linear-gradient(90deg,#25170f 0,#1d120b 1px,#1d120b 2px,#24160e 3px,#23160e 4px,#1c120b 5px,#1c120b 6px,#22150e 7px,#22150d 8px,#1c110b 9px,#1c110b 10px,#21150d 11px,#21140d 12px,#1c110b 13px,#1b110b 14px,#20140d 15px,#1b110b 17px,#1f130c 19px,#1b110b 21px,#1e120c 23px,#1a100a 29px,#19100a 277px,#0f0a06 419px,#110a07 441px,#1b110b 451px,#26180f 455px,#352115 458px,#492e1d 461px,#653f28 464px,#c0784d 472px,#de8b58 475px,#f59962 478px,#ffa066 480px,#ffad6e 486px,#ffb473 495px,#ffba77 555px)"></i>
<i style="background:linear-gradient(90deg,#20140d 0,#20140d 1px,#2e1d12 2px,#2e1d12 3px,#1f140d 4px,#1f140c 5px,#2c1c12 6px,#2b1b11 7px,#1f130c 8px,#1e130c 9px,#2a1a11 10px,#291a10 11px,#1e130c 12px,#1e130c 13px,#281910 14px,#271810 15px,#1d120c 16px,#1d120c 17px,#26180f 18px,#25170f 19px,#1d120b 20px,#1c120b 21px,#24160e 22px,#24160e 23px,#1c120b 24px,#23160e 26px,#1c110b 28px,#21150d 30px,#1b110b 32px,#20140d 34px,#1b110b 36px,#1f130c 38px,#1a100a 41px,#1e130c 42px,#19100a 68px,#180f0a 277px,#110b07 429px,#1c120b 439px,#382316 446px,#5f3b26 451px,#d78756 462px,#ef965f 465px,#ffa166 468px,#ffae6f 475px,#ffb473 485px,#fb7 555px)"></i>
<i style="background:linear-gradient(90deg,#26180f 0,#3f2819 1px,#3f2719 2px,#25170f 3px,#25170f 4px,#3c2618 5px,#3c2518 6px,#24160e 7px,#24160e 8px,#392417 9px,#382316 10px,#23160e 11px,#23160e 12px,#362216 13px,#362115 14px,#22150d 15px,#22150d 16px,#332014 17px,#332014 18px,#21150d 19px,#21140d 20px,#311f13 21px,#301e13 22px,#20140d 23px,#20140d 24px,#2e1d12 25px,#2e1d12 26px,#1f140c 27px,#1f130c 28px,#2c1c12 29px,#2c1b11 30px,#1f130c 31px,#1e130c 32px,#2a1a11 33px,#291a10 34px,#1e130c 35px,#1e120c 36px,#281910 37px,#281910 38px,#1d120c 39px,#1d120c 40px,#26180f 41px,#26180f 42px,#1d120b 43px,#1c120b 44px,#24170f 45px,#24170e 46px,#1c110b 47px,#1c110b 48px,#23160e 49px,#23160e 50px,#1c110b 51px,#21150d 54px,#1b110b 55px,#20140d 57px,#1b110b 59px,#1f130c 61px,#1a100a 63px,#1e130c 65px,#1a100a 67px,#19100a 83px,#110b07 416px,#1e130c 427px,#2b1b11 431px,#3b2517 434px,#643e28 439px,#d18353 449px,#eb935d 452px,#fd9e65 455px,#ffad6e 462px,#ffb473 473px,#ffbc78 555px)"></i>
<i style="background:linear-gradient(90deg,#563622 0,#553522 1px,#2c1c12 2px,#2c1c12 3px,#533421 4px,#523321 5px,#2b1b11 6px,#2b1b11 7px,#4f311f 8px,#4e311f 9px,#2a1a11 10px,#2a1a11 11px,#4c2f1e 12px,#4b2f1e 13px,#291a10 14px,#291910 15px,#492d1d 16px,#482d1d 17px,#281910 18px,#281910 19px,#452b1c 20px,#452b1b 21px,#27180f 22px,#27180f 23px,#42291a 24px,#42291a 25px,#26180f 26px,#26170f 27px,#3f2819 28px,#3f2719 29px,#25170f 30px,#25170f 31px,#3d2618 32px,#3c2518 33px,#24160e 34px,#24160e 35px,#3a2417 36px,#392417 37px,#23160e 38px,#23160e 39px,#372216 40px,#362216 41px,#22150e 42px,#22150d 43px,#352115 44px,#342115 45px,#21150d 46px,#21150d 47px,#321f14 48px,#321f14 49px,#20140d 50px,#20140d 51px,#301e13 52px,#2f1e13 53px,#20140d 54px,#1f140c 55px,#2e1d12 56px,#2d1c12 57px,#1f130c 58px,#1f130c 59px,#2c1b11 60px,#2b1b11 61px,#1e130c 62px,#1e130c 63px,#2a1a11 64px,#291a10 65px,#1e130c 66px,#1d120c 67px,#281910 68px,#281910 69px,#1d120c 70px,#1d120b 71px,#26180f 72px,#26180f 73px,#1c120b 74px,#1c120b 75px,#25170f 76px,#24170e 77px,#1c110b 78px,#1c110b 79px,#23160e 80px,#23160e 81px,#1b110b 82px,#1b110b 83px,#22150e 84px,#1b110b 86px,#21140d 88px,#1b110b 90px,#20140d 92px,#1a100a 95px,#1f130c 96px,#1a100a 98px,#1e130c 100px,#1a100a 102px,#1d120c 104px,#19100a 115px,#110b07 402px,#1b110b 413px,#26180f 417px,#382316 421px,#5f3b26 426px,#d58555 437px,#ff9f65 443px,#ffad6e 450px,#ffb473 462px,#ffbd78 555px)"></i>
<i style="background:linear-gradient(90deg,#6e452c 0,#352115 1px,#352115 2px,#6c432b 3px,#6b432b 4px,#342115 5px,#342015 6px,#69412a 7px,#684129 8px,#332014 9px,#332014 10px,#664028 11px,#653f28 12px,#321f14 13px,#321f14 14px,#633e27 15px,#623d27 16px,#311f13 17px,#311e13 18px,#603c26 19px,#5f3b26 20px,#301e13 21px,#2f1e13 22px,#5d3a25 23px,#5c3925 24px,#2f1d13 25px,#2f1d13 26px,#5a3824 27px,#593823 28px,#2e1d12 29px,#2d1c12 30px,#573623 31px,#563622 32px,#2d1c12 33px,#2c1c12 34px,#543421 35px,#533421 36px,#2c1b11 37px,#2c1b11 38px,#513320 39px,#503220 40px,#2b1b11 41px,#2a1b11 42px,#4e311f 43px,#4d301f 44px,#2a1a11 45px,#2a1a11 46px,#4b2f1e 47px,#4b2f1e 48px,#291910 49px,#291910 50px,#492d1d 51px,#482d1d 52px,#281910 53px,#281910 54px,#462c1c 55px,#452b1c 56px,#271810 57px,#27180f 58px,#432a1b 59px,#432a1b 60px,#26180f 61px,#26180f 62px,#41281a 63px,#40281a 64px,#25170f 65px,#25170f 66px,#3e2719 67px,#3e2719 68px,#24170e 69px,#24170e 70px,#3c2518 71px,#3b2518 72px,#24160e 73px,#23160e 74px,#3a2417 75px,#392417 76px,#23160e 77px,#23160e 78px,#372316 79px,#372216 80px,#22150e 81px,#22150d 82px,#352115 83px,#352115 84px,#21150d 85px,#21150d 86px,#332014 87px,#332014 88px,#21140d 89px,#20140d 90px,#311f14 91px,#311e13 92px,#20140d 93px,#20140d 94px,#2f1e13 95px,#2f1d13 96px,#1f140c 97px,#1f130c 98px,#2e1c12 99px,#2d1c12 100px,#1f130c 101px,#1f130c 102px,#2c1b11 103px,#2b1b11 104px,#1e130c 105px,#1e130c 106px,#2a1a11 107px,#2a1a11 108px,#1e120c 109px,#1d120c 110px,#291910 111px,#281910 112px,#1d120c 113px,#1d120c 114px,#271810 115px,#27180f 116px,#1d120b 117px,#1c120b 118px,#26180f 119px,#26170f 120px,#1c120b 121px,#1c120b 122px,#24170e 123px,#24160e 124px,#1c120b 125px,#1c120b 126px,#23160e 127px,#1c110b 129px,#21150d 131px,#1c110b 134px,#20140d 135px,#1c110b 137px,#1f140c 139px,#1b110b 141px,#19100a 183px,#110b07 389px,#1b110b 400px,#24170f 404px,#362215 408px,#643f28 414px,#d98756 425px,#f0965f 428px,#ffa066 431px,#ffae6f 438px,#ffb473 450px,#ffbd78 555px)"></i>
<i style="background:linear-gradient(90deg,#3d2618 0,#3c2618 1px,#835234 2px,#825134 3px,#3c2518 4px,#3c2518 5px,#805033 6px,#805033 7px,#3b2517 8px,#3b2517 9px,#7e4f32 10px,#7d4e32 11px,#3a2417 12px,#3a2417 13px,#7c4d31 14px,#7b4d31 15px,#392417 16px,#392417 17px,#794c30 18px,#794b30 19px,#392317 20px,#382316 21px,#774a2f 22px,#764a2f 23px,#382316 24px,#382316 25px,#75492e 26px,#74482e 27px,#372216 28px,#372216 29px,#72472d 30px,#72472d 31px,#362216 32px,#362215 33px,#70462c 34px,#6f452c 35px,#352115 36px,#352115 37px,#6d442c 38px,#6d442b 39px,#352115 40px,#342115 41px,#6b432b 42px,#6a432a 43px,#342015 44px,#342015 45px,#69412a 46px,#684129 47px,#332014 48px,#332014 49px,#664029 50px,#664029 51px,#321f14 52px,#321f14 53px,#643f28 54px,#643e28 55px,#311f14 56px,#311f14 57px,#623d27 58px,#613d27 59px,#311e13 60px,#301e13 61px,#603c26 62px,#5f3b26 63px,#301e13 64px,#301e13 65px,#5d3a25 66px,#5d3a25 67px,#2f1d13 68px,#2f1d13 69px,#5b3924 70px,#5b3924 71px,#2e1d12 72px,#2e1d12 73px,#593823 74px,#583723 75px,#2d1c12 76px,#2d1c12 77px,#573622 78px,#563622 79px,#2d1c12 80px,#2d1c12 81px,#543522 82px,#543421 83px,#2c1b12 84px,#2c1b11 85px,#523321 86px,#523321 87px,#2b1b11 88px,#2b1b11 89px,#503220 90px,#503220 91px,#2b1b11 92px,#2a1a11 93px,#4e311f 94px,#4e301f 95px,#2a1a11 96px,#2a1a11 97px,#4c301e 98px,#4c2f1e 99px,#291a10 100px,#291a10 101px,#4a2e1d 102px,#4a2e1d 103px,#281910 104px,#281910 105px,#482d1d 106px,#482d1c 107px,#281910 108px,#281910 109px,#462c1c 110px,#462b1c 111px,#271810 112px,#27180f 113px,#442b1b 114px,#442a1b 115px,#26180f 116px,#26180f 117px,#42291a 118px,#42291a 119px,#26180f 120px,#26180f 121px,#402819 122px,#3f2719 123px,#26180f 124px,#26180f 125px,#3d2618 126px,#3c2618 127px,#26180f 128px,#27180f 129px,#3a2517 130px,#3a2417 131px,#27180f 132px,#27180f 133px,#382316 134px,#372316 135px,#27180f 136px,#271810 137px,#352115 138px,#352115 139px,#271810 140px,#271810 141px,#332014 142px,#332014 143px,#271810 144px,#271810 145px,#311f14 146px,#311e13 147px,#271810 148px,#271810 149px,#2f1d13 150px,#2e1d13 151px,#271810 152px,#2d1c12 154px,#271810 156px,#2b1b11 158px,#27180f 160px,#1e130c 219px,#130c08 378px,#1f130c 389px,#3a2417 396px,#603c26 401px,#d48454 412px,#fe9f65 418px,#ffae6f 426px,#ffb473 438px,#ffbd79 555px)"></i>
<i style="background:linear-gradient(90deg,#41291a 0,#915b3a 1px,#915b3a 2px,#40281a 3px,#40281a 4px,#905a39 5px,#8f5939 6px,#402819 7px,#402819 8px,#8e5938 9px,#8d5838 10px,#3f2819 11px,#3f2719 12px,#8c5738 13px,#8b5737 14px,#3f2719 15px,#3e2719 16px,#8a5637 17px,#8a5637 18px,#3e2719 19px,#3e2719 20px,#885536 21px,#885536 22px,#3d2618 23px,#3d2618 24px,#875436 25px,#865435 26px,#3d2618 27px,#3d2618 28px,#855335 29px,#855335 30px,#3c2618 31px,#3c2618 32px,#835234 33px,#835234 34px,#3c2518 35px,#3c2518 36px,#825134 37px,#815133 38px,#3b2518 39px,#3b2518 40px,#805033 41px,#805033 42px,#3b2517 43px,#3b2517 44px,#7e4f32 45px,#7e4f32 46px,#3a2417 47px,#3a2417 48px,#7d4e32 49px,#7c4e32 50px,#3a2417 51px,#392417 52px,#7b4d31 53px,#7b4d31 54px,#392417 55px,#392417 56px,#7a4c30 57px,#794c30 58px,#392317 59px,#382316 60px,#784b30 61px,#784b30 62px,#382316 63px,#382316 64px,#774a2f 65px,#764a2f 66px,#372316 67px,#372316 68px,#75492f 69px,#75492e 70px,#372216 71px,#372216 72px,#74482e 73px,#73482e 74px,#362216 75px,#362216 76px,#72472d 77px,#72472d 78px,#362215 79px,#362215 80px,#71462d 81px,#70462d 82px,#352115 83px,#352115 84px,#6f452c 85px,#6f452c 86px,#352115 87px,#352115 88px,#6e452c 89px,#6d442c 90px,#342115 91px,#342115 92px,#6c442b 93px,#6c432b 94px,#342015 95px,#342015 96px,#6b432b 97px,#6b432a 98px,#332014 99px,#332014 100px,#69422a 101px,#69422a 102px,#332014 103px,#332014 104px,#684129 105px,#684129 106px,#322014 107px,#321f14 108px,#674029 109px,#664029 110px,#321f14 111px,#321f14 112px,#653f28 113px,#653f28 114px,#321f14 115px,#311f14 116px,#643f28 117px,#643e28 118px,#311f14 119px,#311f13 120px,#623d27 121px,#613d27 122px,#321f14 123px,#322014 124px,#5f3b26 125px,#5e3b25 126px,#342015 127px,#342015 128px,#5c3925 129px,#5b3924 130px,#352115 131px,#352115 132px,#593723 133px,#583723 134px,#362216 135px,#372216 136px,#563622 137px,#553522 138px,#382316 139px,#382316 140px,#533421 141px,#523321 142px,#392417 143px,#392417 144px,#503220 145px,#4f3120 146px,#3a2417 147px,#3a2417 148px,#4d301f 149px,#4c301e 150px,#3b2518 151px,#3b2518 152px,#4a2e1e 153px,#4a2e1d 154px,#3c2618 155px,#3c2618 156px,#482d1d 157px,#472c1c 158px,#3d2618 159px,#3d2618 160px,#452b1c 161px,#3e2719 163px,#432a1b 165px,#352115 235px,#25170f 366px,#2e1d12 376px,#462c1c 383px,#71462d 389px,#dc8958 400px,#f79b62 404px,#ffa166 406px,#ffaf70 415px,#ffb573 431px,#ff9f66 437px,#f39861 453px,#f79b62 555px)"></i>
<i style="background:linear-gradient(90deg,#925b3a 0,#925b3a 1px,#3f2819 2px,#3f2819 3px,#915a3a 4px,#905a39 5px,#3f2719 6px,#3f2719 7px,#8f5939 8px,#8e5939 9px,#3e2719 10px,#3e2719 11px,#8d5838 12px,#8d5838 13px,#3e2618 14px,#3d2618 15px,#8b5737 16px,#8b5737 17px,#3d2618 18px,#3d2618 19px,#8a5637 20px,#895637 21px,#3c2618 22px,#3c2618 23px,#885536 24px,#885536 25px,#3c2518 26px,#3c2518 27px,#875436 28px,#865435 29px,#3b2518 30px,#3b2518 31px,#855335 32px,#855335 33px,#3b2517 34px,#3b2517 35px,#835234 36px,#835234 37px,#3a2417 38px,#3a2417 39px,#825134 40px,#815134 41px,#3a2417 42px,#3a2417 43px,#805033 44px,#805033 45px,#392417 46px,#392417 47px,#7f4f33 48px,#7f4f32 49px,#392317 50px,#382316 51px,#7e4e32 52px,#7d4e32 53px,#382316 54px,#382316 55px,#7c4e31 56px,#7c4d31 57px,#382316 58px,#372316 59px,#7b4d31 60px,#7a4c31 61px,#372216 62px,#372216 63px,#794c30 64px,#794c30 65px,#372216 66px,#362216 67px,#784b30 68px,#784b30 69px,#362216 70px,#362215 71px,#774a2f 72px,#764a2f 73px,#362215 74px,#362115 75px,#75492f 76px,#75492f 77px,#352115 78px,#352115 79px,#74482e 80px,#74482e 81px,#352115 82px,#352115 83px,#73482e 84px,#72472e 85px,#342115 86px,#342115 87px,#71472d 88px,#71472d 89px,#342015 90px,#342015 91px,#70462d 92px,#70462d 93px,#332014 94px,#332014 95px,#6f452c 96px,#6f452c 97px,#332014 98px,#332014 99px,#6e452c 100px,#6d442c 101px,#322014 102px,#321f14 103px,#6d442b 104px,#6c442b 105px,#321f14 106px,#321f14 107px,#6b432b 108px,#6b432b 109px,#321f14 110px,#321f14 111px,#6a422a 112px,#6a422a 113px,#311f14 114px,#311f14 115px,#69422a 116px,#69412a 117px,#311f13 118px,#311e13 119px,#684129 120px,#674029 121px,#321f14 122px,#321f14 123px,#653f28 124px,#643e28 125px,#332014 126px,#342015 127px,#613d27 128px,#613c26 129px,#352115 130px,#352115 131px,#5e3b26 132px,#5e3a25 133px,#372216 134px,#372216 135px,#5b3924 136px,#5a3924 137px,#382316 138px,#392317 139px,#583723 140px,#573723 141px,#3a2417 142px,#3a2417 143px,#553522 144px,#553522 145px,#3b2518 146px,#3c2518 147px,#523321 148px,#523321 149px,#3d2618 150px,#3d2618 151px,#503220 152px,#4f311f 153px,#3e2719 154px,#3f2719 155px,#4d301f 156px,#4c301e 157px,#402819 158px,#402819 159px,#4a2e1e 160px,#492e1d 161px,#41291a 162px,#472d1c 164px,#42291a 166px,#2d1c12 348px,#342015 361px,#3e2719 366px,#4d301e 370px,#74482e 376px,#e28d5a 388px,#ffa066 393px,#ffaa6c 398px,#ffb171 405px,#ffb674 431px,#ffa368 433px,#f59962 434px,#c2794d 437px,#bb754a 447px,#bc764b 555px)"></i>
<i style="background:linear-gradient(90deg,#845335 0,#382316 1px,#382316 2px,#835234 3px,#825134 4px,#372316 5px,#372216 6px,#805033 7px,#805033 8px,#362216 9px,#362216 10px,#7e4f32 11px,#7e4e32 12px,#362115 13px,#352115 14px,#7c4d31 15px,#7b4d31 16px,#352115 17px,#352115 18px,#7a4c30 19px,#794c30 20px,#342015 21px,#342015 22px,#774b30 23px,#774a2f 24px,#332014 25px,#332014 26px,#75492f 27px,#75492e 28px,#321f14 29px,#321f14 30px,#73482e 31px,#72472e 32px,#311f14 33px,#311f14 34px,#71462d 35px,#70462d 36px,#301e13 37px,#301e13 38px,#6f452c 39px,#6e452c 40px,#301e13 41px,#2f1e13 42px,#6c442b 43px,#6c432b 44px,#2f1d13 45px,#2f1d13 46px,#6a422a 47px,#6a422a 48px,#2e1d12 49px,#2e1d12 50px,#684129 51px,#684129 52px,#2d1c12 53px,#2d1c12 54px,#664029 55px,#653f28 56px,#2c1c12 57px,#2c1c12 58px,#643e28 59px,#633e28 60px,#2c1b11 61px,#2b1b11 62px,#623d27 63px,#613d27 64px,#2b1b11 65px,#2b1b11 66px,#603c26 67px,#5f3b26 68px,#2a1a11 69px,#2a1a11 70px,#5e3a25 71px,#5d3a25 72px,#291a10 73px,#291a10 74px,#5b3924 75px,#5b3924 76px,#281910 77px,#281910 78px,#593824 79px,#593823 80px,#281910 81px,#271910 82px,#573723 83px,#573623 84px,#27180f 85px,#27180f 86px,#553522 87px,#553522 88px,#26180f 89px,#26180f 90px,#533421 91px,#533421 92px,#25170f 93px,#25170f 94px,#513320 95px,#513320 96px,#25170f 97px,#24170e 98px,#503220 99px,#4f311f 100px,#24160e 101px,#24160e 102px,#4e311f 103px,#4d301f 104px,#23160e 105px,#23160e 106px,#4c2f1e 107px,#4b2f1e 108px,#22160e 109px,#22150e 110px,#4a2e1d 111px,#492e1d 112px,#22150d 113px,#22150d 114px,#482d1d 115px,#482d1c 116px,#21150d 117px,#21150d 118px,#462c1c 119px,#462c1c 120px,#21140d 121px,#21150d 122px,#432a1b 123px,#422a1a 124px,#21150d 125px,#22150d 126px,#40281a 127px,#3f2819 128px,#22150e 129px,#22150e 130px,#3d2618 131px,#3c2618 132px,#23160e 133px,#23160e 134px,#3a2417 135px,#392417 136px,#23160e 137px,#23160e 138px,#372316 139px,#372216 140px,#24160e 141px,#24160e 142px,#352115 143px,#342015 144px,#24170e 145px,#24170e 146px,#321f14 147px,#311f14 148px,#24170e 149px,#24170e 150px,#301e13 151px,#2f1d13 152px,#25170f 153px,#25170f 154px,#2d1c12 155px,#2d1c12 156px,#25170f 157px,#2b1b11 159px,#25170f 161px,#291910 163px,#19100a 229px,#0f0a06 337px,#1a100a 350px,#25170f 354px,#372216 358px,#653f28 364px,#d68655 375px,#fe9f65 381px,#ffae6f 390px,#ffb573 406px,#fb7 555px)"></i>
<i style="background:linear-gradient(90deg,#2f1d13 0,#2e1d12 1px,#6c442b 2px,#6b432b 3px,#2d1c12 4px,#2d1c12 5px,#69422a 6px,#68412a 7px,#2c1c12 8px,#2c1b11 9px,#664029 10px,#653f28 11px,#2b1b11 12px,#2b1b11 13px,#633e27 14px,#623d27 15px,#2a1a11 16px,#2a1a11 17px,#603c26 18px,#5f3b26 19px,#291910 20px,#281910 21px,#5d3a25 22px,#5c3a25 23px,#271910 24px,#271810 25px,#5a3824 26px,#593823 27px,#26180f 28px,#26180f 29px,#573623 30px,#563622 31px,#25170f 32px,#25170f 33px,#543421 34px,#533421 35px,#24160e 36px,#24160e 37px,#513320 38px,#503220 39px,#23160e 40px,#23160e 41px,#4e311f 42px,#4d301f 43px,#22150d 44px,#21150d 45px,#4b2f1e 46px,#4a2f1e 47px,#21140d 48px,#20140d 49px,#482d1d 50px,#482d1d 51px,#20140d 52px,#1f140c 53px,#462b1c 54px,#452b1b 55px,#1e130c 56px,#1e130c 57px,#432a1b 58px,#42291a 59px,#1d120c 60px,#1d120c 61px,#402819 62px,#3f2819 63px,#1c120b 64px,#1c120b 65px,#3d2618 66px,#3d2618 67px,#1b110b 68px,#1b110b 69px,#3b2517 70px,#3a2417 71px,#1a100a 72px,#1a100a 73px,#382316 74px,#382316 75px,#19100a 76px,#19100a 77px,#362215 78px,#352115 79px,#180f0a 80px,#180f0a 81px,#332014 82px,#332014 83px,#170f09 84px,#170e09 85px,#311f13 86px,#301e13 87px,#160e09 88px,#160e09 89px,#2e1d12 90px,#2e1d12 91px,#160d09 92px,#150d08 93px,#2c1c12 94px,#2c1b11 95px,#150d08 96px,#140d08 97px,#2a1a11 98px,#291a11 99px,#140c08 100px,#140c08 101px,#281910 102px,#271910 103px,#130c08 104px,#130c07 105px,#26180f 106px,#25170f 107px,#120b07 108px,#120b07 109px,#24160e 110px,#23160e 111px,#110b07 112px,#110b07 113px,#22150e 114px,#22150d 115px,#110a07 116px,#110a07 117px,#20140d 118px,#20140d 119px,#100a06 120px,#100a06 121px,#1e130c 122px,#1e120c 123px,#100a06 124px,#100a06 125px,#1c110b 126px,#1b110b 127px,#100a06 128px,#100a06 129px,#1a100a 130px,#19100a 131px,#100a06 132px,#100a06 133px,#180f0a 134px,#180f09 135px,#0f0a06 136px,#0f0a06 137px,#160e09 138px,#0f0906 140px,#150d08 142px,#0f0906 144px,#130c08 146px,#0e0906 148px,#120b07 150px,#090604 198px,#070403 326px,#110b07 337px,#1c110b 341px,#2e1d12 345px,#5c3925 351px,#d98756 363px,#ff9f65 369px,#ffae6f 378px,#ffb473 393px,#ffc07a 555px)"></i>
<i style="background:linear-gradient(90deg,#25170f 0,#533421 1px,#523321 2px,#24160e 3px,#23160e 4px,#503220 5px,#4f311f 6px,#22150e 7px,#22150e 8px,#4c2f1e 9px,#4b2f1e 10px,#21150d 11px,#21140d 12px,#482d1d 13px,#482d1c 14px,#20140d 15px,#1f140c 16px,#452b1b 17px,#442b1b 18px,#1e130c 19px,#1e130c 20px,#42291a 21px,#41281a 22px,#1d120c 23px,#1d120b 24px,#3e2719 25px,#3d2618 26px,#1c110b 27px,#1b110b 28px,#3b2517 29px,#3a2417 30px,#1a100b 31px,#1a100a 32px,#382316 33px,#372216 34px,#19100a 35px,#19100a 36px,#352115 37px,#342015 38px,#180f0a 39px,#180f09 40px,#321f14 41px,#311f13 42px,#170e09 43px,#170e09 44px,#2f1d13 45px,#2e1d12 46px,#160e09 47px,#150d09 48px,#2c1b11 49px,#2b1b11 50px,#150d08 51px,#140d08 52px,#291a10 53px,#291910 54px,#140c08 55px,#130c08 56px,#27180f 57px,#26180f 58px,#130c07 59px,#120b07 60px,#24170e 61px,#23160e 62px,#120b07 63px,#110b07 64px,#22150d 65px,#21150d 66px,#110a07 67px,#100a07 68px,#1f140c 69px,#1f130c 70px,#100a06 71px,#100a06 72px,#1d120c 73px,#1d120b 74px,#0f0906 75px,#0f0906 76px,#1b110b 77px,#1b110b 78px,#0e0906 79px,#0e0906 80px,#19100a 81px,#190f0a 82px,#0d0805 83px,#0d0805 84px,#170f09 85px,#170e09 86px,#0d0805 87px,#0c0805 88px,#160e09 89px,#150d08 90px,#0c0705 91px,#0c0705 92px,#140d08 93px,#140c08 94px,#0b0705 95px,#0b0704 96px,#130c07 97px,#120b07 98px,#0b0704 99px,#0b0704 100px,#110b07 101px,#0a0604 103px,#100a06 106px,#0a0604 107px,#0f0906 109px,#090604 111px,#0e0905 113px,#090604 115px,#0d0805 117px,#080503 119px,#0c0705 121px,#080503 123px,#060402 160px,#050302 314px,#110b07 325px,#1d120c 329px,#311f13 333px,#613d27 339px,#d48454 350px,#f19760 354px,#ffa066 357px,#ffae6f 366px,#ffb473 382px,#ffc07a 555px)"></i>
<i style="background:linear-gradient(90deg,#3c2518 0,#3b2517 1px,#1b110b 2px,#1b110b 3px,#382316 4px,#372216 5px,#1a100a 6px,#19100a 7px,#342115 8px,#342015 9px,#180f0a 10px,#180f0a 11px,#311f14 12px,#301e13 13px,#170e09 14px,#170e09 15px,#2e1d12 16px,#2d1c12 17px,#160e09 18px,#150d09 19px,#2b1b11 20px,#2a1a11 21px,#140d08 22px,#140d08 23px,#281910 24px,#27180f 25px,#130c08 26px,#130c08 27px,#25170f 28px,#24170e 29px,#120b07 30px,#120b07 31px,#22150e 32px,#21150d 33px,#110b07 34px,#110b07 35px,#1f140d 36px,#1f130c 37px,#100a06 38px,#100a06 39px,#1d120c 40px,#1c120b 41px,#0f0a06 42px,#0f0906 43px,#1b110b 44px,#1a100a 45px,#0e0906 46px,#0e0906 47px,#190f0a 48px,#180f0a 49px,#0e0805 50px,#0d0805 51px,#170e09 52px,#0d0805 55px,#150d08 56px,#140d08 57px,#0c0805 58px,#0c0705 59px,#130c08 60px,#130c07 61px,#0b0705 62px,#120b07 64px,#0b0704 66px,#100a06 68px,#0a0604 70px,#0f0906 72px,#0a0604 74px,#0e0905 76px,#090604 78px,#0d0805 80px,#090503 82px,#070403 102px,#050302 302px,#110b07 313px,#2c1c12 320px,#523321 325px,#d88756 338px,#f39861 342px,#ffa167 345px,#ffaf6f 354px,#ffb473 371px,#ffc17b 555px)"></i>
<i style="background:linear-gradient(90deg,#281910 0,#140d08 1px,#140c08 2px,#25170f 3px,#25170f 4px,#130c08 5px,#130c07 6px,#22160e 7px,#22150d 8px,#120b07 9px,#110b07 10px,#20140d 11px,#1f130c 12px,#110a07 13px,#100a07 14px,#1d120c 15px,#1c120b 16px,#100a06 17px,#0f0a06 18px,#1b110b 19px,#1a100a 20px,#0f0906 21px,#0e0906 22px,#180f0a 23px,#180f09 24px,#0e0905 25px,#0e0805 26px,#160e09 27px,#160e09 28px,#0d0805 29px,#0d0805 30px,#140d08 31px,#140c08 32px,#0c0805 33px,#0c0805 34px,#130c07 35px,#0c0705 37px,#110b07 39px,#0b0704 41px,#100a06 43px,#0a0604 45px,#0e0906 47px,#090604 53px,#030201 238px,#060402 289px,#120b07 301px,#2b1b11 308px,#3f2719 311px,#593823 314px,#d18353 325px,#e9925d 328px,#ff9f65 332px,#ffaf6f 342px,#ffb473 359px,#ffc17b 555px)"></i>
<i style="background:linear-gradient(90deg,#0f0906 0,#0f0906 1px,#190f0a 2px,#180f0a 3px,#0e0906 4px,#0e0906 5px,#160e09 6px,#160e09 7px,#0d0805 8px,#0d0805 9px,#140d08 10px,#140c08 11px,#0d0805 12px,#130c07 14px,#0c0705 16px,#110b07 18px,#0b0704 20px,#0f0a06 22px,#0b0704 24px,#0e0906 26px,#0a0604 28px,#080503 48px,#060402 274px,#140c08 287px,#21140d 292px,#311f14 296px,#5a3924 302px,#c47a4e 312px,#df8b59 315px,#f99c63 319px,#ffa167 321px,#ffaf70 331px,#ffb473 350px,#ffc27b 555px)"></i>
<i style="background:linear-gradient(90deg,#0c0705 0,#110a07 1px,#100a07 2px,#0b0705 3px,#0f0a06 5px,#0b0704 7px,#0e0906 9px,#0a0604 11px,#0d0805 13px,#0a0604 15px,#0c0705 17px,#090604 19px,#070503 47px,#030201 235px,#050302 262px,#0a0604 268px,#120b07 273px,#1e130c 277px,#301e13 281px,#482d1c 285px,#653f28 289px,#dd8a58 303px,#f19760 306px,#ffa066 309px,#ffaa6c 314px,#ffaf6f 319px,#ffb473 338px,#ffbc78 431px,#ffc27b 555px)"></i>
<i style="background:linear-gradient(90deg,#0c0805 0,#090604 7px,#060403 67px,#050302 252px,#0e0906 261px,#1a100a 265px,#281910 268px,#4c301e 273px,#a66842 282px,#c87d50 286px,#e8915c 291px,#fe9f65 296px,#ffa96c 302px,#ffaf6f 308px,#ffb473 328px,#ffbd78 425px,#ffc27c 555px)"></i>
<i style="background:linear-gradient(90deg,#0a0604 0,#030201 221px,#040202 239px,#080503 247px,#140d08 254px,#21150d 257px,#2d1c12 259px,#4f3220 263px,#ae6d45 271px,#d68655 275px,#f19760 279px,#fe9f65 282px,#ffa167 283px,#ffaa6c 289px,#ffaf6f 296px,#ffb573 323px,#ffbd78 423px,#ffc27c 555px)"></i>
<i style="background:linear-gradient(90deg,#080503 0,#030201 217px,#070403 238px,#140c08 245px,#21140d 248px,#2d1c12 250px,#533421 254px,#ad6c45 261px,#d08253 264px,#f19660 268px,#ffa066 271px,#ffa96c 276px,#ffaf6f 283px,#ffb573 315px,#ffbd79 417px,#ffc37c 555px)"></i>
<i style="background:linear-gradient(90deg,#080503 0,#030201 211px,#080503 231px,#140d08 237px,#23160e 240px,#311f14 242px,#5b3924 246px,#ad6c45 252px,#d28354 255px,#ed945e 258px,#ff9f66 261px,#ffa86b 265px,#ffae6f 271px,#ffb472 292px,#ffbd78 402px,#ffc37c 555px)"></i>
<i style="background:linear-gradient(90deg,#080503 0,#030201 203px,#070403 223px,#130c07 229px,#21140d 232px,#2f1e13 234px,#4f311f 237px,#b47148 244px,#d88756 247px,#f99b63 251px,#fe9f65 252px,#ffa267 253px,#ffaa6c 257px,#ffaf70 263px,#ffb473 287px,#ffbe79 400px,#ffc37c 555px)"></i>
<i style="background:linear-gradient(90deg,#070503 0,#030201 197px,#070403 216px,#130c08 222px,#22150e 225px,#321f14 227px,#553522 230px,#b16f47 236px,#cd8051 238px,#ec945e 241px,#ffa066 244px,#ffa96c 248px,#ffaf6f 254px,#ffb573 280px,#ffbe79 397px,#ffc47d 555px)"></i>
<i style="background:linear-gradient(90deg,#070403 0,#030201 190px,#070403 209px,#130c08 215px,#22160e 218px,#332014 220px,#563622 223px,#b57148 229px,#d18353 231px,#f09660 234px,#fe9f65 236px,#ffa267 237px,#ffac6d 242px,#ffb070 248px,#ffb674 280px,#ffbf79 397px,#ffc47d 555px)"></i>
<i style="background:linear-gradient(90deg,#070403 0,#030201 184px,#040302 197px,#080503 203px,#0d0805 206px,#170e09 209px,#22150d 211px,#321f14 213px,#553522 216px,#b57148 222px,#d18353 224px,#e8915c 226px,#ff9f65 229px,#ffa96c 233px,#ffb070 240px,#ffb774 276px,#ffbf7a 394px,#ffc47d 555px)"></i>
<i style="background:linear-gradient(90deg,#070403 0,#030201 177px,#040302 189px,#080503 196px,#0d0805 199px,#170e09 202px,#21150d 204px,#301e13 206px,#452b1c 208px,#603c26 210px,#b26f47 215px,#db8957 218px,#f79b62 221px,#fe9f65 222px,#ffa267 223px,#ffac6d 228px,#ffb170 235px,#ffb875 277px,#ffc07a 395px,#ffc47d 555px)"></i>
<i style="background:linear-gradient(90deg,#060403 0,#030201 169px,#050302 182px,#090604 189px,#170e09 195px,#21150d 197px,#301e13 199px,#442a1b 201px,#5e3a25 203px,#bd764b 209px,#d88756 211px,#f59961 214px,#ffa167 216px,#ffab6d 221px,#ffb070 228px,#ffb875 273px,#ffc07a 391px,#ffc47d 555px)"></i>
<i style="background:linear-gradient(90deg,#060402 0,#030201 162px,#050302 175px,#0a0604 182px,#180f0a 188px,#291910 191px,#392417 193px,#5c3a25 196px,#b87349 202px,#d48454 204px,#e9925d 206px,#ff9f66 209px,#ffab6d 214px,#ffb070 221px,#ffb976 269px,#ffc07a 388px,#ffc57d 555px)"></i>
<i style="background:linear-gradient(90deg,#060402 0,#030201 154px,#050302 167px,#0a0604 174px,#170e09 180px,#25170f 183px,#342015 185px,#462c1c 187px,#5e3b25 189px,#b67248 195px,#dc8958 198px,#f69a62 201px,#ffa167 203px,#ffab6d 208px,#ffb070 216px,#ffba76 269px,#ffc17b 388px,#ffc57d 555px)"></i>
<i style="background:linear-gradient(90deg,#060402 0,#030201 147px,#050302 160px,#0b0704 167px,#1a100a 173px,#291a10 176px,#382316 178px,#633e28 182px,#d08253 190px,#ed945e 193px,#ffa066 196px,#ffaa6d 201px,#ffb070 210px,#ffba76 265px,#ffc17b 384px,#ffc57d 555px)"></i>
<i style="background:linear-gradient(90deg,#060302 0,#030201 139px,#050302 152px,#0b0704 159px,#19100a 165px,#281910 168px,#362215 170px,#5e3b25 174px,#bb754a 181px,#d28354 183px,#ed945e 186px,#ffa066 189px,#ffab6d 195px,#ffb070 203px,#ffba77 261px,#ffc17b 380px,#ffc57d 555px)"></i>
<i style="background:linear-gradient(90deg,#050302 0,#040201 132px,#050302 144px,#0b0704 151px,#190f0a 157px,#27180f 160px,#342015 162px,#5a3824 166px,#b37047 173px,#d68555 176px,#ef955f 179px,#ffa066 182px,#ffab6d 188px,#ffb070 197px,#fb7 259px,#ffc17b 378px,#ffc57e 555px)"></i>
<i style="background:linear-gradient(90deg,#050302 0,#040201 125px,#060402 137px,#0c0805 144px,#1c120b 150px,#2b1b11 153px,#3a2417 155px,#613d27 159px,#ad6c45 165px,#d08253 168px,#f19660 172px,#ffa066 175px,#ffaa6d 181px,#ffb070 191px,#fb7 256px,#ffc27b 375px,#ffc57e 555px)"></i>
<i style="background:linear-gradient(90deg,#050302 0,#040201 117px,#060402 129px,#0c0805 136px,#1b110b 142px,#2a1a11 145px,#382316 147px,#5d3a25 151px,#b37047 158px,#d48454 161px,#f39861 165px,#fd9e65 167px,#ffa166 168px,#ffaa6d 174px,#ffb070 184px,#ffbc78 254px,#ffc27c 373px,#ffc57e 555px)"></i>
<i style="background:linear-gradient(90deg,#050302 0,#040201 109px,#060402 121px,#0c0705 128px,#1a100a 134px,#352115 139px,#593823 143px,#b9744a 151px,#d88756 154px,#f59961 158px,#fe9f65 160px,#ffa167 161px,#ffab6d 168px,#ffb070 178px,#ffbc78 252px,#ffc57e 555px)"></i>
<i style="background:linear-gradient(90deg,#050302 0,#040201 102px,#060403 114px,#0d0805 121px,#1d120b 127px,#2c1b11 130px,#392417 132px,#5e3b26 136px,#b26f47 143px,#d28353 146px,#ea925d 149px,#ff9f66 153px,#ffaa6c 160px,#ffb070 170px,#ffbd78 246px,#ffc27c 365px,#ffc67e 555px)"></i>
<i style="background:linear-gradient(90deg,#050302 0,#040202 95px,#070403 107px,#0e0906 114px,#1f130c 120px,#2e1d12 123px,#3d2618 125px,#633e27 129px,#b67248 136px,#d48554 139px,#eb935e 142px,#ffa066 146px,#ffaa6c 153px,#ffb070 164px,#ffbd78 244px,#ffc37c 362px,#ffc67e 555px)"></i>
<i style="background:linear-gradient(90deg,#040302 0,#040202 89px,#070403 100px,#0f0906 107px,#1d120c 112px,#382316 117px,#5b3924 121px,#b87349 129px,#d68655 132px,#ec945e 135px,#ffa066 139px,#ffaa6c 146px,#ffb070 158px,#ffbd79 241px,#ffc37c 359px,#ffc67e 555px)"></i>
<i style="background:linear-gradient(90deg,#040302 0,#040202 83px,#070503 93px,#100a06 100px,#1f130c 105px,#3b2518 110px,#5f3b26 114px,#b9744a 122px,#d68655 125px,#ec945e 128px,#ffa066 132px,#ffaa6c 139px,#ffb070 152px,#ffbe79 239px,#ffc67e 555px)"></i>
<i style="background:linear-gradient(90deg,#040302 0,#040302 77px,#080503 87px,#100a06 93px,#1f140c 98px,#3d2618 103px,#613d27 107px,#b06e46 114px,#ce8052 117px,#ec935e 121px,#ff9f65 125px,#ffaa6c 133px,#ffb070 146px,#ffbe79 235px,#ffc67e 555px)"></i>
<i style="background:linear-gradient(90deg,#040202 0,#040202 70px,#070503 80px,#0f0906 86px,#1e130c 91px,#352115 95px,#573622 99px,#b06e46 107px,#d68655 111px,#f19660 115px,#fe9f65 118px,#ffa166 119px,#ffab6d 127px,#ffb170 142px,#ffbf79 235px,#ffc67e 555px)"></i>
<i style="background:linear-gradient(90deg,#040202 0,#040302 65px,#080503 74px,#100a06 80px,#20140d 85px,#392317 89px,#5d3a25 93px,#ad6c45 100px,#d48554 104px,#ef965f 108px,#ffa066 112px,#ffab6d 121px,#ffb170 136px,#ffbf7a 231px,#ffc67e 555px)"></i>
<i style="background:linear-gradient(90deg,#040201 0,#040302 60px,#080503 69px,#120b07 75px,#20140d 79px,#3a2417 83px,#553522 86px,#b37047 94px,#d08253 97px,#ed945e 101px,#ff9f65 105px,#ffaa6c 114px,#ffb070 129px,#ffbf7a 226px,#ffc67e 555px)"></i>
<i style="background:linear-gradient(90deg,#040201 0,#040302 54px,#090503 63px,#120b07 69px,#20140d 73px,#392317 77px,#5f3c26 81px,#b47148 88px,#d28454 91px,#ef955f 95px,#ffa066 99px,#ffaa6d 108px,#ffb171 126px,#ffbf7a 224px,#ffc67e 555px)"></i>
<i style="background:linear-gradient(90deg,#030201 0,#050302 49px,#0a0604 58px,#150d08 64px,#24170e 68px,#3f2719 72px,#5d3a25 75px,#b26f47 82px,#d18353 85px,#ef955f 89px,#ffa066 93px,#ffaa6d 102px,#ffb171 120px,#ffbf7a 221px,#ffc67e 555px)"></i>
<i style="background:linear-gradient(90deg,#030201 0,#050302 44px,#0a0604 52px,#150d08 58px,#24160e 62px,#3e2618 66px,#643f28 70px,#ad6c45 76px,#cd8052 79px,#ed945e 83px,#ff9f66 87px,#ffaa6c 96px,#ffb171 114px,#ffc07a 216px,#ffc67e 555px)"></i>
<i style="background:linear-gradient(90deg,#030201 0,#050302 39px,#0b0704 47px,#180f09 53px,#291910 57px,#3c2618 60px,#613d27 64px,#b37047 71px,#d28353 74px,#ef955f 78px,#ffa066 82px,#ffab6d 91px,#ffb271 111px,#ffc07a 213px,#ffc67e 555px)"></i>
<i style="background:linear-gradient(90deg,#030201 0,#060402 34px,#0b0704 41px,#170f09 47px,#2d1c12 52px,#4b2f1e 56px,#69422a 59px,#b97349 66px,#dd8a58 70px,#f69a62 74px,#ffa166 77px,#ffab6d 87px,#ffb272 108px,#ffc07a 210px,#ffc67e 555px)"></i>
<i style="background:linear-gradient(90deg,#030201 0,#060403 30px,#0d0805 37px,#1a100a 42px,#2c1b11 46px,#482d1d 50px,#653f28 53px,#be774c 61px,#d98756 64px,#ed945e 67px,#ff9f65 71px,#ffab6d 81px,#ffb271 100px,#ffc07a 200px,#ffc47d 287px,#ffc67e 555px)"></i>
<i style="background:linear-gradient(90deg,#030201 0,#070403 26px,#0e0906 32px,#1b110b 37px,#2f1d13 41px,#4d301f 45px,#6b432b 48px,#b97349 55px,#d48554 58px,#ef955f 62px,#ffa066 66px,#ffab6d 76px,#ffb271 96px,#ffc07a 195px,#ffc47d 285px,#ffc77e 555px)"></i>
<i style="background:linear-gradient(90deg,#030201 0,#080503 22px,#110a07 28px,#1d120b 32px,#311f14 36px,#482d1d 39px,#643f28 42px,#b26f47 49px,#d78656 53px,#f09660 57px,#ffa066 61px,#ffab6d 71px,#ffb272 92px,#ffc07a 187px,#ffc47d 281px,#ffc77e 555px)"></i>
<i style="background:linear-gradient(90deg,#030201 0,#090604 18px,#130c08 24px,#21150d 28px,#392417 32px,#533421 35px,#b57148 44px,#d18253 47px,#ec935e 51px,#ffa066 56px,#ffab6d 67px,#ffb372 89px,#ffc07a 182px,#ffc47d 280px,#ffc77e 555px)"></i>
<i style="background:linear-gradient(90deg,#030201 0,#0b0704 15px,#130c07 19px,#21150d 23px,#321f14 26px,#492e1d 29px,#674129 32px,#b67248 39px,#d28353 42px,#ec945e 46px,#ffa066 51px,#ffab6d 62px,#ffb372 86px,#ffc07a 176px,#ffc47d 278px,#ffc77f 555px)"></i>
<i style="background:linear-gradient(90deg,#040302 0,#080503 7px,#0e0905 12px,#180f0a 16px,#25170f 19px,#372216 22px,#513220 25px,#b57148 34px,#d18353 37px,#ec945e 41px,#ffa066 46px,#ffab6d 57px,#ffb472 82px,#ffc07a 170px,#ffc47d 276px,#ffc77f 555px)"></i>
<i style="background:linear-gradient(90deg,#060402 0,#110b07 9px,#1e130c 13px,#2e1d12 16px,#3c2618 18px,#573723 21px,#b26f47 29px,#cf8152 32px,#eb935e 36px,#ffa066 41px,#ffab6d 52px,#ffb472 77px,#ffc07a 163px,#ffc57d 273px,#ffc77f 555px)"></i>
<i style="background:linear-gradient(90deg,#090604 0,#180f0a 7px,#311f14 12px,#40281a 14px,#5d3a25 17px,#ad6c45 24px,#d48554 28px,#e38e5a 30px,#f39861 33px,#fe9f65 36px,#ffa166 37px,#ffac6d 49px,#ffb573 76px,#ffc07a 161px,#ffc57d 273px,#ffc77f 555px)"></i>
<i style="background:linear-gradient(90deg,#100a06 0,#1d120c 4px,#342015 8px,#563622 12px,#b26f47 20px,#cf8152 23px,#eb935e 27px,#ffa066 32px,#ffab6d 43px,#ffb472 68px,#ffc07a 154px,#ffc57d 270px,#ffc77f 555px)"></i>
<i style="background:linear-gradient(90deg,#1e130c 0,#352115 4px,#4f311f 7px,#b57148 16px,#d28353 19px,#ed945e 23px,#fa9c64 26px,#ffa066 28px,#ffab6d 39px,#ffb473 64px,#ffc07a 150px,#ffc57d 268px,#ffc77f 555px)"></i>
<i style="background:linear-gradient(90deg,#362115 0,#5a3824 4px,#ac6c44 11px,#d38454 15px,#e28d5a 17px,#f39861 20px,#fe9f65 23px,#ffa166 24px,#ffab6d 35px,#ffb473 60px,#ffc07a 146px,#ffc57e 266px,#ffc77f 555px)"></i>
<i style="background:linear-gradient(90deg,#5a3824 0,#ad6c45 7px,#d48454 11px,#e38e5a 13px,#f39861 16px,#fe9f65 19px,#ffa166 20px,#ffab6d 31px,#ffb473 56px,#ffc07a 142px,#ffc57e 264px,#ffc77f 555px)"></i>
<i style="background:linear-gradient(90deg,#875436 0,#b77249 4px,#db8957 8px,#f39861 12px,#fe9f65 15px,#ffa166 16px,#ffab6d 27px,#ffb473 51px,#ffc07b 137px,#ffc57e 262px,#ffc77f 555px)"></i>
<i style="background:linear-gradient(90deg,#b47148 0,#d28354 3px,#e8915c 6px,#f79a62 9px,#ffa166 12px,#ffab6d 23px,#ffb473 47px,#ffc07b 132px,#ffc57e 259px,#ffc77f 555px)"></i>
<i style="background:linear-gradient(90deg,#d88756 0,#f19760 4px,#ffa066 8px,#ffaa6c 17px,#ffb171 32px,#ffbd79 93px,#ffc57e 238px,#ffc77f 555px)"></i>
<i style="background:linear-gradient(90deg,#ef955f 0,#ff9f66 4px,#ffa86b 11px,#ffaf70 24px,#ffb976 57px,#ffbf7a 104px,#ffc57e 244px,#ffc77f 555px)"></i>
<i style="background:linear-gradient(90deg,#fe9e65 0,#ffaa6c 10px,#ffb472 32px,#ffc07b 114px,#ffc67e 248px,#ffc77f 555px)"></i>
<i style="background:linear-gradient(90deg,#ffa468 0,#ffae6f 13px,#ffb774 39px,#ffc17b 121px,#ffc67e 253px,#ffc77f 555px)"></i>
<i style="background:linear-gradient(90deg,#ffa86b 0,#ffb171 16px,#ffb976 44px,#ffc27c 126px,#ffc67e 256px,#ffc77f 555px)"></i>
<i style="height:2px;background:linear-gradient(90deg,#ffac6d 0,#ffba77 46px,#ffc37c 129px,#ffc77f 555px)"></i>
<i style="height:2px;background:linear-gradient(90deg,#ffaf70 0,#ffbc78 48px,#ffc37c 130px,#ffc77f 555px)"></i>
<i style="height:3px;background:linear-gradient(90deg,#ffb372 0,#ffbe79 48px,#ffc47d 130px,#ffc77f 555px)"></i>
<i style="height:3px;background:linear-gradient(90deg,#ffb674 0,#ffbf7a 48px,#ffc47d 130px,#ffc77f 555px)"></i>
<i style="height:4px;background:linear-gradient(90deg,#ffba76 0,#ffc17b 48px,#ffc57d 130px,#ffc77f 555px)"></i>
<i style="height:4px;background:linear-gradient(90deg,#ffbd78 0,#ffc27c 48px,#ffc57e 130px,#ffc77f 555px)"></i>
<i style="height:4px;background:linear-gradient(90deg,#ffbf7a 0,#ffc67e 130px,#ffc77f 555px)"></i>
</div>
<div class="p" style="left:776px;top:519px;width:574px;height:350px">
<i style="height:4px;background:linear-gradient(90deg,#1c120b 0,#180f0a 574px)"></i>
<i style="height:4px;background:linear-gradient(90deg,#1c110b 0,#170f09 574px)"></i>
<i style="height:4px;background:linear-gradient(90deg,#1b110b 0,#170e09 574px)"></i>
<i style="height:4px;background:linear-gradient(90deg,#1b110b 0,#160e09 574px)"></i>
<i style="height:4px;background:linear-gradient(90deg,#1a100a 0,#160e09 574px)"></i>
<i style="height:4px;background:linear-gradient(90deg,#19100a 0,#150d08 574px)"></i>
<i style="height:4px;background:linear-gradient(90deg,#190f0a 0,#140d08 574px)"></i>
<i style="height:4px;background:linear-gradient(90deg,#180f0a 0,#140c08 574px)"></i>
<i style="height:4px;background:linear-gradient(90deg,#170f09 0,#130c08 574px)"></i>
<i style="height:4px;background:linear-gradient(90deg,#170e09 0,#120c07 574px)"></i>
<i style="height:4px;background:linear-gradient(90deg,#160e09 0,#120b07 574px)"></i>
<i style="height:4px;background:linear-gradient(90deg,#160e09 0,#110b07 574px)"></i>
<i style="height:4px;background:linear-gradient(90deg,#150d08 0,#110a07 574px)"></i>
<i style="height:4px;background:linear-gradient(90deg,#140d08 0,#100a06 574px)"></i>
<i style="height:4px;background:linear-gradient(90deg,#140c08 0,#0f0a06 574px)"></i>
<i style="height:4px;background:linear-gradient(90deg,#130c08 0,#0f0906 574px)"></i>
<i style="height:4px;background:linear-gradient(90deg,#120c07 0,#0e0906 574px)"></i>
<i style="height:4px;background:linear-gradient(90deg,#120b07 0,#0d0805 574px)"></i>
<i style="height:4px;background:linear-gradient(90deg,#110b07 0,#0d0805 574px)"></i>
<i style="height:4px;background:linear-gradient(90deg,#110a07 0,#0c0805 574px)"></i>
<i style="height:4px;background:linear-gradient(90deg,#100a06 0,#0b0705 574px)"></i>
<i style="height:4px;background:linear-gradient(90deg,#0f0a06 0,#0b0704 574px)"></i>
<i style="height:4px;background:linear-gradient(90deg,#0f0906 0,#0a0604 574px)"></i>
<i style="height:4px;background:linear-gradient(90deg,#0e0906 0,#090604 574px)"></i>
<i style="height:4px;background:linear-gradient(90deg,#0d0805 0,#090503 574px)"></i>
<i style="height:4px;background:linear-gradient(90deg,#0d0805 0,#080503 574px)"></i>
<i style="height:4px;background:linear-gradient(90deg,#0c0805 0,#070503 574px)"></i>
<i style="height:4px;background:linear-gradient(90deg,#0b0705 0,#070403 574px)"></i>
<i style="height:4px;background:linear-gradient(90deg,#0b0704 0,#060402 574px)"></i>
<i style="height:4px;background:linear-gradient(90deg,#0a0604 0,#050302 574px)"></i>
<i style="height:4px;background:linear-gradient(90deg,#090604 0,#040302 574px)"></i>
<i style="height:4px;background:linear-gradient(90deg,#090503 0,#040201 574px)"></i>
<i style="height:4px;background:linear-gradient(90deg,#080503 0,#030201 574px)"></i>
<i style="height:4px;background:linear-gradient(90deg,#070503 0,#020101 574px)"></i>
<i style="height:4px;background:linear-gradient(90deg,#070403 0,#010100 574px)"></i>
<i style="height:4px;background:linear-gradient(90deg,#070403 0,#000 574px)"></i>
<i style="height:4px;background:linear-gradient(90deg,#060403 0,#000 574px)"></i>
<i style="height:4px;background:linear-gradient(90deg,#060402 0,#000 574px)"></i>
<i style="height:4px;background:linear-gradient(90deg,#050302 0,#000 574px)"></i>
<i style="height:4px;background:linear-gradient(90deg,#040302 0,#070503 5px,#040302 7px,#070403 12px,#040302 14px,#020101 161px,#000 574px)"></i>
<i style="height:4px;background:linear-gradient(90deg,#040302 0,#080503 4px,#040302 7px,#080503 11px,#040302 13px,#080503 18px,#040202 20px,#070403 25px,#040201 27px,#060403 38px,#030201 40px,#060402 45px,#030201 47px,#010100 154px,#010000 574px)"></i>
<i style="height:2px;background:linear-gradient(90deg,#050302 0,#0c0705 4px,#050302 6px,#050302 7px,#0c0705 11px,#060402 12px,#040302 13px,#090503 18px,#040302 20px,#090604 24px,#040202 27px,#090604 31px,#040201 33px,#080503 38px,#030201 40px,#070403 44px,#030201 47px,#070403 51px,#030201 53px,#070403 58px,#030201 60px,#050302 78px,#020101 80px,#020101 107px,#010101 574px)"></i>
<i style="background:linear-gradient(90deg,#050302 0,#070503 2px,#0f0906 4px,#070503 5px,#050302 6px,#0c0805 11px,#060402 12px,#050302 13px,#0b0704 17px,#040302 20px,#0b0704 24px,#040302 26px,#040302 27px,#0b0704 31px,#040202 33px,#080503 37px,#040201 40px,#080503 44px,#040201 47px,#090503 51px,#030201 53px,#070403 58px,#030201 60px,#070403 64px,#030201 67px,#070403 71px,#030201 73px,#060402 78px,#030201 80px,#050302 91px,#020101 93px,#050302 98px,#020101 100px,#040302 118px,#020101 140px,#020101 574px)"></i>
<i style="background:linear-gradient(90deg,#050302 0,#0b0705 3px,#130c08 4px,#070403 5px,#050302 6px,#0c0805 11px,#060402 12px,#050302 14px,#0d0805 17px,#050302 20px,#0d0805 24px,#040302 26px,#0b0704 31px,#040302 33px,#0a0604 37px,#040202 40px,#0a0604 44px,#040201 46px,#090604 51px,#030201 53px,#080503 64px,#030201 67px,#080503 71px,#030201 73px,#030201 574px)"></i>
<i style="background:linear-gradient(90deg,#060402 0,#090604 2px,#150d08 4px,#070403 5px,#050302 6px,#0e0906 10px,#060402 12px,#060402 14px,#0f0a06 17px,#050302 19px,#050302 20px,#110a07 24px,#070403 25px,#050302 26px,#0b0704 30px,#040302 33px,#0b0705 37px,#040302 40px,#0c0705 44px,#040202 46px,#090604 51px,#040201 53px,#090503 57px,#040201 60px,#090604 64px,#030201 66px,#080503 71px,#030201 73px,#070503 91px,#030201 93px,#040201 574px)"></i>
<i style="background:linear-gradient(90deg,#060403 0,#140d08 4px,#070503 5px,#060402 6px,#0b0704 9px,#120c07 10px,#060402 12px,#070403 14px,#0c0705 16px,#140d08 17px,#090503 18px,#050302 19px,#090503 22px,#120b07 24px,#070403 25px,#050302 26px,#0d0805 30px,#050302 32px,#060302 34px,#0e0906 37px,#050302 40px,#0f0906 44px,#060402 45px,#040302 46px,#0a0604 50px,#040302 53px,#0b0704 57px,#040302 60px,#0b0704 64px,#040202 66px,#090604 71px,#040202 73px,#090604 84px,#040201 86px,#080503 91px,#030201 93px,#080503 111px,#030201 113px,#060403 131px,#030201 133px,#050302 574px)"></i>
<i style="background:linear-gradient(90deg,#070403 0,#0d0805 2px,#160e09 3px,#140d08 4px,#070503 5px,#070403 7px,#0e0905 9px,#19100a 10px,#0c0805 11px,#060402 13px,#0f0906 16px,#1d120b 17px,#090503 18px,#060302 19px,#120b07 24px,#070403 25px,#050302 26px,#0b0704 29px,#110b07 30px,#060402 32px,#050302 33px,#0c0705 36px,#130c07 37px,#080503 38px,#050302 39px,#100a06 44px,#070403 45px,#050302 46px,#0d0805 50px,#050302 53px,#0e0905 57px,#050302 60px,#0e0906 64px,#050302 66px,#0a0604 70px,#050302 73px,#0b0704 77px,#050302 80px,#0b0704 84px,#040302 86px,#090604 91px,#040302 93px,#090503 97px,#040302 100px,#090604 104px,#040202 106px,#080503 111px,#040202 113px,#080503 131px,#040201 133px,#070403 151px,#040201 153px,#070403 574px)"></i>
<i style="background:linear-gradient(90deg,#080503 0,#100a06 2px,#20140d 3px,#080503 5px,#0b0704 8px,#110b07 9px,#26170f 10px,#0d0805 11px,#070403 12px,#090503 14px,#130c08 16px,#27180f 17px,#090604 18px,#060402 19px,#0d0805 22px,#160d09 23px,#130c07 24px,#070503 25px,#070503 27px,#0e0805 29px,#180f0a 30px,#0c0705 31px,#060403 33px,#0f0906 36px,#1b110b 37px,#090604 38px,#060402 39px,#110b07 44px,#070403 45px,#070403 47px,#110b07 50px,#060402 52px,#060402 53px,#0c0705 56px,#120b07 57px,#080503 58px,#050302 59px,#0f0906 64px,#070403 65px,#050302 66px,#0d0805 70px,#050302 73px,#0e0905 77px,#050302 80px,#0e0805 84px,#050302 86px,#0a0704 90px,#050302 93px,#0b0704 97px,#050302 100px,#0b0705 104px,#050302 106px,#090604 117px,#050302 120px,#0a0604 124px,#040302 126px,#090604 131px,#040302 133px,#090503 151px,#040302 153px,#090503 574px)"></i>
<i style="background:linear-gradient(90deg,#090604 0,#150d08 2px,#311e13 3px,#150d08 4px,#080503 5px,#0e0905 8px,#180f09 9px,#3b2517 10px,#0d0805 11px,#070503 12px,#0f0906 15px,#281910 17px,#0a0604 18px,#070403 19px,#100a06 22px,#1f140d 23px,#080503 25px,#090503 27px,#120b07 29px,#25170f 30px,#0d0805 31px,#070403 32px,#0c0805 35px,#130c08 36px,#23160e 37px,#090604 38px,#070403 39px,#0d0805 42px,#160d09 43px,#120b07 44px,#080503 45px,#080503 47px,#0e0906 49px,#180f0a 50px,#0c0805 51px,#070403 53px,#0f0906 56px,#1b110b 57px,#090604 58px,#060402 59px,#110a07 64px,#070503 65px,#070403 67px,#110b07 70px,#060403 72px,#060403 73px,#0c0805 76px,#130c07 77px,#090604 78px,#060402 79px,#0f0906 84px,#060402 86px,#0d0805 90px,#060402 93px,#0e0906 97px,#060402 99px,#0e0906 104px,#060302 106px,#0b0705 110px,#060402 113px,#0c0705 117px,#060402 120px,#0c0805 124px,#050302 126px,#0a0604 137px,#060302 140px,#0b0704 144px,#050302 146px,#0a0604 151px,#050302 153px,#090604 164px,#050302 166px,#090604 171px,#050302 173px,#0c0705 574px)"></i>
<i style="background:linear-gradient(90deg,#0b0704 0,#100a06 1px,#1d120c 2px,#4c2f1e 3px,#150d08 4px,#090503 5px,#110b07 8px,#22160e 9px,#5c3a25 10px,#0e0905 11px,#080503 12px,#130c08 15px,#291a10 16px,#291a10 17px,#0a0604 18px,#0d0805 21px,#160e09 22px,#311f14 23px,#150d08 24px,#090503 25px,#0a0604 27px,#190f0a 29px,#3b2518 30px,#0d0805 31px,#080503 32px,#100a06 35px,#26180f 37px,#0a0604 38px,#080503 39px,#110b07 42px,#20140d 43px,#080503 45px,#090604 47px,#130c07 49px,#25170f 50px,#0d0805 51px,#070503 52px,#0d0805 55px,#22150e 57px,#0a0604 58px,#070503 59px,#0e0906 62px,#170e09 63px,#080503 65px,#090503 67px,#0f0906 69px,#19100a 70px,#0d0805 71px,#070503 73px,#100a06 76px,#1c110b 77px,#0a0604 78px,#070403 79px,#110b07 83px,#110b07 84px,#080503 85px,#080503 87px,#120b07 90px,#070403 92px,#070403 93px,#0d0805 96px,#140c08 97px,#0a0604 98px,#070403 99px,#100a06 104px,#070403 106px,#0f0906 110px,#070403 113px,#100a06 117px,#070403 119px,#0f0a06 124px,#060403 126px,#0d0805 130px,#070403 133px,#0d0805 137px,#070403 140px,#0e0906 144px,#060403 146px,#0b0705 150px,#060403 153px,#0c0705 157px,#070403 160px,#0c0805 164px,#070403 166px,#0b0704 171px,#070403 173px,#0a0604 177px,#090503 331px,#100a07 574px)"></i>
<i style="background:linear-gradient(90deg,#0d0805 0,#150d08 1px,#2b1b11 2px,#72472d 3px,#160e09 4px,#0a0604 5px,#0e0906 7px,#170f09 8px,#352115 9px,#653f28 10px,#0f0906 11px,#0a0604 12px,#100a06 14px,#1b110b 15px,#41291a 16px,#2b1b11 17px,#0b0704 18px,#0a0604 19px,#110b07 21px,#20140d 22px,#4f3220 23px,#160e09 24px,#090604 25px,#0d0805 27px,#130c08 28px,#25170f 29px,#603c26 30px,#0e0906 31px,#090604 32px,#0e0805 34px,#150d08 35px,#2c1c12 36px,#291a10 37px,#0b0704 38px,#0f0906 41px,#180f09 42px,#352115 43px,#150d09 44px,#090604 45px,#0b0705 47px,#100a06 48px,#1b110b 49px,#3f2719 50px,#0e0906 51px,#090503 52px,#110b07 55px,#27180f 57px,#0b0704 58px,#0d0805 61px,#130c07 62px,#23160e 63px,#090604 65px,#0a0604 67px,#140d08 69px,#291910 70px,#0e0906 71px,#080503 72px,#0e0906 75px,#23160e 77px,#0b0704 78px,#080503 79px,#0f0a06 82px,#19100a 83px,#090604 85px,#0a0604 87px,#100a07 89px,#1c110b 90px,#0e0805 91px,#080503 93px,#120b07 96px,#1f140c 97px,#0b0704 98px,#080503 99px,#130c08 103px,#130c07 104px,#090604 105px,#090604 107px,#150d08 110px,#080503 112px,#080503 113px,#0f0906 116px,#170f09 117px,#0b0704 118px,#080503 119px,#120b07 124px,#090604 125px,#080503 126px,#120b07 130px,#080503 133px,#130c08 137px,#080503 139px,#120b07 144px,#080503 146px,#0f0906 150px,#080503 153px,#100a06 157px,#080503 160px,#110a07 164px,#080503 166px,#0d0805 170px,#080503 173px,#0d0805 177px,#090503 179px,#0d0805 184px,#090503 186px,#100a06 454px,#1d120c 574px)"></i>
<i style="background:linear-gradient(90deg,#110a07 0,#1c120b 1px,#432a1b 2px,#9e633f 3px,#170f09 4px,#0b0704 5px,#120b07 7px,#22150d 8px,#533421 9px,#663f28 10px,#100a06 11px,#0b0704 12px,#140d08 14px,#281910 15px,#664028 16px,#2d1c12 17px,#0c0805 18px,#0f0906 20px,#170e09 21px,#311e13 22px,#7b4d31 23px,#180f09 24px,#0b0704 25px,#100a06 27px,#1a110b 28px,#3b2518 29px,#674029 30px,#100a06 31px,#0b0704 32px,#110b07 34px,#1f130c 35px,#482d1d 36px,#0c0805 38px,#0b0704 39px,#130c08 41px,#24160e 42px,#583723 43px,#180f0a 44px,#0a0704 45px,#0e0906 47px,#150d09 48px,#2a1a11 49px,#643f28 50px,#100a06 51px,#0a0604 52px,#0f0a06 54px,#180f0a 55px,#321f14 56px,#2c1c12 57px,#0c0805 58px,#0a0604 59px,#100a07 61px,#1b110b 62px,#3c2618 63px,#180f09 64px,#0a0704 65px,#0d0805 67px,#120b07 68px,#1f130c 69px,#482d1d 70px,#100a06 71px,#0a0604 72px,#140c08 75px,#24160e 76px,#2a1a11 77px,#0c0805 78px,#0e0906 81px,#150d09 82px,#291a10 83px,#0a0704 85px,#0c0705 87px,#180f09 89px,#301e13 90px,#100a06 91px,#090604 92px,#110a07 95px,#281910 97px,#0c0805 98px,#090604 99px,#120b07 102px,#1e130c 103px,#0b0704 105px,#0b0704 107px,#140c08 109px,#23160e 110px,#100a06 111px,#0a0604 112px,#0a0604 113px,#160e09 116px,#27180f 117px,#0d0805 118px,#090604 119px,#100a06 122px,#180f0a 123px,#170e09 124px,#0b0704 125px,#0b0704 127px,#110b07 129px,#1b110b 130px,#0a0604 132px,#0a0604 133px,#130c08 136px,#1f130c 137px,#0d0805 138px,#090604 139px,#170e09 144px,#0b0704 145px,#0a0604 146px,#0d0805 148px,#170e09 150px,#0a0604 152px,#0a0604 153px,#0d0805 155px,#190f0a 157px,#0d0805 158px,#0a0604 159px,#160e09 164px,#0c0705 165px,#0a0604 166px,#120b07 170px,#0a0704 173px,#120b07 177px,#0b0704 179px,#120b07 184px,#0b0704 186px,#0f0a06 190px,#0b0705 193px,#0f0a06 197px,#0c0705 199px,#0f0906 307px,#1c110b 460px,#311e13 524px,#42291a 550px,#593723 574px)"></i>
<i style="background:linear-gradient(90deg,#160d09 0,#291a10 1px,#653f28 2px,#bc754b 3px,#19100a 4px,#0d0805 5px,#190f0a 7px,#332014 8px,#7c4d31 9px,#684129 10px,#110b07 11px,#0d0805 12px,#110b07 13px,#1c120b 14px,#3f2719 15px,#945c3b 16px,#301e13 17px,#0e0805 18px,#130c08 20px,#21150d 21px,#4e311f 22px,#ac6b44 23px,#1a100a 24px,#0c0805 25px,#150d08 27px,#281910 28px,#603c26 29px,#6d442b 30px,#120b07 31px,#0d0805 32px,#180f0a 34px,#301e13 35px,#74492e 36px,#332014 37px,#0e0905 38px,#110b07 40px,#1b110b 41px,#3a2417 42px,#8a5637 43px,#1b110b 44px,#0c0805 45px,#130c07 47px,#20140d 48px,#6f452c 50px,#120b07 51px,#0c0805 52px,#150d08 54px,#25170f 55px,#563622 56px,#0e0906 58px,#0c0805 59px,#170e09 61px,#2c1b11 62px,#684129 63px,#1c110b 64px,#0c0805 65px,#110a07 67px,#1a100a 68px,#342115 69px,#6f452c 70px,#120b07 71px,#0c0705 72px,#120b07 74px,#1d120c 75px,#3e2719 76px,#342015 77px,#0e0906 78px,#0c0705 79px,#140c08 81px,#22150d 82px,#4a2e1e 83px,#1c110b 84px,#0c0805 85px,#0f0a06 87px,#160e09 88px,#27180f 89px,#583723 90px,#130c07 91px,#0b0705 92px,#100a06 94px,#180f0a 95px,#2d1c12 96px,#332014 97px,#0e0906 98px,#0e0805 100px,#1b110b 102px,#362216 103px,#1c120b 104px,#0c0805 105px,#0e0906 107px,#130c08 108px,#1f140c 109px,#41291a 110px,#130c08 111px,#0b0705 112px,#150d09 115px,#352115 117px,#0f0906 118px,#0c0705 119px,#180f09 122px,#2b1b11 123px,#0d0805 125px,#0e0906 127px,#1b110b 129px,#321f14 130px,#140d08 131px,#0c0705 132px,#0d0805 133px,#140c08 135px,#1e130c 136px,#362115 137px,#100a06 138px,#0c0705 139px,#150d09 142px,#23160e 143px,#1f130c 144px,#0e0905 145px,#0e0905 147px,#180f09 149px,#281910 150px,#150d08 151px,#0c0805 152px,#0d0805 153px,#120b07 155px,#1a110b 156px,#2e1d12 157px,#110a07 158px,#0c0805 159px,#0f0a06 161px,#1f130c 164px,#0f0906 165px,#0d0805 166px,#110a07 168px,#1e130c 170px,#0e0905 172px,#0d0805 173px,#120b07 175px,#1e130c 177px,#120b07 178px,#0e0805 179px,#1a100a 184px,#100a06 185px,#0e0906 186px,#170e09 190px,#0f0906 193px,#170e09 197px,#0f0a06 199px,#160e09 204px,#100a06 206px,#140c08 210px,#170e09 311px,#20140d 372px,#301e13 416px,#432a1b 448px,#5e3b25 477px,#db8957 574px)"></i>
<i style="background:linear-gradient(90deg,#1e120c 0,#3f2719 1px,#8f5939 2px,#ba754a 3px,#1b110b 4px,#100a06 5px,#150d08 6px,#23160e 7px,#4e311f 8px,#a96943 9px,#6b432a 10px,#130c08 11px,#100a07 12px,#170e09 13px,#2a1a11 14px,#613d27 15px,#c1784d 16px,#352115 17px,#0f0a06 18px,#110b07 19px,#1a100a 20px,#332014 21px,#774b30 22px,#c57b4e 23px,#1d120c 24px,#0f0906 25px,#130c08 26px,#1e130c 27px,#3f2719 28px,#8f5939 29px,#74492e 30px,#140c08 31px,#100a06 32px,#150d08 33px,#23160e 34px,#4e311f 35px,#a76943 36px,#392417 37px,#100a06 38px,#170f09 40px,#2a1a11 41px,#603c26 42px,#be774c 43px,#1f140c 44px,#0f0906 45px,#1a100a 47px,#332014 48px,#74492e 49px,#7b4d31 50px,#150d08 51px,#0f0906 52px,#130c08 53px,#1e130c 54px,#3e2719 55px,#8a5637 56px,#3d2618 57px,#100a06 58px,#150d08 60px,#23160e 61px,#4b2f1e 62px,#a16440 63px,#21150d 64px,#0e0906 65px,#170f09 67px,#291a10 68px,#5b3924 69px,#805033 70px,#160e09 71px,#0f0906 72px,#1a100a 74px,#311f13 75px,#6d442b 76px,#110a07 78px,#130c08 80px,#1e130c 81px,#3a2417 82px,#815133 83px,#23160e 84px,#0f0906 85px,#100a06 86px,#150d08 87px,#22150e 88px,#462c1c 89px,#825134 90px,#170e09 91px,#0e0906 92px,#170e09 94px,#281910 95px,#543521 96px,#432a1b 97px,#110b07 98px,#120b07 100px,#1a100a 101px,#2f1e13 102px,#664029 103px,#25170f 104px,#0f0906 105px,#140c08 107px,#1e130c 108px,#392417 109px,#7a4c31 110px,#190f0a 111px,#0e0906 112px,#160e09 114px,#23160e 115px,#452b1b 116px,#492e1d 117px,#130c07 118px,#0f0906 119px,#120b07 120px,#190f0a 121px,#291a10 122px,#533421 123px,#291a10 124px,#100a06 125px,#130c08 127px,#1c110b 128px,#311e13 129px,#643e28 130px,#1b110b 131px,#0f0906 132px,#150d08 134px,#20140d 135px,#4f3220 137px,#140d08 138px,#0f0a06 139px,#170f09 141px,#25170f 142px,#452b1c 143px,#110b07 145px,#130c08 147px,#1a100a 148px,#2b1b11 149px,#533421 150px,#1e130c 151px,#100a06 152px,#110b07 153px,#1e120c 155px,#321f14 156px,#553522 157px,#160e09 158px,#100a06 159px,#170e09 161px,#21150d 162px,#392417 163px,#301e13 164px,#130c08 165px,#140c08 167px,#25170f 169px,#3c2618 170px,#20140d 171px,#120b07 172px,#1c120b 175px,#281910 176px,#3e2719 177px,#19100a 178px,#130c07 179px,#180f0a 181px,#2a1a11 183px,#2b1b11 184px,#170e09 185px,#140d08 186px,#1a100a 188px,#2b1b11 190px,#160e09 192px,#1c120b 195px,#2a1a11 197px,#1c110b 198px,#160e09 199px,#25170f 204px,#1a100a 205px,#180f0a 206px,#22150e 210px,#1a100a 213px,#21150d 217px,#1b110b 219px,#20140d 224px,#24170e 268px,#3c2518 333px,#633e27 381px,#ca7e50 461px,#f09660 499px,#ff9f65 520px,#ffac6e 574px)"></i>
<i style="background:linear-gradient(90deg,#2b1b11 0,#5e3b26 1px,#b9744a 2px,#ba744a 3px,#1e130c 4px,#140c08 5px,#1c110b 6px,#342115 7px,#75492e 8px,#d08253 9px,#6f452c 10px,#150d09 11px,#150d08 12px,#20140d 13px,#41281a 14px,#8d5838 15px,#e38e5a 16px,#3a2417 17px,#120c07 18px,#170e09 19px,#26180f 20px,#513220 21px,#a76842 22px,#c87d50 23px,#21150d 24px,#130c08 25px,#1a100a 26px,#2e1d12 27px,#643e28 28px,#bf784c 29px,#7d4e32 30px,#170e09 31px,#140d08 32px,#1d120c 33px,#382316 34px,#7a4c31 35px,#d58555 36px,#42291a 37px,#130c08 38px,#160e09 39px,#22150e 40px,#442b1b 41px,#925b3a 42px,#d48454 43px,#25170f 44px,#130c07 45px,#180f0a 46px,#281910 47px,#543522 48px,#aa6a44 49px,#895637 50px,#19100a 51px,#140c08 52px,#1b110b 53px,#301e13 54px,#674029 55px,#c1794d 56px,#4a2e1d 57px,#140c08 58px,#150d08 59px,#1f130c 60px,#3a2417 61px,#7c4e31 62px,#d58555 63px,#291a10 64px,#130c07 65px,#170e09 66px,#24160e 67px,#472c1c 68px,#935c3a 69px,#935c3b 70px,#1b110b 71px,#130c08 72px,#19100a 73px,#2a1a11 74px,#563622 75px,#a96a43 76px,#513320 77px,#150d08 78px,#140d08 79px,#1c120b 80px,#321f14 81px,#684129 82px,#bf774c 83px,#2d1c12 84px,#120c07 85px,#160e09 86px,#20140d 87px,#3b2518 88px,#7b4d31 89px,#9c613e 90px,#1d120c 91px,#130c08 92px,#180f0a 93px,#25170f 94px,#482d1c 95px,#915b3a 96px,#593823 97px,#160e09 98px,#140d08 99px,#1b110b 100px,#2c1c12 101px,#583723 102px,#a86943 103px,#332014 104px,#130c08 105px,#1f130c 107px,#352115 108px,#6b432b 109px,#a86943 110px,#21150d 111px,#140c08 112px,#180f0a 113px,#24160e 114px,#41281a 115px,#815033 116px,#664029 117px,#19100a 118px,#150d08 119px,#1b110b 120px,#2a1a11 121px,#4f311f 122px,#975e3c 123px,#3c2518 124px,#150d08 125px,#160e09 126px,#1e130c 127px,#321f14 128px,#603c26 129px,#ad6c45 130px,#27180f 131px,#150d08 132px,#23160e 134px,#3c2618 135px,#73482e 136px,#74482e 137px,#1c120b 138px,#160e09 139px,#1b110b 140px,#291a10 141px,#492d1d 142px,#885536 143px,#462c1c 144px,#180f09 145px,#170f09 146px,#1f130c 147px,#301e13 148px,#583723 149px,#9d623f 150px,#2d1c12 151px,#160e09 152px,#23160e 154px,#392417 155px,#69422a 156px,#825134 157px,#21150d 158px,#170f09 159px,#1c120b 160px,#291a10 161px,#442b1b 162px,#784b30 163px,#503220 164px,#1c120b 165px,#1a100a 166px,#21150d 167px,#301e13 168px,#4d301f 169px,#7f4f32 170px,#352115 171px,#1b110b 172px,#27180f 174px,#372316 175px,#74492e 177px,#2a1a11 178px,#1e130c 179px,#2d1c12 181px,#3e2719 182px,#5a3824 183px,#4e311f 184px,#25170f 185px,#22150d 186px,#332014 188px,#442a1b 189px,#5d3a25 190px,#3c2518 191px,#25170f 192px,#27180f 193px,#382316 195px,#5d3a25 197px,#342015 198px,#281910 199px,#332014 201px,#4a2e1d 203px,#4a2e1d 204px,#311f14 205px,#2d1c12 206px,#382316 208px,#4a2f1e 210px,#332014 212px,#372316 214px,#492e1d 217px,#372216 219px,#442a1b 224px,#3e2719 226px,#5d3a25 273px,#805033 309px,#dd8a58 385px,#ff9f65 426px,#ffad6e 484px,#ffb372 574px)"></i>
<i style="background:linear-gradient(90deg,#3f2819 0,#865435 1px,#db8957 2px,#bb754b 3px,#22150d 4px,#19100a 5px,#271910 6px,#4f3220 7px,#ec945e 9px,#75492e 10px,#19100a 11px,#1c120b 12px,#301e13 13px,#633e27 14px,#ba744a 15px,#f99c63 16px,#41281a 17px,#180f09 18px,#20140d 19px,#3a2417 20px,#7a4c30 21px,#d18353 22px,#cd8051 23px,#27180f 24px,#19100a 25px,#25170f 26px,#482d1d 27px,#935c3a 28px,#e48f5b 29px,#875436 30px,#1c110b 31px,#1c110b 32px,#2c1c12 33px,#593823 34px,#ac6c44 35px,#f49861 36px,#4c301e 37px,#180f0a 38px,#1f140c 39px,#362115 40px,#6e442c 41px,#c47b4e 42px,#db8957 43px,#2d1c12 44px,#19100a 45px,#24160e 46px,#41291a 47px,#855335 48px,#d98856 49px,#985f3c 50px,#1f130c 51px,#1b110b 52px,#2a1a11 53px,#503220 54px,#ea935d 56px,#593823 57px,#19100a 58px,#1e130c 59px,#321f14 60px,#623d27 61px,#b57148 62px,#e6905c 63px,#342115 64px,#1a100a 65px,#23160e 66px,#3c2518 67px,#774a2f 68px,#cb7f51 69px,#a86943 70px,#23160e 71px,#1b110b 72px,#281910 73px,#482d1d 74px,#8d5838 75px,#de8b58 76px,#674029 77px,#1b110b 78px,#1e130c 79px,#2f1d13 80px,#583723 81px,#ee955f 83px,#3c2618 84px,#1a100a 85px,#22150d 86px,#372216 87px,#6a422a 88px,#ba754a 89px,#b57148 90px,#271910 91px,#1c110b 92px,#26180f 93px,#42291a 94px,#7f4f32 95px,#cf8253 96px,#1e130c 98px,#1e130c 99px,#2d1c12 100px,#513320 101px,#e38e5a 103px,#482d1d 104px,#1b110b 105px,#22150e 106px,#362215 107px,#633e28 108px,#af6d46 109px,#c67c4f 110px,#301e13 111px,#1d120c 112px,#281910 113px,#42291a 114px,#794b30 115px,#c67c4f 116px,#8a5637 117px,#24160e 118px,#21140d 119px,#2f1d13 120px,#503220 121px,#905a39 122px,#da8857 123px,#593723 124px,#1f130c 125px,#25170f 126px,#382316 127px,#623d27 128px,#a76943 129px,#d78655 130px,#3b2518 131px,#20140d 132px,#2a1a11 133px,#432a1b 134px,#764a2f 135px,#be774c 136px,#9f643f 137px,#2c1b11 138px,#24160e 139px,#321f14 140px,#513320 141px,#8c5738 142px,#d28354 143px,#6d442b 144px,#25170f 145px,#281910 146px,#3b2517 147px,#623d27 148px,#e48e5b 150px,#4a2e1e 151px,#24170f 152px,#2e1d12 153px,#462c1c 154px,#764a2f 155px,#b87349 156px,#b57148 157px,#372216 158px,#281910 159px,#362216 160px,#553522 161px,#895637 162px,#c87d50 163px,#815133 164px,#2f1e13 165px,#301e13 166px,#432a1b 167px,#653f28 168px,#d08253 170px,#5f3b26 171px,#311f13 172px,#3b2517 173px,#513320 174px,#75492e 175px,#a46741 176px,#b26f47 177px,#4e311f 178px,#3a2417 179px,#472d1c 180px,#5f3c26 181px,#825134 182px,#ac6b44 183px,#8b5737 184px,#482d1d 185px,#452b1c 186px,#553522 187px,#6d442b 188px,#b16e46 190px,#73482e 191px,#4b2f1e 192px,#523321 193px,#633e27 194px,#955d3b 196px,#a86943 197px,#69412a 198px,#563622 199px,#70462c 201px,#9a603d 203px,#905a39 204px,#684129 205px,#643e28 206px,#7b4d31 208px,#9b613e 210px,#6e452c 212px,#7b4d31 214px,#9a603d 217px,#835234 218px,#7b4d31 219px,#925b3a 223px,#895637 226px,#915b3a 229px,#d98856 296px,#ff9f65 342px,#ffaf70 419px,#ffb674 574px)"></i>
<i style="background:linear-gradient(90deg,#5e3b25 0,#b06e46 1px,#f29760 2px,#bd764b 3px,#271810 4px,#23160e 5px,#3a2517 6px,#75492e 7px,#c97d50 8px,#fd9e65 9px,#7c4d31 10px,#1f130c 11px,#281910 12px,#482d1d 13px,#8e5938 14px,#de8b58 15px,#fa9c64 16px,#492e1d 17px,#20140d 18px,#2f1e13 19px,#5a3824 20px,#a86943 21px,#ef955f 22px,#d28353 23px,#2f1d13 24px,#24160e 25px,#392417 26px,#6f452c 27px,#c1794d 28px,#fc9d64 29px,#23160e 31px,#291910 32px,#462c1c 33px,#865436 34px,#d78756 35px,#ffa267 36px,#5a3824 37px,#22150d 38px,#2f1e13 39px,#563622 40px,#ea925d 42px,#e28d5a 43px,#382316 44px,#25170f 45px,#382316 46px,#69422a 47px,#b97349 48px,#f89b63 49px,#a86943 50px,#281910 51px,#291a10 52px,#442b1b 53px,#805033 54px,#d08253 55px,#ffa267 56px,#6c442b 57px,#23160e 58px,#301e13 59px,#533421 60px,#e38e5a 62px,#ef965f 63px,#442a1b 64px,#26180f 65px,#382316 66px,#653f28 67px,#b06e46 68px,#f29760 69px,#bc764b 70px,#2f1d13 71px,#2b1b11 72px,#432a1b 73px,#794c30 74px,#c77c4f 75px,#fe9f65 76px,#805033 77px,#27180f 78px,#311e13 79px,#513220 80px,#905a39 81px,#db8957 82px,#f99c63 83px,#523321 84px,#281910 85px,#392317 86px,#613d27 87px,#eb935e 89px,#ce8152 90px,#382316 91px,#2c1c12 92px,#432a1b 93px,#74492e 94px,#be774c 95px,#f99c63 96px,#2c1c12 98px,#332014 99px,#513320 100px,#8c5838 101px,#d58555 102px,#ffa167 103px,#663f28 104px,#2d1c12 105px,#3c2618 106px,#633e28 107px,#e8915c 109px,#e18c59 110px,#482d1c 111px,#321f14 112px,#492d1d 113px,#794b30 114px,#bd764b 115px,#f69a62 116px,#b06e46 117px,#382316 118px,#3a2417 119px,#583723 120px,#905a39 121px,#d38454 122px,#ffa167 123px,#805033 124px,#342115 125px,#442b1b 126px,#6a422a 127px,#e6905c 129px,#f19760 130px,#5d3a25 131px,#3a2417 132px,#513320 133px,#805033 134px,#bf784c 135px,#f59961 136px,#ca7e50 137px,#492d1d 138px,#432a1b 139px,#613d27 140px,#965e3c 141px,#d48555 142px,#ffa066 143px,#40281a 145px,#4f311f 146px,#74492e 147px,#e6905c 149px,#fe9e65 150px,#794b30 151px,#462c1c 152px,#5d3a25 153px,#8a5637 154px,#c47a4e 155px,#f59961 156px,#e08c59 157px,#603c26 158px,#503220 159px,#6e452c 160px,#d68655 162px,#fe9f65 163px,#ba744a 164px,#583723 165px,#633e27 166px,#865435 167px,#e28e5a 169px,#ffa066 170px,#9c613e 171px,#633e28 172px,#794c30 173px,#eb935d 176px,#e6905c 177px,#8c5738 178px,#774b30 179px,#905a39 180px,#f09660 183px,#cd8052 184px,#895637 185px,#8d5838 186px,#f49861 190px,#bd764b 191px,#945c3b 192px,#a16540 193px,#e38e5a 196px,#e7915c 197px,#b67248 198px,#a76842 199px,#e7905c 203px,#da8857 204px,#b9744a 205px,#b9744a 206px,#e9925d 210px,#c37a4e 212px,#e6905c 217px,#d68655 218px,#d28354 219px,#e48f5b 223px,#de8b58 225px,#e48f5b 229px,#ff9f66 266px,#ffaa6d 306px,#ffb171 357px,#ffb775 574px)"></i>
<i style="background:linear-gradient(90deg,#845335 0,#d38454 1px,#ffa066 2px,#c0784d 3px,#2f1d13 4px,#321f14 5px,#573623 6px,#e7905c 8px,#ffa569 9px,#845335 10px,#2a1a11 11px,#3b2518 12px,#6b432b 13px,#b9744a 14px,#f59962 15px,#fb9d64 16px,#543522 17px,#2e1d12 18px,#482d1d 19px,#835234 20px,#d18353 21px,#ffa066 22px,#d78656 23px,#392417 24px,#352115 25px,#583723 26px,#e58f5b 28px,#ffa569 29px,#9f633f 30px,#2e1d12 31px,#3e2719 32px,#6c432b 33px,#b77249 34px,#f59961 35px,#ffa368 36px,#6a422a 37px,#321f14 38px,#4a2e1e 39px,#835234 40px,#ce8152 41px,#ffa066 42px,#ea925d 43px,#472d1c 44px,#382316 45px,#5a3824 46px,#e38e5a 48px,#ffa669 49px,#b9734a 50px,#372216 51px,#42291a 52px,#6d442c 53px,#b47148 54px,#f39861 55px,#ffa86b 56px,#825134 57px,#362216 58px,#4e311f 59px,#835234 60px,#cc7f51 61px,#ff9f65 62px,#f89b63 63px,#593824 64px,#3d2618 65px,#5d3a25 66px,#9b613e 67px,#e08c59 68px,#ffa569 69px,#d08253 70px,#422a1a 71px,#462c1c 72px,#70462d 73px,#f09660 75px,#ffa96c 76px,#9c613e 77px,#3d2618 78px,#533421 79px,#855335 80px,#ca7e50 81px,#fd9e65 82px,#ffa167 83px,#6f452c 84px,#432a1b 85px,#623d27 86px,#9c613e 87px,#de8b58 88px,#ffa469 89px,#e38e5a 90px,#523321 91px,#4d301e 92px,#74492e 93px,#ee955f 95px,#ffa96b 96px,#b67248 97px,#472c1c 98px,#5a3924 99px,#8b5737 100px,#cb7f51 101px,#fc9e64 102px,#ffa76a 103px,#8b5737 104px,#4e311f 105px,#6c442b 106px,#e08c59 108px,#ffa469 109px,#f59962 110px,#6c432b 111px,#5a3824 112px,#815133 113px,#f19760 115px,#ffa96c 116px,#d38454 117px,#5c3924 118px,#6a422a 119px,#985f3d 120px,#d28354 121px,#fe9f65 122px,#ffab6d 123px,#ad6c45 124px,#5f3c26 125px,#7d4e32 126px,#e68f5b 128px,#ffa569 129px,#ffa267 130px,#8d5838 131px,#6d442b 132px,#935c3a 133px,#f59962 135px,#ffa96c 136px,#ec935e 137px,#784b30 138px,#7e4f32 139px,#a96a43 140px,#db8957 141px,#ffa166 142px,#ffad6e 143px,#ce8152 144px,#764a2f 145px,#925b3a 146px,#ed945e 148px,#ffa66a 149px,#ffa86b 150px,#b16e46 151px,#855335 152px,#a76842 153px,#d48554 154px,#fa9c64 155px,#ffaa6c 156px,#fd9e65 157px,#9b613e 158px,#965e3c 159px,#e6905c 161px,#ffa267 162px,#ffad6e 163px,#e9915d 164px,#9a603d 165px,#b06e46 166px,#f49861 168px,#ffa66a 169px,#ffaa6d 170px,#d78656 171px,#b06e46 172px,#fd9e65 175px,#ffa86b 176px,#ffa368 177px,#cf8152 178px,#c77c4f 179px,#f29760 181px,#ffa267 182px,#ffaa6c 183px,#fa9d64 184px,#d28354 185px,#da8857 186px,#fb9d64 188px,#ffa569 189px,#ffaa6c 190px,#f49861 191px,#df8c59 192px,#ffa167 195px,#ffa76a 196px,#ffa66a 197px,#f39861 198px,#ed945f 199px,#ff9f65 201px,#ffa86b 203px,#ffa368 204px,#f79a62 205px,#fe9f65 207px,#ffa96b 210px,#fe9f65 212px,#ffa86b 217px,#ffa368 219px,#ffa86b 223px,#ffb070 280px,#ffb976 574px)"></i>
<i style="background:linear-gradient(90deg,#ad6c45 0,#ec945e 1px,#ffa569 2px,#c47b4e 3px,#3a2417 4px,#492d1d 5px,#7c4e31 6px,#c67c4f 7px,#f99c63 8px,#ffa76a 9px,#8e5939 10px,#3b2517 11px,#583723 12px,#955d3b 13px,#dc8a58 14px,#ffa267 15px,#fc9e64 16px,#623d27 17px,#432a1b 18px,#6b432b 19px,#ee955f 21px,#ffa76a 22px,#dd8a58 23px,#482d1d 24px,#4f3220 25px,#815134 26px,#c87d50 27px,#fb9d64 28px,#ffaa6c 29px,#ad6c45 30px,#432a1b 31px,#5f3b26 32px,#9a603d 33px,#de8b58 34px,#ffa368 35px,#ffa569 36px,#7d4e32 37px,#4c2f1e 38px,#72472d 39px,#ef965f 41px,#ffa86b 42px,#f19660 43px,#5c3a25 44px,#583723 45px,#885536 46px,#cb7f51 47px,#fd9e65 48px,#ffab6d 49px,#c97e50 50px,#4e311f 51px,#684129 52px,#a06440 53px,#e08c59 54px,#ffa468 55px,#ffaa6c 56px,#9b613e 57px,#563622 58px,#7b4d31 59px,#f19760 61px,#ffa96b 62px,#ff9f66 63px,#75492f 64px,#623e27 65px,#915a3a 66px,#cf8252 67px,#fe9f65 68px,#ffac6e 69px,#e18d5a 70px,#603c26 71px,#73482e 72px,#e38e5a 74px,#ffa569 75px,#ffad6e 76px,#b97349 77px,#633e27 78px,#865435 79px,#f39861 81px,#ffa96c 82px,#ffa66a 83px,#925b3a 84px,#70462c 85px,#9b613e 86px,#d48554 87px,#ff9f66 88px,#ffac6e 89px,#f49861 90px,#774b30 91px,#805033 92px,#e6905c 94px,#ffa569 95px,#ffaf6f 96px,#d48555 97px,#74492e 98px,#945d3b 99px,#f69a62 101px,#ffaa6c 102px,#ffab6d 103px,#b37047 104px,#845234 105px,#ab6b44 106px,#de8a58 107px,#ffa267 108px,#ffad6e 109px,#ffa267 110px,#9a603d 111px,#965e3c 112px,#ef955f 114px,#ffa76a 115px,#ffb070 116px,#ef955f 117px,#905a39 118px,#ab6b44 119px,#d88756 120px,#fd9e65 121px,#ffab6d 122px,#ffae6f 123px,#d68655 124px,#9f633f 125px,#c1794d 126px,#ea925d 127px,#ffa469 128px,#ffae6f 129px,#ffa96c 130px,#c0784c 131px,#b16f46 132px,#f89b63 134px,#ffa96c 135px,#ffb070 136px,#ffa167 137px,#b47047 138px,#c47b4e 139px,#e7905c 140px,#ffa267 141px,#ffb171 143px,#f29760 144px,#bc764b 145px,#f69a62 147px,#ffa76b 148px,#ffaf70 149px,#ffae6f 150px,#e18d5a 151px,#cc8051 152px,#ffa166 154px,#ffb171 156px,#ffa96c 157px,#d68655 158px,#dc8a58 159px,#f69a62 160px,#ffa66a 161px,#ffb271 163px,#ffa368 164px,#de8b58 165px,#ffa167 167px,#ffaf70 169px,#ffb070 170px,#fe9f65 171px,#ef955f 172px,#fd9e65 173px,#ffb070 176px,#ffad6e 177px,#fc9e64 178px,#fc9e64 179px,#ffb171 183px,#ffa066 185px,#ffb070 190px,#ffa569 192px,#ffb070 196px,#ffa96c 199px,#ffb170 203px,#ffab6d 205px,#ffb171 210px,#ffad6e 212px,#ffb473 286px,#fb7 574px)"></i>
<i style="background:linear-gradient(90deg,#d08253 0,#fc9d64 1px,#ffa86b 2px,#c97e50 3px,#4b2f1e 4px,#684129 5px,#e48e5b 7px,#ffa368 8px,#ffa76a 9px,#9a603d 10px,#543522 11px,#7d4e32 12px,#be774c 13px,#f49861 14px,#ffa76b 15px,#fe9f65 16px,#73482e 17px,#623d27 18px,#955d3b 19px,#d68655 20px,#ffa066 21px,#ffab6d 22px,#e48e5b 23px,#5e3b25 24px,#74492e 25px,#e9925d 27px,#ffa569 28px,#ffac6d 29px,#bb754b 30px,#623e27 31px,#895637 32px,#c77c4f 33px,#f89b63 34px,#ffa96c 35px,#ffa66a 36px,#935c3a 37px,#71462d 38px,#a16440 39px,#dc8a58 40px,#ffa267 41px,#ffac6e 42px,#f79b62 43px,#774a2f 44px,#835234 45px,#ee955f 47px,#ffa76a 48px,#ffaf6f 49px,#d98856 50px,#74482e 51px,#985f3c 52px,#d08253 53px,#fc9d64 54px,#ffab6d 55px,#ffab6d 56px,#b47148 57px,#825134 58px,#ae6d45 59px,#e38e5b 60px,#ffa468 61px,#ffae6f 62px,#ffa368 63px,#965e3c 64px,#945c3b 65px,#f39861 67px,#ffa86b 68px,#ffb070 69px,#f09660 70px,#895636 71px,#a86943 72px,#d98857 73px,#ffa066 74px,#ffac6e 75px,#ffaf6f 76px,#d38454 77px,#965e3c 78px,#eb935e 80px,#ffa669 81px,#ffaf6f 82px,#ffa96c 83px,#b67249 84px,#a76843 85px,#f99c63 87px,#ffaa6c 88px,#ffb170 89px,#ffa066 90px,#a56742 91px,#ba744a 92px,#e48e5b 93px,#ffa267 94px,#ffb171 96px,#ed945e 97px,#ae6d45 98px,#f49861 100px,#ffa86b 101px,#ffb070 102px,#ffae6f 103px,#d88756 104px,#c0784c 105px,#ffa066 107px,#ffb171 109px,#ffa86b 110px,#c97e50 111px,#d28354 112px,#f29760 113px,#ffa66a 114px,#ffb372 116px,#ffa167 117px,#cc7f51 118px,#ff9f65 120px,#ffb171 122px,#ffb171 123px,#f59961 124px,#db8957 125px,#f39861 126px,#ffa569 127px,#ffb272 129px,#ffae6f 130px,#ea925d 131px,#e9925d 132px,#ff9f66 133px,#ffaa6c 134px,#ffb472 136px,#ffaa6c 137px,#e7905c 138px,#f69a62 139px,#ffa569 140px,#ffb271 142px,#ffb372 143px,#ffa569 144px,#f29760 145px,#ffa166 146px,#ffb372 149px,#ffb171 150px,#ffa066 151px,#fc9d64 152px,#ffad6e 154px,#ffb473 156px,#ffaf6f 157px,#fe9f65 158px,#ffaf70 161px,#ffb473 163px,#ffa368 165px,#ffb372 169px,#ffa86b 172px,#ffb473 176px,#ffab6d 178px,#ffb473 183px,#ffad6e 185px,#ffb472 189px,#ffaf70 192px,#ffb473 203px,#ffbc78 574px)"></i>
<i style="background:linear-gradient(90deg,#e9925d 0,#ffa368 1px,#ffaa6d 2px,#cf8253 3px,#674129 4px,#8d5838 5px,#ca7e50 6px,#f79b62 7px,#ffa76b 8px,#ffa76a 9px,#a86943 10px,#764a2f 11px,#a66842 12px,#df8b59 13px,#ffa167 14px,#ffab6d 15px,#ffa066 16px,#885536 17px,#895536 18px,#f09660 20px,#ffa66a 21px,#ffad6e 22px,#ea925d 23px,#7c4d31 24px,#9e633f 25px,#d58555 26px,#fd9e65 27px,#ffaa6c 28px,#ffac6e 29px,#ca7e51 30px,#8a5637 31px,#e8915c 33px,#ffa469 34px,#ffad6e 35px,#ffa76a 36px,#ab6b44 37px,#9d623e 38px,#f79b62 40px,#ffa96b 41px,#ffaf6f 42px,#fd9e65 43px,#985f3c 44px,#b26f47 45px,#e18c59 46px,#ffa267 47px,#ffac6e 48px,#ffb070 49px,#e7905c 50px,#a16540 51px,#f19760 53px,#ffa76a 54px,#ffaf6f 55px,#ffac6e 56px,#cd8052 57px,#b37047 58px,#fe9f65 60px,#ffab6d 61px,#ffb170 62px,#ffa76a 63px,#b87349 64px,#c67b4f 65px,#ec945e 66px,#ffa569 67px,#ffb271 69px,#fc9e64 70px,#ba744a 71px,#fa9c63 73px,#ffa96c 74px,#ffb070 75px,#ffb070 76px,#ea925d 77px,#c97e50 78px,#e9925d 79px,#ffa368 80px,#ffb271 82px,#ffac6e 83px,#d88756 84px,#d98856 85px,#f79a62 86px,#ffa86b 87px,#ffb372 89px,#ffa66a 90px,#d38454 91px,#ffa167 93px,#ffac6d 94px,#ffb272 96px,#ff9f65 97px,#e08c59 98px,#f79a62 99px,#ffa76a 100px,#ffb372 102px,#ffb070 103px,#f49861 104px,#ee955f 105px,#ffa167 106px,#ffab6d 107px,#ffb473 109px,#ffad6e 110px,#ee955f 111px,#fa9c64 112px,#ffa76a 113px,#ffb473 116px,#ffa96b 117px,#f69a62 118px,#ffa368 119px,#ffb472 122px,#ffb372 123px,#ffa569 124px,#ffa066 125px,#ffae6f 127px,#ffb573 129px,#ffb171 130px,#ffa267 131px,#ffb674 136px,#ffa469 138px,#ffb573 142px,#ffb573 143px,#ffa86b 145px,#ffb674 149px,#ffab6d 151px,#ffb674 156px,#ffab6d 158px,#ffb674 163px,#ffae6f 165px,#ffb674 169px,#ffb070 172px,#ffb674 176px,#ffb171 178px,#ffb674 183px,#ffb272 185px,#ffb674 203px,#ffbd78 574px)"></i>
<i style="background:linear-gradient(90deg,#f99c63 0,#ffa76a 1px,#ffaa6d 2px,#d68655 3px,#895536 4px,#b37047 5px,#e58f5b 6px,#ffa267 7px,#ffaa6c 8px,#ffa76b 9px,#b67249 10px,#9b613e 11px,#f59961 13px,#ffa76a 14px,#ffad6e 15px,#ffa167 16px,#9f633f 17px,#b16e46 18px,#df8b59 19px,#ffa066 20px,#ffaf6f 22px,#f09660 23px,#a26540 24px,#f09660 26px,#ffa669 27px,#ffad6e 28px,#ffac6e 29px,#d98856 30px,#b37047 31px,#fd9e65 33px,#ffaa6c 34px,#ffaf70 35px,#ffa86b 36px,#c37a4e 37px,#c77c4f 38px,#ec945e 39px,#ffa469 40px,#ffb171 42px,#ffa267 43px,#bd764b 44px,#fa9c64 46px,#ffa96c 47px,#ffb070 49px,#f39861 50px,#cc7f51 51px,#ea925d 52px,#ffa368 53px,#ffb171 55px,#ffad6e 56px,#e38e5a 57px,#dc8958 58px,#f89b63 59px,#ffa86b 60px,#ffb372 62px,#ffa96c 63px,#d98856 64px,#ffa267 66px,#ffac6d 67px,#ffb372 69px,#ffa368 70px,#e38e5a 71px,#f89b63 72px,#ffa76a 73px,#ffb272 75px,#ffb171 76px,#fb9d64 77px,#ef955f 78px,#ffa267 79px,#ffab6d 80px,#ffb472 82px,#ffae6f 83px,#f29760 84px,#ffa76a 86px,#ffb573 89px,#ffab6d 90px,#f69a62 91px,#ffa267 92px,#ffb472 95px,#ffb372 96px,#ff9f65 98px,#ffae6f 100px,#ffb573 102px,#ffb271 103px,#ffa468 104px,#ffb674 109px,#ffa468 111px,#ffb573 115px,#ffb573 116px,#ffa86b 118px,#ffb674 122px,#ffab6d 125px,#ffb774 129px,#ffab6d 131px,#ffb774 136px,#ffad6e 138px,#ffb774 142px,#ffaf70 145px,#ffb775 149px,#ffb070 151px,#ffb875 156px,#ffb171 158px,#ffb775 162px,#ffb372 165px,#ffb875 176px,#ffb473 178px,#ffbe79 574px)"></i>
<i style="background:linear-gradient(90deg,#ffa267 0,#ffaa6d 2px,#dd8a58 3px,#ac6b44 4px,#f89b63 6px,#ffa76a 7px,#ffac6e 8px,#ffa86b 9px,#c67c4f 10px,#bf784c 11px,#e6905c 12px,#ffa167 13px,#ffae6f 15px,#ffa267 16px,#b9744a 17px,#d38454 18px,#f59962 19px,#ffa66a 20px,#ffaf6f 22px,#f79a62 23px,#c67c4f 24px,#ffa166 26px,#ffaf6f 28px,#ffad6e 29px,#e6905c 30px,#d78656 31px,#f49961 32px,#ffa66a 33px,#ffb171 35px,#ffaa6c 36px,#da8857 37px,#e7905c 38px,#ffa066 39px,#ffaa6c 40px,#ffb271 42px,#ffa569 43px,#df8b59 44px,#f59961 45px,#ffa669 46px,#ffb171 48px,#ffb170 49px,#fe9e65 50px,#ec935e 51px,#ffa066 52px,#ffaa6c 53px,#ffb372 55px,#ffae6f 56px,#f49961 57px,#f89b63 58px,#ffa66a 59px,#ffb473 62px,#ffac6d 63px,#f49961 64px,#ffa167 65px,#ffb372 68px,#ffb372 69px,#fd9e65 71px,#ffad6e 73px,#ffb473 75px,#ffb271 76px,#ffa469 77px,#ffa368 78px,#ffb573 82px,#ffb070 83px,#ffa368 84px,#ffb171 87px,#ffb574 89px,#ffa66a 91px,#ffb573 95px,#ffaa6c 98px,#ffb674 102px,#ffab6d 104px,#ffb775 109px,#ffac6e 111px,#ffb674 115px,#ffaf6f 118px,#ffb775 122px,#ffb070 124px,#ffb875 129px,#ffb170 131px,#ffb775 135px,#ffb271 138px,#ffb875 142px,#ffb372 145px,#ffb976 149px,#ffb372 151px,#ffb976 156px,#ffb473 158px,#ffb976 162px,#ffb573 165px,#ffb976 176px,#ffbf7a 574px)"></i>
<i style="background:linear-gradient(90deg,#ffa66a 0,#ffaa6d 2px,#e58f5b 3px,#cb7f51 4px,#eb935e 5px,#ffa267 6px,#ffae6f 8px,#ffa86b 9px,#d68555 10px,#dd8a58 11px,#f99b63 12px,#ffa66a 13px,#ffb070 15px,#ffa468 16px,#d58555 17px,#ffa267 19px,#ffae6f 21px,#ffaf6f 22px,#fc9e64 23px,#e38e5a 24px,#fa9c63 25px,#ffa76a 26px,#ffb070 28px,#ffad6e 29px,#f29760 30px,#f09660 31px,#ffa267 32px,#ffb271 35px,#ffab6d 36px,#ee955f 37px,#fc9d64 38px,#ffad6e 40px,#ffb272 42px,#ffa76b 43px,#f79a62 44px,#ffa368 45px,#ffb372 48px,#ffb171 49px,#ffa468 50px,#ffa066 51px,#ffae6f 53px,#ffb473 55px,#ffaf70 56px,#ffa167 57px,#ffb573 62px,#ffa468 64px,#ffb473 68px,#ffb473 69px,#ffa76b 71px,#ffb674 75px,#ffaa6c 77px,#ffb774 82px,#ffaa6c 84px,#ffb674 88px,#ffad6e 91px,#ffb774 95px,#ffaf6f 98px,#ffb875 102px,#ffaf70 104px,#ffb875 109px,#ffb171 111px,#ffb875 115px,#ffb271 118px,#ffb976 122px,#ffb372 124px,#ffb976 129px,#ffb372 131px,#ffb976 135px,#ffb473 138px,#ffba76 149px,#ffb574 151px,#ffba77 169px,#ffc07a 574px)"></i>
<i style="background:linear-gradient(90deg,#ffa96b 0,#ffab6d 2px,#ec945e 3px,#e48e5b 4px,#fb9d64 5px,#ffa66a 6px,#ffaf6f 8px,#ffa86b 9px,#e48f5b 10px,#ffa368 12px,#ffb070 15px,#ffa569 16px,#ec935e 17px,#fd9e65 18px,#ffb070 21px,#ffaf70 22px,#ffa167 23px,#f79a62 24px,#ffa468 25px,#ffb271 28px,#ffae6f 29px,#fc9e64 30px,#ffb372 35px,#fe9f65 37px,#ffb272 41px,#ffb372 42px,#ffa468 44px,#ffb473 48px,#ffb271 49px,#ffa86b 50px,#ffa86b 51px,#ffb573 55px,#ffa76b 57px,#ffb573 62px,#ffaa6c 64px,#ffb674 68px,#ffad6e 71px,#ffb774 75px,#ffad6e 77px,#ffb775 82px,#ffaf6f 84px,#ffb775 88px,#ffb070 91px,#ffb875 95px,#ffb171 97px,#ffb976 102px,#ffb271 104px,#ffb875 108px,#ffb372 111px,#ffb976 115px,#ffb473 118px,#ffba76 122px,#ffb573 124px,#ffba76 129px,#ffb574 131px,#fb7 149px,#ffb775 151px,#fb7 169px,#ffc17b 574px)"></i>
<i style="background:linear-gradient(90deg,#ffab6d 0,#ffab6d 2px,#f49861 3px,#f59961 4px,#ffa368 5px,#ffb070 8px,#ffa96c 9px,#f39861 10px,#ff9f65 11px,#ffac6e 13px,#ffb070 15px,#fb9d64 17px,#ffaa6d 19px,#ffb171 21px,#ffa267 24px,#ffb372 28px,#ffae6f 29px,#ffa368 30px,#ffb372 35px,#ffa66a 37px,#ffb472 41px,#ffa96c 44px,#ffb573 48px,#ffab6d 50px,#ffb674 55px,#ffac6d 57px,#ffb674 61px,#ffae6f 64px,#ffb774 68px,#ffb070 70px,#ffb875 75px,#ffb070 77px,#ffb875 82px,#ffb271 84px,#ffb875 88px,#ffb372 91px,#ffb976 95px,#ffb372 97px,#ffb976 102px,#ffb473 104px,#ffb976 108px,#ffb573 111px,#ffba77 115px,#ffb674 117px,#fb7 122px,#ffb674 124px,#ffbc77 142px,#ffb875 144px,#ffbc78 162px,#ffc17b 574px)"></i>
<i style="background:linear-gradient(90deg,#ffac6e 0,#ffab6d 2px,#fb9d64 3px,#ffa066 4px,#ffb070 8px,#fe9f65 10px,#ffb070 14px,#ffb070 15px,#ffa368 17px,#ffb271 21px,#ffa76a 23px,#ffb372 28px,#ffa76b 30px,#ffb472 35px,#ffaa6c 37px,#ffb573 41px,#ffad6e 44px,#ffb674 48px,#ffad6e 50px,#ffb674 55px,#ffaf6f 57px,#ffb774 61px,#ffb170 64px,#ffb875 68px,#ffb171 70px,#ffb976 75px,#ffb272 77px,#ffb875 81px,#ffb372 84px,#ffba76 95px,#ffb573 97px,#ffba76 102px,#ffb674 104px,#ffba77 108px,#ffb774 111px,#fb7 115px,#ffb775 117px,#fb7 122px,#ffb875 124px,#ffbd78 162px,#ffc27c 574px)"></i>
<i style="background:linear-gradient(90deg,#ffad6e 0,#ffaf70 1px,#ffa166 3px,#ffb070 8px,#ffa468 10px,#ffb171 14px,#ffa86b 17px,#ffb372 21px,#ffa96c 23px,#ffb473 28px,#ffab6d 30px,#ffb473 34px,#ffad6e 37px,#ffb573 41px,#ffaf6f 43px,#ffb774 48px,#ffaf70 50px,#ffb774 55px,#ffb171 57px,#ffb775 61px,#ffb272 64px,#ffb875 68px,#ffb372 70px,#ffb976 75px,#ffb473 77px,#ffb976 81px,#ffb573 84px,#ffba76 88px,#ffb574 90px,#fb7 95px,#ffb674 97px,#ffbc78 115px,#ffb875 117px,#ffbe79 162px,#ffc37c 574px)"></i>
<i style="background:linear-gradient(90deg,#ffae6f 0,#ffb070 1px,#ffa469 3px,#ffb070 7px,#ffa76b 10px,#ffb271 14px,#ffaa6c 17px,#ffb372 21px,#ffab6d 23px,#ffb473 28px,#ffad6e 30px,#ffb573 34px,#ffaf6f 37px,#ffb674 41px,#ffb070 43px,#ffb775 48px,#ffb171 50px,#ffb775 54px,#ffb372 57px,#ffb976 68px,#ffb473 70px,#ffb976 74px,#ffb573 77px,#fb7 88px,#ffb774 90px,#fb7 95px,#ffb775 97px,#fb7 101px,#ffbe79 155px,#ffc37c 574px)"></i>
<i style="height:2px;background:linear-gradient(90deg,#ffaf70 0,#ffa86b 3px,#ffb171 7px,#ffab6d 10px,#ffb372 14px,#ffac6e 16px,#ffb473 21px,#ffae6f 23px,#ffb473 27px,#ffaf70 30px,#ffb674 34px,#ffb171 36px,#ffb774 41px,#ffb271 43px,#ffb774 47px,#ffb372 50px,#ffb976 61px,#ffb573 63px,#ffba76 68px,#ffb674 70px,#fb7 81px,#ffb775 83px,#fb7 88px,#ffb875 90px,#ffbf7a 155px,#ffc47d 574px)"></i>
<i style="height:3px;background:linear-gradient(90deg,#ffb070 0,#ffac6e 3px,#ffb271 7px,#ffad6e 9px,#ffb472 14px,#ffaf6f 16px,#ffb473 20px,#ffb170 23px,#ffb674 27px,#ffb271 29px,#ffb774 34px,#ffb372 36px,#ffb775 40px,#ffb473 43px,#ffb875 47px,#ffb574 50px,#ffb976 54px,#ffb674 56px,#ffba76 61px,#ffb775 63px,#fb7 74px,#ffb976 76px,#ffbc78 81px,#ffb976 83px,#ffbd78 94px,#fb7 96px,#ffbd79 101px,#fb7 103px,#ffc07a 148px,#ffc57d 574px)"></i>
<i style="height:4px;background:linear-gradient(90deg,#ffb271 0,#ffae6f 2px,#ffb372 7px,#ffb070 9px,#ffb473 13px,#ffb271 16px,#ffb574 20px,#ffb372 22px,#ffb774 27px,#ffb473 29px,#ffb976 47px,#ffb775 49px,#ffbc77 67px,#ffc17b 161px,#ffc57e 574px)"></i>
<i style="height:4px;background:linear-gradient(90deg,#ffb271 0,#ffaf70 2px,#ffb372 6px,#ffb170 8px,#ffb573 13px,#ffb271 15px,#ffb674 20px,#ffb472 22px,#ffb775 26px,#ffbc77 60px,#ffc37c 167px,#ffc67e 574px)"></i>
<i style="background:linear-gradient(90deg,#ffb271 0,#ffab6d 1px,#ffb472 6px,#ffb272 7px,#ffab6d 8px,#ffb372 10px,#ffb573 12px,#ffb573 13px,#ffaf6f 15px,#ffb674 18px,#ffb674 20px,#ffb271 22px,#ffb775 26px,#ffb271 28px,#ffb875 32px,#ffb473 35px,#ffb976 39px,#ffb674 42px,#fb7 53px,#ffb875 55px,#ffbc78 59px,#ffba76 62px,#ffbd79 73px,#ffc37c 160px,#ffc67e 574px)"></i>
<i style="background:linear-gradient(90deg,#ffb171 0,#ffa267 1px,#ffaf6f 3px,#ffb473 6px,#ffb171 7px,#ffa569 8px,#ffb271 10px,#ffb573 12px,#ffb573 13px,#ffaa6c 15px,#ffb473 17px,#ffb674 19px,#ffb674 20px,#ffad6e 21px,#ffb875 26px,#ffb674 27px,#ffad6e 28px,#ffb875 32px,#ffb170 35px,#ffb976 39px,#ffb472 42px,#ffba77 46px,#ffb472 48px,#fb7 53px,#ffb674 55px,#ffbc78 59px,#ffb875 62px,#ffbd78 66px,#ffb976 68px,#ffbd79 73px,#ffba76 75px,#ffbe79 79px,#ffc17b 113px,#ffc67e 574px)"></i>
<i style="background:linear-gradient(90deg,#ffaf70 0,#eb935d 1px,#ff9f65 2px,#ffac6e 3px,#ffb372 5px,#ffb472 6px,#ffac6d 7px,#f59961 8px,#ffa76a 9px,#ffb070 10px,#ffb573 12px,#ffb573 13px,#ffa569 14px,#ffa066 15px,#ffb372 17px,#ffb573 20px,#ffa066 21px,#ffb171 23px,#ffb875 26px,#ffb372 27px,#ffa368 28px,#ffb473 30px,#ffb875 32px,#ffb875 33px,#ffa96b 35px,#ffb774 37px,#ffb976 39px,#ffb875 40px,#ffab6d 41px,#ffb976 44px,#ffba77 46px,#ffb875 47px,#ffac6d 48px,#ffb875 50px,#fb7 52px,#fb7 53px,#ffb070 55px,#ffba76 57px,#ffbc78 59px,#ffb372 62px,#ffbd78 66px,#fb7 67px,#ffb372 68px,#ffbd78 72px,#ffb573 75px,#ffbd79 78px,#ffb875 82px,#ffbf79 86px,#ffb875 88px,#ffbf7a 93px,#ffb976 95px,#ffc07a 99px,#fb7 102px,#ffc07a 106px,#ffbc78 108px,#ffc17b 113px,#ffbd78 115px,#ffc17b 119px,#ffc37c 160px,#ffc67e 574px)"></i>
<i style="background:linear-gradient(90deg,#ffa86b 0,#d18253 1px,#ec945e 2px,#ffa76b 3px,#ffb171 4px,#ffb372 5px,#ffb372 6px,#fc9e64 7px,#dd8a58 8px,#fb9d64 9px,#ffad6e 10px,#ffb573 12px,#ffb372 13px,#ea925d 14px,#ea925d 15px,#ffa569 16px,#ffb171 17px,#ffb674 19px,#ffb070 20px,#e28d5a 21px,#f99b63 22px,#ffac6e 23px,#ffb774 25px,#ffb775 26px,#ffaa6c 27px,#ec945e 28px,#ffa468 29px,#ffb171 30px,#ffb875 32px,#ffb775 33px,#ffa066 34px,#f89b63 35px,#ffab6d 36px,#ffb573 37px,#ffb976 39px,#ffb674 40px,#f69a62 41px,#ffa368 42px,#ffb070 43px,#ffba76 45px,#ffba77 46px,#ffb271 47px,#fc9d64 48px,#ffb473 50px,#ffb976 51px,#fb7 53px,#ffab6d 54px,#ffa368 55px,#ffb775 57px,#fb7 58px,#ffba76 60px,#ffa569 61px,#ffba76 64px,#ffbd78 66px,#ffb875 67px,#ffa66a 68px,#ffb775 70px,#ffbd78 72px,#ffbd78 73px,#ffab6d 75px,#ffba76 77px,#ffbe79 79px,#ffbd78 80px,#ffaf6f 81px,#ffaf70 82px,#ffbc78 84px,#ffbf79 86px,#fb7 87px,#ffad6e 88px,#ffba76 90px,#ffbf79 92px,#ffbf7a 93px,#ffb171 95px,#ffbe79 98px,#ffbf7a 100px,#ffb674 101px,#ffb473 102px,#ffbe79 104px,#ffc07a 106px,#ffbe79 107px,#ffb473 108px,#ffc07a 112px,#ffc17b 113px,#ffb674 115px,#ffc17b 119px,#ffb875 122px,#ffc17b 125px,#ffc07a 127px,#ffb976 128px,#ffc27b 133px,#ffba77 135px,#ffc27b 139px,#ffbd78 142px,#ffc27c 146px,#ffbe79 148px,#ffc27c 153px,#ffbf79 155px,#ffc27c 160px,#ffc47d 259px,#ffc67e 574px)"></i>
<i style="background:linear-gradient(90deg,#f39861 0,#b77249 1px,#d58555 2px,#ffa066 3px,#ffaf6f 4px,#ffb271 6px,#d78655 7px,#c2794d 8px,#e7905c 9px,#ffa86b 10px,#ffb272 11px,#ffb573 12px,#ffae6f 13px,#c37a4e 14px,#d08253 15px,#f79a62 16px,#ffae6f 17px,#ffb674 19px,#ffa468 20px,#c37a4e 21px,#ffa368 23px,#ffb271 24px,#ffb674 26px,#ee955f 27px,#ce8152 28px,#ef955f 29px,#ffab6d 30px,#ffb573 31px,#ffb875 32px,#ffb473 33px,#d98756 34px,#dc8957 35px,#fe9f65 36px,#ffb070 37px,#ffb976 39px,#ffad6e 40px,#d28353 41px,#ffa76a 43px,#ffb573 44px,#ffb976 45px,#ffba76 46px,#ffa267 47px,#dc8957 48px,#f89b63 49px,#ffae6f 50px,#ffb875 51px,#ffb976 53px,#ee955f 54px,#e7915c 55px,#ffa368 56px,#ffb372 57px,#ffbc78 59px,#ffb473 60px,#e38e5a 61px,#f49861 62px,#ffaa6d 63px,#ffb774 64px,#ffbc78 66px,#ffac6d 67px,#e9925d 68px,#ffa066 69px,#ffb070 70px,#ffbd78 72px,#ffbc77 73px,#ffa167 74px,#f39861 75px,#ffa76b 76px,#ffb573 77px,#fb7 78px,#ffbe79 79px,#ffb976 80px,#f59961 81px,#fe9f65 82px,#ffb875 84px,#ffbe79 86px,#ffb372 87px,#f69a62 88px,#ffa569 89px,#ffb372 90px,#ffbe79 92px,#ffbe79 93px,#ffab6d 94px,#fe9f65 95px,#ffb774 97px,#ffbd78 98px,#ffbc78 100px,#ffa468 101px,#ffa569 102px,#ffba76 104px,#ffc07a 106px,#ffb875 107px,#ffa167 108px,#ffb573 110px,#ffbf7a 112px,#ffc07a 113px,#ffa669 115px,#ffbe79 118px,#ffbe79 120px,#ffac6e 121px,#ffaa6c 122px,#fb7 124px,#ffc17b 126px,#ffbc78 127px,#ffa96b 128px,#ffbd78 131px,#ffc17b 133px,#ffad6e 135px,#ffc17b 139px,#ffc07a 140px,#ffb573 141px,#ffb271 142px,#ffc17b 146px,#ffb473 148px,#ffc17b 153px,#ffb674 155px,#ffc17b 159px,#ffb976 162px,#ffc17b 166px,#fb7 168px,#ffc17b 173px,#ffbc78 175px,#ffc07b 180px,#ffc57d 574px)"></i>
<i style="background:linear-gradient(90deg,#c97e50 0,#a36641 1px,#bd764b 2px,#ee955f 3px,#ffac6d 4px,#ffb372 5px,#ffad6e 6px,#b06e46 7px,#ab6b44 8px,#ce8152 9px,#fe9f65 10px,#ffb070 11px,#ffb573 12px,#ffa066 13px,#a56742 14px,#b67248 15px,#e08c59 16px,#ffa76b 17px,#ffb372 18px,#ffb674 19px,#df8c59 20px,#aa6a44 21px,#c37a4e 22px,#f19760 23px,#ffae6f 24px,#ffb674 25px,#ffb372 26px,#c1794d 27px,#b26f47 28px,#d38454 29px,#ffa166 30px,#ffb272 31px,#ffb875 32px,#ffa96c 33px,#b16f47 34px,#bd764b 35px,#e48f5b 36px,#ffa96b 37px,#ffb674 38px,#ffb976 39px,#f39861 40px,#b26f47 41px,#ca7e50 42px,#f49961 43px,#ffaf6f 44px,#ffb875 45px,#ffb775 46px,#d58555 47px,#ba744a 48px,#d98856 49px,#ffa267 50px,#ffb472 51px,#ffba76 52px,#ffb170 53px,#c1784d 54px,#c57b4e 55px,#e9915d 56px,#ffaa6c 57px,#ffb775 58px,#fb7 59px,#ffa368 60px,#bb754b 61px,#d18353 62px,#f79b62 63px,#ffb070 64px,#ffba76 65px,#ffba77 66px,#e9925d 67px,#c37a4e 68px,#ffa368 70px,#ffb473 71px,#fb7 72px,#ffb674 73px,#d28354 74px,#cd8052 75px,#ed945e 76px,#ffaa6d 77px,#ffb875 78px,#ffbd78 79px,#ffab6d 80px,#c77c4f 81px,#d98856 82px,#fb9d64 83px,#ffb070 84px,#fb7 85px,#ffbd78 86px,#fa9c64 87px,#cd8052 88px,#ffa469 90px,#ffb573 91px,#ffbc78 92px,#ffb976 93px,#e48f5b 94px,#d68655 95px,#f29760 96px,#ffab6d 97px,#ffb875 98px,#ffbe79 99px,#ffb171 100px,#d68655 101px,#e18d5a 102px,#fe9f65 103px,#ffb171 104px,#fb7 105px,#ffbf79 106px,#ffa569 107px,#d78756 108px,#ffa66a 110px,#ffb573 111px,#ffbd78 112px,#ffbc78 113px,#f59961 114px,#e08c59 115px,#f79b62 116px,#ffac6e 117px,#ffb976 118px,#ffbe79 119px,#ffb674 120px,#e6905b 121px,#e9925d 122px,#ffa167 123px,#ffb171 124px,#ffc07a 126px,#ffac6e 127px,#e28d5a 128px,#ffa76b 130px,#ffbd78 132px,#ffbe79 133px,#ffa368 134px,#ed945e 135px,#ffa066 136px,#ffb875 138px,#ffbe79 139px,#ffb875 140px,#fb9d64 141px,#f99c63 142px,#ffa66a 143px,#ffbe79 146px,#ffb271 147px,#fb9d64 148px,#ffb473 151px,#ffbd78 153px,#ffa267 155px,#fb7 159px,#ffb875 160px,#ffa96c 161px,#ffa76a 162px,#fb7 166px,#ffaa6c 168px,#fb7 173px,#ffac6e 175px,#ffb875 179px,#ffb070 182px,#ffb875 186px,#ffb271 188px,#ffb774 193px,#ffbf79 574px)"></i>
<i style="background:linear-gradient(90deg,#a56742 0,#955d3b 1px,#a96a43 2px,#da8857 3px,#ffa76a 4px,#ffb271 5px,#fd9e65 6px,#975f3c 7px,#9b613d 8px,#b77249 9px,#ec935e 10px,#ffad6e 11px,#ffb473 12px,#d58555 13px,#955d3b 14px,#a26540 15px,#c67c4f 16px,#fc9e64 17px,#ffb171 18px,#ffb271 19px,#b26f47 20px,#985f3d 21px,#ac6b44 22px,#ffa66a 24px,#ffb473 25px,#ffa76a 26px,#a06440 27px,#9e633f 28px,#b87349 29px,#ea925d 30px,#ffad6e 31px,#ffb774 32px,#e7915c 33px,#99603d 34px,#a56742 35px,#c77c4f 36px,#fa9c64 37px,#ffb271 38px,#ffb674 39px,#c2794d 40px,#9c623e 41px,#ae6d45 42px,#ffa569 44px,#ffb674 45px,#ffad6e 46px,#ab6b44 47px,#a26540 48px,#ba744a 49px,#e8915c 50px,#ffac6e 51px,#ffb875 52px,#f79a62 53px,#a06440 54px,#a96943 55px,#c77d4f 56px,#f79b62 57px,#ffb271 58px,#ffb976 59px,#d38454 60px,#a16540 61px,#b16f47 62px,#ffa368 64px,#ffb674 65px,#ffb272 66px,#b77249 67px,#a66842 68px,#bc764b 69px,#e6905c 70px,#ffab6d 71px,#ffb976 72px,#ffa267 73px,#a96943 74px,#ad6c45 75px,#c97d50 76px,#f59961 77px,#ffb170 78px,#fb7 79px,#e28e5a 80px,#a66842 81px,#b57148 82px,#d68655 83px,#ffa167 84px,#ffb573 85px,#ffb674 86px,#c57b4e 87px,#ab6b44 88px,#bf774c 89px,#e58f5b 90px,#ffa96b 91px,#ffb875 92px,#ffa96c 93px,#b37047 94px,#b16f46 95px,#ca7e50 96px,#f29760 97px,#ffaf6f 98px,#fb7 99px,#f09660 100px,#ac6b44 101px,#b9734a 102px,#d78655 103px,#ff9f65 104px,#ffb372 105px,#ffb976 106px,#d38454 107px,#b06e46 108px,#c2794d 109px,#ffa66a 111px,#ffb775 112px,#ffae6f 113px,#bf774c 114px,#b67148 115px,#cc8051 116px,#f09660 117px,#ffac6e 118px,#ffba76 119px,#fb9d64 120px,#b47148 121px,#bd764b 122px,#d88756 123px,#fc9d64 124px,#ffb171 125px,#fb7 126px,#e08c59 127px,#b57148 128px,#c57b4f 129px,#ffa468 131px,#ffb573 132px,#ffb070 133px,#cd8051 134px,#be774c 135px,#d28353 136px,#ef955f 137px,#ffa86b 138px,#ffb674 139px,#ffa167 140px,#c57b4f 141px,#c97e50 142px,#f89b63 144px,#ffab6d 145px,#ffb674 146px,#ee955f 147px,#c87d50 148px,#d48555 149px,#fe9f65 151px,#ffac6e 152px,#ffad6e 153px,#e18c59 154px,#d28353 155px,#ffa267 158px,#ffad6e 159px,#ffa267 160px,#dc8957 161px,#db8957 162px,#ffa368 165px,#ffac6e 166px,#f59962 167px,#dd8a58 168px,#ffa468 172px,#ffa76a 173px,#ee955f 174px,#e48f5b 175px,#fc9d64 178px,#ffa368 179px,#fe9f65 180px,#ed945e 181px,#eb935e 182px,#ffa167 186px,#ef955f 188px,#fd9e65 193px,#f49861 195px,#f89b63 199px,#ff9f65 313px,#ffaa6c 574px)"></i>
<i style="background:linear-gradient(90deg,#905a39 0,#8c5738 1px,#9b613e 2px,#c37a4e 3px,#fe9f65 4px,#ffb170 5px,#d18253 6px,#8a5637 7px,#905a39 8px,#a46741 9px,#d58555 10px,#ffa76a 11px,#ffb271 12px,#aa6a44 13px,#8b5737 14px,#955d3b 15px,#b06e46 16px,#e8915c 17px,#ffad6e 18px,#ffa66a 19px,#975e3c 20px,#8e5838 21px,#9b613e 22px,#be774c 23px,#f89b63 24px,#ffb271 25px,#e08c59 26px,#8e5939 27px,#915b3a 28px,#a36641 29px,#cf8152 30px,#ffa469 31px,#ffb573 32px,#b67248 33px,#8d5838 34px,#965e3c 35px,#ad6c45 36px,#e18c59 37px,#ffab6d 38px,#ffac6d 39px,#9e633f 40px,#8f5a39 41px,#9b613e 42px,#ba744a 43px,#f19760 44px,#ffb171 45px,#ed945e 46px,#935c3b 47px,#935c3a 48px,#a36641 49px,#c97d50 50px,#ffa066 51px,#ffb573 52px,#c2794d 53px,#8f5a39 54px,#975e3c 55px,#ac6b44 56px,#d98756 57px,#ffa86b 58px,#ffb070 59px,#a66842 60px,#915b3a 61px,#9c623e 62px,#b77249 63px,#e9915d 64px,#ffae6f 65px,#f89b63 66px,#995f3d 67px,#945d3b 68px,#a36641 69px,#c37a4e 70px,#f79a62 71px,#ffb372 72px,#ce8152 73px,#935c3a 74px,#985f3d 75px,#aa6b44 76px,#d18353 77px,#ffa368 78px,#ffb372 79px,#af6e46 80px,#935c3b 81px,#9d623e 82px,#b47048 83px,#e08c59 84px,#ffaa6c 85px,#ffa066 86px,#9f633f 87px,#965e3c 88px,#a36641 89px,#bf774c 90px,#ee955f 91px,#ffaf70 92px,#d98856 93px,#975e3c 94px,#9a603d 95px,#aa6a44 96px,#cb7f51 97px,#fb9d64 98px,#ffb473 99px,#b87349 100px,#965e3c 101px,#9e633f 102px,#b26f47 103px,#ffa468 105px,#ffa469 106px,#a56742 107px,#985f3d 108px,#a36641 109px,#bb754b 110px,#e58f5b 111px,#ffaa6c 112px,#e28d5a 113px,#9c613e 114px,#9b613e 115px,#a96a43 116px,#c67c4f 117px,#f19760 118px,#ffaf70 119px,#c1794d 120px,#985f3d 121px,#9f633f 122px,#b06e46 123px,#d18353 124px,#fc9e64 125px,#ffa76a 126px,#ac6c45 127px,#9a603d 128px,#a46641 129px,#b87349 130px,#ffa368 132px,#e7915c 133px,#a26541 134px,#9f633f 135px,#ab6b44 136px,#c1794d 137px,#ffa469 139px,#c87d50 140px,#a06440 141px,#a56742 142px,#b27047 143px,#fe9f65 146px,#b67249 147px,#a36641 148px,#b9744a 150px,#ea925d 152px,#df8b59 153px,#ae6d45 154px,#a96943 155px,#bf784c 157px,#ea925d 159px,#ac6b44 161px,#ae6d45 162px,#b77249 163px,#e7905c 166px,#bd764b 167px,#ae6d45 168px,#bb754b 170px,#d38454 172px,#d38454 173px,#b87349 174px,#b37047 175px,#d18253 179px,#b77349 181px,#bc754b 183px,#cc8051 186px,#b9744a 188px,#c57b4e 193px,#bd764b 195px,#bf774c 234px,#dd8a58 574px)"></i>
<i style="background:linear-gradient(90deg,#855335 0,#855335 1px,#915a3a 2px,#af6d46 3px,#ed945e 4px,#ffae6f 5px,#a66842 6px,#835234 7px,#885536 8px,#975e3c 9px,#be774c 10px,#fd9e65 11px,#ffa76a 12px,#925b3a 13px,#845335 14px,#8c5738 15px,#9f633f 16px,#ffa76a 18px,#df8b59 19px,#895536 20px,#865435 21px,#905a39 22px,#a96a43 23px,#e28d5a 24px,#ffad6e 25px,#af6e46 26px,#855335 27px,#895636 28px,#955d3b 29px,#b57148 30px,#f29760 31px,#ffac6d 32px,#975e3c 33px,#865335 34px,#8c5738 35px,#9c613e 36px,#c47b4e 37px,#ffa166 38px,#e9915d 39px,#8c5838 40px,#875536 41px,#905a39 42px,#a46641 43px,#ffa86b 45px,#b87349 46px,#875536 47px,#895637 48px,#945c3b 49px,#ae6d45 50px,#e58f5b 51px,#ffaf6f 52px,#9d623e 53px,#875436 54px,#8c5838 55px,#99603d 56px,#ba744a 57px,#f49861 58px,#f09660 59px,#905a39 60px,#885536 61px,#8f5a39 62px,#a06440 63px,#c87d4f 64px,#ffa167 65px,#c0784c 66px,#8a5637 67px,#8a5637 68px,#935c3b 69px,#a86943 70px,#ffa86b 72px,#a26541 73px,#885536 74px,#8c5838 75px,#985f3c 76px,#b26f47 77px,#e58f5b 78px,#f59962 79px,#945c3b 80px,#895637 81px,#8f5939 82px,#9d623e 83px,#bc764b 84px,#f29760 85px,#c77c4f 86px,#8d5838 87px,#8b5737 88px,#925b3a 89px,#a36641 90px,#c97d50 91px,#ff9f65 92px,#a76943 93px,#8a5637 94px,#965e3c 96px,#ab6b44 97px,#d58555 98px,#f99b63 99px,#975f3c 100px,#8a5637 101px,#9b613e 103px,#b37047 104px,#e28d5a 105px,#cc7f51 106px,#8f5a39 107px,#8b5737 108px,#925b3a 109px,#a06440 110px,#bd764b 111px,#ee955f 112px,#ac6b44 113px,#8c5738 114px,#8d5838 115px,#955d3b 116px,#a66842 117px,#c77d4f 118px,#f99c63 119px,#9b613e 120px,#8b5737 121px,#995f3d 123px,#ac6c45 124px,#d28354 125px,#cf8152 126px,#925b3a 127px,#8c5838 128px,#925b3a 129px,#9d623e 130px,#b47047 131px,#db8957 132px,#af6d46 133px,#8e5939 134px,#8f5939 135px,#a26540 137px,#b87349 138px,#dc8957 139px,#9e633f 140px,#8e5939 141px,#995f3d 143px,#a56742 144px,#bb754a 145px,#c2794d 146px,#975e3c 147px,#905a39 148px,#9c623e 150px,#a86943 151px,#bb754b 152px,#ab6b44 153px,#945c3b 154px,#935c3a 155px,#9f633f 157px,#ba744a 159px,#a06440 160px,#935c3b 161px,#9a603d 163px,#b26f47 166px,#9b613e 167px,#955d3b 168px,#a96a43 172px,#a56742 173px,#995f3d 174px,#975f3c 175px,#a76842 179px,#995f3d 181px,#a46641 186px,#9a603d 188px,#9f633f 192px,#9b613e 195px,#9b613e 234px,#bd764b 574px)"></i>
<i style="background:linear-gradient(90deg,#7f4f32 0,#815033 1px,#8a5637 2px,#a06440 3px,#da8857 4px,#ffa96c 5px,#8f5939 6px,#7e4f32 7px,#8e5938 9px,#ab6b44 10px,#eb935e 11px,#e28d5a 12px,#855335 13px,#7f5033 14px,#865335 15px,#935c3b 16px,#b97349 17px,#fb9d64 18px,#ad6c45 19px,#815033 20px,#815133 21px,#895536 22px,#9a603d 23px,#c87d50 24px,#ffa569 25px,#935c3b 26px,#7f4f33 27px,#8c5838 29px,#a26541 30px,#da8857 31px,#e9915d 32px,#885536 33px,#805033 34px,#905a39 36px,#ad6c45 37px,#ea925d 38px,#835234 40px,#825134 41px,#885536 42px,#955d3b 43px,#b9734a 44px,#f99b63 45px,#975e3c 46px,#805033 47px,#8b5737 49px,#9c613e 50px,#ed945e 52px,#8b5737 53px,#815133 54px,#8e5939 56px,#a36641 57px,#d68655 58px,#b87349 59px,#855335 60px,#825134 61px,#875436 62px,#925b3a 63px,#ac6c45 64px,#e58f5b 65px,#9a603d 66px,#825134 67px,#835234 68px,#8a5637 69px,#975e3c 70px,#b77249 71px,#ef955f 72px,#8d5838 73px,#815134 74px,#8c5838 76px,#9c623e 77px,#c2794d 78px,#bb754a 79px,#875436 80px,#825134 81px,#875436 82px,#8f5a39 83px,#a36641 84px,#cf8152 85px,#9d623f 86px,#835234 87px,#845234 88px,#935c3b 90px,#aa6a44 91px,#db8957 92px,#8f5a39 93px,#825134 94px,#8b5737 96px,#975f3c 97px,#b37047 98px,#bc764b 99px,#885536 100px,#835234 101px,#8e5838 103px,#9c613e 104px,#bc754b 105px,#855335 107px,#845234 108px,#905a39 110px,#a16540 111px,#c67c4f 112px,#915b3a 113px,#835234 114px,#8a5637 116px,#935c3b 117px,#bc754b 119px,#8a5637 120px,#835234 121px,#8c5838 123px,#975e3c 124px,#ae6d45 125px,#a06440 126px,#865435 127px,#885536 129px,#9b613e 131px,#b37047 132px,#925b3a 133px,#845335 134px,#905a3a 137px,#9d623e 138px,#b16f46 139px,#8c5738 140px,#855335 141px,#8b5738 143px,#9d623f 145px,#9b613e 146px,#895536 147px,#865435 148px,#8d5838 150px,#9d623f 152px,#875536 154px,#8e5939 157px,#9c623e 159px,#8d5838 160px,#885536 161px,#955d3b 166px,#8b5737 167px,#895536 168px,#935c3a 172px,#8a5637 175px,#925b3a 179px,#8a5637 181px,#8f5939 186px,#8b5737 188px,#8b5737 234px,#ac6c45 574px)"></i>
<i style="background:linear-gradient(90deg,#7a4c30 0,#845335 2px,#955d3b 3px,#c47b4e 4px,#ea925d 5px,#845234 6px,#7a4c31 7px,#875536 9px,#9d623e 10px,#d68655 11px,#af6e46 12px,#7e4f32 13px,#7c4d31 14px,#815033 15px,#8b5737 16px,#a66842 17px,#e7905c 18px,#925b3a 19px,#7b4d31 20px,#7d4e32 21px,#905a39 23px,#b26f47 24px,#ee955f 25px,#865435 26px,#7b4d31 27px,#865435 29px,#955d3b 30px,#c0784c 31px,#b37047 32px,#805033 33px,#7c4d31 34px,#805033 35px,#895536 36px,#9c613e 37px,#cf8152 38px,#945d3b 39px,#7d4e32 40px,#825134 42px,#8c5838 43px,#a46641 44px,#df8b59 45px,#885536 46px,#7c4d31 47px,#845335 49px,#905a39 50px,#ad6c45 51px,#b57148 52px,#825134 53px,#7c4e31 54px,#805033 55px,#875436 56px,#955d3b 57px,#b87349 58px,#965e3c 59px,#7e4f32 60px,#7d4e32 61px,#895637 63px,#9a603d 64px,#c47b4e 65px,#895637 66px,#7c4e31 67px,#835234 69px,#8c5838 70px,#b47148 72px,#835234 73px,#7d4e32 74px,#855335 76px,#905a39 77px,#a76943 78px,#975e3c 79px,#7f4f33 80px,#815133 82px,#935c3b 84px,#b06e46 85px,#8a5737 86px,#7d4e32 87px,#7e4f32 88px,#895637 90px,#975f3c 91px,#b37047 92px,#845335 93px,#7d4e32 94px,#845235 96px,#8c5738 97px,#9c623e 98px,#975f3c 99px,#805033 100px,#805033 102px,#8f5939 104px,#a16540 105px,#8b5737 106px,#7e4f32 107px,#7e4f32 108px,#875536 110px,#915b3a 111px,#a76842 112px,#855335 113px,#7d4e32 114px,#835234 116px,#955d3b 118px,#975e3c 119px,#815133 120px,#7e4e32 121px,#845335 123px,#985f3c 125px,#7f4f32 127px,#7e4f32 128px,#865435 130px,#9b613e 132px,#865435 133px,#7e4f32 134px,#825134 136px,#935c3a 139px,#825134 140px,#7f4f32 141px,#8e5939 145px,#815033 147px,#805033 148px,#8e5938 152px,#805033 154px,#8c5838 159px,#805033 161px,#885536 165px,#815133 168px,#885536 172px,#825134 174px,#875436 179px,#825134 181px,#825134 234px,#a16440 574px)"></i>
<i style="background:linear-gradient(90deg,#764a2f 0,#805033 2px,#8d5838 3px,#b16f47 4px,#b67248 5px,#7c4e32 6px,#774a2f 7px,#7b4d31 8px,#835234 9px,#925b3a 10px,#c0784c 11px,#925b3a 12px,#794b30 13px,#7d4e32 15px,#865335 16px,#99603d 17px,#d08253 18px,#855335 19px,#774a2f 20px,#7f4f33 22px,#895536 23px,#b77249 25px,#7e4f32 26px,#774b2f 27px,#815133 29px,#8c5838 30px,#aa6b44 31px,#7a4c31 33px,#7c4e31 35px,#835234 36px,#915a3a 37px,#b67248 38px,#865435 39px,#784b30 40px,#865435 43px,#965e3c 44px,#b67248 45px,#7f5033 46px,#784b30 47px,#885536 50px,#9c613e 51px,#945d3b 52px,#7b4d31 53px,#7c4d31 55px,#8b5737 57px,#a36641 58px,#875436 59px,#794b30 60px,#794c30 61px,#835234 63px,#8f5939 64px,#ab6b44 65px,#805033 66px,#784b30 67px,#7f4f32 69px,#925b3a 71px,#945c3b 72px,#7c4e31 73px,#784b30 74px,#885536 77px,#975e3c 78px,#794c30 80px,#794c30 81px,#8a5637 84px,#9b613e 85px,#815133 86px,#784b30 87px,#7e4e32 89px,#935c3a 92px,#7d4e32 93px,#784b30 94px,#7f4f32 96px,#8f5939 98px,#7a4c31 100px,#794c30 101px,#805033 103px,#925b3a 105px,#825134 106px,#794b30 107px,#815133 110px,#915b3a 112px,#7e4e32 113px,#784b30 114px,#7e4f32 116px,#8a5637 118px,#875536 119px,#7b4d31 120px,#794c30 121px,#7f4f32 123px,#8c5738 125px,#794c30 127px,#794c30 128px,#805033 130px,#8d5838 132px,#7e4f32 133px,#794b30 134px,#865435 139px,#7c4d31 140px,#794c30 141px,#855335 145px,#7a4d31 147px,#7a4c31 148px,#855335 152px,#7a4c31 154px,#825234 159px,#7b4d31 161px,#815133 165px,#7b4d31 168px,#805033 172px,#7b4d31 174px,#7f5033 179px,#7c4d31 181px,#7b4d31 234px,#975e3c 574px)"></i>
<i style="background:linear-gradient(90deg,#73482e 0,#7d4e32 2px,#875536 3px,#a26541 4px,#955d3b 5px,#774a2f 6px,#74482e 7px,#784b30 8px,#8b5737 10px,#ad6c45 11px,#855335 12px,#74482e 13px,#75492f 14px,#815133 16px,#905a39 17px,#ba744a 18px,#7d4e32 19px,#73482e 20px,#845234 23px,#955d3b 24px,#955d3b 25px,#784b30 26px,#74482e 27px,#774b30 28px,#865435 30px,#9b613e 31px,#75492f 33px,#75492f 34px,#7f4f33 36px,#895637 37px,#a36641 38px,#7e4f32 39px,#74482e 40px,#7a4c31 42px,#945d3b 45px,#794c30 46px,#74492e 47px,#7c4d31 49px,#905a39 51px,#764a2f 53px,#75492e 54px,#855335 57px,#955d3b 58px,#7f4f32 59px,#74492e 60px,#7f4f32 63px,#935c3a 65px,#7a4c31 66px,#74492e 67px,#7b4d31 69px,#8a5637 71px,#865435 72px,#774a2f 73px,#75492e 74px,#7c4d31 76px,#8c5838 78px,#75492e 80px,#75492f 81px,#7d4e32 83px,#8f5939 85px,#7a4d31 86px,#74492e 87px,#855335 91px,#855335 92px,#774b2f 93px,#74492e 94px,#875436 98px,#75492f 100px,#75492f 101px,#7b4d31 103px,#895536 105px,#7b4d31 106px,#74492e 107px,#855335 112px,#784b30 113px,#74492e 114px,#835234 118px,#75492f 120px,#75492e 121px,#845335 125px,#74492e 127px,#835234 132px,#784b30 133px,#74492e 134px,#805033 138px,#75492f 141px,#7f5033 145px,#75492f 147px,#7f4f33 152px,#75492f 154px,#7c4d31 158px,#764a2f 161px,#7b4d31 165px,#764a2f 167px,#7b4d31 172px,#764a2f 174px,#75492f 234px,#8e5939 574px)"></i>
<i style="background:linear-gradient(90deg,#70462d 0,#835234 3px,#975f3c 4px,#72472d 6px,#75492f 8px,#865435 10px,#9f633f 11px,#7d4e32 12px,#70462d 13px,#7d4e32 16px,#99603d 18px,#774a2f 19px,#70462d 20px,#784b30 22px,#8d5838 24px,#865435 25px,#73482e 26px,#71472d 27px,#825134 30px,#915b3a 31px,#7d4e32 32px,#71472d 33px,#72472d 34px,#845235 37px,#965e3c 38px,#784b30 39px,#70462d 40px,#774a2f 42px,#865435 44px,#855335 45px,#74492e 46px,#71472d 47px,#784b30 49px,#895636 51px,#72472d 53px,#72472d 54px,#7a4c30 56px,#8c5738 58px,#784b30 59px,#70462d 60px,#855335 65px,#75492e 66px,#71462d 67px,#845234 71px,#72472d 73px,#71472d 74px,#784b30 76px,#855335 78px,#71462d 80px,#75492e 82px,#845234 85px,#75492f 86px,#71462d 87px,#805033 91px,#7d4e32 92px,#72482e 93px,#71472d 94px,#815133 98px,#71462d 100px,#71472d 101px,#835234 105px,#75492f 106px,#70462d 107px,#7d4e32 111px,#7d4e32 112px,#73482e 113px,#70462d 114px,#7e4f32 118px,#71462d 120px,#71462d 121px,#7f4f33 125px,#70462d 127px,#7c4d31 132px,#73482e 133px,#70462d 134px,#7b4d31 138px,#71472d 141px,#7a4c31 145px,#71462d 147px,#794c30 152px,#71472d 154px,#774a2f 158px,#71472d 161px,#764a2f 165px,#71472d 167px,#764a2f 172px,#71472d 174px,#70462c 234px,#865435 574px)"></i>
<i style="background:linear-gradient(90deg,#6d442b 0,#7f4f33 3px,#8f5a39 4px,#6e452c 6px,#6e452c 7px,#825134 10px,#955d3b 11px,#764a2f 12px,#6d442b 13px,#74482e 15px,#845335 17px,#875536 18px,#72472d 19px,#6d442c 20px,#75492f 22px,#875436 24px,#6f452c 26px,#6e452c 27px,#774a2f 29px,#8a5637 31px,#774a2f 32px,#6d442b 33px,#73482e 35px,#865435 38px,#73482e 39px,#6d442c 40px,#74482e 42px,#825134 44px,#7d4e32 45px,#70462c 46px,#6e452c 47px,#75492f 49px,#835234 51px,#6e442c 53px,#6e452c 54px,#764a2f 56px,#855335 58px,#73482e 59px,#6d442b 60px,#7e4f32 64px,#7d4e32 65px,#70462d 66px,#6e442c 67px,#7f4f33 71px,#6e452c 73px,#6e452c 74px,#805033 78px,#73482e 79px,#6d442b 80px,#7c4e31 85px,#70462d 86px,#6d442b 87px,#7c4d31 91px,#6e452c 93px,#6d442c 94px,#7d4e32 98px,#6d442b 100px,#7b4d31 105px,#70462d 106px,#6d442b 107px,#794c30 111px,#6d442b 114px,#7a4c30 118px,#6d442b 120px,#6d442b 121px,#7a4c31 125px,#6c442b 127px,#764a2f 131px,#6d442b 134px,#764a2f 138px,#6d442b 140px,#764a2f 145px,#6d442b 147px,#73482e 152px,#6d442b 154px,#73482e 158px,#6d442b 161px,#72472d 165px,#6d442b 167px,#71462d 172px,#6d442b 174px,#6b432b 234px,#7f4f33 574px)"></i>
<i style="background:linear-gradient(90deg,#6b432b 0,#74492e 2px,#875436 4px,#6b432b 6px,#764a2f 9px,#885536 11px,#71472d 12px,#6b432a 13px,#71472d 15px,#7f4f33 17px,#7d4e32 18px,#6e452c 19px,#6b432b 20px,#73482e 22px,#815133 24px,#6b432b 26px,#6c432b 27px,#74482e 29px,#835234 31px,#72472d 32px,#6b432a 33px,#7d4e32 38px,#6e452c 39px,#6b432b 40px,#7d4e32 44px,#6c432b 46px,#6b432b 47px,#7e4f32 51px,#6b432a 53px,#7c4d31 58px,#6f452c 59px,#6b432a 60px,#794c30 64px,#764a2f 65px,#6c442b 66px,#6b432b 67px,#7a4d31 71px,#6b432a 73px,#6b432b 74px,#7b4d31 78px,#6f452c 79px,#6a422a 80px,#774a2f 84px,#6a422a 87px,#774b30 91px,#6a432a 93px,#6b432a 94px,#784b30 98px,#6a422a 100px,#75492e 105px,#6a422a 107px,#75492e 111px,#6a422a 114px,#75492f 118px,#69422a 120px,#74482e 125px,#69422a 127px,#72472d 131px,#69422a 134px,#72472d 138px,#69422a 140px,#71472d 145px,#69422a 147px,#6f452c 151px,#69422a 154px,#6e452c 158px,#6a422a 160px,#6e452c 165px,#69422a 167px,#674029 234px,#784b30 574px)"></i>
<i style="background:linear-gradient(90deg,#69422a 0,#72472d 2px,#815133 4px,#71472d 5px,#68412a 6px,#7d4e32 11px,#6d442b 12px,#69412a 13px,#7b4d31 17px,#764a2f 18px,#6a422a 19px,#69422a 20px,#7c4e31 24px,#69412a 26px,#6d442b 28px,#7c4d31 31px,#6d442c 32px,#68412a 33px,#774b30 37px,#69412a 40px,#794b30 44px,#69412a 46px,#69422a 47px,#7a4c30 51px,#6d442c 52px,#684129 53px,#75492f 58px,#6b432a 59px,#684129 60px,#75492f 64px,#69412a 66px,#69412a 67px,#764a2f 71px,#684129 73px,#74492e 78px,#684129 80px,#73482e 84px,#684129 87px,#73482e 91px,#674129 93px,#73482e 98px,#674029 100px,#70462d 104px,#674029 107px,#71462d 111px,#674029 113px,#674029 114px,#71472d 118px,#664029 120px,#6e452c 125px,#664029 127px,#6e452c 131px,#664029 134px,#6e452c 138px,#664029 140px,#6c442b 145px,#664029 147px,#6b432b 151px,#664029 154px,#6b432a 158px,#664029 160px,#6a422a 165px,#664029 167px,#633e27 234px,#72472d 574px)"></i>
<i style="background:linear-gradient(90deg,#684129 0,#7c4e31 4px,#6d442b 5px,#664029 6px,#764a2f 10px,#764a2f 11px,#69422a 12px,#674029 13px,#774a2f 17px,#674129 19px,#674029 20px,#784b30 24px,#664029 26px,#75492f 31px,#6a422a 32px,#664029 33px,#74482e 37px,#674129 39px,#674029 40px,#75492e 44px,#664029 46px,#74482e 51px,#6a422a 52px,#664029 53px,#71472d 57px,#664029 60px,#72472d 64px,#664029 66px,#664029 67px,#72472d 71px,#653f28 73px,#6f452c 77px,#653f28 80px,#6f452c 84px,#653f28 87px,#70462c 91px,#653f28 93px,#6e442c 98px,#643f28 100px,#6d442b 104px,#643f28 107px,#6d442b 111px,#643e28 113px,#6c442b 118px,#643e28 120px,#6b432a 124px,#633e28 127px,#6b432a 131px,#633e28 133px,#6a422a 138px,#633e27 140px,#684129 144px,#633e27 147px,#674129 151px,#633e27 153px,#674029 158px,#633e27 160px,#5f3b26 234px,#6d442b 574px)"></i>
<i style="background:linear-gradient(90deg,#664028 0,#76492f 4px,#69412a 5px,#643f28 6px,#73482e 10px,#653f28 13px,#73482e 17px,#653f28 19px,#653f28 20px,#74492e 24px,#69412a 25px,#643f28 26px,#70462c 30px,#6f462c 31px,#664029 32px,#643f28 33px,#70462d 37px,#643f28 39px,#643f28 40px,#71472d 44px,#643e28 46px,#6e452c 51px,#643e28 53px,#6e452c 57px,#643e28 60px,#6e452c 64px,#633e27 66px,#6d442b 71px,#633e27 73px,#6b432b 77px,#633e27 80px,#6c432b 84px,#633e27 87px,#6c432b 91px,#623d27 93px,#69422a 97px,#623d27 100px,#69422a 104px,#623d27 107px,#69422a 111px,#613d27 113px,#684129 118px,#613d27 120px,#674029 124px,#613d27 127px,#674029 131px,#603c26 133px,#664029 138px,#603c26 140px,#653f28 144px,#603c26 147px,#643f28 151px,#603c26 153px,#633e28 158px,#603c26 160px,#5c3925 234px,#684129 574px)"></i>
<i style="background:linear-gradient(90deg,#643e28 0,#70462c 4px,#653f28 5px,#633e27 6px,#6f462c 10px,#633e28 12px,#633e27 13px,#70462d 17px,#623d27 19px,#6f452c 24px,#623d27 26px,#6d442b 30px,#623d27 33px,#6d442b 37px,#623d27 39px,#623d27 40px,#6d442c 44px,#613d27 46px,#6a422a 50px,#613d27 53px,#6b432a 57px,#623d27 60px,#6b432b 64px,#613c26 66px,#69412a 71px,#613c26 73px,#684129 77px,#613c26 80px,#68412a 84px,#603c26 86px,#674129 91px,#603c26 93px,#664029 97px,#603c26 100px,#664029 104px,#603c26 107px,#664029 111px,#5f3b26 113px,#643f28 117px,#5f3b26 120px,#643e28 124px,#5e3b26 127px,#643e28 131px,#5e3b25 133px,#623d27 138px,#5e3b25 140px,#613d27 144px,#5e3b25 147px,#613d27 151px,#5d3a25 153px,#593723 234px,#633e27 574px)"></i>
<i style="background:linear-gradient(90deg,#623d27 0,#6c432b 3px,#613c26 6px,#6c442b 10px,#613c26 12px,#613d27 13px,#6d442b 17px,#603c26 19px,#6a422a 24px,#603c26 26px,#6a422a 30px,#603c26 33px,#6a422a 37px,#5f3c26 39px,#69412a 44px,#5f3c26 46px,#674129 50px,#5f3c26 53px,#684129 57px,#5f3b26 59px,#674129 64px,#5f3b26 66px,#653f28 70px,#5e3b26 73px,#653f28 77px,#5e3b26 80px,#653f28 84px,#5e3b25 86px,#633e28 91px,#5d3a25 93px,#633e27 97px,#5d3a25 100px,#633e27 104px,#5d3a25 106px,#623d27 111px,#5c3a25 113px,#613d27 124px,#5c3925 126px,#613c26 131px,#5b3924 133px,#5f3b26 137px,#5b3924 140px,#5f3b26 144px,#563622 234px,#5f3b26 574px)"></i>
<i style="background:linear-gradient(90deg,#603c26 0,#69422a 3px,#5f3b26 6px,#69422a 10px,#5e3b26 12px,#69422a 17px,#5e3b25 19px,#674029 23px,#5e3b25 26px,#674029 30px,#5e3b25 33px,#674029 37px,#5d3a25 39px,#653f28 44px,#5d3a25 46px,#653f28 50px,#5d3a25 53px,#653f28 57px,#5d3a25 59px,#633e28 64px,#5c3a25 66px,#623e27 70px,#5c3a25 73px,#623e27 77px,#5c3925 79px,#623d27 84px,#5b3924 86px,#603c26 90px,#5b3924 93px,#603c26 97px,#5b3924 100px,#603c26 104px,#5a3924 106px,#5e3b26 117px,#5a3824 120px,#5e3b25 124px,#593824 126px,#5d3a25 131px,#593823 133px,#5c3a25 137px,#533421 234px,#5b3924 574px)"></i>
<i style="background:linear-gradient(90deg,#5e3b25 0,#664029 3px,#5d3a25 6px,#674029 10px,#5c3a25 12px,#653f28 17px,#5c3a25 19px,#643e28 23px,#5c3a25 26px,#643f28 30px,#5c3924 32px,#633e28 37px,#5b3924 39px,#623d27 43px,#5b3924 46px,#623d27 50px,#5b3924 53px,#623d27 57px,#5b3924 59px,#603c26 63px,#5a3824 66px,#603c26 70px,#5a3824 73px,#603c26 77px,#5a3824 79px,#5e3b26 84px,#593824 86px,#5e3b25 97px,#593723 99px,#5d3a25 104px,#583723 106px,#5c3924 124px,#573623 126px,#513220 234px,#573623 574px)"></i>
<i style="background:linear-gradient(90deg,#5c3a25 0,#643e28 3px,#5b3924 6px,#643e28 10px,#5a3824 12px,#613d27 16px,#5a3824 19px,#613d27 23px,#5a3824 26px,#613d27 30px,#5a3824 32px,#603c26 37px,#593824 39px,#5f3c26 43px,#593824 46px,#5f3c26 50px,#593823 52px,#5f3b26 57px,#593723 59px,#5d3a25 70px,#583723 73px,#5d3a25 77px,#583723 79px,#5b3924 97px,#573622 99px,#593824 117px,#553522 119px,#593723 124px,#553522 126px,#4e311f 234px,#533421 574px)"></i>
<i style="background:linear-gradient(90deg,#5a3924 0,#613d27 3px,#593723 5px,#603c26 10px,#583723 12px,#5f3b26 16px,#583723 19px,#5f3b26 23px,#583723 26px,#5f3b26 30px,#583723 32px,#5d3a25 36px,#583723 39px,#5d3a25 43px,#573723 46px,#5d3a25 50px,#573623 52px,#5b3924 57px,#573622 59px,#5b3924 63px,#563622 66px,#5b3924 70px,#563622 72px,#5a3824 77px,#563522 79px,#593723 97px,#553522 99px,#573623 117px,#533421 119px,#4c301e 234px,#503220 574px)"></i>
<i style="background:linear-gradient(90deg,#593723 0,#5f3b26 3px,#573623 5px,#5d3a25 10px,#573622 12px,#5c3a25 16px,#573622 19px,#5c3a25 23px,#563622 25px,#5b3924 30px,#563622 32px,#5b3924 36px,#563622 39px,#5b3924 43px,#553522 45px,#5a3824 50px,#553522 52px,#593723 70px,#543421 72px,#573623 90px,#533421 92px,#4a2e1d 234px,#4d301f 574px)"></i>
<i style="background:linear-gradient(90deg,#573623 0,#5c3924 3px,#553522 5px,#5a3824 9px,#553522 12px,#5a3824 16px,#553522 19px,#5a3824 23px,#543522 25px,#583723 30px,#543521 32px,#583723 36px,#543421 39px,#583723 43px,#533421 45px,#573723 50px,#533421 52px,#573622 56px,#533421 59px,#563622 63px,#533421 65px,#563622 70px,#523321 72px,#553522 83px,#523320 86px,#553522 90px,#513320 92px,#533421 110px,#503220 112px,#523321 117px,#503220 119px,#513320 130px,#482d1d 234px,#4a2e1e 574px)"></i>
<i style="background:linear-gradient(90deg,#553522 0,#593723 3px,#533421 5px,#583723 9px,#533421 12px,#583723 16px,#533421 18px,#573723 23px,#523421 25px,#563622 29px,#523321 32px,#563622 36px,#523321 39px,#563622 43px,#523320 45px,#553522 56px,#513320 59px,#543522 63px,#513220 65px,#533421 70px,#503220 72px,#533421 83px,#503220 85px,#523321 90px,#4f3220 92px,#513220 110px,#4e311f 112px,#462c1c 234px,#482d1d 574px)"></i>
<i style="background:linear-gradient(90deg,#533421 0,#563622 3px,#513320 5px,#563622 9px,#513320 12px,#563622 16px,#513320 18px,#553522 23px,#513220 25px,#543522 29px,#513220 32px,#543521 36px,#503220 38px,#543421 43px,#503220 45px,#533421 56px,#4f3220 59px,#523321 63px,#4f311f 65px,#513220 83px,#4e311f 85px,#4f311f 103px,#452b1b 234px,#452b1c 574px)"></i>
<i style="height:2px;background:linear-gradient(90deg,#503220 0,#533421 2px,#4f311f 5px,#533421 9px,#4f311f 11px,#523321 16px,#4e311f 18px,#513320 29px,#4e311f 32px,#513320 36px,#4e301f 38px,#503220 56px,#4d301f 58px,#4e311f 76px,#4c2f1e 78px,#4e311f 83px,#42291a 234px,#42291a 574px)"></i>
<i style="height:2px;background:linear-gradient(90deg,#4d301f 0,#4f311f 2px,#4c2f1e 5px,#4f311f 9px,#4b2f1e 11px,#4d301f 29px,#4b2f1e 31px,#4c301e 49px,#4a2e1d 51px,#4c2f1e 56px,#3f2719 234px,#3d2618 574px)"></i>
<i style="height:2px;background:linear-gradient(90deg,#4a2e1d 0,#3c2618 234px,#3a2417 574px)"></i>
<i style="height:2px;background:linear-gradient(90deg,#472c1c 0,#3a2417 234px,#362216 574px)"></i>
<i style="height:2px;background:linear-gradient(90deg,#432a1b 0,#372316 234px,#332014 574px)"></i>
<i style="height:2px;background:linear-gradient(90deg,#41281a 0,#352115 234px,#301e13 574px)"></i>
<i style="height:2px;background:linear-gradient(90deg,#3e2719 0,#332014 234px,#2d1c12 574px)"></i>
<i style="height:2px;background:linear-gradient(90deg,#3b2517 0,#311f14 234px,#2b1b11 574px)"></i>
<i style="height:2px;background:linear-gradient(90deg,#382316 0,#2f1e13 234px,#281910 574px)"></i>
<i style="height:3px;background:linear-gradient(90deg,#352115 0,#26180f 574px)"></i>
<i style="height:3px;background:linear-gradient(90deg,#321f14 0,#23160e 574px)"></i>
<i style="height:2px;background:linear-gradient(90deg,#301e13 0,#20140d 574px)"></i>
<i style="background:linear-gradient(90deg,#332014 0,#2f1d13 2px,#321f14 4px,#2f1d13 7px,#311f14 8px,#2e1d12 10px,#2d1c12 35px,#1f130c 574px)"></i>
<i style="background:linear-gradient(90deg,#392317 0,#311e13 1px,#301e13 2px,#372316 3px,#372216 4px,#301e13 5px,#301e13 6px,#362215 7px,#352115 8px,#2f1e13 9px,#2f1e13 10px,#352115 11px,#2f1d13 14px,#332014 15px,#2e1d12 17px,#321f14 19px,#2e1d12 21px,#311f13 23px,#2e1d12 25px,#301e13 27px,#2d1c12 29px,#2c1c12 42px,#1e130c 574px)"></i>
<i style="background:linear-gradient(90deg,#342015 0,#342014 1px,#42291a 2px,#41291a 3px,#332014 4px,#332014 5px,#402819 6px,#3f2719 7px,#321f14 8px,#321f14 9px,#3d2618 10px,#3d2618 11px,#311f14 12px,#311f14 13px,#3b2518 14px,#3b2517 15px,#311e13 16px,#301e13 17px,#392417 18px,#392417 19px,#301e13 20px,#301e13 21px,#382316 22px,#372216 23px,#2f1e13 24px,#2f1e13 25px,#362216 26px,#2f1d13 28px,#342115 30px,#2e1d12 32px,#332014 34px,#2e1d12 36px,#321f14 38px,#2d1c12 40px,#311e13 42px,#2d1c12 44px,#2b1b11 61px,#1d120c 574px)"></i>
<i style="background:linear-gradient(90deg,#392417 0,#523321 1px,#513320 2px,#382316 3px,#382316 4px,#4f3220 5px,#4f311f 6px,#372216 7px,#372216 8px,#4d301e 9px,#4c2f1e 10px,#362216 11px,#362215 12px,#4a2e1d 13px,#492e1d 14px,#352115 15px,#352115 16px,#472d1c 17px,#472c1c 18px,#342115 19px,#342115 20px,#452b1b 21px,#442b1b 22px,#332014 23px,#332014 24px,#432a1b 25px,#42291a 26px,#322014 27px,#321f14 28px,#40281a 29px,#402819 30px,#321f14 31px,#321f14 32px,#3e2719 33px,#3e2618 34px,#311f13 35px,#311e13 36px,#3c2618 37px,#3c2518 38px,#301e13 39px,#301e13 40px,#3a2417 41px,#3a2417 42px,#2f1e13 43px,#2f1e13 44px,#382316 45px,#382316 46px,#2f1d13 47px,#2f1d13 48px,#372216 49px,#362216 50px,#2e1d12 51px,#2e1d12 52px,#352115 53px,#352115 54px,#2e1c12 55px,#342015 57px,#2d1c12 59px,#321f14 61px,#2d1c12 63px,#311f14 65px,#2c1c12 67px,#301e13 69px,#2b1b11 75px,#1d120b 574px)"></i>
<i style="background:linear-gradient(90deg,#684129 0,#674029 1px,#3f2819 2px,#3f2719 3px,#653f28 4px,#653f28 5px,#3e2719 6px,#3e2719 7px,#623d27 8px,#623d27 9px,#3d2618 10px,#3d2618 11px,#603c26 12px,#5f3b26 13px,#3c2618 14px,#3c2618 15px,#5d3a25 16px,#5c3a25 17px,#3b2518 18px,#3b2518 19px,#5a3824 20px,#593824 21px,#3a2417 22px,#3a2417 23px,#573723 24px,#573623 25px,#392417 26px,#392417 27px,#553522 28px,#543521 29px,#382316 30px,#382316 31px,#523321 32px,#513320 33px,#372316 34px,#372216 35px,#4f3220 36px,#4f311f 37px,#362216 38px,#362216 39px,#4d301f 40px,#4c301e 41px,#352115 42px,#352115 43px,#4a2e1e 44px,#4a2e1d 45px,#352115 46px,#342115 47px,#482d1d 48px,#472d1c 49px,#342015 50px,#332014 51px,#462b1c 52px,#452b1b 53px,#332014 54px,#332014 55px,#432a1b 56px,#432a1b 57px,#321f14 58px,#321f14 59px,#41291a 60px,#40281a 61px,#311f14 62px,#311f13 63px,#3f2719 64px,#3e2719 65px,#301e13 66px,#301e13 67px,#3d2618 68px,#3c2618 69px,#301e13 70px,#2f1e13 71px,#3b2517 72px,#3b2517 73px,#2f1d13 74px,#2f1d13 75px,#392417 76px,#392317 77px,#2e1d12 78px,#2e1d12 79px,#382316 80px,#372216 81px,#2e1d12 82px,#2d1c12 83px,#362215 84px,#362115 85px,#2d1c12 86px,#2d1c12 87px,#342115 88px,#342115 89px,#2c1c12 90px,#2c1c12 91px,#332014 92px,#2c1b11 95px,#321f14 96px,#2c1b11 98px,#311e13 100px,#2b1b11 102px,#2f1e13 104px,#2b1b11 106px,#2e1d12 108px,#2a1a11 110px,#2e1d12 112px,#2a1a11 114px,#281910 155px,#1c110b 574px)"></i>
<i style="background:linear-gradient(90deg,#7f5033 0,#472d1c 1px,#472d1c 2px,#7e4f32 3px,#7d4e32 4px,#472c1c 5px,#472c1c 6px,#7c4d31 7px,#7b4d31 8px,#462c1c 9px,#462c1c 10px,#7a4c30 11px,#794c30 12px,#452b1c 13px,#452b1b 14px,#774b2f 15px,#774a2f 16px,#442b1b 17px,#442b1b 18px,#75492f 19px,#74492e 20px,#432a1b 21px,#432a1b 22px,#73482e 23px,#72472d 24px,#432a1b 25px,#422a1a 26px,#70462d 27px,#70462c 28px,#42291a 29px,#42291a 30px,#6e452c 31px,#6d442c 32px,#41291a 33px,#41281a 34px,#6b432b 35px,#6b432b 36px,#402819 37px,#402819 38px,#69422a 39px,#68412a 40px,#3f2719 41px,#3f2719 42px,#674029 43px,#664029 44px,#3e2719 45px,#3e2719 46px,#643f28 47px,#633e28 48px,#3d2618 49px,#3d2618 50px,#623d27 51px,#613d27 52px,#3c2618 53px,#3c2618 54px,#5f3b26 55px,#5e3b26 56px,#3b2518 57px,#3b2518 58px,#5d3a25 59px,#5c3925 60px,#3a2517 61px,#3a2417 62px,#5a3824 63px,#5a3824 64px,#3a2417 65px,#392417 66px,#583723 67px,#573623 68px,#392317 69px,#382316 70px,#553522 71px,#553522 72px,#382316 73px,#372316 74px,#533421 75px,#523321 76px,#372216 77px,#372216 78px,#503220 79px,#503220 80px,#362215 81px,#362215 82px,#4e311f 83px,#4e301f 84px,#352115 85px,#352115 86px,#4c2f1e 87px,#4b2f1e 88px,#342115 89px,#342015 90px,#4a2e1d 91px,#492e1d 92px,#332014 93px,#332014 94px,#472d1c 95px,#472c1c 96px,#332014 97px,#321f14 98px,#452b1c 99px,#452b1b 100px,#321f14 101px,#321f14 102px,#432a1b 103px,#432a1b 104px,#311f14 105px,#311f13 106px,#41291a 107px,#41281a 108px,#301e13 109px,#301e13 110px,#3f2819 111px,#3f2719 112px,#301e13 113px,#2f1e13 114px,#3d2618 115px,#3d2618 116px,#2f1d13 117px,#2f1d13 118px,#3c2518 119px,#3b2518 120px,#2e1d12 121px,#2e1d12 122px,#3a2417 123px,#392417 124px,#2e1d12 125px,#2e1d12 126px,#382316 127px,#372216 128px,#2e1d12 129px,#2e1d12 130px,#362215 131px,#352115 132px,#2e1d12 133px,#2e1c12 134px,#342115 135px,#2d1c12 137px,#332014 139px,#2d1c12 141px,#311f14 143px,#2d1c12 145px,#301e13 147px,#26180f 208px,#1b110b 574px)"></i>
<i style="background:linear-gradient(90deg,#4f311f 0,#4e311f 1px,#945c3b 2px,#945c3b 3px,#4e311f 4px,#4e311f 5px,#935c3a 6px,#925c3a 7px,#4e311f 8px,#4e311f 9px,#925b3a 10px,#915b3a 11px,#4d301f 12px,#4d301f 13px,#905a39 14px,#905a39 15px,#4d301f 16px,#4d301f 17px,#8f5939 18px,#8f5939 19px,#4c301e 20px,#4c301e 21px,#8e5938 22px,#8d5838 23px,#4c2f1e 24px,#4c2f1e 25px,#8c5838 26px,#8c5838 27px,#4b2f1e 28px,#4b2f1e 29px,#8b5737 30px,#8b5737 31px,#4b2f1e 32px,#4b2f1e 33px,#8a5637 34px,#895637 35px,#4a2e1e 36px,#4a2e1e 37px,#885536 38px,#885536 39px,#4a2e1d 40px,#4a2e1d 41px,#875436 42px,#865435 43px,#492e1d 44px,#492e1d 45px,#855335 46px,#855335 47px,#492d1d 48px,#482d1d 49px,#835234 50px,#835234 51px,#482d1d 52px,#482d1d 53px,#825134 54px,#815133 55px,#472d1c 56px,#472c1c 57px,#805033 58px,#805033 59px,#472c1c 60px,#462c1c 61px,#7e4f32 62px,#7e4f32 63px,#462c1c 64px,#462c1c 65px,#7d4e32 66px,#7c4e31 67px,#452b1c 68px,#452b1c 69px,#7b4d31 70px,#7a4c31 71px,#452b1b 72px,#442b1b 73px,#794c30 74px,#784b30 75px,#442a1b 76px,#442a1b 77px,#774a2f 78px,#774a2f 79px,#432a1b 80px,#432a1b 81px,#75492f 82px,#75492e 83px,#422a1a 84px,#42291a 85px,#73482e 86px,#73482e 87px,#42291a 88px,#42291a 89px,#71472d 90px,#71462d 91px,#41291a 92px,#41291a 93px,#6f462c 94px,#6f452c 95px,#40281a 96px,#40281a 97px,#6d442c 98px,#6d442b 99px,#402819 100px,#3f2819 101px,#6b432b 102px,#6b432b 103px,#3f2719 104px,#3f2719 105px,#69422a 106px,#69412a 107px,#3e2719 108px,#3e2719 109px,#674129 110px,#674029 111px,#3d2618 112px,#3d2618 113px,#653f28 114px,#653f28 115px,#3c2618 116px,#3c2618 117px,#633e28 118px,#633e27 119px,#3c2518 120px,#3c2518 121px,#603c26 122px,#603c26 123px,#3c2618 124px,#3d2618 125px,#5d3a25 126px,#5c3a25 127px,#3d2618 128px,#3d2618 129px,#5a3824 130px,#593823 131px,#3e2619 132px,#3e2719 133px,#563622 134px,#563622 135px,#3e2719 136px,#3e2719 137px,#533421 138px,#533421 139px,#3e2719 140px,#3e2719 141px,#503220 142px,#503220 143px,#3f2719 144px,#3f2719 145px,#4e301f 146px,#4d301f 147px,#3f2719 148px,#3f2719 149px,#4b2f1e 150px,#4a2e1d 151px,#3f2719 152px,#3f2719 153px,#482d1d 154px,#472d1c 155px,#3f2719 156px,#462b1c 158px,#3f2719 160px,#432a1b 162px,#3f2719 164px,#2d1c12 248px,#1b110b 574px)"></i>
<i style="background:linear-gradient(90deg,#523321 0,#a16540 1px,#a16540 2px,#523321 3px,#523321 4px,#a16540 5px,#a16440 6px,#523321 7px,#523321 8px,#a06440 9px,#a06440 10px,#523321 11px,#523321 12px,#a06440 13px,#a06440 14px,#523320 15px,#523320 16px,#a06440 17px,#a06440 18px,#513320 19px,#513320 20px,#9f643f 21px,#9f633f 22px,#513320 23px,#513320 24px,#9f633f 25px,#9f633f 26px,#513320 27px,#513320 28px,#9e633f 29px,#9e633f 30px,#513320 31px,#513320 32px,#9e633f 33px,#9e633f 34px,#513220 35px,#513220 36px,#9e623f 37px,#9d623f 38px,#513220 39px,#503220 40px,#9d623f 41px,#9d623e 42px,#503220 43px,#503220 44px,#9d623e 45px,#9d623e 46px,#503220 47px,#503220 48px,#9c623e 49px,#9c623e 50px,#503220 51px,#503220 52px,#9c613e 53px,#9b613e 54px,#503220 55px,#503220 56px,#9b613e 57px,#9b613e 58px,#503220 59px,#4f3220 60px,#9b613e 61px,#9a613d 62px,#4f3220 63px,#4f3120 64px,#9a603d 65px,#9a603d 66px,#4f311f 67px,#4f311f 68px,#99603d 69px,#99603d 70px,#4f311f 71px,#4f311f 72px,#99603d 73px,#995f3d 74px,#4e311f 75px,#4e311f 76px,#985f3d 77px,#985f3d 78px,#4e311f 79px,#4e311f 80px,#985f3c 81px,#985f3c 82px,#4e311f 83px,#4e311f 84px,#975e3c 85px,#975e3c 86px,#4e311f 87px,#4e311f 88px,#975e3c 89px,#965e3c 90px,#4d301f 91px,#4d301f 92px,#965e3c 93px,#965e3c 94px,#4d301f 95px,#4d301f 96px,#955d3b 97px,#955d3b 98px,#4d301f 99px,#4d301f 100px,#955d3b 101px,#945d3b 102px,#4d301e 103px,#4d301e 104px,#945c3b 105px,#945c3b 106px,#4c301e 107px,#4c301e 108px,#935c3b 109px,#935c3b 110px,#4c301e 111px,#4c2f1e 112px,#935c3a 113px,#925b3a 114px,#4c2f1e 115px,#4c2f1e 116px,#925b3a 117px,#925b3a 118px,#4b2f1e 119px,#4b2f1e 120px,#905a39 121px,#8f5a39 122px,#4d301f 123px,#4e311f 124px,#8d5838 125px,#8c5738 126px,#503220 127px,#503220 128px,#895637 129px,#885536 130px,#523321 131px,#533421 132px,#865435 133px,#855335 134px,#543522 135px,#553522 136px,#825234 137px,#825134 138px,#573622 139px,#573723 140px,#7f4f33 141px,#7e4f32 142px,#593823 143px,#593824 144px,#7c4d31 145px,#7b4d31 146px,#5b3924 147px,#5c3924 148px,#784b30 149px,#774b30 150px,#5d3a25 151px,#5e3b25 152px,#75492f 153px,#74492e 154px,#5f3c26 155px,#603c26 156px,#72472d 157px,#71462d 158px,#623d27 159px,#623d27 160px,#6e452c 161px,#6d442c 162px,#643e28 163px,#6b432b 165px,#663f28 167px,#523321 317px,#3f2819 574px)"></i>
<i style="background:linear-gradient(90deg,#a06440 0,#a06440 1px,#4f3220 2px,#4f3220 3px,#a06440 4px,#a06440 5px,#4f311f 6px,#4f311f 7px,#a0643f 8px,#9f643f 9px,#4f311f 10px,#4f311f 11px,#9f643f 12px,#9f633f 13px,#4f311f 14px,#4f311f 15px,#9f633f 16px,#9f633f 17px,#4f311f 18px,#4f311f 19px,#9f633f 20px,#9f633f 21px,#4e311f 22px,#4e311f 23px,#9e633f 24px,#9e633f 25px,#4e311f 26px,#4e311f 27px,#9e633f 28px,#9e633f 29px,#4e311f 30px,#4e311f 31px,#9e633f 32px,#9e633f 33px,#4e311f 34px,#4e311f 35px,#9d623f 36px,#9d623f 37px,#4e311f 38px,#4e311f 39px,#9d623f 40px,#9d623f 41px,#4d301f 42px,#4d301f 43px,#9d623e 44px,#9d623e 45px,#4d301f 46px,#4d301f 47px,#9d623e 48px,#9d623e 49px,#4d301f 50px,#4d301f 51px,#9c623e 52px,#9c623e 53px,#4d301f 54px,#4d301f 55px,#9c623e 56px,#9c613e 57px,#4d301f 58px,#4d301f 59px,#9c613e 60px,#9c613e 61px,#4d301e 62px,#4d301e 63px,#9b613e 64px,#9b613e 65px,#4c301e 66px,#4c301e 67px,#9b613e 68px,#9b613e 69px,#4c301e 70px,#4c301e 71px,#9b613e 72px,#9b613e 73px,#4c301e 74px,#4c301e 75px,#9b613e 76px,#9a613d 77px,#4c2f1e 78px,#4c2f1e 79px,#9a603d 80px,#9a603d 81px,#4c2f1e 82px,#4c2f1e 83px,#9a603d 84px,#9a603d 85px,#4c2f1e 86px,#4b2f1e 87px,#9a603d 88px,#9a603d 89px,#4b2f1e 90px,#4b2f1e 91px,#99603d 92px,#99603d 93px,#4b2f1e 94px,#4b2f1e 95px,#99603d 96px,#99603d 97px,#4b2f1e 98px,#4b2f1e 99px,#995f3d 100px,#995f3d 101px,#4b2f1e 102px,#4b2f1e 103px,#985f3d 104px,#985f3d 105px,#4b2f1e 106px,#4b2f1e 107px,#985f3d 108px,#985f3d 109px,#4a2f1e 110px,#4a2f1e 111px,#985f3c 112px,#985f3c 113px,#4a2e1e 114px,#4a2e1e 115px,#985f3c 116px,#975f3c 117px,#4a2e1e 118px,#4a2e1d 119px,#975f3c 120px,#965e3c 121px,#4b2f1e 122px,#4c301e 123px,#945c3b 124px,#935c3b 125px,#4e311f 126px,#4f311f 127px,#905a39 128px,#905a39 129px,#513320 130px,#523321 131px,#8d5838 132px,#8c5838 133px,#543521 134px,#553522 135px,#8a5637 136px,#895636 137px,#573623 138px,#583723 139px,#865435 140px,#855335 141px,#5a3824 142px,#5b3924 143px,#835234 144px,#825134 145px,#5d3a25 146px,#5d3a25 147px,#805033 148px,#7f4f32 149px,#603c26 150px,#603c26 151px,#7c4e31 152px,#7b4d31 153px,#623d27 154px,#633e27 155px,#794c30 156px,#784b30 157px,#653f28 158px,#664029 159px,#764a2f 160px,#75492f 161px,#684129 162px,#69412a 163px,#72472e 164px,#6b432a 166px,#6f452c 168px,#5a3824 574px)"></i>
<i style="background:linear-gradient(90deg,#8f5a39 0,#452b1b 1px,#452b1b 2px,#8f5939 3px,#8e5939 4px,#442b1b 5px,#442b1b 6px,#8e5838 7px,#8d5838 8px,#442a1b 9px,#442a1b 10px,#8d5838 11px,#8c5838 12px,#432a1b 13px,#432a1b 14px,#8b5737 15px,#8b5737 16px,#432a1b 17px,#422a1a 18px,#8a5637 19px,#8a5637 20px,#42291a 21px,#42291a 22px,#895637 23px,#895636 24px,#41291a 25px,#41291a 26px,#885536 27px,#885536 28px,#41291a 29px,#41281a 30px,#875436 31px,#865436 32px,#40281a 33px,#402819 34px,#855335 35px,#855335 36px,#402819 37px,#3f2819 38px,#845335 39px,#845234 40px,#3f2719 41px,#3f2719 42px,#835234 43px,#835234 44px,#3e2719 45px,#3e2719 46px,#825134 47px,#815133 48px,#3e2719 49px,#3e2619 50px,#805033 51px,#805033 52px,#3d2618 53px,#3d2618 54px,#7f4f33 55px,#7f4f32 56px,#3c2618 57px,#3c2618 58px,#7e4e32 59px,#7d4e32 60px,#3c2518 61px,#3c2518 62px,#7c4e31 63px,#7c4d31 64px,#3b2518 65px,#3b2517 66px,#7b4d31 67px,#7a4c31 68px,#3b2517 69px,#3a2417 70px,#794c30 71px,#794c30 72px,#3a2417 73px,#3a2417 74px,#784b30 75px,#774b30 76px,#392417 77px,#392417 78px,#764a2f 79px,#764a2f 80px,#382316 81px,#382316 82px,#75492e 83px,#74492e 84px,#382316 85px,#382316 86px,#73482e 87px,#73482e 88px,#372216 89px,#372216 90px,#72472d 91px,#71472d 92px,#362216 93px,#362216 94px,#70462d 95px,#70462c 96px,#362215 97px,#362115 98px,#6e452c 99px,#6e452c 100px,#352115 101px,#352115 102px,#6d442b 103px,#6c442b 104px,#342115 105px,#342115 106px,#6b432b 107px,#6b432a 108px,#342015 109px,#332014 110px,#69422a 111px,#69422a 112px,#332014 113px,#332014 114px,#684129 115px,#674129 116px,#321f14 117px,#321f14 118px,#664029 119px,#663f28 120px,#321f14 121px,#321f14 122px,#633e27 123px,#623d27 124px,#332014 125px,#342015 126px,#5f3b26 127px,#5e3b25 128px,#342115 129px,#352115 130px,#5b3924 131px,#5a3924 132px,#362115 133px,#362215 134px,#583723 135px,#573623 136px,#372216 137px,#372216 138px,#543522 139px,#533421 140px,#382316 141px,#382316 142px,#513320 143px,#503220 144px,#382316 145px,#392317 146px,#4e311f 147px,#4d301f 148px,#392417 149px,#392417 150px,#4a2f1e 151px,#4a2e1d 152px,#3a2417 153px,#3a2417 154px,#472d1c 155px,#472c1c 156px,#3b2517 157px,#3b2517 158px,#442b1b 159px,#432a1b 160px,#3b2518 161px,#41291a 163px,#3c2518 165px,#22150e 284px,#180f09 394px,#110b07 574px)"></i>
<i style="background:linear-gradient(90deg,#392417 0,#392417 1px,#764a2f 2px,#75492f 3px,#382316 4px,#382316 5px,#74482e 6px,#73482e 7px,#372216 8px,#372216 9px,#72472d 10px,#71472d 11px,#362216 12px,#362215 13px,#6f462c 14px,#6f452c 15px,#352115 16px,#352115 17px,#6d442b 18px,#6c442b 19px,#342015 20px,#342015 21px,#6b432a 22px,#6a422a 23px,#332014 24px,#332014 25px,#68412a 26px,#684129 27px,#321f14 28px,#311f14 29px,#664029 30px,#653f28 31px,#311e13 32px,#301e13 33px,#643e28 34px,#633e27 35px,#301e13 36px,#2f1e13 37px,#613d27 38px,#613c26 39px,#2e1d12 40px,#2e1d12 41px,#5f3b26 42px,#5e3b25 43px,#2d1c12 44px,#2d1c12 45px,#5c3a25 46px,#5b3924 47px,#2c1c12 48px,#2c1b11 49px,#5a3824 50px,#593823 51px,#2b1b11 52px,#2b1b11 53px,#573623 54px,#563622 55px,#2a1a11 56px,#2a1a11 57px,#553522 58px,#543421 59px,#291a10 60px,#291910 61px,#523321 62px,#513320 63px,#281910 64px,#271910 65px,#4f3220 66px,#4f311f 67px,#27180f 68px,#26180f 69px,#4d301f 70px,#4c301e 71px,#26170f 72px,#25170f 73px,#4a2e1e 74px,#4a2e1d 75px,#24170f 76px,#24170e 77px,#482d1d 78px,#472c1c 79px,#23160e 80px,#23160e 81px,#452b1c 82px,#442b1b 83px,#22150e 84px,#22150e 85px,#432a1a 86px,#42291a 87px,#21150d 88px,#21150d 89px,#40281a 90px,#3f2819 91px,#20140d 92px,#20140d 93px,#3e2619 94px,#3d2618 95px,#1f130c 96px,#1f130c 97px,#3b2518 98px,#3b2517 99px,#1e130c 100px,#1e130c 101px,#392317 102px,#382316 103px,#1d120c 104px,#1d120b 105px,#362216 106px,#362215 107px,#1c120b 108px,#1c110b 109px,#342115 110px,#342015 111px,#1b110b 112px,#1b110b 113px,#321f14 114px,#311f14 115px,#1a100a 116px,#1a100a 117px,#301e13 118px,#2f1d13 119px,#19100a 120px,#19100a 121px,#2d1c12 122px,#2c1c12 123px,#19100a 124px,#19100a 125px,#2a1a11 126px,#2a1a11 127px,#19100a 128px,#19100a 129px,#281910 130px,#27180f 131px,#190f0a 132px,#190f0a 133px,#25170f 134px,#24170e 135px,#180f0a 136px,#180f0a 137px,#23160e 138px,#22150e 139px,#180f0a 140px,#180f0a 141px,#20140d 142px,#20140d 143px,#180f09 144px,#180f09 145px,#1e130c 146px,#170f09 148px,#1c120b 150px,#170e09 152px,#1b110b 154px,#160e09 156px,#0c0705 230px,#040302 574px)"></i>
<i style="background:linear-gradient(90deg,#2f1d13 0,#5c3a25 1px,#5c3924 2px,#2e1d12 3px,#2d1c12 4px,#593824 5px,#593723 6px,#2c1c12 7px,#2c1c12 8px,#563622 9px,#563522 10px,#2b1b11 11px,#2b1b11 12px,#533421 13px,#533421 14px,#2a1a11 15px,#291a10 16px,#503220 17px,#503220 18px,#281910 19px,#281910 20px,#4d301f 21px,#4c301e 22px,#271810 23px,#27180f 24px,#4a2e1e 25px,#492e1d 26px,#26180f 27px,#25170f 28px,#472c1c 29px,#462c1c 30px,#24170e 31px,#24170e 32px,#442b1b 33px,#432a1b 34px,#23160e 35px,#23160e 36px,#41291a 37px,#40281a 38px,#22150d 39px,#21150d 40px,#3e2719 41px,#3d2618 42px,#20140d 43px,#20140d 44px,#3b2518 45px,#3b2517 46px,#1f130c 47px,#1f130c 48px,#382316 49px,#382316 50px,#1e130c 51px,#1e130c 52px,#362215 53px,#352115 54px,#1d120b 55px,#1c120b 56px,#332014 57px,#321f14 58px,#1c110b 59px,#1b110b 60px,#301e13 61px,#301e13 62px,#1a100a 63px,#1a100a 64px,#2e1c12 65px,#2d1c12 66px,#19100a 67px,#19100a 68px,#2b1b11 69px,#2a1b11 70px,#180f0a 71px,#180f0a 72px,#291910 73px,#281910 74px,#170e09 75px,#170e09 76px,#26180f 77px,#26180f 78px,#160e09 79px,#160e09 80px,#24160e 81px,#23160e 82px,#150d08 83px,#150d08 84px,#22150d 85px,#21150d 86px,#140d08 87px,#140c08 88px,#20140d 89px,#1f140c 90px,#130c08 91px,#130c08 92px,#1e130c 93px,#1d120c 94px,#120c07 95px,#120b07 96px,#1c110b 97px,#1c110b 98px,#120b07 99px,#110b07 100px,#1a100a 101px,#1a100a 102px,#110b07 103px,#110a07 104px,#190f0a 105px,#180f0a 106px,#100a06 107px,#100a06 108px,#170e09 109px,#170e09 110px,#0f0a06 111px,#150d08 114px,#0f0906 115px,#140d08 117px,#0e0906 120px,#130c08 121px,#0e0905 123px,#120b07 125px,#0d0805 127px,#070503 212px,#030201 574px)"></i>
<i style="background:linear-gradient(90deg,#452b1b 0,#442b1b 1px,#25170f 2px,#25170f 3px,#42291a 4px,#41291a 5px,#23160e 6px,#23160e 7px,#3e2719 8px,#3e2719 9px,#22150e 10px,#22150d 11px,#3b2518 12px,#3a2517 13px,#21140d 14px,#20140d 15px,#382316 16px,#372316 17px,#1f140c 18px,#1f130c 19px,#352115 20px,#342115 21px,#1e130c 22px,#1e130c 23px,#321f14 24px,#311f14 25px,#1d120b 26px,#1c120b 27px,#2f1d13 28px,#2e1d12 29px,#1b110b 30px,#1b110b 31px,#2c1c12 32px,#2c1b11 33px,#1a100a 34px,#1a100a 35px,#2a1a11 36px,#291a10 37px,#19100a 38px,#190f0a 39px,#271810 40px,#26180f 41px,#180f09 42px,#180f09 43px,#25170f 44px,#24170e 45px,#170e09 46px,#160e09 47px,#22150e 48px,#22150d 49px,#160e09 50px,#150d09 51px,#20140d 52px,#20140d 53px,#150d08 54px,#140d08 55px,#1e130c 56px,#1d120c 57px,#140c08 58px,#140c08 59px,#1c110b 60px,#1c110b 61px,#130c08 62px,#130c07 63px,#1a100a 64px,#1a100a 65px,#120b07 66px,#120b07 67px,#180f0a 68px,#110b07 70px,#170e09 72px,#100a07 74px,#150d08 76px,#100a06 78px,#140c08 80px,#0f0906 82px,#130c07 84px,#0f0906 86px,#120b07 88px,#0d0805 99px,#060302 251px,#020101 574px)"></i>
<i style="background:linear-gradient(90deg,#311f14 0,#1e130c 1px,#1e130c 2px,#2f1d13 3px,#2e1d12 4px,#1d120b 5px,#1c120b 6px,#2c1c12 7px,#2b1b11 8px,#1b110b 9px,#1b110b 10px,#291a10 11px,#291910 12px,#1a100a 13px,#1a100a 14px,#27180f 15px,#26180f 16px,#19100a 17px,#190f0a 18px,#24170e 19px,#24160e 20px,#180f09 21px,#170f09 22px,#22150d 23px,#21150d 24px,#170e09 25px,#160e09 26px,#20140d 27px,#1f130c 28px,#160e09 29px,#150d09 30px,#1d120c 31px,#1d120c 32px,#150d08 33px,#140d08 34px,#1c110b 35px,#1b110b 36px,#140c08 37px,#1a100a 39px,#130c08 41px,#180f0a 43px,#120b07 45px,#160e09 47px,#110b07 49px,#150d08 51px,#110a07 53px,#140c08 55px,#100a06 57px,#0c0805 93px,#050302 262px,#020101 574px)"></i>
<i style="background:linear-gradient(90deg,#19100a 0,#190f0a 1px,#22150e 2px,#22150d 3px,#180f0a 4px,#180f09 5px,#20140d 6px,#1f140d 7px,#170e09 8px,#170e09 9px,#1e130c 10px,#1d120c 11px,#160e09 12px,#160e09 13px,#1c110b 14px,#1b110b 15px,#150d08 16px,#150d08 17px,#1a100a 18px,#1a100a 19px,#140d08 20px,#140c08 21px,#180f0a 22px,#130c08 24px,#170e09 26px,#130c07 28px,#160d09 30px,#120b07 33px,#140d08 34px,#110b07 36px,#130c08 38px,#110a07 40px,#0e0906 61px,#080503 161px,#020101 574px)"></i>
<i style="background:linear-gradient(90deg,#160e09 0,#1a110b 1px,#1a100a 2px,#150d08 3px,#19100a 5px,#140d08 7px,#170f09 9px,#130c08 11px,#160e09 13px,#130c07 15px,#150d08 17px,#120b07 19px,#0f0a06 40px,#070403 184px,#020101 574px)"></i>
<i style="background:linear-gradient(90deg,#160e09 0,#130c08 2px,#0e0906 46px,#070403 180px,#020101 574px)"></i>
<i style="background:linear-gradient(90deg,#130c08 0,#0c0805 73px,#060402 203px,#030201 574px)"></i>
<i style="background:linear-gradient(90deg,#120b07 0,#090604 126px,#040302 292px,#020101 536px,#040201 560px,#090503 574px)"></i>
<i style="background:linear-gradient(90deg,#110b07 0,#060402 205px,#030201 525px,#060402 544px,#0d0805 556px,#1d120b 566px,#342115 574px)"></i>
<i style="background:linear-gradient(90deg,#110b07 0,#050302 236px,#020101 479px,#050302 519px,#0a0604 528px,#120b07 536px,#1c120b 542px,#2d1c12 548px,#40281a 553px,#593824 558px,#be774c 574px)"></i>
<i style="background:linear-gradient(90deg,#100a07 0,#050302 248px,#020101 464px,#060403 499px,#120b07 513px,#1d120c 519px,#2b1b11 524px,#3f2719 529px,#583723 534px,#bc764b 550px,#e6905b 558px,#ff9f65 565px,#ffab6d 574px)"></i>
<i style="background:linear-gradient(90deg,#100a06 0,#050302 240px,#020101 444px,#060402 477px,#0b0704 485px,#140c08 492px,#21150d 498px,#311f14 503px,#432a1a 507px,#5e3a25 512px,#b37047 525px,#d08253 530px,#e8915c 535px,#fe9e65 541px,#ffae6f 554px,#ffb573 574px)"></i>
<i style="background:linear-gradient(90deg,#100a06 0,#050302 236px,#020201 426px,#060402 457px,#0b0705 465px,#130c08 471px,#21150d 477px,#332014 482px,#5d3a25 490px,#af6e46 502px,#cf8152 507px,#e8915c 512px,#fe9f65 518px,#ffaa6c 526px,#ffb171 537px,#ffb774 574px)"></i>
<i style="background:linear-gradient(90deg,#0f0a06 0,#050302 227px,#030201 410px,#060402 438px,#120b07 451px,#1d120c 456px,#2e1d12 461px,#41291a 465px,#593824 469px,#b16e46 481px,#d18353 486px,#eb935e 491px,#fe9f65 496px,#ffab6d 505px,#ffb272 518px,#ffb875 574px)"></i>
<i style="background:linear-gradient(90deg,#0f0906 0,#050302 218px,#030201 395px,#060302 421px,#0a0704 428px,#130c08 434px,#20140d 439px,#301e13 443px,#593723 450px,#af6d45 461px,#d28353 466px,#ed945e 471px,#ffa066 476px,#ffad6e 486px,#ffb372 499px,#ffb976 574px)"></i>
<i style="background:linear-gradient(90deg,#0f0906 0,#050302 209px,#030201 381px,#050302 406px,#0a0704 413px,#130c07 418px,#1e130c 422px,#2f1d13 426px,#402819 429px,#5c3a25 433px,#b06e46 443px,#cf8152 447px,#ec945e 452px,#ffa066 457px,#ffad6e 467px,#ffb472 481px,#ffba76 574px)"></i>
<i style="background:linear-gradient(90deg,#0e0906 0,#050302 200px,#030201 368px,#050302 392px,#090604 398px,#100a06 403px,#1b110b 407px,#2d1c12 411px,#402819 414px,#573723 417px,#ad6c45 426px,#cf8152 430px,#e9925d 434px,#ffa066 439px,#ffae6f 449px,#ffb473 464px,#fb7 574px)"></i>
<i style="background:linear-gradient(90deg,#0e0906 0,#050302 202px,#030201 357px,#050302 380px,#0a0604 386px,#120c07 391px,#20140d 395px,#2f1d13 398px,#553522 403px,#b37047 412px,#cf8152 415px,#ec935e 419px,#ffa066 423px,#ffae6e 432px,#ffb473 448px,#fb7 574px)"></i>
<i style="background:linear-gradient(90deg,#0e0905 0,#050302 194px,#030201 344px,#050302 367px,#090604 373px,#110b07 378px,#1e130c 382px,#2d1c12 385px,#543421 390px,#b67248 399px,#d38454 402px,#f19660 406px,#ffa066 409px,#ffae6f 418px,#ffb473 433px,#ffbc78 574px)"></i>
<i style="background:linear-gradient(90deg,#0d0805 0,#050302 194px,#030201 332px,#050302 355px,#090604 361px,#120b07 366px,#1f130c 370px,#2e1d12 373px,#3c2618 375px,#573623 378px,#d08253 389px,#f0965f 393px,#ffa066 396px,#ffaf6f 405px,#ffb473 420px,#ffbd78 574px)"></i>
<i style="background:linear-gradient(90deg,#0d0805 0,#050302 196px,#030201 321px,#050302 343px,#0a0604 349px,#120b07 354px,#1f140c 358px,#2f1d13 361px,#3d2618 363px,#583723 366px,#b37047 374px,#d28354 377px,#f19760 381px,#fd9e65 383px,#ffa166 384px,#ffaf70 393px,#ffb573 409px,#ffbd79 574px)"></i>
<i style="background:linear-gradient(90deg,#0d0805 0,#050302 193px,#030201 308px,#050302 330px,#090604 336px,#110b07 341px,#1c120b 345px,#301e13 349px,#3e2719 351px,#583723 354px,#be774b 363px,#db8957 366px,#f19760 369px,#fd9e65 371px,#ffa166 372px,#ffaf70 381px,#ffb573 398px,#ffbe79 574px)"></i>
<i style="background:linear-gradient(90deg,#0d0805 0,#050302 202px,#030201 297px,#060402 318px,#0a0704 324px,#130c07 329px,#1f130c 333px,#332014 337px,#5b3924 342px,#d18353 353px,#f19660 357px,#ffa066 360px,#ffa96c 364px,#ffaf6f 369px,#ffb573 387px,#ffbf79 574px)"></i>
<i style="background:linear-gradient(90deg,#0c0805 0,#050302 198px,#030201 283px,#060402 304px,#100a07 315px,#1b110b 319px,#2c1b11 323px,#3f2719 326px,#583723 329px,#d38454 341px,#f19660 345px,#ffa066 348px,#ffa96b 352px,#ffaf70 358px,#ffb573 376px,#ffbf7a 574px)"></i>
<i style="background:linear-gradient(90deg,#0c0805 0,#040302 205px,#040201 270px,#060403 290px,#0b0704 297px,#120b07 302px,#20140d 307px,#321f14 311px,#452b1b 314px,#5e3a25 317px,#bb754b 326px,#d78656 329px,#f29861 333px,#ffa166 336px,#ffaa6c 341px,#ffb070 347px,#ffb573 367px,#fb7 444px,#ffc07a 574px)"></i>
<i style="background:linear-gradient(90deg,#0c0705 0,#040302 213px,#040202 258px,#070403 275px,#0b0704 282px,#130c08 288px,#21140d 293px,#321f14 297px,#432a1b 300px,#623d27 304px,#b87349 313px,#da8857 317px,#f49961 321px,#fe9f65 323px,#ffa167 324px,#ffaa6c 329px,#ffb070 335px,#ffb573 358px,#ffbc78 438px,#ffc07a 574px)"></i>
<i style="background:linear-gradient(90deg,#0c0705 0,#040302 209px,#070403 260px,#0c0705 267px,#140d08 273px,#21150d 278px,#352115 283px,#5b3924 289px,#b57148 299px,#d58555 303px,#ef955f 307px,#ffa066 311px,#ffa96c 316px,#ffaf70 323px,#ffb573 346px,#ffbc78 432px,#ffc07b 574px)"></i>
<i style="background:linear-gradient(90deg,#0b0704 0,#040202 221px,#050302 240px,#0a0604 251px,#170f09 260px,#24160e 264px,#362215 268px,#633e28 275px,#be774c 286px,#db8957 290px,#f79a62 295px,#fe9f65 297px,#ffa167 298px,#ffaa6c 304px,#ffaf70 311px,#ffb573 338px,#ffbd78 429px,#ffc17b 574px)"></i>
<i style="background:linear-gradient(90deg,#0b0704 0,#040302 210px,#050302 228px,#090604 238px,#170f09 247px,#25170f 251px,#332014 254px,#553522 259px,#ad6c45 269px,#d38454 274px,#f39861 280px,#fe9f65 283px,#ffa167 284px,#ffaa6c 290px,#ffaf70 298px,#ffb574 330px,#ffbd78 426px,#ffc17b 574px)"></i>
<i style="background:linear-gradient(90deg,#0b0704 0,#040302 201px,#050302 218px,#090604 227px,#160e09 235px,#25170f 239px,#352115 242px,#5a3824 247px,#b06e46 256px,#d18353 260px,#f0965f 265px,#ffa066 269px,#ffa96b 275px,#ffaf6f 284px,#ffb574 319px,#ffbe79 422px,#ffc27b 574px)"></i>
<i style="background:linear-gradient(90deg,#0b0704 0,#040302 194px,#050302 210px,#090604 218px,#170e09 225px,#22160e 228px,#342015 231px,#5d3a25 236px,#b16e46 244px,#cc8051 247px,#e9915d 251px,#ffa066 256px,#ffa96c 262px,#ffaf6f 270px,#ffb573 304px,#ffbe79 417px,#ffc27c 574px)"></i>
<i style="background:linear-gradient(90deg,#0a0604 0,#040302 186px,#050302 201px,#090604 209px,#180f09 216px,#311f14 221px,#533421 225px,#af6d46 233px,#cd8052 236px,#eb935e 240px,#ff9f65 244px,#ffa96c 250px,#ffaf6f 258px,#ffb573 292px,#ffbe79 412px,#ffc27c 574px)"></i>
<i style="background:linear-gradient(90deg,#0a0604 0,#040302 179px,#050302 193px,#0a0604 201px,#170e09 207px,#24160e 210px,#301e13 212px,#543521 216px,#b67248 224px,#d58555 227px,#f39861 231px,#ffa166 234px,#ffa96c 239px,#ffaf6f 247px,#ffb573 283px,#ffbf79 409px,#ffc37c 574px)"></i>
<i style="background:linear-gradient(90deg,#0a0604 0,#040302 171px,#090604 192px,#0f0906 196px,#180f09 199px,#26170f 202px,#332014 204px,#5a3824 208px,#b47048 215px,#d58555 218px,#f49961 222px,#fe9f65 224px,#ffa267 225px,#ffaa6c 230px,#ffaf70 238px,#ffb674 278px,#ffbf7a 408px,#ffc37c 574px)"></i>
<i style="background:linear-gradient(90deg,#0a0604 0,#040302 165px,#060402 178px,#0b0704 185px,#180f0a 191px,#26180f 194px,#342015 196px,#5c3924 200px,#ab6b44 206px,#cf8152 209px,#f19760 213px,#fd9e65 215px,#ffa166 216px,#ffaa6c 221px,#ffaf70 229px,#ffb674 271px,#ffbf7a 405px,#ffc37c 574px)"></i>
<i style="background:linear-gradient(90deg,#090604 0,#050302 157px,#060402 170px,#0a0604 177px,#180f09 183px,#26180f 186px,#332014 188px,#5b3924 192px,#b87349 199px,#d98856 202px,#f29760 205px,#fd9e65 207px,#ffa167 208px,#ffab6d 214px,#ffb070 222px,#ffb774 268px,#ffc07a 404px,#ffc37c 574px)"></i>
<i style="background:linear-gradient(90deg,#090604 0,#050302 150px,#060402 163px,#0b0704 170px,#1a100a 176px,#311f14 180px,#583723 184px,#b57148 191px,#d78656 194px,#f09660 197px,#ffa066 200px,#ffab6d 206px,#ffb070 214px,#ffb875 265px,#ffc07a 403px,#ffc47d 574px)"></i>
<i style="background:linear-gradient(90deg,#090604 0,#050302 143px,#060403 156px,#0b0705 163px,#1b110b 169px,#332014 173px,#462c1c 175px,#5d3a25 177px,#b06e46 183px,#d38454 186px,#ed945e 189px,#ff9f65 192px,#ffaa6c 198px,#ffb070 206px,#ffb875 257px,#ffc17b 399px,#ffc47d 574px)"></i>
<i style="background:linear-gradient(90deg,#090604 0,#050302 135px,#060403 148px,#0b0704 155px,#180f0a 161px,#26180f 164px,#342115 166px,#472c1c 168px,#5e3b25 170px,#b26f47 176px,#d78655 179px,#f09660 182px,#ffa066 185px,#ffab6d 191px,#ffb070 200px,#ffb976 256px,#ffc17b 398px,#ffc47d 574px)"></i>
<i style="background:linear-gradient(90deg,#090503 0,#050302 128px,#070403 141px,#0c0805 148px,#1b110b 154px,#291a11 157px,#382316 159px,#603c26 163px,#be774c 170px,#d68555 172px,#f09660 175px,#fc9e64 177px,#ffa166 178px,#ffab6d 184px,#ffb070 193px,#ffb976 253px,#ffc17b 397px,#ffc47d 574px)"></i>
<i style="background:linear-gradient(90deg,#080503 0,#050302 121px,#070503 134px,#0e0905 141px,#1e130c 147px,#2d1c12 150px,#3c2518 152px,#653f28 156px,#b26f47 162px,#d48555 165px,#ee955f 168px,#ffa066 171px,#ffab6d 177px,#ffb070 186px,#ffba76 247px,#ffc27b 394px,#ffc47d 574px)"></i>
<i style="background:linear-gradient(90deg,#080503 0,#050302 114px,#070503 126px,#0e0905 133px,#1d120b 139px,#2b1b11 142px,#392417 144px,#5f3b26 148px,#b57148 155px,#d68655 158px,#ee955f 161px,#ff9f65 164px,#ffaa6c 170px,#ffb070 179px,#ffba76 243px,#ffc27b 391px,#ffc57d 574px)"></i>
<i style="background:linear-gradient(90deg,#080503 0,#050302 106px,#080503 119px,#0f0906 126px,#20140d 132px,#301e13 135px,#3e2719 137px,#653f28 141px,#ad6c45 147px,#ce8152 150px,#e8915c 153px,#ff9f65 157px,#ffab6d 164px,#ffb070 174px,#fb7 240px,#ffc27c 389px,#ffc57d 574px)"></i>
<i style="background:linear-gradient(90deg,#080503 0,#060402 98px,#080503 110px,#0f0a06 118px,#1f130c 124px,#2d1c12 127px,#3b2517 129px,#603c26 133px,#b26f47 140px,#d18353 143px,#e9925d 146px,#ff9f65 150px,#ffaa6c 157px,#ffb070 168px,#fb7 237px,#ffc27c 387px,#ffc57d 574px)"></i>
<i style="background:linear-gradient(90deg,#080503 0,#060403 92px,#090604 103px,#120b07 111px,#23160e 117px,#402819 122px,#643f28 126px,#b67148 133px,#d48454 136px,#eb935d 139px,#ff9f65 143px,#ffaa6c 150px,#ffb070 161px,#ffbc77 234px,#ffc37c 385px,#ffc57d 574px)"></i>
<i style="background:linear-gradient(90deg,#080503 0,#080503 85px,#0b0704 96px,#130c08 103px,#25170f 109px,#402819 114px,#6b432a 119px,#b87349 126px,#d58555 129px,#eb935e 132px,#ff9f66 136px,#ffaa6c 143px,#ffb070 155px,#ffbc78 232px,#ffc37c 384px,#ffc57e 574px)"></i>
<i style="background:linear-gradient(90deg,#070503 0,#070403 44px,#0a0604 75px,#0e0906 88px,#180f0a 96px,#27180f 101px,#42291a 106px,#6b432b 111px,#bc764b 119px,#d78656 122px,#ec935e 125px,#ff9f65 129px,#ffa96c 136px,#ffb070 149px,#ffbc78 228px,#ffc37c 381px,#ffc57e 574px)"></i>
<i style="background:linear-gradient(90deg,#070503 0,#070403 33px,#0a0604 55px,#160e09 79px,#22150e 89px,#311f14 94px,#4c301e 99px,#6c442b 103px,#cb7f51 113px,#e7915c 117px,#ff9f65 122px,#ffaa6c 130px,#ffb070 142px,#ffbd78 225px,#ffc37c 378px,#ffc57e 574px)"></i>
<i style="background:linear-gradient(90deg,#070403 0,#070403 30px,#0d0805 48px,#190f0a 62px,#352115 81px,#462c1c 87px,#5f3b26 92px,#7b4d31 96px,#c1794d 104px,#d98756 107px,#f09660 111px,#ffa066 115px,#ffaa6c 123px,#ffb070 137px,#ffbd79 223px,#ffc37c 376px,#ffc67e 574px)"></i>
<i style="background:linear-gradient(90deg,#070403 0,#070403 23px,#0b0704 35px,#160e09 47px,#281910 57px,#5b3924 75px,#764a2f 83px,#945d3b 89px,#e48e5b 101px,#f69a62 105px,#ffa066 108px,#ffaa6c 117px,#ffb070 133px,#ffbe79 221px,#ffc47d 374px,#ffc67e 574px)"></i>
<i style="background:linear-gradient(90deg,#070403 0,#0a0604 28px,#110b07 35px,#20140d 43px,#40281a 53px,#8b5737 70px,#bc764b 83px,#ee955f 95px,#ff9f65 100px,#ffaa6c 110px,#ffb070 126px,#ffbe79 216px,#ffc47d 369px,#ffc67e 574px)"></i>
<i style="background:linear-gradient(90deg,#070403 0,#0a0604 22px,#0f0a06 28px,#1a100a 33px,#2a1b11 38px,#402819 43px,#9d623f 60px,#be774c 67px,#de8a58 77px,#ffa066 92px,#ffab6d 104px,#ffb070 121px,#ffbe79 214px,#ffc47d 367px,#ffc67e 574px)"></i>
<i style="background:linear-gradient(90deg,#070403 0,#0b0704 19px,#110b07 24px,#1b110b 28px,#372216 34px,#a16540 50px,#cc7f51 58px,#ea925d 67px,#f69a62 73px,#ffa066 80px,#ffab6d 97px,#ffb171 116px,#ffbf79 211px,#ffc47d 364px,#ffc67e 574px)"></i>
<i style="background:linear-gradient(90deg,#070403 0,#0d0805 16px,#130c08 20px,#1f130c 24px,#3a2417 29px,#9e623f 41px,#cb7f51 48px,#dd8a58 52px,#eb935d 56px,#f79a62 61px,#ffa066 66px,#ffa86b 82px,#ffb171 113px,#ffbf7a 209px,#ffc47d 361px,#ffc67e 574px)"></i>
<i style="background:linear-gradient(90deg,#080503 0,#100a06 13px,#170f09 17px,#22150e 20px,#321f14 23px,#492e1d 26px,#a46641 35px,#ca7e50 40px,#da8957 43px,#eb935d 47px,#f99b63 52px,#ffa066 56px,#ffa86b 70px,#ffb272 111px,#ffbf7a 206px,#ffc67e 574px)"></i>
<i style="background:linear-gradient(90deg,#090604 0,#130c08 10px,#1d120c 14px,#2a1a11 17px,#3e2719 20px,#4f311f 22px,#b16f47 31px,#d38454 35px,#ed945e 40px,#ff9f66 47px,#ffa76a 57px,#ffac6e 72px,#ffb976 140px,#ffbf7a 201px,#ffc47d 350px,#ffc67e 574px)"></i>
<i style="background:linear-gradient(90deg,#0c0705 0,#1a100a 8px,#25170f 11px,#352115 14px,#432a1b 16px,#5e3b26 19px,#ae6d45 26px,#d48554 30px,#e28d5a 32px,#f19760 35px,#ffa066 40px,#ffa86b 50px,#ffad6e 67px,#ffc07a 198px,#ffc67e 574px)"></i>
<i style="background:linear-gradient(90deg,#120b07 0,#20140d 5px,#3a2417 10px,#643f28 15px,#b37047 22px,#d08253 25px,#ec935e 29px,#ff9f65 34px,#ffa86b 44px,#ffae6f 62px,#ffc07a 193px,#ffc47d 335px,#ffc67e 574px)"></i>
<i style="background:linear-gradient(90deg,#1d120c 0,#311e13 4px,#4e311f 8px,#75492f 12px,#c1784d 19px,#db8957 22px,#f39861 26px,#ffa166 30px,#ffa96c 39px,#ffaf70 59px,#ffc07a 191px,#ffc67e 574px)"></i>
<i style="background:linear-gradient(90deg,#332014 0,#5c3924 5px,#b16e46 13px,#d58555 17px,#ef955f 21px,#ff9f65 25px,#ffaa6c 35px,#ffb070 53px,#ffc07a 184px,#ffc57d 325px,#ffc67e 574px)"></i>
<i style="background:linear-gradient(90deg,#543421 0,#ab6b44 8px,#d08253 12px,#ea935d 16px,#ff9f66 21px,#ffaa6c 31px,#ffb070 50px,#ffc07a 181px,#ffc57d 319px,#ffc67e 574px)"></i>
<i style="background:linear-gradient(90deg,#7f4f33 0,#ad6c45 4px,#d28354 8px,#ec935e 12px,#ff9f66 17px,#ffab6d 28px,#ffb171 47px,#ffc17b 178px,#ffc67e 574px)"></i>
<i style="background:linear-gradient(90deg,#ad6c45 0,#cb7f51 3px,#e18d5a 6px,#f19760 9px,#ffa066 13px,#ffab6d 25px,#ffb271 45px,#ffc17b 175px,#ffc67e 574px)"></i>
<i style="background:linear-gradient(90deg,#d28354 0,#ed945e 4px,#ffa066 9px,#ffab6d 21px,#ffb372 43px,#ffc17b 171px,#ffc77e 574px)"></i>
<i style="background:linear-gradient(90deg,#ec935e 0,#ffa066 5px,#ffa96c 14px,#ffb171 31px,#ffbf79 136px,#ffc47d 255px,#ffc77e 574px)"></i>
<i style="background:linear-gradient(90deg,#fb9d64 0,#ffa166 2px,#ffaa6c 11px,#ffb473 36px,#ffc07a 150px,#ffc57d 265px,#ffc77e 574px)"></i>
<i style="background:linear-gradient(90deg,#ffa368 0,#ffad6e 13px,#ffb674 39px,#ffc17b 160px,#ffc77f 574px)"></i>
<i style="background:linear-gradient(90deg,#ffa76a 0,#ffb170 17px,#ffb775 42px,#ffc27c 168px,#ffc77f 574px)"></i>
<i style="height:2px;background:linear-gradient(90deg,#ffab6d 0,#ffb976 44px,#ffc37c 172px,#ffc77f 574px)"></i>
<i style="height:2px;background:linear-gradient(90deg,#ffaf6f 0,#fb7 45px,#ffc37c 174px,#ffc77f 574px)"></i>
<i style="height:2px;background:linear-gradient(90deg,#ffb271 0,#ffbc78 45px,#ffc47d 174px,#ffc77f 574px)"></i>
<i style="height:3px;background:linear-gradient(90deg,#ffb573 0,#ffbe79 46px,#ffc47d 174px,#ffc77f 574px)"></i>
<i style="background:linear-gradient(90deg,#ffb775 0,#ffbf7a 46px,#ffc57d 174px,#ffc77f 574px)"></i>
</div>
<svg class="ov" width="1498" height="998" viewBox="0 0 1498 998">
<g fill="none" stroke="#e0e0e0" stroke-dasharray="11 9">
<path d="M149.0 223.4 L300.0 222.4 L440.0 221.6 L600.0 221.0 L682.5 220.6 L688.5 200.0 L691.5 170.0 L692.5 140.0 L692.0 100.0 L691.5 68.0" stroke-width="3.1"/>
<path d="M149.0 248.0 L155.0 248.1 L161.0 248.2 L167.0 248.4 L173.0 248.5 L179.0 248.6 L185.0 248.7 L191.0 248.8 L197.0 249.0 L203.0 249.1 L209.0 249.2 L215.0 249.3 L221.0 249.4 L227.0 249.6 L233.0 249.7 L239.0 249.8 L245.0 249.9 L251.0 250.0 L257.0 250.2 L263.0 250.3 L269.0 250.4 L275.0 250.5 L281.0 250.6 L287.0 250.7 L293.0 250.9 L299.0 251.0 L305.0 251.1 L311.0 251.2 L317.0 251.3 L323.0 251.4 L329.0 251.6 L335.0 251.7 L341.0 251.8 L347.0 251.9 L353.0 252.0 L359.0 252.1 L365.0 252.2 L371.0 252.4 L377.0 252.5 L383.0 252.6 L389.0 252.7 L395.0 252.8 L401.0 252.9 L407.0 253.1 L413.0 253.2 L419.0 253.3 L425.0 253.4 L431.0 253.5 L437.0 253.6 L443.0 253.8 L449.0 253.9 L455.0 254.0 L461.0 254.1 L467.0 254.2 L473.0 254.4 L479.0 254.5 L485.0 254.6 L491.0 254.7 L497.0 254.9 L503.0 255.0 L509.0 255.1 L515.0 255.2 L521.0 255.4 L527.0 255.5 L533.0 255.6 L539.0 255.7 L545.0 255.9 L551.0 256.0 L557.0 256.1 L563.0 256.2 L569.0 256.4 L575.0 256.5 L581.0 256.6 L587.0 256.7 L593.0 256.9 L599.0 257.0 L605.0 257.1 L611.0 257.2 L617.0 257.3 L623.0 257.5 L629.0 257.6 L635.0 257.7 L641.0 257.8 L647.0 258.0 L653.0 258.1 L659.0 258.2 L665.0 258.3 L671.0 258.4 L677.0 258.6 L683.0 258.7 L689.0 258.8 L695.0 258.9 L698.6 259.0" stroke-width="3.0"/>
<path d="M151.0 311.3 L157.0 311.2 L163.0 311.2 L169.0 311.1 L175.0 311.0 L181.0 311.0 L187.0 310.9 L193.0 310.8 L199.0 310.8 L205.0 310.7 L211.0 310.7 L217.0 310.6 L223.0 310.5 L229.0 310.5 L235.0 310.4 L241.0 310.3 L247.0 310.3 L253.0 310.2 L259.0 310.1 L265.0 310.1 L271.0 310.0 L277.0 309.9 L283.0 309.9 L289.0 309.8 L295.0 309.8 L301.0 309.7 L307.0 309.6 L313.0 309.6 L319.0 309.5 L325.0 309.4 L331.0 309.4 L337.0 309.3 L343.0 309.3 L349.0 309.2 L355.0 309.1 L361.0 309.1 L367.0 309.0 L373.0 309.0 L379.0 308.9 L385.0 308.8 L391.0 308.8 L397.0 308.7 L403.0 308.6 L409.0 308.6 L415.0 308.5 L421.0 308.4 L427.0 308.4 L433.0 308.3 L439.0 308.2 L445.0 308.1 L451.0 308.1 L457.0 308.0 L463.0 307.9 L469.0 307.8 L475.0 307.7 L481.0 307.6 L487.0 307.5 L493.0 307.4 L499.0 307.3 L505.0 307.2 L511.0 307.1 L517.0 307.0 L523.0 306.9 L529.0 306.8 L535.0 306.7 L541.0 306.6 L547.0 306.5 L553.0 306.4 L559.0 306.2 L565.0 306.1 L571.0 306.0 L577.0 306.0 L583.0 305.9 L589.0 305.8 L595.0 305.7 L601.0 305.6 L607.0 305.5 L613.0 305.4 L619.0 305.3 L625.0 305.3 L631.0 305.2 L637.0 305.1 L643.0 305.0 L649.0 304.9 L655.0 304.9 L661.0 304.8 L667.0 304.7 L673.0 304.6 L679.0 304.6 L685.0 304.5 L691.0 304.4 L697.0 304.3 L703.0 304.3 L708.6 304.2" stroke-width="3.0"/>
<path d="M778.0 237.0 L784.0 235.4 L790.0 233.7 L796.0 232.1 L802.0 230.5 L808.0 228.8 L814.0 227.2 L820.0 225.6 L826.0 223.9 L832.0 222.3 L838.0 220.7 L844.0 219.0 L850.0 217.4 L856.0 215.8 L862.0 214.1 L868.0 212.5 L874.0 210.8 L880.0 209.2 L886.0 207.6 L892.0 205.9 L898.0 204.3 L904.0 202.7 L910.0 201.0 L916.0 199.4 L922.0 197.8 L928.0 196.1 L934.0 194.5 L940.0 192.9 L946.0 191.2 L952.0 189.6 L958.0 188.0 L964.0 186.3 L970.0 184.7 L976.0 183.1 L982.0 181.4 L988.0 179.8 L994.0 178.2 L1000.0 176.5 L1006.0 174.9 L1012.0 173.3 L1018.0 171.6 L1024.0 170.0 L1030.0 168.4 L1036.0 166.7 L1042.0 165.1 L1048.0 163.4 L1054.0 161.8 L1060.0 160.2 L1066.0 158.5 L1072.0 156.9 L1078.0 155.3 L1084.0 153.6 L1090.0 152.0 L1096.0 150.4 L1102.0 148.7 L1108.0 147.1 L1114.0 145.5 L1120.0 143.8 L1126.0 142.2 L1132.0 140.6 L1138.0 138.9 L1144.0 137.3 L1150.0 135.7 L1156.0 134.0 L1162.0 132.4 L1168.0 130.8 L1174.0 129.1 L1180.0 127.5 L1186.0 125.9 L1192.0 124.2 L1198.0 122.6 L1204.0 121.0 L1210.0 119.3 L1216.0 117.7 L1222.0 116.0 L1228.0 114.4 L1234.0 112.8 L1240.0 111.1 L1246.0 109.5 L1252.0 107.9 L1258.0 106.2 L1264.0 104.6 L1270.0 103.0 L1276.0 101.3 L1282.0 99.7 L1288.0 98.1 L1294.0 96.4 L1300.0 94.8 L1306.0 93.2 L1312.0 91.5 L1318.0 89.9 L1324.0 88.3 L1330.0 86.6 L1335.6 85.1" stroke-width="3.2"/>
<path d="M778.0 249.0 L784.0 249.1 L790.0 249.2 L796.0 249.3 L802.0 249.5 L808.0 249.6 L814.0 249.7 L820.0 249.8 L826.0 249.9 L832.0 250.0 L838.0 250.1 L844.0 250.2 L850.0 250.4 L856.0 250.5 L862.0 250.6 L868.0 250.7 L874.0 250.8 L880.0 250.9 L886.0 251.0 L892.0 251.2 L898.0 251.3 L904.0 251.4 L910.0 251.5 L916.0 251.6 L922.0 251.7 L928.0 251.9 L934.0 252.0 L940.0 252.1 L946.0 252.2 L952.0 252.3 L958.0 252.4 L964.0 252.5 L970.0 252.6 L976.0 252.6 L982.0 252.7 L988.0 252.8 L994.0 252.8 L1000.0 252.9 L1006.0 253.0 L1012.0 253.0 L1018.0 253.1 L1024.0 253.1 L1030.0 253.2 L1036.0 253.2 L1042.0 253.3 L1048.0 253.4 L1054.0 253.4 L1060.0 253.5 L1066.0 253.5 L1072.0 253.6 L1078.0 253.7 L1084.0 253.7 L1090.0 253.8 L1096.0 253.9 L1102.0 254.0 L1108.0 254.0 L1114.0 254.1 L1120.0 254.2 L1126.0 254.3 L1132.0 254.4 L1138.0 254.5 L1144.0 254.6 L1150.0 254.7 L1156.0 254.8 L1162.0 254.9 L1168.0 255.0 L1174.0 255.1 L1180.0 255.2 L1186.0 255.3 L1192.0 255.3 L1198.0 255.4 L1204.0 255.5 L1210.0 255.6 L1216.0 255.7 L1222.0 255.8 L1228.0 255.8 L1234.0 255.9 L1240.0 256.0 L1246.0 256.0 L1252.0 256.1 L1258.0 256.2 L1264.0 256.3 L1270.0 256.3 L1276.0 256.4 L1282.0 256.5 L1288.0 256.5 L1294.0 256.6 L1300.0 256.7 L1306.0 256.7 L1312.0 256.8 L1318.0 256.9 L1324.0 256.9 L1330.0 257.0 L1336.0 257.1 L1338.0 257.1" stroke-width="3.2"/>
<path d="M773.0 344.3 L779.0 338.0 L785.0 332.4 L791.0 327.5 L797.0 323.1 L803.0 319.0 L809.0 315.7 L815.0 313.1 L821.0 310.9 L827.0 308.9 L833.0 307.1 L839.0 305.5 L845.0 304.0 L851.0 302.6 L857.0 301.1 L863.0 299.8 L869.0 298.6 L875.0 297.6 L881.0 296.6 L887.0 295.7 L893.0 294.8 L899.0 293.9 L905.0 293.1 L911.0 292.2 L917.0 291.3 L923.0 290.4 L929.0 289.5 L935.0 288.7 L941.0 288.0 L947.0 287.3 L953.0 286.6 L959.0 286.0 L965.0 285.5 L971.0 285.0 L977.0 284.5 L983.0 284.1 L989.0 283.6 L995.0 283.1 L1001.0 282.6 L1007.0 282.2 L1013.0 281.8 L1019.0 281.4 L1025.0 281.0 L1031.0 280.6 L1037.0 280.2 L1043.0 279.9 L1049.0 279.5 L1055.0 279.1 L1061.0 278.8 L1067.0 278.4 L1073.0 278.0 L1079.0 277.6 L1085.0 277.2 L1091.0 276.9 L1097.0 276.6 L1103.0 276.4 L1109.0 276.1 L1115.0 275.9 L1121.0 275.6 L1127.0 275.4 L1133.0 275.2 L1139.0 275.0 L1145.0 274.8 L1151.0 274.6 L1157.0 274.4 L1163.0 274.1 L1169.0 273.9 L1175.0 273.7 L1181.0 273.5 L1187.0 273.3 L1193.0 273.1 L1199.0 273.0 L1205.0 272.8 L1211.0 272.7 L1217.0 272.6 L1223.0 272.5 L1229.0 272.3 L1235.0 272.2 L1241.0 272.2 L1247.0 272.1 L1253.0 272.0 L1259.0 271.9 L1265.0 271.8 L1271.0 271.7 L1277.0 271.7 L1283.0 271.6 L1289.0 271.5 L1295.0 271.4 L1301.0 271.4 L1307.0 271.3 L1313.0 271.2 L1319.0 271.2 L1325.0 271.1 L1331.0 271.0 L1337.0 270.9 L1338.0 270.9" stroke-width="3.2"/>
<path d="M164.0 713.0 L170.0 712.7 L176.0 712.4 L182.0 712.1 L188.0 711.9 L194.0 711.6 L200.0 711.3 L206.0 711.0 L212.0 710.7 L218.0 710.4 L224.0 710.1 L230.0 709.8 L236.0 709.6 L242.0 709.3 L248.0 709.0 L254.0 708.7 L260.0 708.4 L266.0 708.1 L272.0 707.8 L278.0 707.5 L284.0 707.3 L290.0 707.0 L296.0 706.7 L302.0 706.4 L308.0 706.1 L314.0 705.8 L320.0 705.6 L326.0 705.3 L332.0 705.0 L338.0 704.7 L344.0 704.4 L350.0 704.1 L356.0 703.9 L362.0 703.6 L368.0 703.3 L374.0 703.0 L380.0 702.7 L386.0 702.4 L392.0 702.2 L398.0 701.9 L404.0 701.6 L410.0 701.3 L416.0 701.0 L422.0 700.7 L428.0 700.4 L434.0 700.1 L440.0 699.8 L446.0 699.5 L452.0 699.2 L458.0 698.9 L464.0 698.6 L470.0 698.3 L476.0 698.0 L482.0 697.7 L488.0 697.4 L494.0 697.1 L500.0 696.8 L506.0 696.5 L512.0 696.2 L518.0 695.9 L524.0 695.6 L530.0 695.3 L536.0 695.0 L542.0 694.6 L548.0 694.3 L554.0 694.0 L560.0 693.7 L566.0 693.4 L572.0 693.1 L578.0 692.8 L584.0 692.5 L590.0 692.2 L596.0 691.9 L602.0 691.5 L608.0 691.2 L614.0 690.9 L620.0 690.6 L626.0 690.3 L632.0 690.0 L638.0 689.7 L644.0 689.4 L650.0 689.0 L656.0 688.7 L662.0 688.4 L668.0 688.1 L674.0 687.8 L680.0 687.5 L686.0 687.2 L692.0 686.8 L698.0 686.5 L704.0 686.2 L710.0 685.9 L715.6 685.6" stroke-width="3.0"/>
<path d="M164.0 729.5 L170.0 729.5 L176.0 729.5 L182.0 729.5 L188.0 729.5 L194.0 729.5 L200.0 729.5 L206.0 729.5 L212.0 729.5 L218.0 729.5 L224.0 729.5 L230.0 729.5 L236.0 729.5 L242.0 729.5 L248.0 729.5 L254.0 729.5 L260.0 729.5 L266.0 729.5 L272.0 729.5 L278.0 729.5 L284.0 729.5 L290.0 729.5 L296.0 729.5 L302.0 729.5 L308.0 729.5 L314.0 729.5 L320.0 729.5 L326.0 729.5 L332.0 729.5 L338.0 729.5 L344.0 729.5 L350.0 729.5 L356.0 729.5 L362.0 729.5 L368.0 729.5 L374.0 729.5 L380.0 729.5 L386.0 729.5 L392.0 729.5 L398.0 729.5 L404.0 729.5 L410.0 729.5 L416.0 729.5 L422.0 729.5 L428.0 729.5 L434.0 729.5 L440.0 729.5 L446.0 729.5 L452.0 729.5 L458.0 729.5 L464.0 729.5 L470.0 729.5 L476.0 729.5 L482.0 729.5 L488.0 729.5 L494.0 729.5 L500.0 729.5 L506.0 729.5 L512.0 729.5 L518.0 729.5 L524.0 729.5 L530.0 729.5 L536.0 729.5 L542.0 729.5 L548.0 729.5 L554.0 729.5 L560.0 729.5 L566.0 729.5 L572.0 729.5 L578.0 729.5 L584.0 729.5 L590.0 729.5 L596.0 729.5 L602.0 729.5 L608.0 729.5 L614.0 729.5 L620.0 729.5 L626.0 729.5 L632.0 729.5 L638.0 729.5 L644.0 729.5 L650.0 729.5 L656.0 729.5 L662.0 729.5 L668.0 729.5 L674.0 729.5 L680.0 729.5 L686.0 729.5 L692.0 729.5 L698.0 729.5 L704.0 729.5 L710.0 729.5 L715.6 729.5" stroke-width="3.0"/>
<path d="M157.0 849.0 L163.0 844.8 L169.0 841.0 L175.0 838.1 L181.0 836.4 L187.0 835.5 L193.0 834.9 L199.0 834.1 L205.0 833.2 L211.0 832.3 L217.0 831.2 L223.0 829.9 L229.0 828.3 L235.0 826.7 L241.0 825.3 L247.0 824.0 L253.0 822.8 L259.0 821.7 L265.0 820.7 L271.0 819.7 L277.0 818.8 L283.0 817.8 L289.0 816.9 L295.0 816.0 L301.0 815.2 L307.0 814.3 L313.0 813.6 L319.0 812.8 L325.0 812.0 L331.0 811.3 L337.0 810.6 L343.0 809.8 L349.0 809.1 L355.0 808.5 L361.0 807.8 L367.0 807.1 L373.0 806.5 L379.0 805.8 L385.0 805.2 L391.0 804.5 L397.0 803.9 L403.0 803.2 L409.0 802.6 L415.0 802.0 L421.0 801.4 L427.0 800.9 L433.0 800.3 L439.0 799.8 L445.0 799.2 L451.0 798.6 L457.0 798.0 L463.0 797.4 L469.0 796.7 L475.0 796.1 L481.0 795.5 L487.0 794.9 L493.0 794.4 L499.0 793.8 L505.0 793.2 L511.0 792.6 L517.0 792.1 L523.0 791.6 L529.0 791.1 L535.0 790.7 L541.0 790.2 L547.0 789.7 L553.0 789.2 L559.0 788.7 L565.0 788.1 L571.0 787.6 L577.0 787.1 L583.0 786.5 L589.0 786.0 L595.0 785.4 L601.0 784.9 L607.0 784.3 L613.0 783.8 L619.0 783.3 L625.0 782.8 L631.0 782.2 L637.0 781.7 L643.0 781.2 L649.0 780.7 L655.0 780.2 L661.0 779.7 L667.0 779.2 L673.0 778.7 L679.0 778.1 L685.0 777.6 L691.0 777.1 L697.0 776.6 L703.0 776.1 L706.6 775.8" stroke-width="3.0"/>
<path d="M779.0 706.7 L785.0 706.6 L791.0 706.5 L797.0 706.4 L803.0 706.3 L809.0 706.2 L815.0 706.1 L821.0 706.0 L827.0 705.9 L833.0 705.8 L839.0 705.7 L845.0 705.6 L851.0 705.5 L857.0 705.5 L863.0 705.4 L869.0 705.3 L875.0 705.2 L881.0 705.1 L887.0 705.0 L893.0 704.9 L899.0 704.8 L905.0 704.7 L911.0 704.6 L917.0 704.6 L923.0 704.5 L929.0 704.4 L935.0 704.3 L941.0 704.2 L947.0 704.1 L953.0 704.1 L959.0 704.0 L965.0 703.9 L971.0 703.8 L977.0 703.7 L983.0 703.7 L989.0 703.6 L995.0 703.5 L1001.0 703.4 L1007.0 703.3 L1013.0 703.3 L1019.0 703.2 L1025.0 703.1 L1031.0 703.0 L1037.0 703.0 L1043.0 702.9 L1049.0 702.8 L1055.0 702.8 L1061.0 702.7 L1067.0 702.6 L1073.0 702.5 L1079.0 702.5 L1085.0 702.4 L1091.0 702.3 L1097.0 702.3 L1103.0 702.2 L1109.0 702.1 L1115.0 702.1 L1121.0 702.0 L1127.0 701.9 L1133.0 701.9 L1139.0 701.8 L1145.0 701.8 L1151.0 701.7 L1157.0 701.6 L1163.0 701.6 L1169.0 701.5 L1175.0 701.4 L1181.0 701.4 L1187.0 701.3 L1193.0 701.3 L1199.0 701.2 L1205.0 701.2 L1211.0 701.1 L1217.0 701.0 L1223.0 701.0 L1229.0 700.9 L1235.0 700.9 L1241.0 700.8 L1247.0 700.8 L1253.0 700.7 L1259.0 700.7 L1265.0 700.6 L1271.0 700.6 L1277.0 700.5 L1283.0 700.5 L1289.0 700.4 L1295.0 700.4 L1301.0 700.3 L1307.0 700.3 L1313.0 700.2 L1319.0 700.2 L1325.0 700.1 L1331.0 700.1 L1337.0 700.0 L1338.5 700.0" stroke-width="3.2"/>
<path d="M771.0 731.0 L777.0 731.0 L783.0 731.0 L789.0 731.0 L795.0 731.0 L801.0 731.0 L807.0 731.0 L813.0 731.0 L819.0 731.0 L825.0 731.0 L831.0 731.0 L837.0 731.0 L843.0 731.0 L849.0 731.0 L855.0 731.0 L861.0 731.0 L867.0 731.0 L873.0 731.0 L879.0 731.0 L885.0 731.0 L891.0 731.0 L897.0 731.0 L903.0 731.0 L909.0 731.0 L915.0 731.0 L921.0 731.0 L927.0 731.0 L933.0 731.0 L939.0 731.0 L945.0 731.0 L951.0 731.0 L957.0 731.0 L963.0 731.0 L969.0 731.0 L975.0 731.0 L981.0 731.0 L987.0 731.0 L993.0 731.0 L999.0 731.0 L1005.0 731.0 L1011.0 731.0 L1017.0 731.0 L1023.0 731.0 L1029.0 731.0 L1035.0 731.0 L1041.0 731.0 L1047.0 731.0 L1053.0 731.0 L1059.0 731.0 L1065.0 731.1 L1071.0 731.1 L1077.0 731.1 L1083.0 731.1 L1089.0 731.1 L1095.0 731.1 L1101.0 731.1 L1107.0 731.1 L1113.0 731.1 L1119.0 731.1 L1125.0 731.1 L1131.0 731.1 L1137.0 731.1 L1143.0 731.1 L1149.0 731.1 L1155.0 731.1 L1161.0 731.1 L1167.0 731.1 L1173.0 731.1 L1179.0 731.1 L1185.0 731.1 L1191.0 731.1 L1197.0 731.1 L1203.0 731.1 L1209.0 731.1 L1215.0 731.1 L1221.0 731.1 L1227.0 731.1 L1233.0 731.1 L1239.0 731.1 L1245.0 731.1 L1251.0 731.1 L1257.0 731.1 L1263.0 731.1 L1269.0 731.1 L1275.0 731.1 L1281.0 731.1 L1287.0 731.1 L1293.0 731.1 L1299.0 731.1 L1305.0 731.1 L1311.0 731.1 L1317.0 731.1 L1323.0 731.1 L1329.0 731.1 L1335.0 731.1 L1341.0 731.1 L1347.0 731.1 L1350.0 731.1" stroke-width="3.2"/>
<path d="M768.0 864.8 L774.0 861.0 L780.0 857.6 L786.0 854.3 L792.0 851.2 L798.0 848.4 L804.0 846.2 L810.0 844.4 L816.0 843.0 L822.0 842.0 L828.0 841.3 L834.0 841.1 L840.0 840.9 L846.0 840.7 L852.0 840.4 L858.0 840.1 L864.0 839.6 L870.0 839.2 L876.0 838.7 L882.0 838.2 L888.0 837.6 L894.0 837.0 L900.0 836.3 L906.0 835.6 L912.0 834.9 L918.0 834.2 L924.0 833.4 L930.0 832.7 L936.0 832.0 L942.0 831.3 L948.0 830.5 L954.0 829.8 L960.0 829.1 L966.0 828.4 L972.0 827.8 L978.0 827.1 L984.0 826.5 L990.0 825.9 L996.0 825.2 L1002.0 824.6 L1008.0 824.1 L1014.0 823.5 L1020.0 823.0 L1026.0 822.4 L1032.0 821.9 L1038.0 821.4 L1044.0 820.9 L1050.0 820.5 L1056.0 820.1 L1062.0 819.8 L1068.0 819.4 L1074.0 819.1 L1080.0 818.7 L1086.0 818.3 L1092.0 818.0 L1098.0 817.7 L1104.0 817.4 L1110.0 817.1 L1116.0 816.8 L1122.0 816.5 L1128.0 816.2 L1134.0 815.9 L1140.0 815.5 L1146.0 815.2 L1152.0 814.9 L1158.0 814.5 L1164.0 814.2 L1170.0 813.8 L1176.0 813.5 L1182.0 813.1 L1188.0 812.8 L1194.0 812.4 L1200.0 812.1 L1206.0 811.7 L1212.0 811.4 L1218.0 811.0 L1224.0 810.7 L1230.0 810.3 L1236.0 810.0 L1242.0 809.7 L1248.0 809.3 L1254.0 809.0 L1260.0 808.6 L1266.0 808.2 L1272.0 807.8 L1278.0 807.4 L1284.0 807.1 L1290.0 806.7 L1296.0 806.4 L1302.0 806.1 L1308.0 805.8 L1314.0 805.5 L1320.0 805.2 L1326.0 804.9 L1332.0 804.6 L1338.0 804.3 L1344.0 804.0 L1350.0 803.7 L1356.0 803.4 L1358.6 803.3" stroke-width="3.2"/>
</g>
<defs><linearGradient id="cb" x1="0" y1="1" x2="0" y2="0"><stop offset="0" stop-color="#000"/><stop offset=".8" stop-color="#ff9f65"/><stop offset="1" stop-color="#ffc77f"/></linearGradient></defs>
<rect x="1385.5" y="200.5" width="47" height="466.5" fill="none" stroke="#e9e9e9" stroke-width="1.5"/>
<rect x="1387.5" y="202.5" width="43.5" height="463" fill="url(#cb)" stroke="#3a2a20" stroke-width="1"/>
<path d="M1425.5 619.2H1431M1425.5 572.9H1431M1425.5 526.6H1431M1425.5 480.3H1431M1425.5 434.0H1431M1425.5 387.7H1431M1425.5 341.4H1431M1425.5 295.1H1431M1425.5 248.8H1431" stroke="#3a2a20" stroke-width="1" fill="none"/>
<g font-family="'Liberation Serif', 'DejaVu Serif', serif" fill="#000">
<text x="420.5" y="26.7" font-size="35.2" text-anchor="middle">TM/TE</text>
<text x="1075.0" y="26.7" font-size="35.2" text-anchor="middle">TM/TE</text>
<text transform="translate(28.5 219.4) rotate(-90)" font-size="34.8" text-anchor="middle">Frequency (THz)</text>
<text transform="translate(28.5 681.8) rotate(-90)" font-size="34.8" text-anchor="middle">Frequency (THz)</text>
<text x="102.6" y="67.6" font-size="35" text-anchor="middle">100</text>
<text x="104.6" y="235.8" font-size="35" text-anchor="middle">50</text>
<text x="110.0" y="392.2" font-size="35" text-anchor="middle">0</text>
<text x="102.6" y="541.6" font-size="35" text-anchor="middle">100</text>
<text x="104.6" y="711.6" font-size="35" text-anchor="middle">50</text>
<text x="110.0" y="867.6" font-size="35" text-anchor="middle">0</text>
<text x="164.0" y="438.4" font-size="35" text-anchor="middle">0</text>
<text x="267.5" y="438.4" font-size="35" text-anchor="middle">20</text>
<text x="397.5" y="438.4" font-size="35" text-anchor="middle">40</text>
<text x="527.7" y="438.4" font-size="35" text-anchor="middle">60</text>
<text x="658.0" y="438.4" font-size="35" text-anchor="middle">80</text>
<text x="472.2" y="483.4" font-size="34.9" text-anchor="middle">Incidence (degree)</text>
<text x="808.5" y="441.8" font-size="35" text-anchor="middle">0.1</text>
<text x="939.2" y="441.8" font-size="35" text-anchor="middle">0.25</text>
<text x="1069.0" y="441.8" font-size="35" text-anchor="middle">0.5</text>
<text x="1190.7" y="441.8" font-size="35" text-anchor="middle">0.75</text>
<text x="1317.3" y="441.8" font-size="35" text-anchor="middle">1</text>
<text x="169.7" y="922.6" font-size="35" text-anchor="middle">0.1</text>
<text x="300.7" y="922.6" font-size="35" text-anchor="middle">0.25</text>
<text x="430.8" y="922.6" font-size="35" text-anchor="middle">0.5</text>
<text x="560.8" y="922.6" font-size="35" text-anchor="middle">0.75</text>
<text x="696.0" y="922.6" font-size="35" text-anchor="middle">1</text>
<text x="807.2" y="923.5" font-size="35" text-anchor="middle">0.1</text>
<text x="938.2" y="923.5" font-size="35" text-anchor="middle">0.25</text>
<text x="1068.1" y="923.5" font-size="35" text-anchor="middle">0.5</text>
<text x="1189.1" y="923.5" font-size="35" text-anchor="middle">0.75</text>
<text x="1315.7" y="923.5" font-size="35" text-anchor="middle">1</text>
<text x="1461.8" y="225.8" font-size="35" text-anchor="middle">1</text>
<text x="1452.6" y="444.2" font-size="35" text-anchor="start">0.5</text>
<text x="1462.0" y="668.8" font-size="35" text-anchor="middle">0</text>
<text font-size="35"><tspan x="1007.2" y="492.8" font-style="italic">μ</tspan><tspan x="1027.0" y="499.2" font-size="26" font-style="italic">c</tspan><tspan x="1041.0" y="492.8"> (</tspan><tspan x="1064.1" y="492.8" font-style="italic" textLength="37.5" lengthAdjust="spacingAndGlyphs">eV</tspan><tspan x="1102.7" y="492.8">)</tspan></text>
<text font-size="35"><tspan x="392.2" y="987.4" font-style="italic">μ</tspan><tspan x="412.0" y="993.8" font-size="26" font-style="italic">c</tspan><tspan x="425.9" y="987.4"> (</tspan><tspan x="449.1" y="987.4" font-style="italic" textLength="37.5" lengthAdjust="spacingAndGlyphs">eV</tspan><tspan x="487.7" y="987.4">)</tspan></text>
<text font-size="35"><tspan x="1006.0" y="987.0" font-style="italic">μ</tspan><tspan x="1025.8" y="993.4" font-size="26" font-style="italic">c</tspan><tspan x="1039.8" y="987.0"> (</tspan><tspan x="1062.9" y="987.0" font-style="italic" textLength="37.5" lengthAdjust="spacingAndGlyphs">eV</tspan><tspan x="1101.5" y="987.0">)</tspan></text>
<text font-size="34"><tspan x="394.0" y="368.8" font-size="35.5">(a) </tspan><tspan x="456.5" y="367.3" font-style="italic">d</tspan><tspan x="476.7" y="374.7" font-size="22.5" font-style="italic" textLength="48.5" lengthAdjust="spacingAndGlyphs">hBN</tspan><tspan x="539.5" y="367.9" textLength="24.5" lengthAdjust="spacingAndGlyphs">=</tspan><tspan x="575.3" y="367.3" font-size="32.5" textLength="36.8" lengthAdjust="spacingAndGlyphs">10</tspan><tspan x="614.4" y="367.3" font-style="italic" textLength="46.5" lengthAdjust="spacingAndGlyphs">nm</tspan></text>
<text font-size="34"><tspan x="1007.2" y="369.4" font-size="35.5">(b) </tspan><tspan x="1078.6" y="363.2" font-style="italic">d</tspan><tspan x="1098.8" y="370.6" font-size="22.5" font-style="italic" textLength="48.5" lengthAdjust="spacingAndGlyphs">hBN</tspan><tspan x="1161.6" y="363.8" textLength="24.5" lengthAdjust="spacingAndGlyphs">=</tspan><tspan x="1197.4" y="363.2" font-size="32.5" textLength="37.6" lengthAdjust="spacingAndGlyphs">10</tspan><tspan x="1235.0" y="363.2" font-style="italic" textLength="49.5" lengthAdjust="spacingAndGlyphs">nm</tspan></text>
<text font-size="34"><tspan x="394.0" y="840.6" font-size="35.5">(c) </tspan><tspan x="456.7" y="841.2" font-style="italic">d</tspan><tspan x="476.9" y="848.6" font-size="22.5" font-style="italic" textLength="48.5" lengthAdjust="spacingAndGlyphs">hBN</tspan><tspan x="539.7" y="841.8" textLength="24.5" lengthAdjust="spacingAndGlyphs">=</tspan><tspan x="575.5" y="841.2" font-size="32.5" textLength="36.8" lengthAdjust="spacingAndGlyphs">50</tspan><tspan x="614.6" y="841.2" font-style="italic" textLength="46.5" lengthAdjust="spacingAndGlyphs">nm</tspan></text>
<text font-size="34"><tspan x="1007.5" y="851.0" font-size="35.5">(d) </tspan><tspan x="1078.6" y="848.3" font-style="italic">d</tspan><tspan x="1098.8" y="855.7" font-size="22.5" font-style="italic" textLength="48.5" lengthAdjust="spacingAndGlyphs">hBN</tspan><tspan x="1161.6" y="848.9" textLength="24.5" lengthAdjust="spacingAndGlyphs">=</tspan><tspan x="1197.4" y="848.3" font-size="32.5" textLength="59.5" lengthAdjust="spacingAndGlyphs">100</tspan><tspan x="1256.4" y="848.3" font-style="italic" textLength="47.5" lengthAdjust="spacingAndGlyphs">nm</tspan></text>
</g>
</svg>
</body></html>
